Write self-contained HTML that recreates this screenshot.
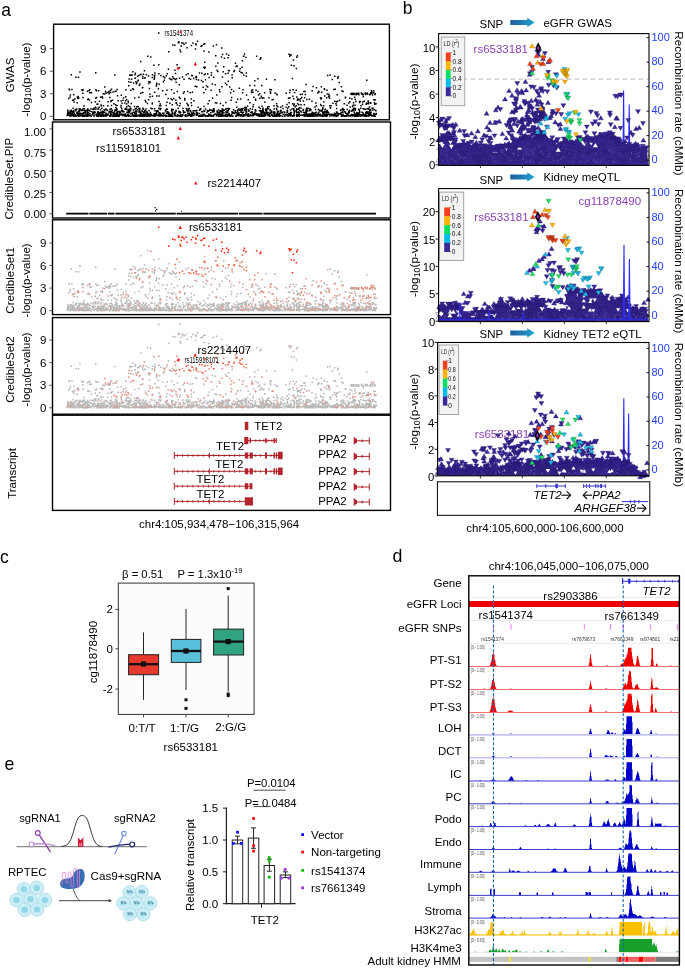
<!DOCTYPE html><html><head><meta charset="utf-8"><style>html,body{margin:0;padding:0;background:#fff;}svg{display:block;will-change:transform;}text{font-family:"Liberation Sans",sans-serif;}</style></head><body>
<svg width="685" height="969" viewBox="0 0 685 969">
<rect width="685" height="969" fill="#fff"/>
<text x="1.2" y="16.0" font-size="17.5" text-anchor="start" fill="#000" >a</text>
<path d="M166.4 115.3h1.5v1.5h-1.5zM232.1 115.2h1.5v1.5h-1.5zM223.3 115.2h1.5v1.5h-1.5zM200.4 114.3h1.5v1.5h-1.5zM322.3 114.8h1.5v1.5h-1.5zM135.2 107.8h1.5v1.5h-1.5zM244.9 107.6h1.5v1.5h-1.5zM80.4 114.9h1.5v1.5h-1.5zM102.5 114.8h1.5v1.5h-1.5zM319.0 113.8h1.5v1.5h-1.5zM181.4 115.1h1.5v1.5h-1.5zM84.5 114.6h1.5v1.5h-1.5zM276.9 113.1h1.5v1.5h-1.5zM247.5 113.2h1.5v1.5h-1.5zM312.3 113.6h1.5v1.5h-1.5zM244.1 108.4h1.5v1.5h-1.5zM292.1 114.9h1.5v1.5h-1.5zM195.6 114.4h1.5v1.5h-1.5zM217.6 115.6h1.5v1.5h-1.5zM273.1 110.9h1.5v1.5h-1.5zM337.4 115.0h1.5v1.5h-1.5zM245.8 108.7h1.5v1.5h-1.5zM358.9 110.2h1.5v1.5h-1.5zM84.8 110.3h1.5v1.5h-1.5zM373.9 109.0h1.5v1.5h-1.5zM154.2 110.1h1.5v1.5h-1.5zM73.0 114.3h1.5v1.5h-1.5zM102.3 115.6h1.5v1.5h-1.5zM142.8 108.4h1.5v1.5h-1.5zM91.0 111.1h1.5v1.5h-1.5zM339.8 112.9h1.5v1.5h-1.5zM333.8 114.4h1.5v1.5h-1.5zM340.1 113.1h1.5v1.5h-1.5zM112.8 115.5h1.5v1.5h-1.5zM216.3 113.5h1.5v1.5h-1.5zM67.3 112.6h1.5v1.5h-1.5zM241.6 111.8h1.5v1.5h-1.5zM280.1 110.5h1.5v1.5h-1.5zM275.6 113.5h1.5v1.5h-1.5zM337.1 112.4h1.5v1.5h-1.5zM189.7 114.1h1.5v1.5h-1.5zM262.6 114.7h1.5v1.5h-1.5zM116.3 115.2h1.5v1.5h-1.5zM82.3 115.2h1.5v1.5h-1.5zM178.7 115.1h1.5v1.5h-1.5zM337.0 114.4h1.5v1.5h-1.5zM144.2 115.1h1.5v1.5h-1.5zM329.2 113.6h1.5v1.5h-1.5zM210.5 114.9h1.5v1.5h-1.5zM97.7 115.4h1.5v1.5h-1.5zM116.0 112.8h1.5v1.5h-1.5zM360.8 114.4h1.5v1.5h-1.5zM234.4 111.5h1.5v1.5h-1.5zM333.6 113.5h1.5v1.5h-1.5zM179.7 114.9h1.5v1.5h-1.5zM305.3 109.2h1.5v1.5h-1.5zM168.2 114.0h1.5v1.5h-1.5zM330.3 105.1h1.5v1.5h-1.5zM319.7 113.8h1.5v1.5h-1.5zM226.5 115.4h1.5v1.5h-1.5zM74.7 115.5h1.5v1.5h-1.5zM362.5 107.9h1.5v1.5h-1.5zM372.3 107.6h1.5v1.5h-1.5zM179.0 115.5h1.5v1.5h-1.5zM129.4 108.2h1.5v1.5h-1.5zM326.5 110.2h1.5v1.5h-1.5zM313.9 114.7h1.5v1.5h-1.5zM270.8 113.9h1.5v1.5h-1.5zM214.2 113.2h1.5v1.5h-1.5zM310.6 114.4h1.5v1.5h-1.5zM188.7 107.8h1.5v1.5h-1.5zM290.7 111.8h1.5v1.5h-1.5zM105.4 113.4h1.5v1.5h-1.5zM111.3 110.3h1.5v1.5h-1.5zM369.9 112.8h1.5v1.5h-1.5zM236.1 111.7h1.5v1.5h-1.5zM267.4 107.9h1.5v1.5h-1.5zM200.5 114.4h1.5v1.5h-1.5zM322.1 115.6h1.5v1.5h-1.5zM140.6 113.5h1.5v1.5h-1.5zM195.9 114.4h1.5v1.5h-1.5zM348.1 111.9h1.5v1.5h-1.5zM246.8 105.3h1.5v1.5h-1.5zM221.5 111.3h1.5v1.5h-1.5zM71.8 114.1h1.5v1.5h-1.5zM67.2 114.2h1.5v1.5h-1.5zM212.8 111.0h1.5v1.5h-1.5zM167.1 111.1h1.5v1.5h-1.5zM309.1 114.0h1.5v1.5h-1.5zM239.7 115.2h1.5v1.5h-1.5zM223.4 109.4h1.5v1.5h-1.5zM348.9 110.6h1.5v1.5h-1.5zM222.7 109.9h1.5v1.5h-1.5zM206.2 111.7h1.5v1.5h-1.5zM357.9 108.4h1.5v1.5h-1.5zM358.1 113.1h1.5v1.5h-1.5zM239.4 114.1h1.5v1.5h-1.5zM103.7 115.0h1.5v1.5h-1.5zM140.6 115.0h1.5v1.5h-1.5zM273.5 108.2h1.5v1.5h-1.5zM113.9 110.2h1.5v1.5h-1.5zM110.3 112.0h1.5v1.5h-1.5zM361.3 111.6h1.5v1.5h-1.5zM372.9 114.9h1.5v1.5h-1.5zM116.1 111.4h1.5v1.5h-1.5zM171.1 114.6h1.5v1.5h-1.5zM72.0 112.0h1.5v1.5h-1.5zM71.6 113.5h1.5v1.5h-1.5zM259.4 115.1h1.5v1.5h-1.5zM371.4 107.6h1.5v1.5h-1.5zM98.5 113.1h1.5v1.5h-1.5zM149.8 115.0h1.5v1.5h-1.5zM196.9 113.9h1.5v1.5h-1.5zM112.3 112.0h1.5v1.5h-1.5zM242.9 114.9h1.5v1.5h-1.5zM83.8 112.1h1.5v1.5h-1.5zM88.4 109.4h1.5v1.5h-1.5zM92.0 108.6h1.5v1.5h-1.5zM86.7 111.1h1.5v1.5h-1.5zM237.4 114.3h1.5v1.5h-1.5zM149.0 114.6h1.5v1.5h-1.5zM99.9 115.5h1.5v1.5h-1.5zM81.6 115.2h1.5v1.5h-1.5zM301.4 114.5h1.5v1.5h-1.5zM221.0 115.5h1.5v1.5h-1.5zM143.6 115.4h1.5v1.5h-1.5zM293.3 114.1h1.5v1.5h-1.5zM213.2 108.0h1.5v1.5h-1.5zM200.0 108.7h1.5v1.5h-1.5zM187.9 110.0h1.5v1.5h-1.5zM370.6 113.9h1.5v1.5h-1.5zM324.0 110.4h1.5v1.5h-1.5zM191.5 114.9h1.5v1.5h-1.5zM87.9 113.5h1.5v1.5h-1.5zM116.6 115.4h1.5v1.5h-1.5zM326.8 113.6h1.5v1.5h-1.5zM141.1 114.6h1.5v1.5h-1.5zM208.4 114.5h1.5v1.5h-1.5zM364.2 114.3h1.5v1.5h-1.5zM235.6 114.4h1.5v1.5h-1.5zM176.5 115.4h1.5v1.5h-1.5zM184.3 111.5h1.5v1.5h-1.5zM128.3 115.6h1.5v1.5h-1.5zM147.9 115.3h1.5v1.5h-1.5zM73.0 115.4h1.5v1.5h-1.5zM138.2 111.3h1.5v1.5h-1.5zM298.7 109.7h1.5v1.5h-1.5zM338.5 113.0h1.5v1.5h-1.5zM371.3 115.3h1.5v1.5h-1.5zM79.6 108.2h1.5v1.5h-1.5zM342.5 109.6h1.5v1.5h-1.5zM317.8 113.9h1.5v1.5h-1.5zM324.8 114.7h1.5v1.5h-1.5zM322.2 108.3h1.5v1.5h-1.5zM277.7 113.7h1.5v1.5h-1.5zM75.7 115.2h1.5v1.5h-1.5zM325.1 110.5h1.5v1.5h-1.5zM260.1 111.6h1.5v1.5h-1.5zM67.0 109.5h1.5v1.5h-1.5zM221.9 110.2h1.5v1.5h-1.5zM86.5 113.6h1.5v1.5h-1.5zM89.1 115.1h1.5v1.5h-1.5zM292.1 115.4h1.5v1.5h-1.5zM219.1 111.7h1.5v1.5h-1.5zM277.9 110.5h1.5v1.5h-1.5zM265.3 111.6h1.5v1.5h-1.5zM111.7 115.6h1.5v1.5h-1.5zM242.0 114.4h1.5v1.5h-1.5zM84.8 114.6h1.5v1.5h-1.5zM275.5 113.6h1.5v1.5h-1.5zM226.1 111.8h1.5v1.5h-1.5zM102.7 111.1h1.5v1.5h-1.5zM356.2 111.7h1.5v1.5h-1.5zM208.3 110.0h1.5v1.5h-1.5zM149.3 115.3h1.5v1.5h-1.5zM359.1 114.9h1.5v1.5h-1.5zM228.5 114.2h1.5v1.5h-1.5zM107.1 105.1h1.5v1.5h-1.5zM284.0 115.5h1.5v1.5h-1.5zM344.3 115.4h1.5v1.5h-1.5zM67.1 111.9h1.5v1.5h-1.5zM159.6 114.9h1.5v1.5h-1.5zM326.5 114.6h1.5v1.5h-1.5zM298.7 106.9h1.5v1.5h-1.5zM287.0 107.4h1.5v1.5h-1.5zM155.8 112.4h1.5v1.5h-1.5zM375.6 112.7h1.5v1.5h-1.5zM198.7 115.0h1.5v1.5h-1.5zM324.7 115.4h1.5v1.5h-1.5zM356.0 115.5h1.5v1.5h-1.5zM124.9 107.7h1.5v1.5h-1.5zM340.1 109.4h1.5v1.5h-1.5zM261.6 109.5h1.5v1.5h-1.5zM289.1 115.0h1.5v1.5h-1.5zM293.0 109.4h1.5v1.5h-1.5zM265.8 112.4h1.5v1.5h-1.5zM105.5 112.8h1.5v1.5h-1.5zM158.3 107.6h1.5v1.5h-1.5zM146.7 113.2h1.5v1.5h-1.5zM238.8 114.3h1.5v1.5h-1.5zM116.1 114.6h1.5v1.5h-1.5zM346.8 113.8h1.5v1.5h-1.5zM346.9 112.9h1.5v1.5h-1.5zM125.6 115.4h1.5v1.5h-1.5zM172.0 115.6h1.5v1.5h-1.5zM242.6 111.6h1.5v1.5h-1.5zM298.4 112.2h1.5v1.5h-1.5zM228.5 112.9h1.5v1.5h-1.5zM85.2 114.9h1.5v1.5h-1.5zM222.1 108.5h1.5v1.5h-1.5zM132.9 115.5h1.5v1.5h-1.5zM143.0 112.0h1.5v1.5h-1.5zM361.7 114.9h1.5v1.5h-1.5zM76.0 108.2h1.5v1.5h-1.5zM212.7 115.6h1.5v1.5h-1.5zM187.4 114.9h1.5v1.5h-1.5zM321.9 111.7h1.5v1.5h-1.5zM99.8 115.5h1.5v1.5h-1.5zM227.9 107.9h1.5v1.5h-1.5zM289.7 109.3h1.5v1.5h-1.5zM207.8 115.3h1.5v1.5h-1.5zM308.5 113.8h1.5v1.5h-1.5zM160.2 114.6h1.5v1.5h-1.5zM144.1 109.9h1.5v1.5h-1.5zM100.8 113.7h1.5v1.5h-1.5zM186.3 115.3h1.5v1.5h-1.5zM252.3 115.1h1.5v1.5h-1.5zM363.3 108.3h1.5v1.5h-1.5zM213.3 114.1h1.5v1.5h-1.5zM142.6 114.4h1.5v1.5h-1.5zM72.8 110.1h1.5v1.5h-1.5zM196.2 114.4h1.5v1.5h-1.5zM272.9 115.4h1.5v1.5h-1.5zM170.8 110.0h1.5v1.5h-1.5zM127.4 109.5h1.5v1.5h-1.5zM222.5 115.3h1.5v1.5h-1.5zM366.7 115.2h1.5v1.5h-1.5zM134.6 113.2h1.5v1.5h-1.5zM361.1 114.1h1.5v1.5h-1.5zM135.2 110.1h1.5v1.5h-1.5zM360.1 114.7h1.5v1.5h-1.5zM188.0 114.8h1.5v1.5h-1.5zM82.1 115.5h1.5v1.5h-1.5zM187.9 109.3h1.5v1.5h-1.5zM375.2 109.9h1.5v1.5h-1.5zM168.1 113.4h1.5v1.5h-1.5zM75.9 112.5h1.5v1.5h-1.5zM181.9 114.7h1.5v1.5h-1.5zM118.5 115.4h1.5v1.5h-1.5zM362.2 114.3h1.5v1.5h-1.5zM364.9 113.9h1.5v1.5h-1.5zM320.8 115.2h1.5v1.5h-1.5zM212.8 108.0h1.5v1.5h-1.5zM125.8 108.2h1.5v1.5h-1.5zM75.4 108.9h1.5v1.5h-1.5zM303.7 113.5h1.5v1.5h-1.5zM76.8 114.6h1.5v1.5h-1.5zM297.7 113.7h1.5v1.5h-1.5zM171.1 113.6h1.5v1.5h-1.5zM147.3 113.0h1.5v1.5h-1.5zM151.4 115.1h1.5v1.5h-1.5zM300.3 107.3h1.5v1.5h-1.5zM73.5 113.0h1.5v1.5h-1.5zM213.3 110.7h1.5v1.5h-1.5zM143.8 111.6h1.5v1.5h-1.5zM353.7 115.2h1.5v1.5h-1.5zM314.8 108.8h1.5v1.5h-1.5zM305.6 112.9h1.5v1.5h-1.5zM165.1 109.2h1.5v1.5h-1.5zM90.5 115.6h1.5v1.5h-1.5zM86.1 114.5h1.5v1.5h-1.5zM237.3 112.6h1.5v1.5h-1.5zM372.2 115.3h1.5v1.5h-1.5zM92.1 113.3h1.5v1.5h-1.5zM204.6 115.6h1.5v1.5h-1.5zM195.2 110.1h1.5v1.5h-1.5zM297.9 114.3h1.5v1.5h-1.5zM326.7 115.0h1.5v1.5h-1.5zM241.7 109.5h1.5v1.5h-1.5zM127.7 115.6h1.5v1.5h-1.5zM340.1 113.0h1.5v1.5h-1.5zM188.8 112.6h1.5v1.5h-1.5zM223.3 114.9h1.5v1.5h-1.5zM373.2 113.6h1.5v1.5h-1.5zM213.2 109.4h1.5v1.5h-1.5zM78.5 112.8h1.5v1.5h-1.5zM103.0 113.7h1.5v1.5h-1.5zM354.4 108.5h1.5v1.5h-1.5zM205.2 115.3h1.5v1.5h-1.5zM307.1 110.1h1.5v1.5h-1.5zM258.2 114.4h1.5v1.5h-1.5zM180.3 115.3h1.5v1.5h-1.5zM251.8 114.0h1.5v1.5h-1.5zM69.5 114.5h1.5v1.5h-1.5zM276.3 115.3h1.5v1.5h-1.5zM312.5 115.1h1.5v1.5h-1.5zM97.4 111.1h1.5v1.5h-1.5zM264.1 114.7h1.5v1.5h-1.5zM116.7 112.3h1.5v1.5h-1.5zM153.8 114.4h1.5v1.5h-1.5zM241.6 112.2h1.5v1.5h-1.5zM333.9 114.3h1.5v1.5h-1.5zM178.8 115.5h1.5v1.5h-1.5zM67.8 112.1h1.5v1.5h-1.5zM197.4 106.6h1.5v1.5h-1.5zM208.9 113.9h1.5v1.5h-1.5zM70.6 110.4h1.5v1.5h-1.5zM348.0 114.6h1.5v1.5h-1.5zM222.4 114.6h1.5v1.5h-1.5zM153.8 108.0h1.5v1.5h-1.5zM99.7 109.0h1.5v1.5h-1.5zM365.7 113.1h1.5v1.5h-1.5zM368.4 115.2h1.5v1.5h-1.5zM353.1 108.2h1.5v1.5h-1.5zM258.3 106.6h1.5v1.5h-1.5zM115.7 113.8h1.5v1.5h-1.5zM191.4 114.1h1.5v1.5h-1.5zM133.6 111.4h1.5v1.5h-1.5zM184.9 114.8h1.5v1.5h-1.5zM142.6 108.2h1.5v1.5h-1.5zM78.7 109.4h1.5v1.5h-1.5zM77.8 110.4h1.5v1.5h-1.5zM236.5 113.1h1.5v1.5h-1.5zM196.2 112.1h1.5v1.5h-1.5zM270.2 112.0h1.5v1.5h-1.5zM73.2 111.6h1.5v1.5h-1.5zM138.9 109.2h1.5v1.5h-1.5zM208.1 114.3h1.5v1.5h-1.5zM212.7 114.5h1.5v1.5h-1.5zM94.4 111.4h1.5v1.5h-1.5zM78.6 115.0h1.5v1.5h-1.5zM293.4 111.4h1.5v1.5h-1.5zM82.8 112.5h1.5v1.5h-1.5zM360.8 114.5h1.5v1.5h-1.5zM331.7 114.6h1.5v1.5h-1.5zM126.0 106.0h1.5v1.5h-1.5zM218.5 112.9h1.5v1.5h-1.5zM310.4 114.1h1.5v1.5h-1.5zM86.3 109.4h1.5v1.5h-1.5zM115.2 114.1h1.5v1.5h-1.5zM110.5 108.0h1.5v1.5h-1.5zM130.6 112.9h1.5v1.5h-1.5zM222.9 114.7h1.5v1.5h-1.5zM116.0 114.9h1.5v1.5h-1.5zM276.7 111.1h1.5v1.5h-1.5zM101.7 110.4h1.5v1.5h-1.5zM177.5 107.6h1.5v1.5h-1.5zM238.1 108.3h1.5v1.5h-1.5zM98.4 112.0h1.5v1.5h-1.5zM313.3 114.6h1.5v1.5h-1.5zM373.1 112.7h1.5v1.5h-1.5zM303.0 114.2h1.5v1.5h-1.5zM296.5 115.2h1.5v1.5h-1.5zM264.2 112.0h1.5v1.5h-1.5zM247.6 113.1h1.5v1.5h-1.5zM66.6 114.4h1.5v1.5h-1.5zM200.0 108.2h1.5v1.5h-1.5zM106.9 114.0h1.5v1.5h-1.5zM268.5 114.2h1.5v1.5h-1.5zM99.0 113.8h1.5v1.5h-1.5zM246.9 114.0h1.5v1.5h-1.5zM259.4 114.5h1.5v1.5h-1.5zM356.3 115.6h1.5v1.5h-1.5zM112.3 113.7h1.5v1.5h-1.5zM308.5 113.5h1.5v1.5h-1.5zM69.6 111.0h1.5v1.5h-1.5zM174.6 112.0h1.5v1.5h-1.5zM356.5 113.6h1.5v1.5h-1.5zM346.1 113.3h1.5v1.5h-1.5zM230.8 113.7h1.5v1.5h-1.5zM84.1 115.5h1.5v1.5h-1.5zM236.8 113.5h1.5v1.5h-1.5zM254.5 110.3h1.5v1.5h-1.5zM318.1 114.9h1.5v1.5h-1.5zM161.9 112.6h1.5v1.5h-1.5zM308.7 115.6h1.5v1.5h-1.5zM327.8 111.8h1.5v1.5h-1.5zM295.9 113.8h1.5v1.5h-1.5zM98.6 114.7h1.5v1.5h-1.5zM78.0 115.6h1.5v1.5h-1.5zM328.1 113.4h1.5v1.5h-1.5zM237.7 109.1h1.5v1.5h-1.5zM228.2 113.3h1.5v1.5h-1.5zM265.0 113.4h1.5v1.5h-1.5zM70.7 112.6h1.5v1.5h-1.5zM139.2 107.8h1.5v1.5h-1.5zM297.3 114.7h1.5v1.5h-1.5zM140.1 112.4h1.5v1.5h-1.5zM261.5 110.1h1.5v1.5h-1.5zM369.5 108.7h1.5v1.5h-1.5zM282.3 107.8h1.5v1.5h-1.5zM242.8 114.7h1.5v1.5h-1.5zM131.7 115.0h1.5v1.5h-1.5zM348.3 114.9h1.5v1.5h-1.5zM354.0 115.5h1.5v1.5h-1.5zM110.0 113.4h1.5v1.5h-1.5zM262.5 109.6h1.5v1.5h-1.5zM86.4 112.6h1.5v1.5h-1.5zM319.4 113.6h1.5v1.5h-1.5zM342.3 113.4h1.5v1.5h-1.5zM358.7 113.2h1.5v1.5h-1.5zM129.8 112.8h1.5v1.5h-1.5zM317.7 108.8h1.5v1.5h-1.5zM261.8 115.0h1.5v1.5h-1.5zM97.0 115.6h1.5v1.5h-1.5zM164.9 115.5h1.5v1.5h-1.5zM145.6 114.6h1.5v1.5h-1.5zM287.9 113.0h1.5v1.5h-1.5zM364.8 108.6h1.5v1.5h-1.5zM257.7 114.3h1.5v1.5h-1.5zM305.6 114.8h1.5v1.5h-1.5zM284.4 113.9h1.5v1.5h-1.5zM333.3 115.3h1.5v1.5h-1.5zM66.4 114.8h1.5v1.5h-1.5zM302.3 109.5h1.5v1.5h-1.5zM218.4 114.1h1.5v1.5h-1.5zM219.3 115.6h1.5v1.5h-1.5zM323.9 114.5h1.5v1.5h-1.5zM132.6 111.5h1.5v1.5h-1.5zM100.1 115.0h1.5v1.5h-1.5zM310.3 109.1h1.5v1.5h-1.5zM260.7 112.3h1.5v1.5h-1.5zM188.3 114.2h1.5v1.5h-1.5zM92.7 112.1h1.5v1.5h-1.5zM147.6 115.1h1.5v1.5h-1.5zM221.4 108.3h1.5v1.5h-1.5zM138.4 111.3h1.5v1.5h-1.5zM299.9 110.3h1.5v1.5h-1.5zM174.0 114.0h1.5v1.5h-1.5zM271.3 114.2h1.5v1.5h-1.5zM202.0 110.9h1.5v1.5h-1.5zM105.1 108.3h1.5v1.5h-1.5zM139.8 113.3h1.5v1.5h-1.5zM159.5 108.7h1.5v1.5h-1.5zM113.9 115.6h1.5v1.5h-1.5zM227.9 114.3h1.5v1.5h-1.5zM167.7 113.3h1.5v1.5h-1.5zM97.6 114.3h1.5v1.5h-1.5zM97.5 107.5h1.5v1.5h-1.5zM312.4 112.1h1.5v1.5h-1.5zM126.8 114.8h1.5v1.5h-1.5zM130.0 115.4h1.5v1.5h-1.5zM189.7 109.9h1.5v1.5h-1.5zM221.2 111.8h1.5v1.5h-1.5zM110.0 112.3h1.5v1.5h-1.5zM295.7 109.4h1.5v1.5h-1.5zM298.2 113.8h1.5v1.5h-1.5zM289.9 112.7h1.5v1.5h-1.5zM306.0 108.6h1.5v1.5h-1.5zM276.7 111.9h1.5v1.5h-1.5zM163.0 114.8h1.5v1.5h-1.5zM196.1 109.8h1.5v1.5h-1.5zM261.2 114.2h1.5v1.5h-1.5zM258.7 110.1h1.5v1.5h-1.5zM354.4 114.9h1.5v1.5h-1.5zM268.9 112.4h1.5v1.5h-1.5zM217.9 109.2h1.5v1.5h-1.5zM115.9 107.9h1.5v1.5h-1.5zM227.0 115.2h1.5v1.5h-1.5zM244.1 109.7h1.5v1.5h-1.5zM224.8 108.8h1.5v1.5h-1.5zM227.7 107.8h1.5v1.5h-1.5zM131.1 112.4h1.5v1.5h-1.5zM302.4 114.2h1.5v1.5h-1.5zM83.6 115.5h1.5v1.5h-1.5zM189.9 114.3h1.5v1.5h-1.5zM282.5 113.5h1.5v1.5h-1.5zM135.6 107.9h1.5v1.5h-1.5zM229.4 114.9h1.5v1.5h-1.5zM314.5 113.9h1.5v1.5h-1.5zM106.1 109.0h1.5v1.5h-1.5zM262.6 111.0h1.5v1.5h-1.5zM136.1 111.1h1.5v1.5h-1.5zM319.8 109.7h1.5v1.5h-1.5zM211.1 114.9h1.5v1.5h-1.5zM324.5 108.6h1.5v1.5h-1.5zM148.9 113.6h1.5v1.5h-1.5zM198.1 115.4h1.5v1.5h-1.5zM66.8 113.3h1.5v1.5h-1.5zM141.9 114.1h1.5v1.5h-1.5zM263.6 112.7h1.5v1.5h-1.5zM353.9 114.9h1.5v1.5h-1.5zM83.7 108.0h1.5v1.5h-1.5zM109.5 110.5h1.5v1.5h-1.5zM262.3 112.0h1.5v1.5h-1.5zM269.3 115.4h1.5v1.5h-1.5zM97.5 115.4h1.5v1.5h-1.5zM173.4 113.1h1.5v1.5h-1.5zM346.3 114.3h1.5v1.5h-1.5zM342.3 109.2h1.5v1.5h-1.5zM273.2 113.3h1.5v1.5h-1.5zM127.2 111.3h1.5v1.5h-1.5zM296.0 108.3h1.5v1.5h-1.5zM238.1 112.9h1.5v1.5h-1.5zM138.6 115.1h1.5v1.5h-1.5zM210.8 115.6h1.5v1.5h-1.5zM218.3 111.2h1.5v1.5h-1.5zM333.5 114.7h1.5v1.5h-1.5zM240.4 108.7h1.5v1.5h-1.5zM182.2 107.7h1.5v1.5h-1.5zM89.4 110.4h1.5v1.5h-1.5zM74.8 110.0h1.5v1.5h-1.5zM354.8 114.2h1.5v1.5h-1.5zM370.3 111.6h1.5v1.5h-1.5zM344.2 115.2h1.5v1.5h-1.5zM171.0 108.4h1.5v1.5h-1.5zM179.5 111.3h1.5v1.5h-1.5zM304.9 114.2h1.5v1.5h-1.5zM237.7 113.5h1.5v1.5h-1.5zM156.8 110.5h1.5v1.5h-1.5zM150.2 107.6h1.5v1.5h-1.5zM268.9 112.9h1.5v1.5h-1.5zM164.3 114.6h1.5v1.5h-1.5zM247.8 109.2h1.5v1.5h-1.5zM78.4 108.3h1.5v1.5h-1.5zM235.1 115.6h1.5v1.5h-1.5zM124.9 115.1h1.5v1.5h-1.5zM254.7 109.1h1.5v1.5h-1.5zM348.0 110.5h1.5v1.5h-1.5zM260.3 110.7h1.5v1.5h-1.5zM277.1 114.8h1.5v1.5h-1.5zM302.4 114.2h1.5v1.5h-1.5zM122.2 115.1h1.5v1.5h-1.5zM269.3 108.8h1.5v1.5h-1.5zM309.8 113.5h1.5v1.5h-1.5zM159.6 113.0h1.5v1.5h-1.5zM199.5 107.9h1.5v1.5h-1.5zM82.9 115.3h1.5v1.5h-1.5zM102.8 105.1h1.5v1.5h-1.5zM244.3 114.8h1.5v1.5h-1.5zM186.0 107.9h1.5v1.5h-1.5zM370.0 112.2h1.5v1.5h-1.5zM97.6 113.9h1.5v1.5h-1.5zM113.0 115.6h1.5v1.5h-1.5zM67.5 114.6h1.5v1.5h-1.5zM365.6 115.1h1.5v1.5h-1.5zM71.5 113.6h1.5v1.5h-1.5zM293.4 115.1h1.5v1.5h-1.5zM81.5 109.7h1.5v1.5h-1.5zM331.2 115.0h1.5v1.5h-1.5zM260.9 111.8h1.5v1.5h-1.5zM355.0 113.3h1.5v1.5h-1.5zM69.5 115.1h1.5v1.5h-1.5zM267.7 111.7h1.5v1.5h-1.5zM292.1 115.0h1.5v1.5h-1.5zM332.9 115.2h1.5v1.5h-1.5zM179.9 112.0h1.5v1.5h-1.5zM275.8 115.2h1.5v1.5h-1.5zM265.9 112.2h1.5v1.5h-1.5zM185.6 107.8h1.5v1.5h-1.5zM309.2 113.2h1.5v1.5h-1.5zM84.8 110.9h1.5v1.5h-1.5zM284.0 112.1h1.5v1.5h-1.5zM369.0 109.4h1.5v1.5h-1.5zM252.4 112.8h1.5v1.5h-1.5zM182.8 110.7h1.5v1.5h-1.5zM343.8 110.9h1.5v1.5h-1.5zM153.8 115.5h1.5v1.5h-1.5zM247.9 110.2h1.5v1.5h-1.5zM341.1 114.3h1.5v1.5h-1.5zM334.8 113.4h1.5v1.5h-1.5zM329.9 107.3h1.5v1.5h-1.5zM278.2 114.4h1.5v1.5h-1.5zM237.6 114.0h1.5v1.5h-1.5zM298.6 113.8h1.5v1.5h-1.5zM138.5 110.0h1.5v1.5h-1.5zM210.3 115.6h1.5v1.5h-1.5zM311.4 114.9h1.5v1.5h-1.5zM316.0 113.7h1.5v1.5h-1.5zM245.7 106.9h1.5v1.5h-1.5zM340.4 111.7h1.5v1.5h-1.5zM248.7 115.3h1.5v1.5h-1.5zM283.3 111.0h1.5v1.5h-1.5zM190.8 114.4h1.5v1.5h-1.5zM79.8 112.5h1.5v1.5h-1.5zM182.0 113.9h1.5v1.5h-1.5zM114.4 112.8h1.5v1.5h-1.5zM227.0 113.7h1.5v1.5h-1.5zM76.4 111.6h1.5v1.5h-1.5zM241.8 114.4h1.5v1.5h-1.5zM307.5 107.8h1.5v1.5h-1.5zM303.8 111.7h1.5v1.5h-1.5zM77.7 115.4h1.5v1.5h-1.5zM122.0 113.8h1.5v1.5h-1.5zM335.9 107.8h1.5v1.5h-1.5zM348.1 115.0h1.5v1.5h-1.5zM251.4 114.7h1.5v1.5h-1.5zM363.4 113.7h1.5v1.5h-1.5zM362.5 112.4h1.5v1.5h-1.5zM205.0 114.8h1.5v1.5h-1.5zM365.4 115.4h1.5v1.5h-1.5zM145.3 108.2h1.5v1.5h-1.5zM346.4 114.2h1.5v1.5h-1.5zM80.6 109.8h1.5v1.5h-1.5zM266.5 112.9h1.5v1.5h-1.5zM300.0 114.6h1.5v1.5h-1.5zM275.8 113.5h1.5v1.5h-1.5zM98.7 114.3h1.5v1.5h-1.5zM145.7 114.7h1.5v1.5h-1.5zM139.9 115.5h1.5v1.5h-1.5zM276.1 115.4h1.5v1.5h-1.5zM77.2 112.3h1.5v1.5h-1.5zM134.4 108.3h1.5v1.5h-1.5zM109.3 114.8h1.5v1.5h-1.5zM353.9 107.5h1.5v1.5h-1.5zM260.8 112.8h1.5v1.5h-1.5zM321.1 110.5h1.5v1.5h-1.5zM110.3 113.4h1.5v1.5h-1.5zM237.5 114.8h1.5v1.5h-1.5zM335.9 114.9h1.5v1.5h-1.5zM150.0 114.0h1.5v1.5h-1.5zM169.7 114.3h1.5v1.5h-1.5zM346.0 115.6h1.5v1.5h-1.5zM369.4 113.9h1.5v1.5h-1.5zM131.5 113.3h1.5v1.5h-1.5zM145.9 114.3h1.5v1.5h-1.5zM178.9 105.1h1.5v1.5h-1.5zM96.2 115.6h1.5v1.5h-1.5zM343.8 115.5h1.5v1.5h-1.5zM369.4 114.4h1.5v1.5h-1.5zM316.2 115.6h1.5v1.5h-1.5zM324.0 114.1h1.5v1.5h-1.5zM200.9 115.4h1.5v1.5h-1.5zM133.7 114.5h1.5v1.5h-1.5zM121.8 109.8h1.5v1.5h-1.5zM127.0 113.9h1.5v1.5h-1.5zM219.6 114.6h1.5v1.5h-1.5zM129.9 109.8h1.5v1.5h-1.5zM317.6 114.0h1.5v1.5h-1.5zM86.4 112.3h1.5v1.5h-1.5zM289.7 115.1h1.5v1.5h-1.5zM327.0 111.2h1.5v1.5h-1.5zM218.8 114.2h1.5v1.5h-1.5zM336.3 114.7h1.5v1.5h-1.5zM123.7 113.5h1.5v1.5h-1.5zM181.1 115.6h1.5v1.5h-1.5zM227.1 111.4h1.5v1.5h-1.5zM103.4 108.9h1.5v1.5h-1.5zM334.3 115.0h1.5v1.5h-1.5zM286.5 109.4h1.5v1.5h-1.5zM85.0 109.8h1.5v1.5h-1.5zM225.1 111.2h1.5v1.5h-1.5zM72.4 113.9h1.5v1.5h-1.5zM135.3 114.7h1.5v1.5h-1.5zM319.3 115.0h1.5v1.5h-1.5zM95.9 114.0h1.5v1.5h-1.5zM71.5 110.9h1.5v1.5h-1.5zM228.1 114.8h1.5v1.5h-1.5zM335.6 115.3h1.5v1.5h-1.5zM104.1 111.5h1.5v1.5h-1.5zM152.7 115.0h1.5v1.5h-1.5zM249.5 114.1h1.5v1.5h-1.5zM111.6 109.5h1.5v1.5h-1.5zM116.9 110.8h1.5v1.5h-1.5zM196.4 113.7h1.5v1.5h-1.5zM228.9 107.9h1.5v1.5h-1.5zM306.8 115.6h1.5v1.5h-1.5zM201.0 110.9h1.5v1.5h-1.5zM315.4 111.6h1.5v1.5h-1.5zM82.6 107.7h1.5v1.5h-1.5zM355.6 113.0h1.5v1.5h-1.5zM196.9 112.6h1.5v1.5h-1.5zM230.5 114.0h1.5v1.5h-1.5zM72.5 114.9h1.5v1.5h-1.5zM366.6 107.9h1.5v1.5h-1.5zM262.3 107.5h1.5v1.5h-1.5zM76.7 113.5h1.5v1.5h-1.5zM276.3 113.6h1.5v1.5h-1.5zM234.1 112.8h1.5v1.5h-1.5zM227.3 107.8h1.5v1.5h-1.5zM155.1 114.9h1.5v1.5h-1.5zM266.7 112.5h1.5v1.5h-1.5zM225.3 113.6h1.5v1.5h-1.5zM210.6 114.4h1.5v1.5h-1.5zM104.4 115.2h1.5v1.5h-1.5zM155.4 114.2h1.5v1.5h-1.5zM93.2 108.7h1.5v1.5h-1.5zM255.1 110.3h1.5v1.5h-1.5zM128.4 111.8h1.5v1.5h-1.5zM235.9 111.8h1.5v1.5h-1.5zM162.3 115.3h1.5v1.5h-1.5zM184.8 115.6h1.5v1.5h-1.5zM175.3 109.4h1.5v1.5h-1.5zM139.9 111.6h1.5v1.5h-1.5zM154.3 113.1h1.5v1.5h-1.5zM115.2 113.2h1.5v1.5h-1.5zM336.1 115.1h1.5v1.5h-1.5zM186.2 109.6h1.5v1.5h-1.5zM99.9 113.3h1.5v1.5h-1.5zM113.9 115.0h1.5v1.5h-1.5zM175.3 110.6h1.5v1.5h-1.5zM329.5 107.1h1.5v1.5h-1.5zM296.4 111.7h1.5v1.5h-1.5zM309.3 108.1h1.5v1.5h-1.5zM105.5 114.7h1.5v1.5h-1.5zM67.3 110.8h1.5v1.5h-1.5zM220.3 110.7h1.5v1.5h-1.5zM308.9 113.3h1.5v1.5h-1.5zM254.3 111.9h1.5v1.5h-1.5zM207.9 113.2h1.5v1.5h-1.5zM187.1 112.5h1.5v1.5h-1.5zM165.8 108.6h1.5v1.5h-1.5zM220.9 114.1h1.5v1.5h-1.5zM160.3 113.9h1.5v1.5h-1.5zM93.3 112.5h1.5v1.5h-1.5zM166.4 108.7h1.5v1.5h-1.5zM129.3 108.1h1.5v1.5h-1.5zM69.3 112.4h1.5v1.5h-1.5zM241.1 108.0h1.5v1.5h-1.5zM305.8 107.4h1.5v1.5h-1.5zM226.4 110.0h1.5v1.5h-1.5zM186.8 110.7h1.5v1.5h-1.5zM174.8 112.8h1.5v1.5h-1.5zM96.7 112.3h1.5v1.5h-1.5zM240.0 108.4h1.5v1.5h-1.5zM365.0 112.0h1.5v1.5h-1.5zM259.6 109.9h1.5v1.5h-1.5zM172.4 108.9h1.5v1.5h-1.5zM118.9 112.9h1.5v1.5h-1.5zM224.9 115.3h1.5v1.5h-1.5zM343.3 108.9h1.5v1.5h-1.5zM373.0 113.0h1.5v1.5h-1.5zM155.9 111.5h1.5v1.5h-1.5zM124.3 115.2h1.5v1.5h-1.5zM261.3 112.7h1.5v1.5h-1.5zM374.1 115.3h1.5v1.5h-1.5zM193.5 113.1h1.5v1.5h-1.5zM280.1 114.7h1.5v1.5h-1.5zM247.7 114.0h1.5v1.5h-1.5zM220.3 113.4h1.5v1.5h-1.5zM266.5 107.4h1.5v1.5h-1.5zM244.1 114.6h1.5v1.5h-1.5zM114.6 114.8h1.5v1.5h-1.5zM97.0 112.9h1.5v1.5h-1.5zM228.0 108.4h1.5v1.5h-1.5zM85.3 113.9h1.5v1.5h-1.5zM304.9 115.3h1.5v1.5h-1.5zM118.5 114.3h1.5v1.5h-1.5zM96.8 111.4h1.5v1.5h-1.5zM205.4 115.2h1.5v1.5h-1.5zM342.1 107.7h1.5v1.5h-1.5zM202.3 113.6h1.5v1.5h-1.5zM79.6 113.2h1.5v1.5h-1.5zM331.0 113.4h1.5v1.5h-1.5zM160.1 107.7h1.5v1.5h-1.5zM219.6 109.9h1.5v1.5h-1.5zM141.3 109.7h1.5v1.5h-1.5zM134.6 114.4h1.5v1.5h-1.5zM311.8 114.4h1.5v1.5h-1.5zM119.8 114.1h1.5v1.5h-1.5zM367.2 115.0h1.5v1.5h-1.5zM231.5 112.3h1.5v1.5h-1.5zM86.3 115.4h1.5v1.5h-1.5zM322.0 113.6h1.5v1.5h-1.5zM125.3 115.6h1.5v1.5h-1.5zM271.9 115.3h1.5v1.5h-1.5zM114.3 114.9h1.5v1.5h-1.5zM149.6 111.7h1.5v1.5h-1.5zM325.3 111.6h1.5v1.5h-1.5zM115.4 109.7h1.5v1.5h-1.5zM182.8 112.3h1.5v1.5h-1.5zM222.5 112.1h1.5v1.5h-1.5zM206.3 115.3h1.5v1.5h-1.5zM344.9 112.6h1.5v1.5h-1.5zM142.3 113.9h1.5v1.5h-1.5zM336.4 114.5h1.5v1.5h-1.5zM225.0 113.4h1.5v1.5h-1.5zM305.2 110.2h1.5v1.5h-1.5zM242.0 115.2h1.5v1.5h-1.5zM120.9 114.2h1.5v1.5h-1.5zM165.5 114.7h1.5v1.5h-1.5zM240.2 111.5h1.5v1.5h-1.5zM158.1 115.2h1.5v1.5h-1.5zM105.1 113.3h1.5v1.5h-1.5zM191.0 112.2h1.5v1.5h-1.5zM306.2 113.8h1.5v1.5h-1.5zM151.7 115.0h1.5v1.5h-1.5zM276.7 112.7h1.5v1.5h-1.5zM193.9 109.9h1.5v1.5h-1.5zM143.0 111.2h1.5v1.5h-1.5zM122.3 114.0h1.5v1.5h-1.5zM348.9 109.8h1.5v1.5h-1.5zM78.5 115.1h1.5v1.5h-1.5zM160.0 115.3h1.5v1.5h-1.5zM162.4 114.2h1.5v1.5h-1.5zM326.2 109.7h1.5v1.5h-1.5zM145.0 110.0h1.5v1.5h-1.5zM174.2 114.8h1.5v1.5h-1.5zM324.6 113.3h1.5v1.5h-1.5zM79.3 114.4h1.5v1.5h-1.5zM141.8 115.4h1.5v1.5h-1.5zM311.3 113.5h1.5v1.5h-1.5zM92.7 112.4h1.5v1.5h-1.5zM297.7 111.2h1.5v1.5h-1.5zM153.2 114.2h1.5v1.5h-1.5zM354.4 109.5h1.5v1.5h-1.5zM323.3 111.9h1.5v1.5h-1.5zM82.8 112.1h1.5v1.5h-1.5zM224.7 113.8h1.5v1.5h-1.5zM105.6 115.3h1.5v1.5h-1.5zM283.8 115.2h1.5v1.5h-1.5zM366.5 111.2h1.5v1.5h-1.5zM143.4 113.8h1.5v1.5h-1.5zM176.9 114.0h1.5v1.5h-1.5zM162.3 115.1h1.5v1.5h-1.5zM139.7 113.5h1.5v1.5h-1.5zM225.8 107.9h1.5v1.5h-1.5zM175.0 115.0h1.5v1.5h-1.5zM240.6 115.1h1.5v1.5h-1.5zM318.8 109.4h1.5v1.5h-1.5zM118.5 110.7h1.5v1.5h-1.5zM209.0 108.8h1.5v1.5h-1.5zM101.5 115.0h1.5v1.5h-1.5zM84.7 114.9h1.5v1.5h-1.5zM127.1 111.9h1.5v1.5h-1.5zM101.0 114.2h1.5v1.5h-1.5zM118.1 115.4h1.5v1.5h-1.5zM69.4 115.6h1.5v1.5h-1.5zM288.3 113.4h1.5v1.5h-1.5zM240.7 114.0h1.5v1.5h-1.5zM124.8 115.6h1.5v1.5h-1.5zM351.1 110.5h1.5v1.5h-1.5zM355.9 113.6h1.5v1.5h-1.5zM142.3 115.5h1.5v1.5h-1.5zM74.6 108.7h1.5v1.5h-1.5zM157.9 113.8h1.5v1.5h-1.5zM353.3 113.4h1.5v1.5h-1.5zM309.2 115.4h1.5v1.5h-1.5zM123.2 111.0h1.5v1.5h-1.5zM165.2 111.1h1.5v1.5h-1.5zM180.5 115.5h1.5v1.5h-1.5zM241.7 108.9h1.5v1.5h-1.5zM284.7 114.1h1.5v1.5h-1.5zM358.9 111.5h1.5v1.5h-1.5zM114.8 115.1h1.5v1.5h-1.5zM279.3 115.3h1.5v1.5h-1.5zM203.4 114.4h1.5v1.5h-1.5zM202.2 115.4h1.5v1.5h-1.5zM290.1 114.1h1.5v1.5h-1.5zM309.9 113.3h1.5v1.5h-1.5zM271.1 112.2h1.5v1.5h-1.5zM171.0 110.1h1.5v1.5h-1.5zM322.1 106.9h1.5v1.5h-1.5zM117.0 113.8h1.5v1.5h-1.5zM173.9 115.0h1.5v1.5h-1.5zM92.4 111.8h1.5v1.5h-1.5zM347.7 112.2h1.5v1.5h-1.5zM368.1 108.6h1.5v1.5h-1.5zM84.6 110.6h1.5v1.5h-1.5zM158.1 107.8h1.5v1.5h-1.5zM215.0 113.2h1.5v1.5h-1.5zM172.5 109.1h1.5v1.5h-1.5zM74.6 114.9h1.5v1.5h-1.5zM92.4 112.6h1.5v1.5h-1.5zM246.0 111.3h1.5v1.5h-1.5zM241.1 114.7h1.5v1.5h-1.5zM122.0 110.5h1.5v1.5h-1.5zM235.9 114.9h1.5v1.5h-1.5zM95.4 113.6h1.5v1.5h-1.5zM217.7 113.8h1.5v1.5h-1.5zM243.5 114.8h1.5v1.5h-1.5zM225.1 115.0h1.5v1.5h-1.5zM192.5 112.9h1.5v1.5h-1.5zM236.7 109.4h1.5v1.5h-1.5zM101.5 111.8h1.5v1.5h-1.5zM289.7 114.9h1.5v1.5h-1.5zM119.1 111.1h1.5v1.5h-1.5zM240.5 114.5h1.5v1.5h-1.5zM306.6 115.5h1.5v1.5h-1.5zM70.7 113.9h1.5v1.5h-1.5zM159.0 112.1h1.5v1.5h-1.5zM341.5 108.4h1.5v1.5h-1.5zM240.5 110.6h1.5v1.5h-1.5zM335.9 115.6h1.5v1.5h-1.5zM302.7 108.8h1.5v1.5h-1.5zM104.0 109.6h1.5v1.5h-1.5zM359.9 115.3h1.5v1.5h-1.5zM253.2 114.3h1.5v1.5h-1.5zM236.1 106.6h1.5v1.5h-1.5zM275.3 113.4h1.5v1.5h-1.5zM125.9 108.7h1.5v1.5h-1.5zM246.2 114.9h1.5v1.5h-1.5zM314.2 115.6h1.5v1.5h-1.5zM237.8 115.1h1.5v1.5h-1.5zM110.7 110.9h1.5v1.5h-1.5zM232.9 109.0h1.5v1.5h-1.5zM360.1 115.2h1.5v1.5h-1.5zM221.6 113.1h1.5v1.5h-1.5zM314.1 114.5h1.5v1.5h-1.5zM276.6 111.7h1.5v1.5h-1.5zM115.1 106.8h1.5v1.5h-1.5zM188.0 114.0h1.5v1.5h-1.5zM168.1 115.3h1.5v1.5h-1.5zM343.1 115.3h1.5v1.5h-1.5zM118.6 111.8h1.5v1.5h-1.5zM244.9 112.7h1.5v1.5h-1.5zM67.9 112.9h1.5v1.5h-1.5zM72.4 107.5h1.5v1.5h-1.5zM80.1 115.1h1.5v1.5h-1.5zM150.7 113.5h1.5v1.5h-1.5zM242.4 107.7h1.5v1.5h-1.5zM373.6 114.6h1.5v1.5h-1.5zM239.8 108.4h1.5v1.5h-1.5zM306.0 110.4h1.5v1.5h-1.5zM178.5 114.8h1.5v1.5h-1.5zM357.0 113.1h1.5v1.5h-1.5zM302.6 111.4h1.5v1.5h-1.5zM262.9 111.1h1.5v1.5h-1.5zM191.8 112.7h1.5v1.5h-1.5zM170.5 113.9h1.5v1.5h-1.5zM179.9 115.5h1.5v1.5h-1.5zM138.8 115.5h1.5v1.5h-1.5zM336.0 112.0h1.5v1.5h-1.5zM242.3 115.5h1.5v1.5h-1.5zM118.4 115.2h1.5v1.5h-1.5zM291.3 107.9h1.5v1.5h-1.5zM171.5 111.4h1.5v1.5h-1.5zM246.8 114.8h1.5v1.5h-1.5zM372.1 109.2h1.5v1.5h-1.5zM198.8 109.4h1.5v1.5h-1.5zM87.0 108.2h1.5v1.5h-1.5zM151.5 114.8h1.5v1.5h-1.5zM149.1 113.8h1.5v1.5h-1.5zM189.9 115.5h1.5v1.5h-1.5zM252.9 113.6h1.5v1.5h-1.5zM293.5 112.9h1.5v1.5h-1.5zM252.3 114.5h1.5v1.5h-1.5zM171.8 112.8h1.5v1.5h-1.5zM124.3 108.4h1.5v1.5h-1.5zM264.4 114.5h1.5v1.5h-1.5zM298.3 112.3h1.5v1.5h-1.5zM276.5 114.3h1.5v1.5h-1.5zM83.8 115.3h1.5v1.5h-1.5zM260.2 113.6h1.5v1.5h-1.5zM145.7 115.5h1.5v1.5h-1.5zM352.8 107.5h1.5v1.5h-1.5zM83.4 109.7h1.5v1.5h-1.5zM168.0 115.6h1.5v1.5h-1.5zM114.4 115.6h1.5v1.5h-1.5zM318.3 111.2h1.5v1.5h-1.5zM248.4 110.2h1.5v1.5h-1.5zM252.5 115.0h1.5v1.5h-1.5zM295.7 115.0h1.5v1.5h-1.5zM306.6 113.2h1.5v1.5h-1.5zM305.5 111.6h1.5v1.5h-1.5zM228.2 114.4h1.5v1.5h-1.5zM106.9 113.5h1.5v1.5h-1.5zM306.0 107.5h1.5v1.5h-1.5zM136.7 114.9h1.5v1.5h-1.5zM74.7 115.3h1.5v1.5h-1.5zM84.7 111.1h1.5v1.5h-1.5zM122.4 113.7h1.5v1.5h-1.5zM121.0 108.0h1.5v1.5h-1.5zM116.2 115.0h1.5v1.5h-1.5zM307.2 113.9h1.5v1.5h-1.5zM263.2 115.5h1.5v1.5h-1.5zM314.2 113.0h1.5v1.5h-1.5zM346.1 115.6h1.5v1.5h-1.5zM266.1 108.5h1.5v1.5h-1.5zM84.6 112.3h1.5v1.5h-1.5zM350.9 113.7h1.5v1.5h-1.5zM260.4 115.6h1.5v1.5h-1.5zM200.5 114.5h1.5v1.5h-1.5zM129.0 110.3h1.5v1.5h-1.5zM158.5 114.2h1.5v1.5h-1.5zM114.6 109.0h1.5v1.5h-1.5zM335.5 115.6h1.5v1.5h-1.5zM153.6 112.9h1.5v1.5h-1.5zM216.5 111.4h1.5v1.5h-1.5zM251.3 110.9h1.5v1.5h-1.5zM339.7 113.7h1.5v1.5h-1.5zM339.9 109.2h1.5v1.5h-1.5zM333.6 112.4h1.5v1.5h-1.5zM158.3 112.0h1.5v1.5h-1.5zM100.6 105.1h1.5v1.5h-1.5zM112.7 114.8h1.5v1.5h-1.5zM118.3 114.9h1.5v1.5h-1.5zM171.3 115.0h1.5v1.5h-1.5zM288.1 114.3h1.5v1.5h-1.5zM138.7 109.9h1.5v1.5h-1.5zM77.7 113.7h1.5v1.5h-1.5zM199.5 115.6h1.5v1.5h-1.5zM72.2 111.3h1.5v1.5h-1.5zM103.3 114.5h1.5v1.5h-1.5zM198.8 112.8h1.5v1.5h-1.5zM278.5 115.5h1.5v1.5h-1.5zM100.8 111.5h1.5v1.5h-1.5zM350.8 113.9h1.5v1.5h-1.5zM132.7 109.3h1.5v1.5h-1.5zM150.6 114.0h1.5v1.5h-1.5zM148.0 113.9h1.5v1.5h-1.5zM192.5 112.7h1.5v1.5h-1.5zM69.3 110.2h1.5v1.5h-1.5zM234.6 109.9h1.5v1.5h-1.5zM370.5 114.0h1.5v1.5h-1.5zM288.5 113.0h1.5v1.5h-1.5zM195.9 111.7h1.5v1.5h-1.5zM193.1 114.7h1.5v1.5h-1.5zM375.5 113.0h1.5v1.5h-1.5zM144.9 112.5h1.5v1.5h-1.5zM140.6 113.5h1.5v1.5h-1.5zM102.0 113.2h1.5v1.5h-1.5zM81.3 113.0h1.5v1.5h-1.5zM266.3 113.0h1.5v1.5h-1.5zM367.2 112.4h1.5v1.5h-1.5zM297.3 108.6h1.5v1.5h-1.5zM374.4 115.5h1.5v1.5h-1.5zM261.1 112.5h1.5v1.5h-1.5zM286.8 111.3h1.5v1.5h-1.5zM256.0 113.0h1.5v1.5h-1.5zM261.0 113.8h1.5v1.5h-1.5zM255.9 114.2h1.5v1.5h-1.5zM289.7 111.7h1.5v1.5h-1.5zM134.6 114.7h1.5v1.5h-1.5zM353.5 111.3h1.5v1.5h-1.5zM229.5 115.4h1.5v1.5h-1.5zM320.8 110.4h1.5v1.5h-1.5zM322.5 112.4h1.5v1.5h-1.5zM335.0 113.6h1.5v1.5h-1.5zM319.5 113.7h1.5v1.5h-1.5zM113.7 114.5h1.5v1.5h-1.5zM315.0 111.9h1.5v1.5h-1.5zM93.3 107.4h1.5v1.5h-1.5zM281.5 111.7h1.5v1.5h-1.5zM313.5 114.4h1.5v1.5h-1.5zM276.9 111.3h1.5v1.5h-1.5zM139.7 112.8h1.5v1.5h-1.5zM184.2 114.8h1.5v1.5h-1.5zM128.3 115.2h1.5v1.5h-1.5zM121.3 113.4h1.5v1.5h-1.5zM166.4 115.3h1.5v1.5h-1.5zM263.2 113.7h1.5v1.5h-1.5zM128.5 109.1h1.5v1.5h-1.5zM257.5 115.3h1.5v1.5h-1.5zM203.2 109.8h1.5v1.5h-1.5zM157.5 110.3h1.5v1.5h-1.5zM317.4 112.5h1.5v1.5h-1.5zM245.4 110.6h1.5v1.5h-1.5zM286.7 110.1h1.5v1.5h-1.5zM168.1 111.9h1.5v1.5h-1.5zM300.4 111.3h1.5v1.5h-1.5zM219.9 115.6h1.5v1.5h-1.5zM249.8 111.8h1.5v1.5h-1.5zM326.3 111.7h1.5v1.5h-1.5zM342.0 111.6h1.5v1.5h-1.5zM224.7 114.5h1.5v1.5h-1.5zM273.8 112.3h1.5v1.5h-1.5zM78.6 111.1h1.5v1.5h-1.5zM304.5 114.7h1.5v1.5h-1.5zM134.4 115.4h1.5v1.5h-1.5zM93.4 111.0h1.5v1.5h-1.5zM83.1 109.8h1.5v1.5h-1.5zM215.7 115.0h1.5v1.5h-1.5zM280.2 110.8h1.5v1.5h-1.5zM375.4 113.6h1.5v1.5h-1.5zM169.6 115.6h1.5v1.5h-1.5zM372.5 115.0h1.5v1.5h-1.5zM147.3 115.6h1.5v1.5h-1.5zM238.3 112.2h1.5v1.5h-1.5zM81.9 112.7h1.5v1.5h-1.5zM334.7 113.1h1.5v1.5h-1.5zM128.6 114.7h1.5v1.5h-1.5zM232.4 111.8h1.5v1.5h-1.5zM217.6 112.6h1.5v1.5h-1.5zM314.4 114.0h1.5v1.5h-1.5zM81.9 114.7h1.5v1.5h-1.5zM231.3 111.0h1.5v1.5h-1.5zM166.3 115.3h1.5v1.5h-1.5zM286.3 111.5h1.5v1.5h-1.5zM249.5 107.9h1.5v1.5h-1.5zM203.9 110.4h1.5v1.5h-1.5zM264.2 115.1h1.5v1.5h-1.5zM333.4 114.9h1.5v1.5h-1.5zM351.9 109.0h1.5v1.5h-1.5zM220.4 110.1h1.5v1.5h-1.5zM157.4 115.1h1.5v1.5h-1.5zM325.9 114.8h1.5v1.5h-1.5zM97.3 115.1h1.5v1.5h-1.5zM309.1 109.0h1.5v1.5h-1.5zM145.9 111.7h1.5v1.5h-1.5zM278.6 113.5h1.5v1.5h-1.5zM78.9 112.8h1.5v1.5h-1.5zM157.0 114.5h1.5v1.5h-1.5zM239.8 115.0h1.5v1.5h-1.5zM348.7 115.2h1.5v1.5h-1.5zM313.8 113.1h1.5v1.5h-1.5zM187.4 114.1h1.5v1.5h-1.5zM135.2 114.9h1.5v1.5h-1.5zM210.0 112.1h1.5v1.5h-1.5zM276.5 114.2h1.5v1.5h-1.5zM322.8 111.2h1.5v1.5h-1.5zM357.2 113.2h1.5v1.5h-1.5zM173.9 111.5h1.5v1.5h-1.5zM354.2 113.3h1.5v1.5h-1.5zM216.3 110.3h1.5v1.5h-1.5zM93.4 114.6h1.5v1.5h-1.5zM150.1 113.5h1.5v1.5h-1.5zM352.6 114.8h1.5v1.5h-1.5zM251.6 108.6h1.5v1.5h-1.5zM269.5 112.7h1.5v1.5h-1.5zM169.3 113.6h1.5v1.5h-1.5zM296.1 115.4h1.5v1.5h-1.5zM87.5 114.9h1.5v1.5h-1.5zM237.0 110.7h1.5v1.5h-1.5zM209.0 114.4h1.5v1.5h-1.5zM225.1 115.2h1.5v1.5h-1.5zM245.2 112.6h1.5v1.5h-1.5zM271.6 115.0h1.5v1.5h-1.5zM118.6 110.7h1.5v1.5h-1.5zM336.8 114.4h1.5v1.5h-1.5zM95.1 106.8h1.5v1.5h-1.5zM102.3 111.2h1.5v1.5h-1.5zM102.5 114.3h1.5v1.5h-1.5zM232.0 112.6h1.5v1.5h-1.5zM127.3 114.0h1.5v1.5h-1.5zM105.4 114.4h1.5v1.5h-1.5zM342.1 114.4h1.5v1.5h-1.5zM358.4 109.1h1.5v1.5h-1.5zM242.8 113.8h1.5v1.5h-1.5zM298.5 115.6h1.5v1.5h-1.5zM187.9 113.2h1.5v1.5h-1.5zM342.1 115.3h1.5v1.5h-1.5zM245.3 113.5h1.5v1.5h-1.5zM286.3 114.2h1.5v1.5h-1.5zM142.2 107.5h1.5v1.5h-1.5zM78.8 109.9h1.5v1.5h-1.5zM318.5 115.0h1.5v1.5h-1.5zM351.5 114.1h1.5v1.5h-1.5zM357.5 112.3h1.5v1.5h-1.5zM93.3 115.4h1.5v1.5h-1.5zM112.9 113.4h1.5v1.5h-1.5zM109.5 115.4h1.5v1.5h-1.5zM368.6 111.0h1.5v1.5h-1.5zM311.4 111.5h1.5v1.5h-1.5zM307.6 115.6h1.5v1.5h-1.5zM127.7 108.7h1.5v1.5h-1.5zM309.9 113.5h1.5v1.5h-1.5zM288.4 113.6h1.5v1.5h-1.5zM274.5 114.5h1.5v1.5h-1.5zM322.8 105.1h1.5v1.5h-1.5zM346.5 108.8h1.5v1.5h-1.5zM314.7 112.0h1.5v1.5h-1.5zM321.8 108.4h1.5v1.5h-1.5zM158.7 105.1h1.5v1.5h-1.5zM101.9 113.1h1.5v1.5h-1.5zM310.1 115.1h1.5v1.5h-1.5zM127.4 113.7h1.5v1.5h-1.5zM218.7 112.4h1.5v1.5h-1.5zM278.5 112.4h1.5v1.5h-1.5zM309.0 110.0h1.5v1.5h-1.5zM357.9 113.8h1.5v1.5h-1.5zM268.3 114.4h1.5v1.5h-1.5zM171.3 108.7h1.5v1.5h-1.5zM311.8 115.4h1.5v1.5h-1.5zM100.3 115.6h1.5v1.5h-1.5zM195.8 111.9h1.5v1.5h-1.5zM170.0 113.9h1.5v1.5h-1.5zM258.0 113.3h1.5v1.5h-1.5zM93.3 115.2h1.5v1.5h-1.5zM270.9 110.2h1.5v1.5h-1.5zM103.4 115.3h1.5v1.5h-1.5zM321.1 115.1h1.5v1.5h-1.5zM178.3 111.9h1.5v1.5h-1.5zM341.9 108.3h1.5v1.5h-1.5zM188.3 107.7h1.5v1.5h-1.5zM223.1 112.0h1.5v1.5h-1.5zM116.3 115.6h1.5v1.5h-1.5zM120.4 106.4h1.5v1.5h-1.5zM206.9 115.6h1.5v1.5h-1.5zM97.3 108.5h1.5v1.5h-1.5zM225.3 108.0h1.5v1.5h-1.5zM343.1 115.0h1.5v1.5h-1.5zM259.4 107.7h1.5v1.5h-1.5zM178.2 110.4h1.5v1.5h-1.5zM182.5 110.1h1.5v1.5h-1.5zM347.2 112.6h1.5v1.5h-1.5zM368.6 114.2h1.5v1.5h-1.5zM324.8 111.0h1.5v1.5h-1.5zM204.8 108.3h1.5v1.5h-1.5zM291.9 115.4h1.5v1.5h-1.5zM166.8 112.6h1.5v1.5h-1.5zM110.8 110.9h1.5v1.5h-1.5zM80.5 109.5h1.5v1.5h-1.5zM264.9 114.7h1.5v1.5h-1.5zM302.4 114.1h1.5v1.5h-1.5zM369.2 109.0h1.5v1.5h-1.5zM275.7 107.7h1.5v1.5h-1.5zM286.0 113.4h1.5v1.5h-1.5zM116.2 108.8h1.5v1.5h-1.5zM312.0 115.2h1.5v1.5h-1.5zM109.4 108.4h1.5v1.5h-1.5zM116.3 114.2h1.5v1.5h-1.5zM162.7 115.2h1.5v1.5h-1.5zM365.7 110.7h1.5v1.5h-1.5zM124.0 114.7h1.5v1.5h-1.5zM165.5 114.8h1.5v1.5h-1.5zM146.7 112.5h1.5v1.5h-1.5zM364.7 115.3h1.5v1.5h-1.5zM129.2 106.1h1.5v1.5h-1.5zM263.5 113.0h1.5v1.5h-1.5zM113.1 111.8h1.5v1.5h-1.5zM239.2 109.4h1.5v1.5h-1.5zM151.4 108.1h1.5v1.5h-1.5zM230.1 114.8h1.5v1.5h-1.5zM261.4 115.6h1.5v1.5h-1.5zM322.3 112.7h1.5v1.5h-1.5zM357.4 115.2h1.5v1.5h-1.5zM141.4 113.2h1.5v1.5h-1.5zM276.2 109.0h1.5v1.5h-1.5zM100.5 114.9h1.5v1.5h-1.5zM265.9 110.3h1.5v1.5h-1.5zM306.1 107.9h1.5v1.5h-1.5zM296.2 113.9h1.5v1.5h-1.5zM187.7 113.7h1.5v1.5h-1.5zM336.2 111.3h1.5v1.5h-1.5zM273.5 112.9h1.5v1.5h-1.5zM107.4 114.2h1.5v1.5h-1.5zM221.7 113.5h1.5v1.5h-1.5zM273.0 112.3h1.5v1.5h-1.5zM243.9 114.2h1.5v1.5h-1.5zM325.9 113.5h1.5v1.5h-1.5zM274.2 111.5h1.5v1.5h-1.5zM344.5 115.2h1.5v1.5h-1.5zM267.1 105.9h1.5v1.5h-1.5zM106.7 109.8h1.5v1.5h-1.5zM255.8 113.8h1.5v1.5h-1.5zM321.5 114.8h1.5v1.5h-1.5zM132.1 113.8h1.5v1.5h-1.5zM368.2 111.3h1.5v1.5h-1.5zM177.5 115.1h1.5v1.5h-1.5zM326.0 113.5h1.5v1.5h-1.5zM109.0 115.6h1.5v1.5h-1.5zM84.3 111.1h1.5v1.5h-1.5zM316.3 115.3h1.5v1.5h-1.5zM135.6 112.8h1.5v1.5h-1.5zM168.6 113.8h1.5v1.5h-1.5zM312.0 115.0h1.5v1.5h-1.5zM326.2 114.4h1.5v1.5h-1.5zM307.2 115.6h1.5v1.5h-1.5zM222.4 115.1h1.5v1.5h-1.5zM261.3 110.8h1.5v1.5h-1.5zM190.0 110.8h1.5v1.5h-1.5zM136.1 106.1h1.5v1.5h-1.5zM364.0 115.6h1.5v1.5h-1.5zM371.7 114.9h1.5v1.5h-1.5zM206.7 109.8h1.5v1.5h-1.5zM206.9 115.5h1.5v1.5h-1.5zM124.9 113.3h1.5v1.5h-1.5zM126.2 111.4h1.5v1.5h-1.5zM202.0 115.4h1.5v1.5h-1.5zM148.3 109.8h1.5v1.5h-1.5zM367.6 107.8h1.5v1.5h-1.5zM351.2 109.7h1.5v1.5h-1.5zM85.4 114.7h1.5v1.5h-1.5zM70.0 114.3h1.5v1.5h-1.5zM147.8 114.3h1.5v1.5h-1.5zM262.0 108.3h1.5v1.5h-1.5zM160.8 115.0h1.5v1.5h-1.5zM344.7 111.3h1.5v1.5h-1.5zM207.1 115.0h1.5v1.5h-1.5zM307.0 107.5h1.5v1.5h-1.5zM348.6 111.7h1.5v1.5h-1.5zM320.8 115.1h1.5v1.5h-1.5zM99.7 111.4h1.5v1.5h-1.5zM130.9 112.4h1.5v1.5h-1.5zM286.2 114.1h1.5v1.5h-1.5zM370.0 109.6h1.5v1.5h-1.5zM185.1 114.1h1.5v1.5h-1.5zM70.0 115.0h1.5v1.5h-1.5zM247.5 115.6h1.5v1.5h-1.5zM323.4 111.8h1.5v1.5h-1.5zM79.4 113.7h1.5v1.5h-1.5zM166.2 108.3h1.5v1.5h-1.5zM216.2 113.9h1.5v1.5h-1.5zM141.5 115.2h1.5v1.5h-1.5zM184.6 115.0h1.5v1.5h-1.5zM128.0 110.8h1.5v1.5h-1.5zM263.3 112.0h1.5v1.5h-1.5zM86.9 115.2h1.5v1.5h-1.5zM211.9 110.1h1.5v1.5h-1.5zM287.3 115.2h1.5v1.5h-1.5zM267.4 111.7h1.5v1.5h-1.5zM110.0 114.1h1.5v1.5h-1.5zM140.0 114.5h1.5v1.5h-1.5zM136.9 109.1h1.5v1.5h-1.5zM321.4 109.5h1.5v1.5h-1.5zM77.9 113.0h1.5v1.5h-1.5zM77.8 115.2h1.5v1.5h-1.5zM140.5 114.2h1.5v1.5h-1.5zM354.4 108.0h1.5v1.5h-1.5zM147.5 113.4h1.5v1.5h-1.5zM71.6 114.8h1.5v1.5h-1.5zM367.7 114.1h1.5v1.5h-1.5zM316.2 114.9h1.5v1.5h-1.5zM310.0 115.5h1.5v1.5h-1.5zM350.1 114.5h1.5v1.5h-1.5zM320.6 110.5h1.5v1.5h-1.5zM250.3 115.0h1.5v1.5h-1.5zM82.8 113.2h1.5v1.5h-1.5zM189.1 114.1h1.5v1.5h-1.5zM296.9 114.3h1.5v1.5h-1.5zM208.0 113.2h1.5v1.5h-1.5zM267.5 115.0h1.5v1.5h-1.5zM368.7 112.7h1.5v1.5h-1.5zM95.1 108.6h1.5v1.5h-1.5zM329.0 115.3h1.5v1.5h-1.5zM180.0 115.6h1.5v1.5h-1.5zM254.0 112.7h1.5v1.5h-1.5zM304.3 115.0h1.5v1.5h-1.5zM280.7 111.3h1.5v1.5h-1.5zM207.2 110.6h1.5v1.5h-1.5zM267.1 114.5h1.5v1.5h-1.5zM293.1 108.1h1.5v1.5h-1.5zM325.5 115.4h1.5v1.5h-1.5zM277.1 105.9h1.5v1.5h-1.5zM121.7 111.1h1.5v1.5h-1.5zM202.9 113.6h1.5v1.5h-1.5zM159.2 115.3h1.5v1.5h-1.5zM203.3 113.6h1.5v1.5h-1.5zM268.7 114.9h1.5v1.5h-1.5zM374.2 113.4h1.5v1.5h-1.5zM143.4 115.5h1.5v1.5h-1.5zM137.5 105.7h1.5v1.5h-1.5zM351.5 115.3h1.5v1.5h-1.5zM341.8 111.2h1.5v1.5h-1.5zM98.5 106.6h1.5v1.5h-1.5zM163.2 112.6h1.5v1.5h-1.5zM232.6 112.2h1.5v1.5h-1.5zM267.5 107.9h1.5v1.5h-1.5zM192.3 110.2h1.5v1.5h-1.5zM279.8 112.6h1.5v1.5h-1.5zM155.1 113.7h1.5v1.5h-1.5zM70.2 114.7h1.5v1.5h-1.5zM120.6 110.0h1.5v1.5h-1.5zM280.1 109.4h1.5v1.5h-1.5zM143.0 111.2h1.5v1.5h-1.5zM74.6 113.9h1.5v1.5h-1.5zM146.5 111.3h1.5v1.5h-1.5zM269.4 109.9h1.5v1.5h-1.5zM160.2 114.1h1.5v1.5h-1.5zM86.7 115.1h1.5v1.5h-1.5zM101.0 107.6h1.5v1.5h-1.5zM279.1 115.0h1.5v1.5h-1.5zM304.5 114.6h1.5v1.5h-1.5zM192.8 112.0h1.5v1.5h-1.5zM291.8 114.9h1.5v1.5h-1.5zM355.0 115.5h1.5v1.5h-1.5zM322.9 115.3h1.5v1.5h-1.5zM331.1 113.6h1.5v1.5h-1.5zM69.0 114.6h1.5v1.5h-1.5zM346.5 114.6h1.5v1.5h-1.5zM271.0 114.0h1.5v1.5h-1.5zM110.5 114.2h1.5v1.5h-1.5zM268.2 113.8h1.5v1.5h-1.5zM86.1 115.5h1.5v1.5h-1.5zM330.3 114.3h1.5v1.5h-1.5zM290.0 115.3h1.5v1.5h-1.5zM310.3 114.4h1.5v1.5h-1.5zM100.6 114.3h1.5v1.5h-1.5zM312.7 113.8h1.5v1.5h-1.5zM135.4 113.9h1.5v1.5h-1.5zM133.9 112.6h1.5v1.5h-1.5zM264.8 108.5h1.5v1.5h-1.5zM81.7 108.7h1.5v1.5h-1.5zM138.8 115.0h1.5v1.5h-1.5zM208.6 114.9h1.5v1.5h-1.5zM102.5 114.2h1.5v1.5h-1.5zM137.5 114.7h1.5v1.5h-1.5zM87.1 111.8h1.5v1.5h-1.5zM356.3 115.1h1.5v1.5h-1.5zM134.9 111.0h1.5v1.5h-1.5zM335.8 114.7h1.5v1.5h-1.5zM332.0 113.9h1.5v1.5h-1.5zM140.3 115.0h1.5v1.5h-1.5zM334.0 114.6h1.5v1.5h-1.5zM352.5 109.6h1.5v1.5h-1.5zM89.1 113.0h1.5v1.5h-1.5zM129.7 112.7h1.5v1.5h-1.5zM103.1 113.6h1.5v1.5h-1.5zM215.3 113.5h1.5v1.5h-1.5zM225.5 115.5h1.5v1.5h-1.5zM211.8 111.2h1.5v1.5h-1.5zM138.6 110.6h1.5v1.5h-1.5zM267.9 114.5h1.5v1.5h-1.5zM295.5 105.1h1.5v1.5h-1.5zM180.0 114.1h1.5v1.5h-1.5zM251.4 112.2h1.5v1.5h-1.5zM91.4 114.1h1.5v1.5h-1.5zM109.6 115.3h1.5v1.5h-1.5zM298.2 107.9h1.5v1.5h-1.5zM190.6 115.5h1.5v1.5h-1.5zM360.0 113.9h1.5v1.5h-1.5zM360.0 107.4h1.5v1.5h-1.5zM258.6 115.4h1.5v1.5h-1.5zM324.5 114.0h1.5v1.5h-1.5zM136.1 115.6h1.5v1.5h-1.5zM165.8 112.8h1.5v1.5h-1.5zM273.3 115.0h1.5v1.5h-1.5zM322.7 115.0h1.5v1.5h-1.5zM254.3 113.8h1.5v1.5h-1.5zM286.6 115.1h1.5v1.5h-1.5zM140.5 114.8h1.5v1.5h-1.5zM108.5 110.8h1.5v1.5h-1.5zM340.8 115.4h1.5v1.5h-1.5zM138.6 114.2h1.5v1.5h-1.5zM192.8 112.7h1.5v1.5h-1.5zM271.1 111.6h1.5v1.5h-1.5zM358.0 115.2h1.5v1.5h-1.5zM349.6 115.3h1.5v1.5h-1.5zM71.4 114.7h1.5v1.5h-1.5zM335.8 111.3h1.5v1.5h-1.5zM329.1 105.1h1.5v1.5h-1.5zM268.6 114.7h1.5v1.5h-1.5zM141.6 110.8h1.5v1.5h-1.5zM314.3 112.3h1.5v1.5h-1.5zM89.6 114.8h1.5v1.5h-1.5zM242.8 115.2h1.5v1.5h-1.5zM139.3 111.3h1.5v1.5h-1.5zM276.0 114.6h1.5v1.5h-1.5zM295.8 111.7h1.5v1.5h-1.5zM274.4 115.6h1.5v1.5h-1.5zM213.4 109.8h1.5v1.5h-1.5zM266.7 113.1h1.5v1.5h-1.5zM138.2 107.7h1.5v1.5h-1.5zM130.2 107.7h1.5v1.5h-1.5zM345.0 115.0h1.5v1.5h-1.5zM293.9 110.2h1.5v1.5h-1.5zM303.7 115.5h1.5v1.5h-1.5zM148.5 114.6h1.5v1.5h-1.5zM108.2 112.2h1.5v1.5h-1.5zM90.1 107.9h1.5v1.5h-1.5zM244.9 109.8h1.5v1.5h-1.5zM201.5 115.4h1.5v1.5h-1.5zM275.5 115.6h1.5v1.5h-1.5zM180.6 114.6h1.5v1.5h-1.5zM265.0 109.8h1.5v1.5h-1.5zM365.6 112.8h1.5v1.5h-1.5zM303.5 115.5h1.5v1.5h-1.5zM252.3 105.9h1.5v1.5h-1.5zM337.3 114.0h1.5v1.5h-1.5zM70.7 109.6h1.5v1.5h-1.5zM150.5 114.7h1.5v1.5h-1.5zM281.7 115.6h1.5v1.5h-1.5zM137.3 114.6h1.5v1.5h-1.5zM72.0 111.3h1.5v1.5h-1.5zM355.7 112.8h1.5v1.5h-1.5zM227.9 114.6h1.5v1.5h-1.5zM195.4 113.5h1.5v1.5h-1.5zM83.0 115.3h1.5v1.5h-1.5zM259.5 113.5h1.5v1.5h-1.5zM311.4 112.8h1.5v1.5h-1.5zM218.5 115.1h1.5v1.5h-1.5zM354.0 115.2h1.5v1.5h-1.5zM113.7 112.5h1.5v1.5h-1.5zM288.3 114.9h1.5v1.5h-1.5zM95.2 114.1h1.5v1.5h-1.5zM285.4 106.6h1.5v1.5h-1.5zM311.3 113.8h1.5v1.5h-1.5zM241.2 114.4h1.5v1.5h-1.5zM125.7 114.8h1.5v1.5h-1.5zM262.5 115.6h1.5v1.5h-1.5zM231.3 115.4h1.5v1.5h-1.5zM290.6 114.1h1.5v1.5h-1.5zM156.1 109.9h1.5v1.5h-1.5zM256.6 114.4h1.5v1.5h-1.5zM271.4 114.4h1.5v1.5h-1.5zM114.8 115.3h1.5v1.5h-1.5zM288.0 105.9h1.5v1.5h-1.5zM312.3 114.7h1.5v1.5h-1.5zM83.3 114.9h1.5v1.5h-1.5zM81.2 114.4h1.5v1.5h-1.5zM354.8 107.9h1.5v1.5h-1.5zM209.1 114.3h1.5v1.5h-1.5zM227.6 109.7h1.5v1.5h-1.5zM230.1 114.8h1.5v1.5h-1.5zM87.7 111.7h1.5v1.5h-1.5zM144.3 113.8h1.5v1.5h-1.5zM164.7 109.8h1.5v1.5h-1.5zM304.8 112.0h1.5v1.5h-1.5zM353.5 111.4h1.5v1.5h-1.5zM257.8 113.6h1.5v1.5h-1.5zM152.4 115.1h1.5v1.5h-1.5zM370.2 111.6h1.5v1.5h-1.5zM258.0 114.4h1.5v1.5h-1.5zM87.2 109.3h1.5v1.5h-1.5zM201.6 115.1h1.5v1.5h-1.5zM364.7 115.2h1.5v1.5h-1.5zM155.3 114.5h1.5v1.5h-1.5zM99.0 114.7h1.5v1.5h-1.5zM324.3 114.1h1.5v1.5h-1.5zM119.8 112.1h1.5v1.5h-1.5zM170.8 115.5h1.5v1.5h-1.5zM102.3 111.6h1.5v1.5h-1.5zM295.6 110.7h1.5v1.5h-1.5zM362.5 113.3h1.5v1.5h-1.5zM210.2 109.6h1.5v1.5h-1.5zM106.2 114.7h1.5v1.5h-1.5zM363.1 115.1h1.5v1.5h-1.5zM142.9 114.4h1.5v1.5h-1.5zM211.5 109.5h1.5v1.5h-1.5zM165.6 104.8h1.5v1.5h-1.5zM296.9 103.0h1.5v1.5h-1.5zM124.1 102.2h1.5v1.5h-1.5zM320.7 97.5h1.5v1.5h-1.5zM244.2 106.5h1.5v1.5h-1.5zM302.7 100.2h1.5v1.5h-1.5zM344.8 96.6h1.5v1.5h-1.5zM167.4 97.7h1.5v1.5h-1.5zM319.9 103.8h1.5v1.5h-1.5zM179.4 102.7h1.5v1.5h-1.5zM175.4 102.6h1.5v1.5h-1.5zM100.2 104.2h1.5v1.5h-1.5zM348.0 102.3h1.5v1.5h-1.5zM263.1 97.3h1.5v1.5h-1.5zM300.2 104.1h1.5v1.5h-1.5zM351.1 98.2h1.5v1.5h-1.5zM373.1 99.0h1.5v1.5h-1.5zM300.0 98.1h1.5v1.5h-1.5zM144.5 99.7h1.5v1.5h-1.5zM184.0 97.8h1.5v1.5h-1.5zM107.4 101.0h1.5v1.5h-1.5zM170.3 98.0h1.5v1.5h-1.5zM173.0 97.7h1.5v1.5h-1.5zM328.8 97.4h1.5v1.5h-1.5zM109.1 96.7h1.5v1.5h-1.5zM296.7 99.5h1.5v1.5h-1.5zM268.3 106.1h1.5v1.5h-1.5zM335.7 100.9h1.5v1.5h-1.5zM207.3 103.1h1.5v1.5h-1.5zM308.7 98.4h1.5v1.5h-1.5zM335.7 104.4h1.5v1.5h-1.5zM171.5 104.0h1.5v1.5h-1.5zM97.1 103.2h1.5v1.5h-1.5zM74.1 98.2h1.5v1.5h-1.5zM136.4 105.9h1.5v1.5h-1.5zM87.0 98.8h1.5v1.5h-1.5zM127.5 101.8h1.5v1.5h-1.5zM190.6 98.2h1.5v1.5h-1.5zM361.8 103.4h1.5v1.5h-1.5zM262.0 97.2h1.5v1.5h-1.5zM211.8 97.2h1.5v1.5h-1.5zM293.5 103.3h1.5v1.5h-1.5zM336.9 100.6h1.5v1.5h-1.5zM98.8 100.4h1.5v1.5h-1.5zM323.1 101.2h1.5v1.5h-1.5zM216.0 102.2h1.5v1.5h-1.5zM338.9 99.6h1.5v1.5h-1.5zM130.5 102.8h1.5v1.5h-1.5zM178.6 96.5h1.5v1.5h-1.5zM281.7 105.3h1.5v1.5h-1.5zM349.4 106.3h1.5v1.5h-1.5zM249.2 102.1h1.5v1.5h-1.5zM288.4 102.1h1.5v1.5h-1.5zM94.6 101.1h1.5v1.5h-1.5zM320.3 98.3h1.5v1.5h-1.5zM176.6 104.3h1.5v1.5h-1.5zM296.9 98.2h1.5v1.5h-1.5zM133.9 97.3h1.5v1.5h-1.5zM373.7 102.1h1.5v1.5h-1.5zM184.0 99.2h1.5v1.5h-1.5zM354.2 104.5h1.5v1.5h-1.5zM159.5 103.2h1.5v1.5h-1.5zM293.0 104.7h1.5v1.5h-1.5zM235.5 101.4h1.5v1.5h-1.5zM273.2 105.1h1.5v1.5h-1.5zM362.6 96.1h1.5v1.5h-1.5zM239.9 98.3h1.5v1.5h-1.5zM122.8 97.0h1.5v1.5h-1.5zM236.9 98.6h1.5v1.5h-1.5zM335.2 102.8h1.5v1.5h-1.5zM352.4 104.4h1.5v1.5h-1.5zM73.3 101.3h1.5v1.5h-1.5zM344.6 97.1h1.5v1.5h-1.5zM362.0 101.2h1.5v1.5h-1.5zM355.1 100.7h1.5v1.5h-1.5zM110.5 100.0h1.5v1.5h-1.5zM315.1 102.2h1.5v1.5h-1.5zM252.7 103.9h1.5v1.5h-1.5zM151.6 102.2h1.5v1.5h-1.5zM225.1 101.7h1.5v1.5h-1.5zM94.6 106.6h1.5v1.5h-1.5zM171.5 99.1h1.5v1.5h-1.5zM298.0 104.1h1.5v1.5h-1.5zM145.2 101.2h1.5v1.5h-1.5zM120.4 100.3h1.5v1.5h-1.5zM346.3 104.5h1.5v1.5h-1.5zM247.5 99.0h1.5v1.5h-1.5zM298.3 99.1h1.5v1.5h-1.5zM286.3 103.8h1.5v1.5h-1.5zM325.9 96.9h1.5v1.5h-1.5zM82.3 96.7h1.5v1.5h-1.5zM203.2 105.7h1.5v1.5h-1.5zM87.6 98.2h1.5v1.5h-1.5zM276.1 105.1h1.5v1.5h-1.5zM208.6 99.9h1.5v1.5h-1.5zM375.3 103.1h1.5v1.5h-1.5zM303.6 104.0h1.5v1.5h-1.5zM127.7 104.9h1.5v1.5h-1.5zM193.1 100.1h1.5v1.5h-1.5zM160.0 104.9h1.5v1.5h-1.5zM133.7 105.7h1.5v1.5h-1.5zM125.9 103.3h1.5v1.5h-1.5zM222.4 104.7h1.5v1.5h-1.5zM214.7 102.0h1.5v1.5h-1.5zM367.6 101.5h1.5v1.5h-1.5zM358.9 101.7h1.5v1.5h-1.5zM127.4 100.4h1.5v1.5h-1.5zM110.8 104.8h1.5v1.5h-1.5zM88.7 99.2h1.5v1.5h-1.5zM365.8 102.4h1.5v1.5h-1.5zM175.8 102.1h1.5v1.5h-1.5zM175.1 99.4h1.5v1.5h-1.5zM187.5 105.0h1.5v1.5h-1.5zM333.9 100.6h1.5v1.5h-1.5zM68.0 97.7h1.5v1.5h-1.5zM291.8 102.9h1.5v1.5h-1.5zM261.3 96.9h1.5v1.5h-1.5zM190.5 102.1h1.5v1.5h-1.5zM158.4 100.8h1.5v1.5h-1.5zM271.4 98.9h1.5v1.5h-1.5zM360.3 105.1h1.5v1.5h-1.5zM179.4 97.7h1.5v1.5h-1.5zM311.2 100.4h1.5v1.5h-1.5zM275.9 103.0h1.5v1.5h-1.5zM358.9 100.8h1.5v1.5h-1.5zM190.8 104.7h1.5v1.5h-1.5zM101.8 97.2h1.5v1.5h-1.5zM314.2 106.3h1.5v1.5h-1.5zM166.2 101.6h1.5v1.5h-1.5zM219.7 102.8h1.5v1.5h-1.5zM343.5 102.9h1.5v1.5h-1.5zM230.9 96.8h1.5v1.5h-1.5zM264.1 101.6h1.5v1.5h-1.5zM169.1 102.6h1.5v1.5h-1.5zM254.8 98.4h1.5v1.5h-1.5zM146.8 102.7h1.5v1.5h-1.5zM186.2 102.8h1.5v1.5h-1.5zM349.0 101.0h1.5v1.5h-1.5zM151.5 103.1h1.5v1.5h-1.5zM320.6 104.9h1.5v1.5h-1.5zM279.9 106.4h1.5v1.5h-1.5zM125.9 106.0h1.5v1.5h-1.5zM315.7 105.1h1.5v1.5h-1.5zM136.7 106.0h1.5v1.5h-1.5zM147.8 98.9h1.5v1.5h-1.5zM289.2 97.0h1.5v1.5h-1.5zM359.6 100.8h1.5v1.5h-1.5zM351.8 105.7h1.5v1.5h-1.5zM352.8 102.1h1.5v1.5h-1.5zM125.8 98.8h1.5v1.5h-1.5zM332.2 102.6h1.5v1.5h-1.5zM94.9 97.4h1.5v1.5h-1.5zM299.6 100.3h1.5v1.5h-1.5zM368.8 106.2h1.5v1.5h-1.5zM83.3 105.3h1.5v1.5h-1.5zM72.8 99.2h1.5v1.5h-1.5zM261.3 105.4h1.5v1.5h-1.5zM116.2 104.7h1.5v1.5h-1.5zM254.9 99.5h1.5v1.5h-1.5zM366.6 102.8h1.5v1.5h-1.5zM369.5 102.1h1.5v1.5h-1.5zM187.2 104.0h1.5v1.5h-1.5zM138.1 96.4h1.5v1.5h-1.5zM374.4 99.2h1.5v1.5h-1.5zM120.3 104.7h1.5v1.5h-1.5zM113.2 102.9h1.5v1.5h-1.5zM294.5 106.0h1.5v1.5h-1.5zM230.4 99.5h1.5v1.5h-1.5zM76.4 102.0h1.5v1.5h-1.5zM311.2 100.6h1.5v1.5h-1.5zM68.7 89.0h1.5v1.5h-1.5zM69.6 94.3h1.5v1.5h-1.5zM68.4 88.4h1.5v1.5h-1.5zM71.2 88.7h1.5v1.5h-1.5zM69.4 96.2h1.5v1.5h-1.5zM70.5 74.0h1.5v1.5h-1.5zM77.7 76.5h1.5v1.5h-1.5zM79.2 71.2h1.5v1.5h-1.5zM75.2 76.5h1.5v1.5h-1.5zM109.9 91.7h1.5v1.5h-1.5zM104.8 90.8h1.5v1.5h-1.5zM107.1 91.7h1.5v1.5h-1.5zM116.4 88.8h1.5v1.5h-1.5zM115.2 90.6h1.5v1.5h-1.5zM90.7 91.9h1.5v1.5h-1.5zM88.8 89.1h1.5v1.5h-1.5zM109.7 89.7h1.5v1.5h-1.5zM110.8 88.6h1.5v1.5h-1.5zM105.5 92.2h1.5v1.5h-1.5zM108.3 92.5h1.5v1.5h-1.5zM102.4 93.0h1.5v1.5h-1.5zM112.3 91.3h1.5v1.5h-1.5zM89.0 89.0h1.5v1.5h-1.5zM81.3 88.9h1.5v1.5h-1.5zM108.3 93.1h1.5v1.5h-1.5zM108.4 90.8h1.5v1.5h-1.5zM114.3 90.8h1.5v1.5h-1.5zM95.1 88.9h1.5v1.5h-1.5zM81.5 89.8h1.5v1.5h-1.5zM82.1 92.4h1.5v1.5h-1.5zM82.5 89.3h1.5v1.5h-1.5zM95.7 90.0h1.5v1.5h-1.5zM88.3 90.0h1.5v1.5h-1.5zM103.9 93.3h1.5v1.5h-1.5zM97.8 90.0h1.5v1.5h-1.5zM86.6 90.4h1.5v1.5h-1.5zM89.1 91.9h1.5v1.5h-1.5zM120.6 94.4h1.5v1.5h-1.5zM124.9 99.9h1.5v1.5h-1.5zM101.4 95.9h1.5v1.5h-1.5zM111.7 99.6h1.5v1.5h-1.5zM117.5 100.1h1.5v1.5h-1.5zM122.3 99.4h1.5v1.5h-1.5zM76.5 96.5h1.5v1.5h-1.5zM78.0 97.2h1.5v1.5h-1.5zM72.9 94.0h1.5v1.5h-1.5zM99.8 96.6h1.5v1.5h-1.5zM77.2 97.7h1.5v1.5h-1.5zM90.7 101.7h1.5v1.5h-1.5zM114.8 104.0h1.5v1.5h-1.5zM96.3 103.5h1.5v1.5h-1.5zM116.8 95.0h1.5v1.5h-1.5zM71.9 99.5h1.5v1.5h-1.5zM95.8 96.8h1.5v1.5h-1.5zM110.1 100.8h1.5v1.5h-1.5zM121.3 102.4h1.5v1.5h-1.5zM77.5 95.8h1.5v1.5h-1.5zM95.0 72.0h1.5v1.5h-1.5zM114.0 74.3h1.5v1.5h-1.5zM104.0 86.3h1.5v1.5h-1.5zM128.0 80.9h1.5v1.5h-1.5zM137.5 79.5h1.5v1.5h-1.5zM129.1 74.2h1.5v1.5h-1.5zM136.8 75.5h1.5v1.5h-1.5zM131.3 74.3h1.5v1.5h-1.5zM130.5 74.4h1.5v1.5h-1.5zM140.3 73.8h1.5v1.5h-1.5zM144.3 76.9h1.5v1.5h-1.5zM138.3 74.8h1.5v1.5h-1.5zM136.1 81.7h1.5v1.5h-1.5zM147.8 75.3h1.5v1.5h-1.5zM142.0 75.8h1.5v1.5h-1.5zM130.8 78.4h1.5v1.5h-1.5zM145.6 73.9h1.5v1.5h-1.5zM148.1 81.1h1.5v1.5h-1.5zM142.1 77.6h1.5v1.5h-1.5zM135.1 81.0h1.5v1.5h-1.5zM128.4 78.3h1.5v1.5h-1.5zM137.3 80.1h1.5v1.5h-1.5zM134.2 77.6h1.5v1.5h-1.5zM144.0 77.2h1.5v1.5h-1.5zM129.1 74.6h1.5v1.5h-1.5zM134.2 73.9h1.5v1.5h-1.5zM149.5 81.3h1.5v1.5h-1.5zM139.6 73.8h1.5v1.5h-1.5zM134.6 77.6h1.5v1.5h-1.5zM132.8 82.3h1.5v1.5h-1.5zM130.1 81.4h1.5v1.5h-1.5zM132.1 87.9h1.5v1.5h-1.5zM139.1 83.3h1.5v1.5h-1.5zM142.1 91.7h1.5v1.5h-1.5zM148.7 87.8h1.5v1.5h-1.5zM138.6 84.5h1.5v1.5h-1.5zM141.7 91.7h1.5v1.5h-1.5zM140.1 92.6h1.5v1.5h-1.5zM149.2 93.4h1.5v1.5h-1.5zM149.3 95.9h1.5v1.5h-1.5zM125.2 88.9h1.5v1.5h-1.5zM130.1 89.6h1.5v1.5h-1.5zM128.0 84.9h1.5v1.5h-1.5zM141.7 87.1h1.5v1.5h-1.5zM148.2 82.7h1.5v1.5h-1.5zM142.0 86.7h1.5v1.5h-1.5zM125.0 96.1h1.5v1.5h-1.5zM135.7 83.0h1.5v1.5h-1.5zM132.8 88.7h1.5v1.5h-1.5zM132.1 71.0h1.5v1.5h-1.5zM143.7 70.0h1.5v1.5h-1.5zM142.7 73.5h1.5v1.5h-1.5zM134.6 72.5h1.5v1.5h-1.5zM147.0 55.5h1.5v1.5h-1.5zM150.0 56.2h1.5v1.5h-1.5zM140.0 60.8h1.5v1.5h-1.5zM170.8 78.9h1.5v1.5h-1.5zM173.3 77.7h1.5v1.5h-1.5zM172.0 76.1h1.5v1.5h-1.5zM158.1 73.0h1.5v1.5h-1.5zM160.1 74.8h1.5v1.5h-1.5zM151.7 73.9h1.5v1.5h-1.5zM174.5 78.8h1.5v1.5h-1.5zM168.7 77.7h1.5v1.5h-1.5zM153.7 77.1h1.5v1.5h-1.5zM166.5 73.1h1.5v1.5h-1.5zM174.8 72.8h1.5v1.5h-1.5zM165.6 75.1h1.5v1.5h-1.5zM154.0 74.6h1.5v1.5h-1.5zM163.8 77.1h1.5v1.5h-1.5zM172.5 77.8h1.5v1.5h-1.5zM153.5 78.5h1.5v1.5h-1.5zM153.7 75.6h1.5v1.5h-1.5zM170.0 78.5h1.5v1.5h-1.5zM162.6 75.7h1.5v1.5h-1.5zM164.0 76.8h1.5v1.5h-1.5zM163.6 79.5h1.5v1.5h-1.5zM151.5 76.7h1.5v1.5h-1.5zM155.9 83.8h1.5v1.5h-1.5zM156.0 82.6h1.5v1.5h-1.5zM156.0 95.2h1.5v1.5h-1.5zM161.9 90.1h1.5v1.5h-1.5zM158.4 83.6h1.5v1.5h-1.5zM155.6 85.3h1.5v1.5h-1.5zM170.9 89.0h1.5v1.5h-1.5zM162.6 80.9h1.5v1.5h-1.5zM165.1 93.7h1.5v1.5h-1.5zM151.7 95.4h1.5v1.5h-1.5zM158.3 95.3h1.5v1.5h-1.5zM166.2 89.5h1.5v1.5h-1.5zM157.7 88.0h1.5v1.5h-1.5zM173.4 92.6h1.5v1.5h-1.5zM153.9 91.6h1.5v1.5h-1.5zM158.1 63.9h1.5v1.5h-1.5zM167.7 68.6h1.5v1.5h-1.5zM154.1 72.3h1.5v1.5h-1.5zM153.1 64.5h1.5v1.5h-1.5zM168.0 51.0h1.5v1.5h-1.5zM172.0 44.2h1.5v1.5h-1.5zM201.2 44.9h1.5v1.5h-1.5zM200.3 45.4h1.5v1.5h-1.5zM195.3 43.9h1.5v1.5h-1.5zM178.3 41.8h1.5v1.5h-1.5zM204.1 43.0h1.5v1.5h-1.5zM181.1 42.2h1.5v1.5h-1.5zM192.2 42.2h1.5v1.5h-1.5zM177.8 41.0h1.5v1.5h-1.5zM174.1 44.5h1.5v1.5h-1.5zM190.7 44.7h1.5v1.5h-1.5zM177.7 42.1h1.5v1.5h-1.5zM215.7 44.0h1.5v1.5h-1.5zM185.2 42.2h1.5v1.5h-1.5zM183.3 43.6h1.5v1.5h-1.5zM202.9 43.4h1.5v1.5h-1.5zM180.5 45.3h1.5v1.5h-1.5zM196.8 40.5h1.5v1.5h-1.5zM212.6 45.2h1.5v1.5h-1.5zM195.1 43.1h1.5v1.5h-1.5zM182.1 42.2h1.5v1.5h-1.5zM194.8 48.2h1.5v1.5h-1.5zM186.3 47.1h1.5v1.5h-1.5zM208.2 51.2h1.5v1.5h-1.5zM179.9 51.1h1.5v1.5h-1.5zM179.3 49.3h1.5v1.5h-1.5zM203.3 50.3h1.5v1.5h-1.5zM215.0 55.1h1.5v1.5h-1.5zM204.0 61.5h1.5v1.5h-1.5zM178.7 66.9h1.5v1.5h-1.5zM176.3 64.0h1.5v1.5h-1.5zM204.4 66.6h1.5v1.5h-1.5zM203.2 66.4h1.5v1.5h-1.5zM203.9 67.4h1.5v1.5h-1.5zM215.1 65.6h1.5v1.5h-1.5zM174.2 69.5h1.5v1.5h-1.5zM204.5 73.3h1.5v1.5h-1.5zM200.7 79.7h1.5v1.5h-1.5zM210.6 74.6h1.5v1.5h-1.5zM178.8 77.6h1.5v1.5h-1.5zM202.2 81.0h1.5v1.5h-1.5zM175.8 77.9h1.5v1.5h-1.5zM210.7 72.1h1.5v1.5h-1.5zM187.4 72.9h1.5v1.5h-1.5zM207.0 73.3h1.5v1.5h-1.5zM198.7 72.3h1.5v1.5h-1.5zM201.1 72.5h1.5v1.5h-1.5zM197.8 79.3h1.5v1.5h-1.5zM195.8 76.7h1.5v1.5h-1.5zM188.2 77.7h1.5v1.5h-1.5zM195.4 75.8h1.5v1.5h-1.5zM183.3 78.6h1.5v1.5h-1.5zM195.1 76.5h1.5v1.5h-1.5zM191.6 75.1h1.5v1.5h-1.5zM181.8 76.3h1.5v1.5h-1.5zM185.6 74.1h1.5v1.5h-1.5zM203.6 74.0h1.5v1.5h-1.5zM195.7 78.8h1.5v1.5h-1.5zM212.9 76.4h1.5v1.5h-1.5zM189.8 78.4h1.5v1.5h-1.5zM190.9 74.7h1.5v1.5h-1.5zM208.4 76.7h1.5v1.5h-1.5zM204.7 79.1h1.5v1.5h-1.5zM193.0 77.8h1.5v1.5h-1.5zM186.9 90.7h1.5v1.5h-1.5zM205.7 85.1h1.5v1.5h-1.5zM182.7 92.6h1.5v1.5h-1.5zM206.9 86.3h1.5v1.5h-1.5zM202.4 86.5h1.5v1.5h-1.5zM203.1 92.0h1.5v1.5h-1.5zM176.6 90.7h1.5v1.5h-1.5zM175.4 81.6h1.5v1.5h-1.5zM196.0 86.0h1.5v1.5h-1.5zM214.6 84.0h1.5v1.5h-1.5zM183.6 91.0h1.5v1.5h-1.5zM178.6 84.1h1.5v1.5h-1.5zM205.0 88.8h1.5v1.5h-1.5zM189.5 92.0h1.5v1.5h-1.5zM194.5 85.4h1.5v1.5h-1.5zM211.6 83.3h1.5v1.5h-1.5zM210.4 89.5h1.5v1.5h-1.5zM191.7 91.4h1.5v1.5h-1.5zM245.2 56.8h1.5v1.5h-1.5zM220.7 56.3h1.5v1.5h-1.5zM243.7 53.3h1.5v1.5h-1.5zM225.9 53.3h1.5v1.5h-1.5zM242.7 55.5h1.5v1.5h-1.5zM221.8 53.7h1.5v1.5h-1.5zM227.2 57.1h1.5v1.5h-1.5zM243.1 55.4h1.5v1.5h-1.5zM227.9 54.6h1.5v1.5h-1.5zM223.7 57.6h1.5v1.5h-1.5zM227.7 69.7h1.5v1.5h-1.5zM216.3 69.8h1.5v1.5h-1.5zM238.8 70.5h1.5v1.5h-1.5zM236.4 65.3h1.5v1.5h-1.5zM221.7 76.2h1.5v1.5h-1.5zM236.2 65.5h1.5v1.5h-1.5zM224.8 72.9h1.5v1.5h-1.5zM241.7 60.1h1.5v1.5h-1.5zM223.0 66.0h1.5v1.5h-1.5zM233.2 70.7h1.5v1.5h-1.5zM217.1 70.7h1.5v1.5h-1.5zM235.3 65.7h1.5v1.5h-1.5zM231.3 74.3h1.5v1.5h-1.5zM222.4 70.9h1.5v1.5h-1.5zM228.5 70.0h1.5v1.5h-1.5zM243.1 74.5h1.5v1.5h-1.5zM245.6 72.2h1.5v1.5h-1.5zM241.7 72.2h1.5v1.5h-1.5zM233.6 69.7h1.5v1.5h-1.5zM217.1 62.2h1.5v1.5h-1.5zM240.3 71.7h1.5v1.5h-1.5zM239.3 67.9h1.5v1.5h-1.5zM245.6 75.6h1.5v1.5h-1.5zM227.4 72.4h1.5v1.5h-1.5zM234.7 62.5h1.5v1.5h-1.5zM241.3 66.6h1.5v1.5h-1.5zM227.6 80.5h1.5v1.5h-1.5zM219.1 91.0h1.5v1.5h-1.5zM238.6 87.5h1.5v1.5h-1.5zM245.8 94.3h1.5v1.5h-1.5zM229.9 91.9h1.5v1.5h-1.5zM216.1 94.3h1.5v1.5h-1.5zM218.7 88.9h1.5v1.5h-1.5zM229.0 86.2h1.5v1.5h-1.5zM224.7 82.4h1.5v1.5h-1.5zM231.5 76.9h1.5v1.5h-1.5zM221.1 86.1h1.5v1.5h-1.5zM230.8 88.8h1.5v1.5h-1.5zM241.8 92.0h1.5v1.5h-1.5zM242.3 89.1h1.5v1.5h-1.5zM226.1 84.1h1.5v1.5h-1.5zM232.9 90.5h1.5v1.5h-1.5zM221.0 47.2h1.5v1.5h-1.5zM249.0 84.7h1.5v1.5h-1.5zM259.3 97.4h1.5v1.5h-1.5zM269.6 91.1h1.5v1.5h-1.5zM257.8 94.2h1.5v1.5h-1.5zM276.4 94.0h1.5v1.5h-1.5zM261.0 84.7h1.5v1.5h-1.5zM259.0 93.1h1.5v1.5h-1.5zM251.8 89.1h1.5v1.5h-1.5zM269.9 92.4h1.5v1.5h-1.5zM260.6 95.6h1.5v1.5h-1.5zM274.4 92.2h1.5v1.5h-1.5zM275.9 93.5h1.5v1.5h-1.5zM272.4 98.7h1.5v1.5h-1.5zM253.9 84.7h1.5v1.5h-1.5zM270.6 88.9h1.5v1.5h-1.5zM263.9 92.0h1.5v1.5h-1.5zM253.1 96.5h1.5v1.5h-1.5zM269.2 88.7h1.5v1.5h-1.5zM255.3 89.4h1.5v1.5h-1.5zM250.9 89.9h1.5v1.5h-1.5zM252.2 91.4h1.5v1.5h-1.5zM257.3 90.8h1.5v1.5h-1.5zM250.8 91.8h1.5v1.5h-1.5zM268.2 97.1h1.5v1.5h-1.5zM257.1 77.9h1.5v1.5h-1.5zM265.7 78.5h1.5v1.5h-1.5zM274.1 78.9h1.5v1.5h-1.5zM254.0 80.1h1.5v1.5h-1.5zM260.1 57.4h1.5v1.5h-1.5zM259.3 58.4h1.5v1.5h-1.5zM255.9 55.6h1.5v1.5h-1.5zM260.0 57.1h1.5v1.5h-1.5zM289.0 55.6h1.5v1.5h-1.5zM288.3 53.6h1.5v1.5h-1.5zM296.7 54.9h1.5v1.5h-1.5zM290.4 54.2h1.5v1.5h-1.5zM289.6 54.3h1.5v1.5h-1.5zM292.7 59.2h1.5v1.5h-1.5zM296.0 56.6h1.5v1.5h-1.5zM295.6 67.7h1.5v1.5h-1.5zM293.3 65.1h1.5v1.5h-1.5zM290.6 64.5h1.5v1.5h-1.5zM291.7 77.7h1.5v1.5h-1.5zM298.2 98.4h1.5v1.5h-1.5zM285.5 92.5h1.5v1.5h-1.5zM287.8 97.4h1.5v1.5h-1.5zM296.0 96.2h1.5v1.5h-1.5zM326.2 89.6h1.5v1.5h-1.5zM323.8 88.7h1.5v1.5h-1.5zM303.1 90.7h1.5v1.5h-1.5zM295.5 89.4h1.5v1.5h-1.5zM320.9 91.4h1.5v1.5h-1.5zM292.9 98.1h1.5v1.5h-1.5zM326.4 93.3h1.5v1.5h-1.5zM311.4 90.0h1.5v1.5h-1.5zM288.9 91.7h1.5v1.5h-1.5zM304.3 90.8h1.5v1.5h-1.5zM303.9 97.0h1.5v1.5h-1.5zM327.9 96.1h1.5v1.5h-1.5zM317.8 90.4h1.5v1.5h-1.5zM293.9 91.8h1.5v1.5h-1.5zM301.0 96.7h1.5v1.5h-1.5zM292.4 89.1h1.5v1.5h-1.5zM299.7 93.7h1.5v1.5h-1.5zM306.1 98.8h1.5v1.5h-1.5zM318.2 91.3h1.5v1.5h-1.5zM324.0 95.3h1.5v1.5h-1.5zM292.1 95.4h1.5v1.5h-1.5zM317.1 92.2h1.5v1.5h-1.5zM301.5 93.6h1.5v1.5h-1.5zM289.4 89.4h1.5v1.5h-1.5zM304.6 93.8h1.5v1.5h-1.5zM319.8 97.0h1.5v1.5h-1.5zM320.6 85.9h1.5v1.5h-1.5zM323.6 87.9h1.5v1.5h-1.5zM305.4 83.8h1.5v1.5h-1.5zM312.4 85.7h1.5v1.5h-1.5zM315.7 86.9h1.5v1.5h-1.5zM331.6 78.8h1.5v1.5h-1.5zM337.0 77.5h1.5v1.5h-1.5zM337.5 75.9h1.5v1.5h-1.5zM334.0 75.5h1.5v1.5h-1.5zM326.9 74.7h1.5v1.5h-1.5zM329.4 74.3h1.5v1.5h-1.5zM340.7 86.1h1.5v1.5h-1.5zM341.3 90.0h1.5v1.5h-1.5zM338.5 81.8h1.5v1.5h-1.5zM328.8 95.3h1.5v1.5h-1.5zM333.2 88.8h1.5v1.5h-1.5zM328.0 93.4h1.5v1.5h-1.5zM342.3 90.7h1.5v1.5h-1.5zM328.0 94.0h1.5v1.5h-1.5zM336.5 93.9h1.5v1.5h-1.5zM334.5 88.4h1.5v1.5h-1.5zM361.4 93.1h1.5v1.5h-1.5zM371.8 94.2h1.5v1.5h-1.5zM374.2 93.8h1.5v1.5h-1.5zM351.0 92.5h1.5v1.5h-1.5zM364.8 93.0h1.5v1.5h-1.5zM355.7 92.5h1.5v1.5h-1.5zM358.0 92.6h1.5v1.5h-1.5zM355.9 92.9h1.5v1.5h-1.5zM366.9 93.4h1.5v1.5h-1.5zM362.5 94.1h1.5v1.5h-1.5zM366.7 92.7h1.5v1.5h-1.5zM354.0 93.0h1.5v1.5h-1.5zM369.1 94.0h1.5v1.5h-1.5zM371.8 92.3h1.5v1.5h-1.5zM351.3 93.7h1.5v1.5h-1.5zM352.2 93.6h1.5v1.5h-1.5zM352.2 93.1h1.5v1.5h-1.5zM356.5 93.5h1.5v1.5h-1.5zM362.0 93.4h1.5v1.5h-1.5zM370.5 92.6h1.5v1.5h-1.5zM353.0 93.7h1.5v1.5h-1.5zM350.2 93.5h1.5v1.5h-1.5zM352.8 92.6h1.5v1.5h-1.5zM370.3 92.0h1.5v1.5h-1.5zM355.4 94.1h1.5v1.5h-1.5zM369.7 93.3h1.5v1.5h-1.5zM374.2 93.3h1.5v1.5h-1.5zM358.1 94.1h1.5v1.5h-1.5zM374.6 93.1h1.5v1.5h-1.5zM361.5 93.2h1.5v1.5h-1.5zM370.0 92.3h1.5v1.5h-1.5zM362.4 93.8h1.5v1.5h-1.5zM360.6 92.2h1.5v1.5h-1.5zM360.6 92.7h1.5v1.5h-1.5zM364.6 93.2h1.5v1.5h-1.5zM364.9 93.7h1.5v1.5h-1.5zM364.5 92.3h1.5v1.5h-1.5zM352.1 93.4h1.5v1.5h-1.5zM372.9 92.0h1.5v1.5h-1.5zM350.3 92.8h1.5v1.5h-1.5zM366.4 92.3h1.5v1.5h-1.5zM362.2 93.9h1.5v1.5h-1.5zM357.8 92.6h1.5v1.5h-1.5zM368.9 93.8h1.5v1.5h-1.5zM366.7 92.7h1.5v1.5h-1.5zM365.4 103.4h1.5v1.5h-1.5zM358.7 100.7h1.5v1.5h-1.5zM363.5 100.6h1.5v1.5h-1.5zM349.0 97.6h1.5v1.5h-1.5zM353.9 96.5h1.5v1.5h-1.5zM354.5 98.7h1.5v1.5h-1.5zM370.1 102.6h1.5v1.5h-1.5zM367.7 103.0h1.5v1.5h-1.5zM374.0 103.4h1.5v1.5h-1.5zM367.4 100.3h1.5v1.5h-1.5zM366.0 79.6h1.5v1.5h-1.5zM158.0 32.2h1.5v1.5h-1.5zM371.1 90.4h1.5v1.5h-1.5zM373.0 90.3h1.5v1.5h-1.5zM370.7 90.0h1.5v1.5h-1.5z" fill="#000"/>
<path d="M178 66.2l1.6 3.4h-3.2zM195.3 62.1l1.6 3.4h-3.2z" fill="#f00"/>
<text x="164.6" y="35.8" font-size="9" text-anchor="start" fill="#000" textLength="28.4" lengthAdjust="spacingAndGlyphs" fill="#222">rs1541374</text>
<path d="M180.4 29.6l0.9 3.6h-1.8z" fill="#f00"/>
<line x1="49.80" y1="116.30" x2="53.00" y2="116.30" stroke="#333" stroke-width="0.8" />
<text x="46.3" y="120.4" font-size="11.5" text-anchor="end" fill="#000" >0</text>
<line x1="49.80" y1="93.74" x2="53.00" y2="93.74" stroke="#333" stroke-width="0.8" />
<text x="46.3" y="97.8" font-size="11.5" text-anchor="end" fill="#000" >3</text>
<line x1="49.80" y1="71.18" x2="53.00" y2="71.18" stroke="#333" stroke-width="0.8" />
<text x="46.3" y="75.3" font-size="11.5" text-anchor="end" fill="#000" >6</text>
<line x1="49.80" y1="48.62" x2="53.00" y2="48.62" stroke="#333" stroke-width="0.8" />
<text x="46.3" y="52.7" font-size="11.5" text-anchor="end" fill="#000" >9</text>
<text transform="translate(14.0,75.0) rotate(-90)" font-size="11.5" text-anchor="middle" fill="#000" >GWAS</text>
<text transform="translate(29.5,79.5) rotate(-90)" font-size="11.5" text-anchor="middle" fill="#000" >-log<tspan font-size="8.5" dy="1">10</tspan><tspan dy="-1">(p-value)</tspan></text>
<line x1="49.50" y1="213.70" x2="52.50" y2="213.70" stroke="#333" stroke-width="0.8" />
<text x="46.2" y="218.3" font-size="11.4" text-anchor="end" fill="#000" >0.00</text>
<line x1="49.50" y1="192.50" x2="52.50" y2="192.50" stroke="#333" stroke-width="0.8" />
<text x="46.2" y="197.6" font-size="11.4" text-anchor="end" fill="#000" >0.25</text>
<line x1="49.50" y1="171.30" x2="52.50" y2="171.30" stroke="#333" stroke-width="0.8" />
<text x="46.2" y="177.6" font-size="11.4" text-anchor="end" fill="#000" >0.50</text>
<line x1="49.50" y1="150.10" x2="52.50" y2="150.10" stroke="#333" stroke-width="0.8" />
<text x="46.2" y="157.3" font-size="11.4" text-anchor="end" fill="#000" >0.75</text>
<line x1="49.50" y1="128.90" x2="52.50" y2="128.90" stroke="#333" stroke-width="0.8" />
<text x="46.2" y="136.0" font-size="11.4" text-anchor="end" fill="#000" >1.00</text>
<path d="M66.2 212.8H88.5V214.6H66.2zM89.3 212.8H107.0V214.6H89.3zM107.8 212.8H114.5V214.6H107.8zM115.3 212.8H175.8V214.6H115.3zM176.6 212.8H238.0V214.6H176.6zM238.8 212.8H262.5V214.6H238.8zM263.3 212.8H376.0V214.6H263.3z" fill="#000"/>
<path d="M154.5 207h1.2v1.2h-1.2zM156.2 208.7h1.2v1.2h-1.2zM155 210.3h1.2v1.2h-1.2zM181 210.8h1v1h-1z" fill="#000"/>
<path d="M180.3 126.6l1.6 3.4h-3.2zM178.3 136l1.6 3.4h-3.2zM195.7 181.2l1.6 3.4h-3.2z" fill="#f00"/>
<text x="112.6" y="135.0" font-size="11.3" text-anchor="start" fill="#000" >rs6533181</text>
<text x="96.0" y="151.8" font-size="11.3" text-anchor="start" fill="#000" >rs115918101</text>
<text x="207.6" y="187.2" font-size="11.3" text-anchor="start" fill="#000" >rs2214407</text>
<text transform="translate(13.3,178.7) rotate(-90)" font-size="11.5" text-anchor="middle" fill="#000" >CredibleSet.PIP</text>
<path d="M166.4 309.7h1.5v1.5h-1.5zM232.1 309.5h1.5v1.5h-1.5zM223.3 309.5h1.5v1.5h-1.5zM200.4 308.7h1.5v1.5h-1.5zM322.3 309.1h1.5v1.5h-1.5zM135.2 302.2h1.5v1.5h-1.5zM244.9 301.9h1.5v1.5h-1.5zM80.4 309.3h1.5v1.5h-1.5zM102.5 309.2h1.5v1.5h-1.5zM319.0 308.1h1.5v1.5h-1.5zM84.5 308.9h1.5v1.5h-1.5zM276.9 307.4h1.5v1.5h-1.5zM247.5 307.5h1.5v1.5h-1.5zM312.3 308.0h1.5v1.5h-1.5zM244.1 302.8h1.5v1.5h-1.5zM292.1 309.3h1.5v1.5h-1.5zM195.6 308.7h1.5v1.5h-1.5zM217.6 309.9h1.5v1.5h-1.5zM273.1 305.3h1.5v1.5h-1.5zM337.4 309.3h1.5v1.5h-1.5zM245.8 303.1h1.5v1.5h-1.5zM358.9 304.5h1.5v1.5h-1.5zM84.8 304.6h1.5v1.5h-1.5zM373.9 303.3h1.5v1.5h-1.5zM154.2 304.5h1.5v1.5h-1.5zM73.0 308.6h1.5v1.5h-1.5zM102.3 309.9h1.5v1.5h-1.5zM142.8 302.8h1.5v1.5h-1.5zM91.0 305.5h1.5v1.5h-1.5zM339.8 307.2h1.5v1.5h-1.5zM340.1 307.5h1.5v1.5h-1.5zM112.8 309.9h1.5v1.5h-1.5zM216.3 307.8h1.5v1.5h-1.5zM67.3 306.9h1.5v1.5h-1.5zM280.1 304.9h1.5v1.5h-1.5zM275.6 307.9h1.5v1.5h-1.5zM337.1 306.8h1.5v1.5h-1.5zM262.6 309.1h1.5v1.5h-1.5zM116.3 309.6h1.5v1.5h-1.5zM82.3 309.6h1.5v1.5h-1.5zM178.7 309.4h1.5v1.5h-1.5zM337.0 308.8h1.5v1.5h-1.5zM144.2 309.5h1.5v1.5h-1.5zM329.2 308.0h1.5v1.5h-1.5zM210.5 309.3h1.5v1.5h-1.5zM97.7 309.7h1.5v1.5h-1.5zM116.0 307.2h1.5v1.5h-1.5zM234.4 305.9h1.5v1.5h-1.5zM179.7 309.3h1.5v1.5h-1.5zM305.3 303.6h1.5v1.5h-1.5zM168.2 308.4h1.5v1.5h-1.5zM226.5 309.8h1.5v1.5h-1.5zM74.7 309.9h1.5v1.5h-1.5zM362.5 302.2h1.5v1.5h-1.5zM372.3 301.9h1.5v1.5h-1.5zM179.0 309.9h1.5v1.5h-1.5zM129.4 302.6h1.5v1.5h-1.5zM326.5 304.6h1.5v1.5h-1.5zM214.2 307.5h1.5v1.5h-1.5zM310.6 308.7h1.5v1.5h-1.5zM188.7 302.2h1.5v1.5h-1.5zM290.7 306.2h1.5v1.5h-1.5zM105.4 307.7h1.5v1.5h-1.5zM111.3 304.6h1.5v1.5h-1.5zM236.1 306.0h1.5v1.5h-1.5zM267.4 302.3h1.5v1.5h-1.5zM200.5 308.7h1.5v1.5h-1.5zM322.1 310.0h1.5v1.5h-1.5zM140.6 307.9h1.5v1.5h-1.5zM195.9 308.7h1.5v1.5h-1.5zM246.8 299.7h1.5v1.5h-1.5zM71.8 308.5h1.5v1.5h-1.5zM67.2 308.6h1.5v1.5h-1.5zM212.8 305.4h1.5v1.5h-1.5zM167.1 305.4h1.5v1.5h-1.5zM309.1 308.4h1.5v1.5h-1.5zM239.7 309.6h1.5v1.5h-1.5zM223.4 303.7h1.5v1.5h-1.5zM348.9 304.9h1.5v1.5h-1.5zM222.7 304.3h1.5v1.5h-1.5zM206.2 306.0h1.5v1.5h-1.5zM357.9 302.7h1.5v1.5h-1.5zM239.4 308.5h1.5v1.5h-1.5zM103.7 309.4h1.5v1.5h-1.5zM140.6 309.3h1.5v1.5h-1.5zM273.5 302.6h1.5v1.5h-1.5zM113.9 304.5h1.5v1.5h-1.5zM110.3 306.4h1.5v1.5h-1.5zM361.3 306.0h1.5v1.5h-1.5zM372.9 309.2h1.5v1.5h-1.5zM116.1 305.7h1.5v1.5h-1.5zM171.1 309.0h1.5v1.5h-1.5zM72.0 306.4h1.5v1.5h-1.5zM71.6 307.8h1.5v1.5h-1.5zM259.4 309.5h1.5v1.5h-1.5zM371.4 302.0h1.5v1.5h-1.5zM149.8 309.4h1.5v1.5h-1.5zM196.9 308.3h1.5v1.5h-1.5zM112.3 306.3h1.5v1.5h-1.5zM242.9 309.3h1.5v1.5h-1.5zM83.8 306.5h1.5v1.5h-1.5zM88.4 303.7h1.5v1.5h-1.5zM92.0 302.9h1.5v1.5h-1.5zM86.7 305.4h1.5v1.5h-1.5zM237.4 308.6h1.5v1.5h-1.5zM149.0 308.9h1.5v1.5h-1.5zM99.9 309.8h1.5v1.5h-1.5zM81.6 309.5h1.5v1.5h-1.5zM301.4 308.8h1.5v1.5h-1.5zM221.0 309.8h1.5v1.5h-1.5zM143.6 309.8h1.5v1.5h-1.5zM293.3 308.4h1.5v1.5h-1.5zM213.2 302.4h1.5v1.5h-1.5zM200.0 303.1h1.5v1.5h-1.5zM370.6 308.3h1.5v1.5h-1.5zM324.0 304.7h1.5v1.5h-1.5zM191.5 309.3h1.5v1.5h-1.5zM87.9 307.9h1.5v1.5h-1.5zM116.6 309.7h1.5v1.5h-1.5zM326.8 307.9h1.5v1.5h-1.5zM141.1 308.9h1.5v1.5h-1.5zM208.4 308.9h1.5v1.5h-1.5zM364.2 308.6h1.5v1.5h-1.5zM235.6 308.7h1.5v1.5h-1.5zM176.5 309.7h1.5v1.5h-1.5zM184.3 305.8h1.5v1.5h-1.5zM128.3 310.0h1.5v1.5h-1.5zM147.9 309.6h1.5v1.5h-1.5zM73.0 309.7h1.5v1.5h-1.5zM138.2 305.6h1.5v1.5h-1.5zM298.7 304.1h1.5v1.5h-1.5zM338.5 307.3h1.5v1.5h-1.5zM371.3 309.7h1.5v1.5h-1.5zM79.6 302.5h1.5v1.5h-1.5zM342.5 303.9h1.5v1.5h-1.5zM317.8 308.2h1.5v1.5h-1.5zM324.8 309.1h1.5v1.5h-1.5zM322.2 302.6h1.5v1.5h-1.5zM277.7 308.1h1.5v1.5h-1.5zM75.7 309.5h1.5v1.5h-1.5zM260.1 306.0h1.5v1.5h-1.5zM67.0 303.8h1.5v1.5h-1.5zM221.9 304.5h1.5v1.5h-1.5zM86.5 307.9h1.5v1.5h-1.5zM89.1 309.5h1.5v1.5h-1.5zM292.1 309.7h1.5v1.5h-1.5zM219.1 306.0h1.5v1.5h-1.5zM277.9 304.9h1.5v1.5h-1.5zM265.3 305.9h1.5v1.5h-1.5zM111.7 309.9h1.5v1.5h-1.5zM242.0 308.7h1.5v1.5h-1.5zM84.8 308.9h1.5v1.5h-1.5zM275.5 308.0h1.5v1.5h-1.5zM226.1 306.1h1.5v1.5h-1.5zM102.7 305.4h1.5v1.5h-1.5zM356.2 306.1h1.5v1.5h-1.5zM208.3 304.4h1.5v1.5h-1.5zM149.3 309.7h1.5v1.5h-1.5zM359.1 309.3h1.5v1.5h-1.5zM228.5 308.6h1.5v1.5h-1.5zM107.1 299.5h1.5v1.5h-1.5zM284.0 309.8h1.5v1.5h-1.5zM344.3 309.8h1.5v1.5h-1.5zM67.1 306.3h1.5v1.5h-1.5zM159.6 309.3h1.5v1.5h-1.5zM298.7 301.2h1.5v1.5h-1.5zM287.0 301.8h1.5v1.5h-1.5zM155.8 306.7h1.5v1.5h-1.5zM324.7 309.8h1.5v1.5h-1.5zM124.9 302.1h1.5v1.5h-1.5zM340.1 303.7h1.5v1.5h-1.5zM261.6 303.8h1.5v1.5h-1.5zM289.1 309.3h1.5v1.5h-1.5zM293.0 303.8h1.5v1.5h-1.5zM265.8 306.7h1.5v1.5h-1.5zM105.5 307.2h1.5v1.5h-1.5zM158.3 301.9h1.5v1.5h-1.5zM146.7 307.5h1.5v1.5h-1.5zM238.8 308.6h1.5v1.5h-1.5zM116.1 309.0h1.5v1.5h-1.5zM346.8 308.2h1.5v1.5h-1.5zM346.9 307.3h1.5v1.5h-1.5zM125.6 309.7h1.5v1.5h-1.5zM172.0 309.9h1.5v1.5h-1.5zM242.6 305.9h1.5v1.5h-1.5zM228.5 307.2h1.5v1.5h-1.5zM85.2 309.2h1.5v1.5h-1.5zM222.1 302.9h1.5v1.5h-1.5zM132.9 309.8h1.5v1.5h-1.5zM143.0 306.3h1.5v1.5h-1.5zM361.7 309.2h1.5v1.5h-1.5zM76.0 302.6h1.5v1.5h-1.5zM212.7 310.0h1.5v1.5h-1.5zM187.4 309.2h1.5v1.5h-1.5zM321.9 306.1h1.5v1.5h-1.5zM99.8 309.8h1.5v1.5h-1.5zM227.9 302.2h1.5v1.5h-1.5zM289.7 303.7h1.5v1.5h-1.5zM207.8 309.7h1.5v1.5h-1.5zM160.2 309.0h1.5v1.5h-1.5zM144.1 304.2h1.5v1.5h-1.5zM100.8 308.0h1.5v1.5h-1.5zM186.3 309.7h1.5v1.5h-1.5zM252.3 309.5h1.5v1.5h-1.5zM363.3 302.7h1.5v1.5h-1.5zM213.3 308.4h1.5v1.5h-1.5zM142.6 308.7h1.5v1.5h-1.5zM72.8 304.4h1.5v1.5h-1.5zM196.2 308.8h1.5v1.5h-1.5zM272.9 309.8h1.5v1.5h-1.5zM170.8 304.4h1.5v1.5h-1.5zM127.4 303.9h1.5v1.5h-1.5zM222.5 309.6h1.5v1.5h-1.5zM366.7 309.5h1.5v1.5h-1.5zM134.6 307.6h1.5v1.5h-1.5zM361.1 308.5h1.5v1.5h-1.5zM135.2 304.5h1.5v1.5h-1.5zM360.1 309.0h1.5v1.5h-1.5zM188.0 309.2h1.5v1.5h-1.5zM82.1 309.9h1.5v1.5h-1.5zM187.9 303.6h1.5v1.5h-1.5zM375.2 304.3h1.5v1.5h-1.5zM168.1 307.7h1.5v1.5h-1.5zM75.9 306.9h1.5v1.5h-1.5zM181.9 309.0h1.5v1.5h-1.5zM364.9 308.3h1.5v1.5h-1.5zM320.8 309.6h1.5v1.5h-1.5zM212.8 302.4h1.5v1.5h-1.5zM125.8 302.6h1.5v1.5h-1.5zM75.4 303.3h1.5v1.5h-1.5zM303.7 307.8h1.5v1.5h-1.5zM76.8 309.0h1.5v1.5h-1.5zM297.7 308.0h1.5v1.5h-1.5zM171.1 308.0h1.5v1.5h-1.5zM147.3 307.4h1.5v1.5h-1.5zM151.4 309.5h1.5v1.5h-1.5zM300.3 301.6h1.5v1.5h-1.5zM73.5 307.3h1.5v1.5h-1.5zM213.3 305.0h1.5v1.5h-1.5zM143.8 305.9h1.5v1.5h-1.5zM353.7 309.6h1.5v1.5h-1.5zM314.8 303.2h1.5v1.5h-1.5zM305.6 307.3h1.5v1.5h-1.5zM165.1 303.5h1.5v1.5h-1.5zM90.5 310.0h1.5v1.5h-1.5zM86.1 308.9h1.5v1.5h-1.5zM237.3 306.9h1.5v1.5h-1.5zM372.2 309.6h1.5v1.5h-1.5zM92.1 307.6h1.5v1.5h-1.5zM204.6 310.0h1.5v1.5h-1.5zM195.2 304.4h1.5v1.5h-1.5zM297.9 308.6h1.5v1.5h-1.5zM326.7 309.3h1.5v1.5h-1.5zM241.7 303.9h1.5v1.5h-1.5zM127.7 310.0h1.5v1.5h-1.5zM340.1 307.3h1.5v1.5h-1.5zM188.8 307.0h1.5v1.5h-1.5zM223.3 309.2h1.5v1.5h-1.5zM373.2 308.0h1.5v1.5h-1.5zM213.2 303.7h1.5v1.5h-1.5zM78.5 307.2h1.5v1.5h-1.5zM103.0 308.0h1.5v1.5h-1.5zM354.4 302.8h1.5v1.5h-1.5zM205.2 309.7h1.5v1.5h-1.5zM307.1 304.4h1.5v1.5h-1.5zM258.2 308.8h1.5v1.5h-1.5zM180.3 309.7h1.5v1.5h-1.5zM251.8 308.3h1.5v1.5h-1.5zM69.5 308.9h1.5v1.5h-1.5zM276.3 309.6h1.5v1.5h-1.5zM97.4 305.4h1.5v1.5h-1.5zM264.1 309.1h1.5v1.5h-1.5zM116.7 306.6h1.5v1.5h-1.5zM153.8 308.8h1.5v1.5h-1.5zM241.6 306.6h1.5v1.5h-1.5zM333.9 308.7h1.5v1.5h-1.5zM178.8 309.9h1.5v1.5h-1.5zM67.8 306.5h1.5v1.5h-1.5zM197.4 300.9h1.5v1.5h-1.5zM208.9 308.3h1.5v1.5h-1.5zM70.6 304.7h1.5v1.5h-1.5zM348.0 309.0h1.5v1.5h-1.5zM222.4 309.0h1.5v1.5h-1.5zM153.8 302.3h1.5v1.5h-1.5zM99.7 303.3h1.5v1.5h-1.5zM365.7 307.5h1.5v1.5h-1.5zM368.4 309.6h1.5v1.5h-1.5zM353.1 302.5h1.5v1.5h-1.5zM258.3 301.0h1.5v1.5h-1.5zM115.7 308.2h1.5v1.5h-1.5zM133.6 305.7h1.5v1.5h-1.5zM184.9 309.2h1.5v1.5h-1.5zM142.6 302.6h1.5v1.5h-1.5zM78.7 303.7h1.5v1.5h-1.5zM77.8 304.7h1.5v1.5h-1.5zM236.5 307.5h1.5v1.5h-1.5zM196.2 306.5h1.5v1.5h-1.5zM270.2 306.4h1.5v1.5h-1.5zM73.2 306.0h1.5v1.5h-1.5zM138.9 303.5h1.5v1.5h-1.5zM208.1 308.6h1.5v1.5h-1.5zM212.7 308.9h1.5v1.5h-1.5zM94.4 305.8h1.5v1.5h-1.5zM78.6 309.3h1.5v1.5h-1.5zM293.4 305.8h1.5v1.5h-1.5zM82.8 306.9h1.5v1.5h-1.5zM360.8 308.8h1.5v1.5h-1.5zM331.7 308.9h1.5v1.5h-1.5zM126.0 300.4h1.5v1.5h-1.5zM218.5 307.3h1.5v1.5h-1.5zM310.4 308.4h1.5v1.5h-1.5zM86.3 303.7h1.5v1.5h-1.5zM115.2 308.5h1.5v1.5h-1.5zM110.5 302.4h1.5v1.5h-1.5zM130.6 307.3h1.5v1.5h-1.5zM116.0 309.2h1.5v1.5h-1.5zM276.7 305.5h1.5v1.5h-1.5zM101.7 304.7h1.5v1.5h-1.5zM177.5 301.9h1.5v1.5h-1.5zM238.1 302.7h1.5v1.5h-1.5zM98.4 306.4h1.5v1.5h-1.5zM313.3 308.9h1.5v1.5h-1.5zM373.1 307.0h1.5v1.5h-1.5zM303.0 308.5h1.5v1.5h-1.5zM264.2 306.4h1.5v1.5h-1.5zM247.6 307.4h1.5v1.5h-1.5zM66.6 308.8h1.5v1.5h-1.5zM200.0 302.6h1.5v1.5h-1.5zM106.9 308.3h1.5v1.5h-1.5zM268.5 308.6h1.5v1.5h-1.5zM99.0 308.1h1.5v1.5h-1.5zM246.9 308.3h1.5v1.5h-1.5zM259.4 308.9h1.5v1.5h-1.5zM356.3 310.0h1.5v1.5h-1.5zM112.3 308.0h1.5v1.5h-1.5zM308.5 307.8h1.5v1.5h-1.5zM69.6 305.3h1.5v1.5h-1.5zM174.6 306.3h1.5v1.5h-1.5zM346.1 307.7h1.5v1.5h-1.5zM230.8 308.0h1.5v1.5h-1.5zM84.1 309.9h1.5v1.5h-1.5zM236.8 307.8h1.5v1.5h-1.5zM254.5 304.7h1.5v1.5h-1.5zM318.1 309.2h1.5v1.5h-1.5zM161.9 307.0h1.5v1.5h-1.5zM308.7 309.9h1.5v1.5h-1.5zM327.8 306.2h1.5v1.5h-1.5zM295.9 308.1h1.5v1.5h-1.5zM98.6 309.1h1.5v1.5h-1.5zM78.0 310.0h1.5v1.5h-1.5zM328.1 307.8h1.5v1.5h-1.5zM237.7 303.5h1.5v1.5h-1.5zM228.2 307.7h1.5v1.5h-1.5zM70.7 307.0h1.5v1.5h-1.5zM139.2 302.2h1.5v1.5h-1.5zM297.3 309.0h1.5v1.5h-1.5zM140.1 306.8h1.5v1.5h-1.5zM261.5 304.5h1.5v1.5h-1.5zM369.5 303.1h1.5v1.5h-1.5zM282.3 302.2h1.5v1.5h-1.5zM242.8 309.1h1.5v1.5h-1.5zM131.7 309.4h1.5v1.5h-1.5zM348.3 309.3h1.5v1.5h-1.5zM354.0 309.9h1.5v1.5h-1.5zM262.5 303.9h1.5v1.5h-1.5zM86.4 307.0h1.5v1.5h-1.5zM319.4 307.9h1.5v1.5h-1.5zM342.3 307.8h1.5v1.5h-1.5zM358.7 307.5h1.5v1.5h-1.5zM261.8 309.4h1.5v1.5h-1.5zM97.0 310.0h1.5v1.5h-1.5zM164.9 309.8h1.5v1.5h-1.5zM145.6 309.0h1.5v1.5h-1.5zM287.9 307.3h1.5v1.5h-1.5zM305.6 309.2h1.5v1.5h-1.5zM333.3 309.6h1.5v1.5h-1.5zM66.4 309.2h1.5v1.5h-1.5zM302.3 303.9h1.5v1.5h-1.5zM218.4 308.5h1.5v1.5h-1.5zM219.3 310.0h1.5v1.5h-1.5zM323.9 308.8h1.5v1.5h-1.5zM132.6 305.9h1.5v1.5h-1.5zM100.1 309.3h1.5v1.5h-1.5zM310.3 303.5h1.5v1.5h-1.5zM260.7 306.7h1.5v1.5h-1.5zM188.3 308.5h1.5v1.5h-1.5zM92.7 306.5h1.5v1.5h-1.5zM147.6 309.4h1.5v1.5h-1.5zM221.4 302.7h1.5v1.5h-1.5zM138.4 305.6h1.5v1.5h-1.5zM299.9 304.7h1.5v1.5h-1.5zM271.3 308.6h1.5v1.5h-1.5zM202.0 305.2h1.5v1.5h-1.5zM105.1 302.7h1.5v1.5h-1.5zM139.8 307.6h1.5v1.5h-1.5zM159.5 303.0h1.5v1.5h-1.5zM113.9 310.0h1.5v1.5h-1.5zM227.9 308.7h1.5v1.5h-1.5zM167.7 307.6h1.5v1.5h-1.5zM97.6 308.7h1.5v1.5h-1.5zM97.5 301.9h1.5v1.5h-1.5zM312.4 306.4h1.5v1.5h-1.5zM126.8 309.1h1.5v1.5h-1.5zM130.0 309.7h1.5v1.5h-1.5zM189.7 304.3h1.5v1.5h-1.5zM221.2 306.2h1.5v1.5h-1.5zM110.0 306.7h1.5v1.5h-1.5zM295.7 303.8h1.5v1.5h-1.5zM298.2 308.1h1.5v1.5h-1.5zM289.9 307.1h1.5v1.5h-1.5zM276.7 306.2h1.5v1.5h-1.5zM163.0 309.2h1.5v1.5h-1.5zM196.1 304.1h1.5v1.5h-1.5zM261.2 308.5h1.5v1.5h-1.5zM258.7 304.4h1.5v1.5h-1.5zM354.4 309.2h1.5v1.5h-1.5zM268.9 306.8h1.5v1.5h-1.5zM217.9 303.6h1.5v1.5h-1.5zM115.9 302.2h1.5v1.5h-1.5zM227.0 309.6h1.5v1.5h-1.5zM244.1 304.1h1.5v1.5h-1.5zM224.8 303.1h1.5v1.5h-1.5zM227.7 302.2h1.5v1.5h-1.5zM131.1 306.8h1.5v1.5h-1.5zM302.4 308.6h1.5v1.5h-1.5zM83.6 309.9h1.5v1.5h-1.5zM189.9 308.6h1.5v1.5h-1.5zM282.5 307.8h1.5v1.5h-1.5zM135.6 302.2h1.5v1.5h-1.5zM229.4 309.2h1.5v1.5h-1.5zM314.5 308.2h1.5v1.5h-1.5zM106.1 303.3h1.5v1.5h-1.5zM262.6 305.4h1.5v1.5h-1.5zM136.1 305.5h1.5v1.5h-1.5zM319.8 304.0h1.5v1.5h-1.5zM211.1 309.3h1.5v1.5h-1.5zM324.5 303.0h1.5v1.5h-1.5zM148.9 307.9h1.5v1.5h-1.5zM198.1 309.8h1.5v1.5h-1.5zM66.8 307.7h1.5v1.5h-1.5zM141.9 308.4h1.5v1.5h-1.5zM263.6 307.0h1.5v1.5h-1.5zM353.9 309.3h1.5v1.5h-1.5zM83.7 302.4h1.5v1.5h-1.5zM109.5 304.9h1.5v1.5h-1.5zM262.3 306.3h1.5v1.5h-1.5zM269.3 309.7h1.5v1.5h-1.5zM97.5 309.7h1.5v1.5h-1.5zM173.4 307.4h1.5v1.5h-1.5zM346.3 308.6h1.5v1.5h-1.5zM342.3 303.5h1.5v1.5h-1.5zM273.2 307.6h1.5v1.5h-1.5zM127.2 305.6h1.5v1.5h-1.5zM296.0 302.7h1.5v1.5h-1.5zM238.1 307.2h1.5v1.5h-1.5zM138.6 309.5h1.5v1.5h-1.5zM210.8 310.0h1.5v1.5h-1.5zM218.3 305.5h1.5v1.5h-1.5zM333.5 309.1h1.5v1.5h-1.5zM240.4 303.0h1.5v1.5h-1.5zM182.2 302.1h1.5v1.5h-1.5zM89.4 304.7h1.5v1.5h-1.5zM74.8 304.4h1.5v1.5h-1.5zM354.8 308.6h1.5v1.5h-1.5zM370.3 306.0h1.5v1.5h-1.5zM344.2 309.6h1.5v1.5h-1.5zM171.0 302.8h1.5v1.5h-1.5zM179.5 305.7h1.5v1.5h-1.5zM304.9 308.6h1.5v1.5h-1.5zM237.7 307.8h1.5v1.5h-1.5zM156.8 304.9h1.5v1.5h-1.5zM150.2 301.9h1.5v1.5h-1.5zM268.9 307.3h1.5v1.5h-1.5zM164.3 309.0h1.5v1.5h-1.5zM247.8 303.5h1.5v1.5h-1.5zM78.4 302.7h1.5v1.5h-1.5zM235.1 309.9h1.5v1.5h-1.5zM124.9 309.4h1.5v1.5h-1.5zM260.3 305.1h1.5v1.5h-1.5zM277.1 309.2h1.5v1.5h-1.5zM302.4 308.6h1.5v1.5h-1.5zM122.2 309.5h1.5v1.5h-1.5zM309.8 307.9h1.5v1.5h-1.5zM159.6 307.4h1.5v1.5h-1.5zM199.5 302.3h1.5v1.5h-1.5zM82.9 309.7h1.5v1.5h-1.5zM102.8 299.5h1.5v1.5h-1.5zM244.3 309.2h1.5v1.5h-1.5zM186.0 302.2h1.5v1.5h-1.5zM370.0 306.6h1.5v1.5h-1.5zM97.6 308.2h1.5v1.5h-1.5zM113.0 309.9h1.5v1.5h-1.5zM67.5 309.0h1.5v1.5h-1.5zM365.6 309.5h1.5v1.5h-1.5zM71.5 308.0h1.5v1.5h-1.5zM293.4 309.4h1.5v1.5h-1.5zM81.5 304.1h1.5v1.5h-1.5zM331.2 309.3h1.5v1.5h-1.5zM260.9 306.2h1.5v1.5h-1.5zM355.0 307.7h1.5v1.5h-1.5zM69.5 309.5h1.5v1.5h-1.5zM332.9 309.5h1.5v1.5h-1.5zM179.9 306.4h1.5v1.5h-1.5zM275.8 309.6h1.5v1.5h-1.5zM265.9 306.5h1.5v1.5h-1.5zM185.6 302.2h1.5v1.5h-1.5zM309.2 307.6h1.5v1.5h-1.5zM84.8 305.2h1.5v1.5h-1.5zM284.0 306.5h1.5v1.5h-1.5zM252.4 307.2h1.5v1.5h-1.5zM182.8 305.0h1.5v1.5h-1.5zM343.8 305.2h1.5v1.5h-1.5zM153.8 309.9h1.5v1.5h-1.5zM341.1 308.6h1.5v1.5h-1.5zM329.9 301.7h1.5v1.5h-1.5zM278.2 308.7h1.5v1.5h-1.5zM237.6 308.3h1.5v1.5h-1.5zM298.6 308.2h1.5v1.5h-1.5zM138.5 304.4h1.5v1.5h-1.5zM210.3 309.9h1.5v1.5h-1.5zM311.4 309.3h1.5v1.5h-1.5zM316.0 308.1h1.5v1.5h-1.5zM245.7 301.2h1.5v1.5h-1.5zM340.4 306.1h1.5v1.5h-1.5zM248.7 309.7h1.5v1.5h-1.5zM283.3 305.3h1.5v1.5h-1.5zM190.8 308.8h1.5v1.5h-1.5zM79.8 306.9h1.5v1.5h-1.5zM182.0 308.2h1.5v1.5h-1.5zM114.4 307.1h1.5v1.5h-1.5zM227.0 308.0h1.5v1.5h-1.5zM76.4 306.0h1.5v1.5h-1.5zM241.8 308.7h1.5v1.5h-1.5zM307.5 302.2h1.5v1.5h-1.5zM303.8 306.1h1.5v1.5h-1.5zM77.7 309.7h1.5v1.5h-1.5zM122.0 308.2h1.5v1.5h-1.5zM335.9 302.2h1.5v1.5h-1.5zM251.4 309.0h1.5v1.5h-1.5zM363.4 308.0h1.5v1.5h-1.5zM362.5 306.7h1.5v1.5h-1.5zM205.0 309.2h1.5v1.5h-1.5zM365.4 309.7h1.5v1.5h-1.5zM145.3 302.5h1.5v1.5h-1.5zM346.4 308.5h1.5v1.5h-1.5zM80.6 304.1h1.5v1.5h-1.5zM266.5 307.2h1.5v1.5h-1.5zM300.0 309.0h1.5v1.5h-1.5zM275.8 307.9h1.5v1.5h-1.5zM98.7 308.6h1.5v1.5h-1.5zM145.7 309.1h1.5v1.5h-1.5zM139.9 309.9h1.5v1.5h-1.5zM276.1 309.8h1.5v1.5h-1.5zM77.2 306.6h1.5v1.5h-1.5zM134.4 302.6h1.5v1.5h-1.5zM109.3 309.2h1.5v1.5h-1.5zM353.9 301.8h1.5v1.5h-1.5zM260.8 307.2h1.5v1.5h-1.5zM321.1 304.8h1.5v1.5h-1.5zM110.3 307.8h1.5v1.5h-1.5zM237.5 309.2h1.5v1.5h-1.5zM335.9 309.3h1.5v1.5h-1.5zM150.0 308.4h1.5v1.5h-1.5zM169.7 308.7h1.5v1.5h-1.5zM346.0 309.9h1.5v1.5h-1.5zM369.4 308.2h1.5v1.5h-1.5zM131.5 307.6h1.5v1.5h-1.5zM178.9 299.5h1.5v1.5h-1.5zM96.2 310.0h1.5v1.5h-1.5zM343.8 309.8h1.5v1.5h-1.5zM369.4 308.8h1.5v1.5h-1.5zM316.2 309.9h1.5v1.5h-1.5zM324.0 308.5h1.5v1.5h-1.5zM200.9 309.7h1.5v1.5h-1.5zM133.7 308.9h1.5v1.5h-1.5zM121.8 304.1h1.5v1.5h-1.5zM127.0 308.2h1.5v1.5h-1.5zM219.6 308.9h1.5v1.5h-1.5zM129.9 304.1h1.5v1.5h-1.5zM86.4 306.6h1.5v1.5h-1.5zM289.7 309.5h1.5v1.5h-1.5zM327.0 305.6h1.5v1.5h-1.5zM218.8 308.6h1.5v1.5h-1.5zM336.3 309.1h1.5v1.5h-1.5zM123.7 307.9h1.5v1.5h-1.5zM181.1 310.0h1.5v1.5h-1.5zM227.1 305.7h1.5v1.5h-1.5zM334.3 309.3h1.5v1.5h-1.5zM286.5 303.8h1.5v1.5h-1.5zM85.0 304.1h1.5v1.5h-1.5zM225.1 305.6h1.5v1.5h-1.5zM72.4 308.2h1.5v1.5h-1.5zM135.3 309.1h1.5v1.5h-1.5zM319.3 309.3h1.5v1.5h-1.5zM95.9 308.4h1.5v1.5h-1.5zM71.5 305.2h1.5v1.5h-1.5zM228.1 309.1h1.5v1.5h-1.5zM104.1 305.9h1.5v1.5h-1.5zM152.7 309.3h1.5v1.5h-1.5zM111.6 303.8h1.5v1.5h-1.5zM116.9 305.2h1.5v1.5h-1.5zM196.4 308.0h1.5v1.5h-1.5zM228.9 302.2h1.5v1.5h-1.5zM201.0 305.3h1.5v1.5h-1.5zM315.4 305.9h1.5v1.5h-1.5zM82.6 302.1h1.5v1.5h-1.5zM355.6 307.3h1.5v1.5h-1.5zM196.9 307.0h1.5v1.5h-1.5zM230.5 308.4h1.5v1.5h-1.5zM72.5 309.3h1.5v1.5h-1.5zM262.3 301.8h1.5v1.5h-1.5zM76.7 307.8h1.5v1.5h-1.5zM276.3 307.9h1.5v1.5h-1.5zM234.1 307.1h1.5v1.5h-1.5zM227.3 302.1h1.5v1.5h-1.5zM155.1 309.2h1.5v1.5h-1.5zM266.7 306.9h1.5v1.5h-1.5zM225.3 307.9h1.5v1.5h-1.5zM210.6 308.8h1.5v1.5h-1.5zM104.4 309.6h1.5v1.5h-1.5zM155.4 308.5h1.5v1.5h-1.5zM93.2 303.1h1.5v1.5h-1.5zM255.1 304.6h1.5v1.5h-1.5zM128.4 306.2h1.5v1.5h-1.5zM235.9 306.1h1.5v1.5h-1.5zM162.3 309.7h1.5v1.5h-1.5zM184.8 309.9h1.5v1.5h-1.5zM175.3 303.8h1.5v1.5h-1.5zM139.9 305.9h1.5v1.5h-1.5zM154.3 307.4h1.5v1.5h-1.5zM115.2 307.5h1.5v1.5h-1.5zM336.1 309.5h1.5v1.5h-1.5zM186.2 303.9h1.5v1.5h-1.5zM99.9 307.6h1.5v1.5h-1.5zM113.9 309.4h1.5v1.5h-1.5zM175.3 304.9h1.5v1.5h-1.5zM329.5 301.4h1.5v1.5h-1.5zM296.4 306.1h1.5v1.5h-1.5zM105.5 309.0h1.5v1.5h-1.5zM67.3 305.2h1.5v1.5h-1.5zM220.3 305.1h1.5v1.5h-1.5zM308.9 307.6h1.5v1.5h-1.5zM254.3 306.3h1.5v1.5h-1.5zM207.9 307.6h1.5v1.5h-1.5zM187.1 306.8h1.5v1.5h-1.5zM165.8 303.0h1.5v1.5h-1.5zM160.3 308.2h1.5v1.5h-1.5zM93.3 306.8h1.5v1.5h-1.5zM166.4 303.0h1.5v1.5h-1.5zM129.3 302.5h1.5v1.5h-1.5zM69.3 306.8h1.5v1.5h-1.5zM241.1 302.4h1.5v1.5h-1.5zM305.8 301.7h1.5v1.5h-1.5zM226.4 304.3h1.5v1.5h-1.5zM186.8 305.1h1.5v1.5h-1.5zM174.8 307.1h1.5v1.5h-1.5zM96.7 306.7h1.5v1.5h-1.5zM240.0 302.7h1.5v1.5h-1.5zM259.6 304.2h1.5v1.5h-1.5zM172.4 303.3h1.5v1.5h-1.5zM118.9 307.2h1.5v1.5h-1.5zM224.9 309.6h1.5v1.5h-1.5zM343.3 303.2h1.5v1.5h-1.5zM373.0 307.3h1.5v1.5h-1.5zM155.9 305.8h1.5v1.5h-1.5zM124.3 309.6h1.5v1.5h-1.5zM261.3 307.1h1.5v1.5h-1.5zM374.1 309.6h1.5v1.5h-1.5zM193.5 307.5h1.5v1.5h-1.5zM280.1 309.0h1.5v1.5h-1.5zM247.7 308.4h1.5v1.5h-1.5zM266.5 301.8h1.5v1.5h-1.5zM114.6 309.1h1.5v1.5h-1.5zM97.0 307.3h1.5v1.5h-1.5zM228.0 302.8h1.5v1.5h-1.5zM85.3 308.2h1.5v1.5h-1.5zM304.9 309.7h1.5v1.5h-1.5zM118.5 308.6h1.5v1.5h-1.5zM96.8 305.8h1.5v1.5h-1.5zM205.4 309.5h1.5v1.5h-1.5zM342.1 302.1h1.5v1.5h-1.5zM202.3 307.9h1.5v1.5h-1.5zM79.6 307.6h1.5v1.5h-1.5zM331.0 307.8h1.5v1.5h-1.5zM160.1 302.1h1.5v1.5h-1.5zM219.6 304.3h1.5v1.5h-1.5zM141.3 304.1h1.5v1.5h-1.5zM134.6 308.8h1.5v1.5h-1.5zM311.8 308.8h1.5v1.5h-1.5zM119.8 308.5h1.5v1.5h-1.5zM367.2 309.3h1.5v1.5h-1.5zM231.5 306.7h1.5v1.5h-1.5zM86.3 309.7h1.5v1.5h-1.5zM322.0 308.0h1.5v1.5h-1.5zM125.3 310.0h1.5v1.5h-1.5zM271.9 309.6h1.5v1.5h-1.5zM114.3 309.2h1.5v1.5h-1.5zM149.6 306.0h1.5v1.5h-1.5zM325.3 305.9h1.5v1.5h-1.5zM115.4 304.0h1.5v1.5h-1.5zM182.8 306.6h1.5v1.5h-1.5zM222.5 306.4h1.5v1.5h-1.5zM344.9 307.0h1.5v1.5h-1.5zM142.3 308.2h1.5v1.5h-1.5zM336.4 308.9h1.5v1.5h-1.5zM225.0 307.8h1.5v1.5h-1.5zM305.2 304.6h1.5v1.5h-1.5zM120.9 308.6h1.5v1.5h-1.5zM165.5 309.1h1.5v1.5h-1.5zM158.1 309.6h1.5v1.5h-1.5zM105.1 307.7h1.5v1.5h-1.5zM191.0 306.5h1.5v1.5h-1.5zM306.2 308.2h1.5v1.5h-1.5zM151.7 309.4h1.5v1.5h-1.5zM193.9 304.2h1.5v1.5h-1.5zM143.0 305.6h1.5v1.5h-1.5zM122.3 308.3h1.5v1.5h-1.5zM348.9 304.1h1.5v1.5h-1.5zM160.0 309.7h1.5v1.5h-1.5zM162.4 308.5h1.5v1.5h-1.5zM145.0 304.3h1.5v1.5h-1.5zM174.2 309.1h1.5v1.5h-1.5zM324.6 307.6h1.5v1.5h-1.5zM79.3 308.7h1.5v1.5h-1.5zM141.8 309.7h1.5v1.5h-1.5zM311.3 307.9h1.5v1.5h-1.5zM92.7 306.7h1.5v1.5h-1.5zM297.7 305.5h1.5v1.5h-1.5zM153.2 308.5h1.5v1.5h-1.5zM354.4 303.9h1.5v1.5h-1.5zM323.3 306.3h1.5v1.5h-1.5zM82.8 306.5h1.5v1.5h-1.5zM224.7 308.2h1.5v1.5h-1.5zM105.6 309.6h1.5v1.5h-1.5zM283.8 309.5h1.5v1.5h-1.5zM366.5 305.5h1.5v1.5h-1.5zM143.4 308.1h1.5v1.5h-1.5zM176.9 308.3h1.5v1.5h-1.5zM162.3 309.4h1.5v1.5h-1.5zM139.7 307.8h1.5v1.5h-1.5zM225.8 302.3h1.5v1.5h-1.5zM118.5 305.0h1.5v1.5h-1.5zM209.0 303.1h1.5v1.5h-1.5zM101.5 309.3h1.5v1.5h-1.5zM84.7 309.2h1.5v1.5h-1.5zM127.1 306.3h1.5v1.5h-1.5zM101.0 308.6h1.5v1.5h-1.5zM118.1 309.7h1.5v1.5h-1.5zM69.4 310.0h1.5v1.5h-1.5zM288.3 307.8h1.5v1.5h-1.5zM240.7 308.4h1.5v1.5h-1.5zM124.8 309.9h1.5v1.5h-1.5zM351.1 304.8h1.5v1.5h-1.5zM355.9 307.9h1.5v1.5h-1.5zM142.3 309.9h1.5v1.5h-1.5zM74.6 303.1h1.5v1.5h-1.5zM157.9 308.1h1.5v1.5h-1.5zM353.3 307.8h1.5v1.5h-1.5zM309.2 309.8h1.5v1.5h-1.5zM123.2 305.3h1.5v1.5h-1.5zM165.2 305.4h1.5v1.5h-1.5zM180.5 309.9h1.5v1.5h-1.5zM241.7 303.2h1.5v1.5h-1.5zM284.7 308.5h1.5v1.5h-1.5zM358.9 305.9h1.5v1.5h-1.5zM279.3 309.7h1.5v1.5h-1.5zM202.2 309.8h1.5v1.5h-1.5zM290.1 308.4h1.5v1.5h-1.5zM309.9 307.7h1.5v1.5h-1.5zM271.1 306.5h1.5v1.5h-1.5zM171.0 304.5h1.5v1.5h-1.5zM322.1 301.3h1.5v1.5h-1.5zM117.0 308.2h1.5v1.5h-1.5zM173.9 309.3h1.5v1.5h-1.5zM92.4 306.1h1.5v1.5h-1.5zM347.7 306.6h1.5v1.5h-1.5zM368.1 303.0h1.5v1.5h-1.5zM84.6 305.0h1.5v1.5h-1.5zM158.1 302.1h1.5v1.5h-1.5zM215.0 307.5h1.5v1.5h-1.5zM172.5 303.4h1.5v1.5h-1.5zM74.6 309.3h1.5v1.5h-1.5zM92.4 306.9h1.5v1.5h-1.5zM241.1 309.1h1.5v1.5h-1.5zM122.0 304.8h1.5v1.5h-1.5zM235.9 309.3h1.5v1.5h-1.5zM95.4 307.9h1.5v1.5h-1.5zM217.7 308.1h1.5v1.5h-1.5zM243.5 309.1h1.5v1.5h-1.5zM225.1 309.3h1.5v1.5h-1.5zM192.5 307.2h1.5v1.5h-1.5zM236.7 303.7h1.5v1.5h-1.5zM101.5 306.1h1.5v1.5h-1.5zM289.7 309.3h1.5v1.5h-1.5zM119.1 305.4h1.5v1.5h-1.5zM70.7 308.2h1.5v1.5h-1.5zM159.0 306.5h1.5v1.5h-1.5zM240.5 304.9h1.5v1.5h-1.5zM335.9 310.0h1.5v1.5h-1.5zM302.7 303.2h1.5v1.5h-1.5zM104.0 303.9h1.5v1.5h-1.5zM359.9 309.6h1.5v1.5h-1.5zM253.2 308.6h1.5v1.5h-1.5zM236.1 300.9h1.5v1.5h-1.5zM125.9 303.1h1.5v1.5h-1.5zM246.2 309.3h1.5v1.5h-1.5zM314.2 309.9h1.5v1.5h-1.5zM237.8 309.4h1.5v1.5h-1.5zM110.7 305.2h1.5v1.5h-1.5zM232.9 303.3h1.5v1.5h-1.5zM221.6 307.5h1.5v1.5h-1.5zM314.1 308.9h1.5v1.5h-1.5zM276.6 306.1h1.5v1.5h-1.5zM115.1 301.1h1.5v1.5h-1.5zM188.0 308.4h1.5v1.5h-1.5zM168.1 309.6h1.5v1.5h-1.5zM118.6 306.1h1.5v1.5h-1.5zM244.9 307.1h1.5v1.5h-1.5zM67.9 307.2h1.5v1.5h-1.5zM72.4 301.8h1.5v1.5h-1.5zM80.1 309.4h1.5v1.5h-1.5zM150.7 307.8h1.5v1.5h-1.5zM242.4 302.1h1.5v1.5h-1.5zM239.8 302.8h1.5v1.5h-1.5zM306.0 304.8h1.5v1.5h-1.5zM178.5 309.1h1.5v1.5h-1.5zM357.0 307.5h1.5v1.5h-1.5zM191.8 307.1h1.5v1.5h-1.5zM170.5 308.3h1.5v1.5h-1.5zM179.9 309.9h1.5v1.5h-1.5zM138.8 309.9h1.5v1.5h-1.5zM336.0 306.3h1.5v1.5h-1.5zM242.3 309.9h1.5v1.5h-1.5zM118.4 309.6h1.5v1.5h-1.5zM291.3 302.2h1.5v1.5h-1.5zM171.5 305.7h1.5v1.5h-1.5zM372.1 303.6h1.5v1.5h-1.5zM198.8 303.7h1.5v1.5h-1.5zM87.0 302.6h1.5v1.5h-1.5zM151.5 309.1h1.5v1.5h-1.5zM149.1 308.2h1.5v1.5h-1.5zM252.9 307.9h1.5v1.5h-1.5zM293.5 307.2h1.5v1.5h-1.5zM252.3 308.9h1.5v1.5h-1.5zM171.8 307.1h1.5v1.5h-1.5zM124.3 302.8h1.5v1.5h-1.5zM264.4 308.9h1.5v1.5h-1.5zM298.3 306.6h1.5v1.5h-1.5zM276.5 308.7h1.5v1.5h-1.5zM83.8 309.6h1.5v1.5h-1.5zM260.2 308.0h1.5v1.5h-1.5zM145.7 309.9h1.5v1.5h-1.5zM83.4 304.0h1.5v1.5h-1.5zM168.0 309.9h1.5v1.5h-1.5zM114.4 309.9h1.5v1.5h-1.5zM318.3 305.5h1.5v1.5h-1.5zM248.4 304.6h1.5v1.5h-1.5zM252.5 309.4h1.5v1.5h-1.5zM295.7 309.4h1.5v1.5h-1.5zM305.5 305.9h1.5v1.5h-1.5zM228.2 308.8h1.5v1.5h-1.5zM106.9 307.8h1.5v1.5h-1.5zM136.7 309.3h1.5v1.5h-1.5zM74.7 309.7h1.5v1.5h-1.5zM84.7 305.4h1.5v1.5h-1.5zM122.4 308.0h1.5v1.5h-1.5zM121.0 302.4h1.5v1.5h-1.5zM116.2 309.4h1.5v1.5h-1.5zM307.2 308.2h1.5v1.5h-1.5zM263.2 309.8h1.5v1.5h-1.5zM346.1 309.9h1.5v1.5h-1.5zM84.6 306.6h1.5v1.5h-1.5zM350.9 308.1h1.5v1.5h-1.5zM260.4 310.0h1.5v1.5h-1.5zM200.5 308.8h1.5v1.5h-1.5zM158.5 308.6h1.5v1.5h-1.5zM114.6 303.3h1.5v1.5h-1.5zM335.5 310.0h1.5v1.5h-1.5zM153.6 307.2h1.5v1.5h-1.5zM216.5 305.8h1.5v1.5h-1.5zM339.7 308.1h1.5v1.5h-1.5zM339.9 303.5h1.5v1.5h-1.5zM112.7 309.2h1.5v1.5h-1.5zM118.3 309.3h1.5v1.5h-1.5zM288.1 308.6h1.5v1.5h-1.5zM138.7 304.3h1.5v1.5h-1.5zM77.7 308.1h1.5v1.5h-1.5zM199.5 310.0h1.5v1.5h-1.5zM72.2 305.6h1.5v1.5h-1.5zM103.3 308.9h1.5v1.5h-1.5zM198.8 307.2h1.5v1.5h-1.5zM278.5 309.9h1.5v1.5h-1.5zM100.8 305.9h1.5v1.5h-1.5zM350.8 308.2h1.5v1.5h-1.5zM132.7 303.7h1.5v1.5h-1.5zM150.6 308.4h1.5v1.5h-1.5zM148.0 308.3h1.5v1.5h-1.5zM192.5 307.0h1.5v1.5h-1.5zM69.3 304.6h1.5v1.5h-1.5zM234.6 304.3h1.5v1.5h-1.5zM370.5 308.3h1.5v1.5h-1.5zM288.5 307.4h1.5v1.5h-1.5zM193.1 309.0h1.5v1.5h-1.5zM375.5 307.3h1.5v1.5h-1.5zM144.9 306.9h1.5v1.5h-1.5zM140.6 307.8h1.5v1.5h-1.5zM102.0 307.6h1.5v1.5h-1.5zM266.3 307.4h1.5v1.5h-1.5zM297.3 303.0h1.5v1.5h-1.5zM374.4 309.9h1.5v1.5h-1.5zM286.8 305.6h1.5v1.5h-1.5zM261.0 308.2h1.5v1.5h-1.5zM255.9 308.6h1.5v1.5h-1.5zM289.7 306.1h1.5v1.5h-1.5zM134.6 309.1h1.5v1.5h-1.5zM353.5 305.7h1.5v1.5h-1.5zM229.5 309.8h1.5v1.5h-1.5zM320.8 304.7h1.5v1.5h-1.5zM322.5 306.8h1.5v1.5h-1.5zM335.0 307.9h1.5v1.5h-1.5zM319.5 308.1h1.5v1.5h-1.5zM113.7 308.9h1.5v1.5h-1.5zM315.0 306.3h1.5v1.5h-1.5zM93.3 301.8h1.5v1.5h-1.5zM281.5 306.0h1.5v1.5h-1.5zM139.7 307.2h1.5v1.5h-1.5zM184.2 309.1h1.5v1.5h-1.5zM128.3 309.5h1.5v1.5h-1.5zM166.4 309.7h1.5v1.5h-1.5zM263.2 308.0h1.5v1.5h-1.5zM128.5 303.4h1.5v1.5h-1.5zM257.5 309.6h1.5v1.5h-1.5zM203.2 304.1h1.5v1.5h-1.5zM157.5 304.6h1.5v1.5h-1.5zM317.4 306.8h1.5v1.5h-1.5zM286.7 304.5h1.5v1.5h-1.5zM168.1 306.3h1.5v1.5h-1.5zM300.4 305.7h1.5v1.5h-1.5zM219.9 309.9h1.5v1.5h-1.5zM326.3 306.1h1.5v1.5h-1.5zM342.0 305.9h1.5v1.5h-1.5zM224.7 308.8h1.5v1.5h-1.5zM273.8 306.7h1.5v1.5h-1.5zM78.6 305.4h1.5v1.5h-1.5zM304.5 309.0h1.5v1.5h-1.5zM134.4 309.7h1.5v1.5h-1.5zM93.4 305.3h1.5v1.5h-1.5zM83.1 304.1h1.5v1.5h-1.5zM215.7 309.4h1.5v1.5h-1.5zM375.4 308.0h1.5v1.5h-1.5zM169.6 310.0h1.5v1.5h-1.5zM372.5 309.4h1.5v1.5h-1.5zM147.3 309.9h1.5v1.5h-1.5zM238.3 306.5h1.5v1.5h-1.5zM81.9 307.0h1.5v1.5h-1.5zM334.7 307.5h1.5v1.5h-1.5zM128.6 309.1h1.5v1.5h-1.5zM232.4 306.2h1.5v1.5h-1.5zM217.6 307.0h1.5v1.5h-1.5zM314.4 308.3h1.5v1.5h-1.5zM81.9 309.1h1.5v1.5h-1.5zM231.3 305.3h1.5v1.5h-1.5zM166.3 309.6h1.5v1.5h-1.5zM286.3 305.8h1.5v1.5h-1.5zM249.5 302.3h1.5v1.5h-1.5zM203.9 304.8h1.5v1.5h-1.5zM264.2 309.4h1.5v1.5h-1.5zM333.4 309.2h1.5v1.5h-1.5zM351.9 303.4h1.5v1.5h-1.5zM220.4 304.4h1.5v1.5h-1.5zM157.4 309.5h1.5v1.5h-1.5zM325.9 309.1h1.5v1.5h-1.5zM97.3 309.5h1.5v1.5h-1.5zM309.1 303.4h1.5v1.5h-1.5zM145.9 306.1h1.5v1.5h-1.5zM278.6 307.8h1.5v1.5h-1.5zM78.9 307.2h1.5v1.5h-1.5zM157.0 308.9h1.5v1.5h-1.5zM239.8 309.4h1.5v1.5h-1.5zM313.8 307.5h1.5v1.5h-1.5zM187.4 308.4h1.5v1.5h-1.5zM135.2 309.2h1.5v1.5h-1.5zM210.0 306.4h1.5v1.5h-1.5zM276.5 308.5h1.5v1.5h-1.5zM322.8 305.6h1.5v1.5h-1.5zM173.9 305.9h1.5v1.5h-1.5zM354.2 307.7h1.5v1.5h-1.5zM216.3 304.6h1.5v1.5h-1.5zM93.4 308.9h1.5v1.5h-1.5zM150.1 307.9h1.5v1.5h-1.5zM352.6 309.1h1.5v1.5h-1.5zM251.6 302.9h1.5v1.5h-1.5zM269.5 307.0h1.5v1.5h-1.5zM169.3 308.0h1.5v1.5h-1.5zM296.1 309.7h1.5v1.5h-1.5zM87.5 309.2h1.5v1.5h-1.5zM237.0 305.1h1.5v1.5h-1.5zM209.0 308.8h1.5v1.5h-1.5zM225.1 309.5h1.5v1.5h-1.5zM245.2 306.9h1.5v1.5h-1.5zM271.6 309.4h1.5v1.5h-1.5zM118.6 305.0h1.5v1.5h-1.5zM336.8 308.8h1.5v1.5h-1.5zM102.3 305.6h1.5v1.5h-1.5zM102.5 308.6h1.5v1.5h-1.5zM232.0 307.0h1.5v1.5h-1.5zM127.3 308.3h1.5v1.5h-1.5zM342.1 308.7h1.5v1.5h-1.5zM358.4 303.5h1.5v1.5h-1.5zM242.8 308.1h1.5v1.5h-1.5zM298.5 310.0h1.5v1.5h-1.5zM187.9 307.6h1.5v1.5h-1.5zM342.1 309.6h1.5v1.5h-1.5zM245.3 307.8h1.5v1.5h-1.5zM286.3 308.5h1.5v1.5h-1.5zM142.2 301.9h1.5v1.5h-1.5zM78.8 304.3h1.5v1.5h-1.5zM318.5 309.4h1.5v1.5h-1.5zM351.5 308.4h1.5v1.5h-1.5zM357.5 306.6h1.5v1.5h-1.5zM93.3 309.8h1.5v1.5h-1.5zM112.9 307.7h1.5v1.5h-1.5zM109.5 309.7h1.5v1.5h-1.5zM368.6 305.4h1.5v1.5h-1.5zM311.4 305.9h1.5v1.5h-1.5zM307.6 309.9h1.5v1.5h-1.5zM127.7 303.0h1.5v1.5h-1.5zM309.9 307.9h1.5v1.5h-1.5zM274.5 308.9h1.5v1.5h-1.5zM322.8 299.5h1.5v1.5h-1.5zM314.7 306.4h1.5v1.5h-1.5zM321.8 302.8h1.5v1.5h-1.5zM158.7 299.5h1.5v1.5h-1.5zM101.9 307.5h1.5v1.5h-1.5zM127.4 308.0h1.5v1.5h-1.5zM218.7 306.7h1.5v1.5h-1.5zM278.5 306.8h1.5v1.5h-1.5zM309.0 304.4h1.5v1.5h-1.5zM357.9 308.1h1.5v1.5h-1.5zM171.3 303.1h1.5v1.5h-1.5zM311.8 309.7h1.5v1.5h-1.5zM100.3 309.9h1.5v1.5h-1.5zM195.8 306.2h1.5v1.5h-1.5zM170.0 308.2h1.5v1.5h-1.5zM258.0 307.7h1.5v1.5h-1.5zM93.3 309.5h1.5v1.5h-1.5zM103.4 309.7h1.5v1.5h-1.5zM321.1 309.5h1.5v1.5h-1.5zM178.3 306.3h1.5v1.5h-1.5zM341.9 302.6h1.5v1.5h-1.5zM188.3 302.1h1.5v1.5h-1.5zM223.1 306.3h1.5v1.5h-1.5zM116.3 310.0h1.5v1.5h-1.5zM120.4 300.8h1.5v1.5h-1.5zM206.9 310.0h1.5v1.5h-1.5zM97.3 302.9h1.5v1.5h-1.5zM225.3 302.3h1.5v1.5h-1.5zM259.4 302.1h1.5v1.5h-1.5zM178.2 304.8h1.5v1.5h-1.5zM182.5 304.4h1.5v1.5h-1.5zM347.2 307.0h1.5v1.5h-1.5zM368.6 308.6h1.5v1.5h-1.5zM324.8 305.4h1.5v1.5h-1.5zM204.8 302.6h1.5v1.5h-1.5zM291.9 309.7h1.5v1.5h-1.5zM166.8 307.0h1.5v1.5h-1.5zM110.8 305.2h1.5v1.5h-1.5zM80.5 303.8h1.5v1.5h-1.5zM264.9 309.1h1.5v1.5h-1.5zM302.4 308.5h1.5v1.5h-1.5zM369.2 303.3h1.5v1.5h-1.5zM275.7 302.0h1.5v1.5h-1.5zM286.0 307.7h1.5v1.5h-1.5zM116.2 303.2h1.5v1.5h-1.5zM312.0 309.6h1.5v1.5h-1.5zM109.4 302.7h1.5v1.5h-1.5zM116.3 308.6h1.5v1.5h-1.5zM162.7 309.6h1.5v1.5h-1.5zM365.7 305.1h1.5v1.5h-1.5zM124.0 309.1h1.5v1.5h-1.5zM165.5 309.1h1.5v1.5h-1.5zM146.7 306.8h1.5v1.5h-1.5zM364.7 309.7h1.5v1.5h-1.5zM129.2 300.5h1.5v1.5h-1.5zM113.1 306.1h1.5v1.5h-1.5zM239.2 303.8h1.5v1.5h-1.5zM151.4 302.4h1.5v1.5h-1.5zM230.1 309.1h1.5v1.5h-1.5zM261.4 309.9h1.5v1.5h-1.5zM322.3 307.1h1.5v1.5h-1.5zM357.4 309.6h1.5v1.5h-1.5zM276.2 303.3h1.5v1.5h-1.5zM265.9 304.6h1.5v1.5h-1.5zM306.1 302.2h1.5v1.5h-1.5zM296.2 308.3h1.5v1.5h-1.5zM187.7 308.0h1.5v1.5h-1.5zM336.2 305.7h1.5v1.5h-1.5zM273.5 307.3h1.5v1.5h-1.5zM107.4 308.6h1.5v1.5h-1.5zM221.7 307.8h1.5v1.5h-1.5zM243.9 308.5h1.5v1.5h-1.5zM325.9 307.8h1.5v1.5h-1.5zM344.5 309.6h1.5v1.5h-1.5zM267.1 300.2h1.5v1.5h-1.5zM106.7 304.2h1.5v1.5h-1.5zM255.8 308.1h1.5v1.5h-1.5zM321.5 309.2h1.5v1.5h-1.5zM132.1 308.1h1.5v1.5h-1.5zM368.2 305.6h1.5v1.5h-1.5zM177.5 309.4h1.5v1.5h-1.5zM326.0 307.9h1.5v1.5h-1.5zM109.0 310.0h1.5v1.5h-1.5zM84.3 305.4h1.5v1.5h-1.5zM316.3 309.7h1.5v1.5h-1.5zM168.6 308.2h1.5v1.5h-1.5zM312.0 309.4h1.5v1.5h-1.5zM326.2 308.7h1.5v1.5h-1.5zM307.2 309.9h1.5v1.5h-1.5zM222.4 309.5h1.5v1.5h-1.5zM261.3 305.2h1.5v1.5h-1.5zM190.0 305.1h1.5v1.5h-1.5zM136.1 300.5h1.5v1.5h-1.5zM364.0 309.9h1.5v1.5h-1.5zM371.7 309.2h1.5v1.5h-1.5zM206.7 304.1h1.5v1.5h-1.5zM206.9 309.9h1.5v1.5h-1.5zM124.9 307.7h1.5v1.5h-1.5zM126.2 305.7h1.5v1.5h-1.5zM202.0 309.7h1.5v1.5h-1.5zM148.3 304.2h1.5v1.5h-1.5zM367.6 302.2h1.5v1.5h-1.5zM351.2 304.0h1.5v1.5h-1.5zM85.4 309.0h1.5v1.5h-1.5zM70.0 308.7h1.5v1.5h-1.5zM147.8 308.6h1.5v1.5h-1.5zM262.0 302.7h1.5v1.5h-1.5zM160.8 309.4h1.5v1.5h-1.5zM344.7 305.6h1.5v1.5h-1.5zM207.1 309.3h1.5v1.5h-1.5zM307.0 301.8h1.5v1.5h-1.5zM348.6 306.1h1.5v1.5h-1.5zM320.8 309.5h1.5v1.5h-1.5zM99.7 305.8h1.5v1.5h-1.5zM130.9 306.7h1.5v1.5h-1.5zM185.1 308.5h1.5v1.5h-1.5zM70.0 309.3h1.5v1.5h-1.5zM247.5 309.9h1.5v1.5h-1.5zM323.4 306.2h1.5v1.5h-1.5zM79.4 308.0h1.5v1.5h-1.5zM166.2 302.7h1.5v1.5h-1.5zM216.2 308.3h1.5v1.5h-1.5zM141.5 309.6h1.5v1.5h-1.5zM184.6 309.3h1.5v1.5h-1.5zM128.0 305.2h1.5v1.5h-1.5zM263.3 306.4h1.5v1.5h-1.5zM211.9 304.4h1.5v1.5h-1.5zM287.3 309.6h1.5v1.5h-1.5zM267.4 306.1h1.5v1.5h-1.5zM110.0 308.5h1.5v1.5h-1.5zM140.0 308.9h1.5v1.5h-1.5zM321.4 303.9h1.5v1.5h-1.5zM77.9 307.3h1.5v1.5h-1.5zM77.8 309.6h1.5v1.5h-1.5zM140.5 308.5h1.5v1.5h-1.5zM354.4 302.4h1.5v1.5h-1.5zM147.5 307.8h1.5v1.5h-1.5zM71.6 309.1h1.5v1.5h-1.5zM367.7 308.5h1.5v1.5h-1.5zM310.0 309.8h1.5v1.5h-1.5zM350.1 308.9h1.5v1.5h-1.5zM320.6 304.9h1.5v1.5h-1.5zM250.3 309.4h1.5v1.5h-1.5zM82.8 307.6h1.5v1.5h-1.5zM189.1 308.5h1.5v1.5h-1.5zM296.9 308.7h1.5v1.5h-1.5zM208.0 307.6h1.5v1.5h-1.5zM267.5 309.3h1.5v1.5h-1.5zM368.7 307.1h1.5v1.5h-1.5zM95.1 303.0h1.5v1.5h-1.5zM329.0 309.7h1.5v1.5h-1.5zM180.0 309.9h1.5v1.5h-1.5zM254.0 307.0h1.5v1.5h-1.5zM304.3 309.3h1.5v1.5h-1.5zM280.7 305.7h1.5v1.5h-1.5zM207.2 304.9h1.5v1.5h-1.5zM267.1 308.8h1.5v1.5h-1.5zM293.1 302.4h1.5v1.5h-1.5zM325.5 309.7h1.5v1.5h-1.5zM277.1 300.2h1.5v1.5h-1.5zM121.7 305.4h1.5v1.5h-1.5zM202.9 307.9h1.5v1.5h-1.5zM203.3 307.9h1.5v1.5h-1.5zM268.7 309.2h1.5v1.5h-1.5zM374.2 307.7h1.5v1.5h-1.5zM143.4 309.8h1.5v1.5h-1.5zM137.5 300.0h1.5v1.5h-1.5zM351.5 309.7h1.5v1.5h-1.5zM98.5 301.0h1.5v1.5h-1.5zM163.2 307.0h1.5v1.5h-1.5zM267.5 302.2h1.5v1.5h-1.5zM192.3 304.5h1.5v1.5h-1.5zM279.8 306.9h1.5v1.5h-1.5zM155.1 308.1h1.5v1.5h-1.5zM70.2 309.0h1.5v1.5h-1.5zM120.6 304.3h1.5v1.5h-1.5zM280.1 303.8h1.5v1.5h-1.5zM143.0 305.6h1.5v1.5h-1.5zM74.6 308.3h1.5v1.5h-1.5zM146.5 305.6h1.5v1.5h-1.5zM160.2 308.4h1.5v1.5h-1.5zM86.7 309.5h1.5v1.5h-1.5zM101.0 302.0h1.5v1.5h-1.5zM279.1 309.4h1.5v1.5h-1.5zM304.5 309.0h1.5v1.5h-1.5zM192.8 306.3h1.5v1.5h-1.5zM355.0 309.8h1.5v1.5h-1.5zM322.9 309.7h1.5v1.5h-1.5zM331.1 308.0h1.5v1.5h-1.5zM69.0 308.9h1.5v1.5h-1.5zM346.5 308.9h1.5v1.5h-1.5zM271.0 308.3h1.5v1.5h-1.5zM110.5 308.5h1.5v1.5h-1.5zM268.2 308.2h1.5v1.5h-1.5zM86.1 309.8h1.5v1.5h-1.5zM330.3 308.6h1.5v1.5h-1.5zM310.3 308.8h1.5v1.5h-1.5zM100.6 308.6h1.5v1.5h-1.5zM312.7 308.1h1.5v1.5h-1.5zM135.4 308.3h1.5v1.5h-1.5zM133.9 307.0h1.5v1.5h-1.5zM264.8 302.8h1.5v1.5h-1.5zM81.7 303.1h1.5v1.5h-1.5zM138.8 309.3h1.5v1.5h-1.5zM208.6 309.2h1.5v1.5h-1.5zM102.5 308.6h1.5v1.5h-1.5zM137.5 309.0h1.5v1.5h-1.5zM87.1 306.1h1.5v1.5h-1.5zM356.3 309.4h1.5v1.5h-1.5zM134.9 305.3h1.5v1.5h-1.5zM335.8 309.0h1.5v1.5h-1.5zM332.0 308.3h1.5v1.5h-1.5zM140.3 309.4h1.5v1.5h-1.5zM334.0 309.0h1.5v1.5h-1.5zM352.5 304.0h1.5v1.5h-1.5zM89.1 307.4h1.5v1.5h-1.5zM129.7 307.0h1.5v1.5h-1.5zM103.1 307.9h1.5v1.5h-1.5zM215.3 307.8h1.5v1.5h-1.5zM225.5 309.9h1.5v1.5h-1.5zM211.8 305.6h1.5v1.5h-1.5zM138.6 305.0h1.5v1.5h-1.5zM267.9 308.8h1.5v1.5h-1.5zM295.5 299.5h1.5v1.5h-1.5zM180.0 308.4h1.5v1.5h-1.5zM251.4 306.6h1.5v1.5h-1.5zM91.4 308.4h1.5v1.5h-1.5zM109.6 309.6h1.5v1.5h-1.5zM298.2 302.2h1.5v1.5h-1.5zM190.6 309.9h1.5v1.5h-1.5zM360.0 308.2h1.5v1.5h-1.5zM360.0 301.8h1.5v1.5h-1.5zM324.5 308.3h1.5v1.5h-1.5zM136.1 310.0h1.5v1.5h-1.5zM165.8 307.2h1.5v1.5h-1.5zM273.3 309.4h1.5v1.5h-1.5zM254.3 308.1h1.5v1.5h-1.5zM286.6 309.5h1.5v1.5h-1.5zM108.5 305.2h1.5v1.5h-1.5zM340.8 309.8h1.5v1.5h-1.5zM138.6 308.6h1.5v1.5h-1.5zM192.8 307.0h1.5v1.5h-1.5zM358.0 309.6h1.5v1.5h-1.5zM349.6 309.7h1.5v1.5h-1.5zM71.4 309.0h1.5v1.5h-1.5zM335.8 305.6h1.5v1.5h-1.5zM329.1 299.5h1.5v1.5h-1.5zM141.6 305.2h1.5v1.5h-1.5zM314.3 306.7h1.5v1.5h-1.5zM89.6 309.2h1.5v1.5h-1.5zM242.8 309.6h1.5v1.5h-1.5zM139.3 305.7h1.5v1.5h-1.5zM276.0 308.9h1.5v1.5h-1.5zM295.8 306.1h1.5v1.5h-1.5zM274.4 309.9h1.5v1.5h-1.5zM213.4 304.1h1.5v1.5h-1.5zM266.7 307.4h1.5v1.5h-1.5zM130.2 302.0h1.5v1.5h-1.5zM293.9 304.5h1.5v1.5h-1.5zM303.7 309.8h1.5v1.5h-1.5zM148.5 309.0h1.5v1.5h-1.5zM108.2 306.5h1.5v1.5h-1.5zM90.1 302.2h1.5v1.5h-1.5zM244.9 304.2h1.5v1.5h-1.5zM201.5 309.7h1.5v1.5h-1.5zM275.5 310.0h1.5v1.5h-1.5zM180.6 308.9h1.5v1.5h-1.5zM265.0 304.2h1.5v1.5h-1.5zM303.5 309.9h1.5v1.5h-1.5zM252.3 300.2h1.5v1.5h-1.5zM337.3 308.4h1.5v1.5h-1.5zM70.7 304.0h1.5v1.5h-1.5zM150.5 309.1h1.5v1.5h-1.5zM281.7 310.0h1.5v1.5h-1.5zM137.3 308.9h1.5v1.5h-1.5zM72.0 305.7h1.5v1.5h-1.5zM355.7 307.2h1.5v1.5h-1.5zM227.9 308.9h1.5v1.5h-1.5zM195.4 307.9h1.5v1.5h-1.5zM83.0 309.7h1.5v1.5h-1.5zM259.5 307.8h1.5v1.5h-1.5zM311.4 307.2h1.5v1.5h-1.5zM218.5 309.4h1.5v1.5h-1.5zM354.0 309.6h1.5v1.5h-1.5zM113.7 306.8h1.5v1.5h-1.5zM288.3 309.2h1.5v1.5h-1.5zM95.2 308.4h1.5v1.5h-1.5zM311.3 308.2h1.5v1.5h-1.5zM241.2 308.8h1.5v1.5h-1.5zM125.7 309.1h1.5v1.5h-1.5zM262.5 309.9h1.5v1.5h-1.5zM231.3 309.7h1.5v1.5h-1.5zM290.6 308.4h1.5v1.5h-1.5zM156.1 304.3h1.5v1.5h-1.5zM256.6 308.7h1.5v1.5h-1.5zM271.4 308.8h1.5v1.5h-1.5zM114.8 309.6h1.5v1.5h-1.5zM288.0 300.2h1.5v1.5h-1.5zM312.3 309.0h1.5v1.5h-1.5zM83.3 309.3h1.5v1.5h-1.5zM81.2 308.7h1.5v1.5h-1.5zM354.8 302.3h1.5v1.5h-1.5zM209.1 308.7h1.5v1.5h-1.5zM227.6 304.1h1.5v1.5h-1.5zM230.1 309.1h1.5v1.5h-1.5zM87.7 306.0h1.5v1.5h-1.5zM144.3 308.2h1.5v1.5h-1.5zM164.7 304.1h1.5v1.5h-1.5zM304.8 306.3h1.5v1.5h-1.5zM353.5 305.7h1.5v1.5h-1.5zM257.8 307.9h1.5v1.5h-1.5zM152.4 309.4h1.5v1.5h-1.5zM370.2 305.9h1.5v1.5h-1.5zM258.0 308.8h1.5v1.5h-1.5zM87.2 303.6h1.5v1.5h-1.5zM201.6 309.5h1.5v1.5h-1.5zM364.7 309.6h1.5v1.5h-1.5zM155.3 308.9h1.5v1.5h-1.5zM99.0 309.0h1.5v1.5h-1.5zM324.3 308.4h1.5v1.5h-1.5zM119.8 306.5h1.5v1.5h-1.5zM170.8 309.8h1.5v1.5h-1.5zM102.3 306.0h1.5v1.5h-1.5zM295.6 305.1h1.5v1.5h-1.5zM362.5 307.6h1.5v1.5h-1.5zM210.2 303.9h1.5v1.5h-1.5zM106.2 309.0h1.5v1.5h-1.5zM363.1 309.5h1.5v1.5h-1.5zM142.9 308.7h1.5v1.5h-1.5zM211.5 303.8h1.5v1.5h-1.5z" fill="#b8b8b8"/>
<path d="M181.4 309.5h1.5v1.5h-1.5zM333.8 308.8h1.5v1.5h-1.5zM241.6 306.2h1.5v1.5h-1.5zM189.7 308.5h1.5v1.5h-1.5zM360.8 308.8h1.5v1.5h-1.5zM333.6 307.8h1.5v1.5h-1.5zM330.3 299.5h1.5v1.5h-1.5zM319.7 308.1h1.5v1.5h-1.5zM313.9 309.0h1.5v1.5h-1.5zM270.8 308.2h1.5v1.5h-1.5zM369.9 307.1h1.5v1.5h-1.5zM348.1 306.2h1.5v1.5h-1.5zM221.5 305.7h1.5v1.5h-1.5zM358.1 307.4h1.5v1.5h-1.5zM98.5 307.5h1.5v1.5h-1.5zM187.9 304.3h1.5v1.5h-1.5zM325.1 304.8h1.5v1.5h-1.5zM326.5 308.9h1.5v1.5h-1.5zM375.6 307.0h1.5v1.5h-1.5zM198.7 309.3h1.5v1.5h-1.5zM356.0 309.8h1.5v1.5h-1.5zM298.4 306.6h1.5v1.5h-1.5zM308.5 308.1h1.5v1.5h-1.5zM118.5 309.7h1.5v1.5h-1.5zM362.2 308.6h1.5v1.5h-1.5zM312.5 309.5h1.5v1.5h-1.5zM191.4 308.4h1.5v1.5h-1.5zM222.9 309.1h1.5v1.5h-1.5zM296.5 309.5h1.5v1.5h-1.5zM356.5 307.9h1.5v1.5h-1.5zM265.0 307.8h1.5v1.5h-1.5zM110.0 307.8h1.5v1.5h-1.5zM129.8 307.2h1.5v1.5h-1.5zM317.7 303.2h1.5v1.5h-1.5zM364.8 303.0h1.5v1.5h-1.5zM257.7 308.6h1.5v1.5h-1.5zM284.4 308.2h1.5v1.5h-1.5zM174.0 308.4h1.5v1.5h-1.5zM306.0 302.9h1.5v1.5h-1.5zM254.7 303.5h1.5v1.5h-1.5zM348.0 304.9h1.5v1.5h-1.5zM269.3 303.2h1.5v1.5h-1.5zM267.7 306.0h1.5v1.5h-1.5zM292.1 309.4h1.5v1.5h-1.5zM369.0 303.8h1.5v1.5h-1.5zM247.9 304.5h1.5v1.5h-1.5zM334.8 307.7h1.5v1.5h-1.5zM348.1 309.4h1.5v1.5h-1.5zM145.9 308.6h1.5v1.5h-1.5zM317.6 308.3h1.5v1.5h-1.5zM103.4 303.2h1.5v1.5h-1.5zM335.6 309.6h1.5v1.5h-1.5zM249.5 308.4h1.5v1.5h-1.5zM306.8 309.9h1.5v1.5h-1.5zM366.6 302.2h1.5v1.5h-1.5zM309.3 302.4h1.5v1.5h-1.5zM220.9 308.5h1.5v1.5h-1.5zM365.0 306.4h1.5v1.5h-1.5zM220.3 307.8h1.5v1.5h-1.5zM244.1 309.0h1.5v1.5h-1.5zM206.3 309.7h1.5v1.5h-1.5zM242.0 309.5h1.5v1.5h-1.5zM240.2 305.9h1.5v1.5h-1.5zM276.7 307.1h1.5v1.5h-1.5zM78.5 309.5h1.5v1.5h-1.5zM326.2 304.1h1.5v1.5h-1.5zM175.0 309.4h1.5v1.5h-1.5zM240.6 309.4h1.5v1.5h-1.5zM318.8 303.7h1.5v1.5h-1.5zM114.8 309.5h1.5v1.5h-1.5zM203.4 308.7h1.5v1.5h-1.5zM246.0 305.6h1.5v1.5h-1.5zM240.5 308.9h1.5v1.5h-1.5zM306.6 309.9h1.5v1.5h-1.5zM341.5 302.8h1.5v1.5h-1.5zM275.3 307.8h1.5v1.5h-1.5zM360.1 309.5h1.5v1.5h-1.5zM343.1 309.6h1.5v1.5h-1.5zM373.6 308.9h1.5v1.5h-1.5zM302.6 305.8h1.5v1.5h-1.5zM262.9 305.4h1.5v1.5h-1.5zM246.8 309.1h1.5v1.5h-1.5zM189.9 309.9h1.5v1.5h-1.5zM352.8 301.8h1.5v1.5h-1.5zM306.6 307.5h1.5v1.5h-1.5zM306.0 301.8h1.5v1.5h-1.5zM314.2 307.3h1.5v1.5h-1.5zM266.1 302.9h1.5v1.5h-1.5zM129.0 304.7h1.5v1.5h-1.5zM251.3 305.2h1.5v1.5h-1.5zM333.6 306.8h1.5v1.5h-1.5zM158.3 306.3h1.5v1.5h-1.5zM100.6 299.5h1.5v1.5h-1.5zM171.3 309.3h1.5v1.5h-1.5zM195.9 306.1h1.5v1.5h-1.5zM81.3 307.3h1.5v1.5h-1.5zM367.2 306.8h1.5v1.5h-1.5zM261.1 306.9h1.5v1.5h-1.5zM256.0 307.3h1.5v1.5h-1.5zM313.5 308.8h1.5v1.5h-1.5zM276.9 305.7h1.5v1.5h-1.5zM121.3 307.7h1.5v1.5h-1.5zM245.4 305.0h1.5v1.5h-1.5zM249.8 306.2h1.5v1.5h-1.5zM280.2 305.2h1.5v1.5h-1.5zM348.7 309.5h1.5v1.5h-1.5zM357.2 307.6h1.5v1.5h-1.5zM95.1 301.2h1.5v1.5h-1.5zM105.4 308.8h1.5v1.5h-1.5zM288.4 308.0h1.5v1.5h-1.5zM346.5 303.1h1.5v1.5h-1.5zM310.1 309.4h1.5v1.5h-1.5zM268.3 308.8h1.5v1.5h-1.5zM270.9 304.6h1.5v1.5h-1.5zM343.1 309.4h1.5v1.5h-1.5zM263.5 307.4h1.5v1.5h-1.5zM141.4 307.6h1.5v1.5h-1.5zM100.5 309.2h1.5v1.5h-1.5zM273.0 306.7h1.5v1.5h-1.5zM274.2 305.9h1.5v1.5h-1.5zM135.6 307.2h1.5v1.5h-1.5zM286.2 308.5h1.5v1.5h-1.5zM370.0 303.9h1.5v1.5h-1.5zM86.9 309.6h1.5v1.5h-1.5zM136.9 303.5h1.5v1.5h-1.5zM316.2 309.3h1.5v1.5h-1.5zM159.2 309.7h1.5v1.5h-1.5zM341.8 305.6h1.5v1.5h-1.5zM232.6 306.6h1.5v1.5h-1.5zM269.4 304.3h1.5v1.5h-1.5zM291.8 309.2h1.5v1.5h-1.5zM290.0 309.7h1.5v1.5h-1.5zM258.6 309.7h1.5v1.5h-1.5zM322.7 309.4h1.5v1.5h-1.5zM140.5 309.2h1.5v1.5h-1.5zM271.1 306.0h1.5v1.5h-1.5zM268.6 309.0h1.5v1.5h-1.5zM138.2 302.1h1.5v1.5h-1.5zM345.0 309.3h1.5v1.5h-1.5zM365.6 307.2h1.5v1.5h-1.5zM285.4 300.9h1.5v1.5h-1.5z" fill="#dca090"/>
<path d="M165.6 299.2h1.5v1.5h-1.5zM296.9 297.4h1.5v1.5h-1.5zM320.7 291.9h1.5v1.5h-1.5zM244.2 300.9h1.5v1.5h-1.5zM344.8 291.0h1.5v1.5h-1.5zM167.4 292.0h1.5v1.5h-1.5zM179.4 297.0h1.5v1.5h-1.5zM175.4 297.0h1.5v1.5h-1.5zM100.2 298.6h1.5v1.5h-1.5zM300.2 298.4h1.5v1.5h-1.5zM144.5 294.1h1.5v1.5h-1.5zM184.0 292.1h1.5v1.5h-1.5zM170.3 292.3h1.5v1.5h-1.5zM173.0 292.1h1.5v1.5h-1.5zM109.1 291.1h1.5v1.5h-1.5zM335.7 295.2h1.5v1.5h-1.5zM207.3 297.4h1.5v1.5h-1.5zM335.7 298.7h1.5v1.5h-1.5zM171.5 298.4h1.5v1.5h-1.5zM97.1 297.5h1.5v1.5h-1.5zM74.1 292.6h1.5v1.5h-1.5zM136.4 300.2h1.5v1.5h-1.5zM87.0 293.2h1.5v1.5h-1.5zM127.5 296.1h1.5v1.5h-1.5zM190.6 292.5h1.5v1.5h-1.5zM211.8 291.5h1.5v1.5h-1.5zM293.5 297.7h1.5v1.5h-1.5zM336.9 294.9h1.5v1.5h-1.5zM98.8 294.8h1.5v1.5h-1.5zM323.1 295.5h1.5v1.5h-1.5zM130.5 297.2h1.5v1.5h-1.5zM281.7 299.7h1.5v1.5h-1.5zM349.4 300.6h1.5v1.5h-1.5zM249.2 296.4h1.5v1.5h-1.5zM288.4 296.5h1.5v1.5h-1.5zM296.9 292.5h1.5v1.5h-1.5zM133.9 291.7h1.5v1.5h-1.5zM184.0 293.5h1.5v1.5h-1.5zM159.5 297.5h1.5v1.5h-1.5zM235.5 295.7h1.5v1.5h-1.5zM362.6 290.4h1.5v1.5h-1.5zM239.9 292.6h1.5v1.5h-1.5zM122.8 291.4h1.5v1.5h-1.5zM236.9 293.0h1.5v1.5h-1.5zM335.2 297.2h1.5v1.5h-1.5zM344.6 291.5h1.5v1.5h-1.5zM355.1 295.1h1.5v1.5h-1.5zM110.5 294.3h1.5v1.5h-1.5zM225.1 296.0h1.5v1.5h-1.5zM94.6 300.9h1.5v1.5h-1.5zM171.5 293.4h1.5v1.5h-1.5zM145.2 295.5h1.5v1.5h-1.5zM120.4 294.6h1.5v1.5h-1.5zM346.3 298.8h1.5v1.5h-1.5zM298.3 293.5h1.5v1.5h-1.5zM203.2 300.1h1.5v1.5h-1.5zM87.6 292.6h1.5v1.5h-1.5zM208.6 294.3h1.5v1.5h-1.5zM375.3 297.4h1.5v1.5h-1.5zM127.7 299.3h1.5v1.5h-1.5zM193.1 294.5h1.5v1.5h-1.5zM133.7 300.1h1.5v1.5h-1.5zM125.9 297.7h1.5v1.5h-1.5zM222.4 299.0h1.5v1.5h-1.5zM214.7 296.3h1.5v1.5h-1.5zM358.9 296.0h1.5v1.5h-1.5zM110.8 299.2h1.5v1.5h-1.5zM365.8 296.7h1.5v1.5h-1.5zM175.1 293.7h1.5v1.5h-1.5zM187.5 299.4h1.5v1.5h-1.5zM68.0 292.0h1.5v1.5h-1.5zM291.8 297.2h1.5v1.5h-1.5zM261.3 291.3h1.5v1.5h-1.5zM190.5 296.4h1.5v1.5h-1.5zM158.4 295.1h1.5v1.5h-1.5zM311.2 294.8h1.5v1.5h-1.5zM358.9 295.2h1.5v1.5h-1.5zM190.8 299.1h1.5v1.5h-1.5zM101.8 291.5h1.5v1.5h-1.5zM314.2 300.7h1.5v1.5h-1.5zM166.2 295.9h1.5v1.5h-1.5zM219.7 297.1h1.5v1.5h-1.5zM230.9 291.2h1.5v1.5h-1.5zM254.8 292.7h1.5v1.5h-1.5zM146.8 297.1h1.5v1.5h-1.5zM186.2 297.2h1.5v1.5h-1.5zM151.5 297.5h1.5v1.5h-1.5zM320.6 299.3h1.5v1.5h-1.5zM125.9 300.3h1.5v1.5h-1.5zM315.7 299.4h1.5v1.5h-1.5zM136.7 300.4h1.5v1.5h-1.5zM147.8 293.3h1.5v1.5h-1.5zM289.2 291.4h1.5v1.5h-1.5zM359.6 295.2h1.5v1.5h-1.5zM351.8 300.0h1.5v1.5h-1.5zM352.8 296.4h1.5v1.5h-1.5zM94.9 291.8h1.5v1.5h-1.5zM299.6 294.7h1.5v1.5h-1.5zM83.3 299.7h1.5v1.5h-1.5zM261.3 299.8h1.5v1.5h-1.5zM116.2 299.1h1.5v1.5h-1.5zM366.6 297.2h1.5v1.5h-1.5zM187.2 298.3h1.5v1.5h-1.5zM138.1 290.7h1.5v1.5h-1.5zM374.4 293.5h1.5v1.5h-1.5zM120.3 299.1h1.5v1.5h-1.5zM113.2 297.3h1.5v1.5h-1.5zM230.4 293.8h1.5v1.5h-1.5zM76.4 296.3h1.5v1.5h-1.5zM68.7 283.3h1.5v1.5h-1.5zM69.6 288.7h1.5v1.5h-1.5zM68.4 282.7h1.5v1.5h-1.5zM71.2 283.0h1.5v1.5h-1.5zM69.4 290.6h1.5v1.5h-1.5zM70.5 268.3h1.5v1.5h-1.5zM77.7 270.9h1.5v1.5h-1.5zM75.2 270.9h1.5v1.5h-1.5zM109.9 286.0h1.5v1.5h-1.5zM104.8 285.2h1.5v1.5h-1.5zM107.1 286.0h1.5v1.5h-1.5zM116.4 283.2h1.5v1.5h-1.5zM115.2 285.0h1.5v1.5h-1.5zM90.7 286.2h1.5v1.5h-1.5zM109.7 284.0h1.5v1.5h-1.5zM110.8 283.0h1.5v1.5h-1.5zM105.5 286.5h1.5v1.5h-1.5zM108.3 286.8h1.5v1.5h-1.5zM102.4 287.4h1.5v1.5h-1.5zM112.3 285.6h1.5v1.5h-1.5zM89.0 283.3h1.5v1.5h-1.5zM81.3 283.3h1.5v1.5h-1.5zM108.3 287.4h1.5v1.5h-1.5zM108.4 285.2h1.5v1.5h-1.5zM114.3 285.1h1.5v1.5h-1.5zM95.1 283.3h1.5v1.5h-1.5zM81.5 284.1h1.5v1.5h-1.5zM82.5 283.6h1.5v1.5h-1.5zM95.7 284.4h1.5v1.5h-1.5zM88.3 284.3h1.5v1.5h-1.5zM97.8 284.4h1.5v1.5h-1.5zM86.6 284.7h1.5v1.5h-1.5zM89.1 286.2h1.5v1.5h-1.5zM120.6 288.8h1.5v1.5h-1.5zM124.9 294.2h1.5v1.5h-1.5zM111.7 293.9h1.5v1.5h-1.5zM117.5 294.5h1.5v1.5h-1.5zM72.9 288.3h1.5v1.5h-1.5zM99.8 290.9h1.5v1.5h-1.5zM77.2 292.0h1.5v1.5h-1.5zM90.7 296.1h1.5v1.5h-1.5zM114.8 298.4h1.5v1.5h-1.5zM96.3 297.8h1.5v1.5h-1.5zM116.8 289.3h1.5v1.5h-1.5zM95.8 291.2h1.5v1.5h-1.5zM110.1 295.1h1.5v1.5h-1.5zM77.5 290.1h1.5v1.5h-1.5zM95.0 266.4h1.5v1.5h-1.5zM114.0 268.6h1.5v1.5h-1.5zM104.0 280.7h1.5v1.5h-1.5zM128.0 275.2h1.5v1.5h-1.5zM137.5 273.9h1.5v1.5h-1.5zM129.1 268.5h1.5v1.5h-1.5zM136.8 269.8h1.5v1.5h-1.5zM131.3 268.7h1.5v1.5h-1.5zM140.3 268.1h1.5v1.5h-1.5zM144.3 271.2h1.5v1.5h-1.5zM138.3 269.2h1.5v1.5h-1.5zM136.1 276.0h1.5v1.5h-1.5zM148.1 275.5h1.5v1.5h-1.5zM142.1 271.9h1.5v1.5h-1.5zM135.1 275.4h1.5v1.5h-1.5zM128.4 272.7h1.5v1.5h-1.5zM137.3 274.5h1.5v1.5h-1.5zM144.0 271.6h1.5v1.5h-1.5zM129.1 268.9h1.5v1.5h-1.5zM134.2 268.3h1.5v1.5h-1.5zM139.6 268.2h1.5v1.5h-1.5zM134.6 272.0h1.5v1.5h-1.5zM132.8 276.7h1.5v1.5h-1.5zM130.1 275.8h1.5v1.5h-1.5zM132.1 282.2h1.5v1.5h-1.5zM142.1 286.0h1.5v1.5h-1.5zM148.7 282.1h1.5v1.5h-1.5zM141.7 286.1h1.5v1.5h-1.5zM140.1 286.9h1.5v1.5h-1.5zM149.2 287.7h1.5v1.5h-1.5zM149.3 290.3h1.5v1.5h-1.5zM125.2 283.3h1.5v1.5h-1.5zM130.1 283.9h1.5v1.5h-1.5zM128.0 279.2h1.5v1.5h-1.5zM141.7 281.4h1.5v1.5h-1.5zM125.0 290.5h1.5v1.5h-1.5zM132.8 283.1h1.5v1.5h-1.5zM132.1 265.4h1.5v1.5h-1.5zM143.7 264.3h1.5v1.5h-1.5zM142.7 267.8h1.5v1.5h-1.5zM134.6 266.8h1.5v1.5h-1.5zM147.0 249.8h1.5v1.5h-1.5zM140.0 255.1h1.5v1.5h-1.5zM170.8 273.2h1.5v1.5h-1.5zM173.3 272.1h1.5v1.5h-1.5zM172.0 270.4h1.5v1.5h-1.5zM158.1 267.4h1.5v1.5h-1.5zM160.1 269.2h1.5v1.5h-1.5zM151.7 268.3h1.5v1.5h-1.5zM174.5 273.2h1.5v1.5h-1.5zM168.7 272.1h1.5v1.5h-1.5zM153.7 271.4h1.5v1.5h-1.5zM166.5 267.5h1.5v1.5h-1.5zM174.8 267.2h1.5v1.5h-1.5zM165.6 269.5h1.5v1.5h-1.5zM154.0 269.0h1.5v1.5h-1.5zM163.8 271.5h1.5v1.5h-1.5zM172.5 272.2h1.5v1.5h-1.5zM153.5 272.8h1.5v1.5h-1.5zM170.0 272.8h1.5v1.5h-1.5zM162.6 270.0h1.5v1.5h-1.5zM163.6 273.8h1.5v1.5h-1.5zM151.5 271.0h1.5v1.5h-1.5zM155.9 278.1h1.5v1.5h-1.5zM156.0 276.9h1.5v1.5h-1.5zM156.0 289.6h1.5v1.5h-1.5zM161.9 284.5h1.5v1.5h-1.5zM158.4 278.0h1.5v1.5h-1.5zM170.9 283.4h1.5v1.5h-1.5zM162.6 275.2h1.5v1.5h-1.5zM165.1 288.1h1.5v1.5h-1.5zM151.7 289.8h1.5v1.5h-1.5zM158.3 289.7h1.5v1.5h-1.5zM166.2 283.9h1.5v1.5h-1.5zM157.7 282.3h1.5v1.5h-1.5zM173.4 287.0h1.5v1.5h-1.5zM153.9 285.9h1.5v1.5h-1.5zM158.1 258.2h1.5v1.5h-1.5zM167.7 262.9h1.5v1.5h-1.5zM154.1 266.7h1.5v1.5h-1.5zM153.1 258.9h1.5v1.5h-1.5zM186.9 285.0h1.5v1.5h-1.5zM182.7 286.9h1.5v1.5h-1.5zM206.9 280.6h1.5v1.5h-1.5zM202.4 280.9h1.5v1.5h-1.5zM203.1 286.3h1.5v1.5h-1.5zM176.6 285.0h1.5v1.5h-1.5zM175.4 276.0h1.5v1.5h-1.5zM196.0 280.4h1.5v1.5h-1.5zM214.6 278.3h1.5v1.5h-1.5zM178.6 278.5h1.5v1.5h-1.5zM205.0 283.1h1.5v1.5h-1.5zM189.5 286.4h1.5v1.5h-1.5zM211.6 277.7h1.5v1.5h-1.5zM191.7 285.7h1.5v1.5h-1.5zM227.6 274.8h1.5v1.5h-1.5zM219.1 285.4h1.5v1.5h-1.5zM229.9 286.3h1.5v1.5h-1.5zM216.1 288.6h1.5v1.5h-1.5zM218.7 283.2h1.5v1.5h-1.5zM224.7 276.7h1.5v1.5h-1.5zM221.1 280.5h1.5v1.5h-1.5zM230.8 283.2h1.5v1.5h-1.5zM241.8 286.4h1.5v1.5h-1.5zM242.3 283.5h1.5v1.5h-1.5zM226.1 278.4h1.5v1.5h-1.5zM232.9 284.9h1.5v1.5h-1.5zM257.8 288.5h1.5v1.5h-1.5zM276.4 288.4h1.5v1.5h-1.5zM259.0 287.4h1.5v1.5h-1.5zM275.9 287.8h1.5v1.5h-1.5zM263.9 286.4h1.5v1.5h-1.5zM269.2 283.0h1.5v1.5h-1.5zM250.9 284.2h1.5v1.5h-1.5zM252.2 285.8h1.5v1.5h-1.5zM257.3 285.2h1.5v1.5h-1.5zM265.7 272.9h1.5v1.5h-1.5zM298.2 292.8h1.5v1.5h-1.5zM285.5 286.9h1.5v1.5h-1.5zM287.8 291.8h1.5v1.5h-1.5zM296.0 290.5h1.5v1.5h-1.5zM326.2 283.9h1.5v1.5h-1.5zM323.8 283.0h1.5v1.5h-1.5zM303.1 285.1h1.5v1.5h-1.5zM295.5 283.7h1.5v1.5h-1.5zM303.9 291.4h1.5v1.5h-1.5zM327.9 290.5h1.5v1.5h-1.5zM317.8 284.7h1.5v1.5h-1.5zM293.9 286.1h1.5v1.5h-1.5zM292.4 283.4h1.5v1.5h-1.5zM299.7 288.1h1.5v1.5h-1.5zM324.0 289.7h1.5v1.5h-1.5zM292.1 289.8h1.5v1.5h-1.5zM317.1 286.5h1.5v1.5h-1.5zM289.4 283.8h1.5v1.5h-1.5zM323.6 282.2h1.5v1.5h-1.5zM312.4 280.1h1.5v1.5h-1.5zM331.6 273.1h1.5v1.5h-1.5zM337.5 270.2h1.5v1.5h-1.5zM334.0 269.9h1.5v1.5h-1.5zM326.9 269.1h1.5v1.5h-1.5zM340.7 280.5h1.5v1.5h-1.5zM338.5 276.2h1.5v1.5h-1.5zM333.2 283.2h1.5v1.5h-1.5zM328.0 287.7h1.5v1.5h-1.5zM328.0 288.3h1.5v1.5h-1.5zM358.7 295.0h1.5v1.5h-1.5zM349.0 291.9h1.5v1.5h-1.5zM353.9 290.8h1.5v1.5h-1.5zM367.7 297.4h1.5v1.5h-1.5zM374.0 297.7h1.5v1.5h-1.5zM366.0 273.9h1.5v1.5h-1.5zM373.0 284.7h1.5v1.5h-1.5zM370.7 284.4h1.5v1.5h-1.5z" fill="#b4b4b4"/>
<path d="M124.1 296.6h1.5v1.5h-1.5zM302.7 294.6h1.5v1.5h-1.5zM319.9 298.2h1.5v1.5h-1.5zM348.0 296.7h1.5v1.5h-1.5zM263.1 291.6h1.5v1.5h-1.5zM351.1 292.5h1.5v1.5h-1.5zM373.1 293.3h1.5v1.5h-1.5zM300.0 292.4h1.5v1.5h-1.5zM107.4 295.3h1.5v1.5h-1.5zM328.8 291.7h1.5v1.5h-1.5zM296.7 293.8h1.5v1.5h-1.5zM268.3 300.5h1.5v1.5h-1.5zM308.7 292.7h1.5v1.5h-1.5zM361.8 297.7h1.5v1.5h-1.5zM262.0 291.6h1.5v1.5h-1.5zM216.0 296.6h1.5v1.5h-1.5zM338.9 294.0h1.5v1.5h-1.5zM178.6 290.9h1.5v1.5h-1.5zM94.6 295.5h1.5v1.5h-1.5zM320.3 292.7h1.5v1.5h-1.5zM176.6 298.6h1.5v1.5h-1.5zM373.7 296.4h1.5v1.5h-1.5zM354.2 298.9h1.5v1.5h-1.5zM293.0 299.0h1.5v1.5h-1.5zM273.2 299.5h1.5v1.5h-1.5zM352.4 298.8h1.5v1.5h-1.5zM73.3 295.7h1.5v1.5h-1.5zM362.0 295.6h1.5v1.5h-1.5zM315.1 296.5h1.5v1.5h-1.5zM252.7 298.2h1.5v1.5h-1.5zM151.6 296.6h1.5v1.5h-1.5zM298.0 298.5h1.5v1.5h-1.5zM247.5 293.4h1.5v1.5h-1.5zM286.3 298.1h1.5v1.5h-1.5zM325.9 291.2h1.5v1.5h-1.5zM82.3 291.0h1.5v1.5h-1.5zM276.1 299.5h1.5v1.5h-1.5zM303.6 298.4h1.5v1.5h-1.5zM160.0 299.3h1.5v1.5h-1.5zM367.6 295.9h1.5v1.5h-1.5zM127.4 294.7h1.5v1.5h-1.5zM88.7 293.6h1.5v1.5h-1.5zM175.8 296.5h1.5v1.5h-1.5zM333.9 294.9h1.5v1.5h-1.5zM271.4 293.2h1.5v1.5h-1.5zM360.3 299.4h1.5v1.5h-1.5zM179.4 292.0h1.5v1.5h-1.5zM275.9 297.4h1.5v1.5h-1.5zM343.5 297.3h1.5v1.5h-1.5zM264.1 296.0h1.5v1.5h-1.5zM169.1 296.9h1.5v1.5h-1.5zM349.0 295.3h1.5v1.5h-1.5zM279.9 300.7h1.5v1.5h-1.5zM125.8 293.1h1.5v1.5h-1.5zM332.2 296.9h1.5v1.5h-1.5zM368.8 300.6h1.5v1.5h-1.5zM72.8 293.5h1.5v1.5h-1.5zM254.9 293.9h1.5v1.5h-1.5zM369.5 296.4h1.5v1.5h-1.5zM294.5 300.4h1.5v1.5h-1.5zM311.2 294.9h1.5v1.5h-1.5zM79.2 265.6h1.5v1.5h-1.5zM88.8 283.4h1.5v1.5h-1.5zM82.1 286.7h1.5v1.5h-1.5zM103.9 287.7h1.5v1.5h-1.5zM101.4 290.2h1.5v1.5h-1.5zM122.3 293.7h1.5v1.5h-1.5zM76.5 290.8h1.5v1.5h-1.5zM78.0 291.6h1.5v1.5h-1.5zM71.9 293.8h1.5v1.5h-1.5zM121.3 296.8h1.5v1.5h-1.5zM130.5 268.7h1.5v1.5h-1.5zM147.8 269.6h1.5v1.5h-1.5zM142.0 270.2h1.5v1.5h-1.5zM130.8 272.7h1.5v1.5h-1.5zM145.6 268.2h1.5v1.5h-1.5zM134.2 271.9h1.5v1.5h-1.5zM149.5 275.6h1.5v1.5h-1.5zM139.1 277.7h1.5v1.5h-1.5zM138.6 278.9h1.5v1.5h-1.5zM148.2 277.0h1.5v1.5h-1.5zM142.0 281.0h1.5v1.5h-1.5zM135.7 277.4h1.5v1.5h-1.5zM150.0 250.6h1.5v1.5h-1.5zM153.7 269.9h1.5v1.5h-1.5zM164.0 271.1h1.5v1.5h-1.5zM155.6 279.6h1.5v1.5h-1.5zM205.7 279.4h1.5v1.5h-1.5zM183.6 285.4h1.5v1.5h-1.5zM194.5 279.7h1.5v1.5h-1.5zM210.4 283.8h1.5v1.5h-1.5zM238.6 281.8h1.5v1.5h-1.5zM245.8 288.7h1.5v1.5h-1.5zM229.0 280.5h1.5v1.5h-1.5zM231.5 271.3h1.5v1.5h-1.5zM249.0 279.1h1.5v1.5h-1.5zM259.3 291.7h1.5v1.5h-1.5zM269.6 285.5h1.5v1.5h-1.5zM261.0 279.1h1.5v1.5h-1.5zM251.8 283.5h1.5v1.5h-1.5zM269.9 286.7h1.5v1.5h-1.5zM260.6 290.0h1.5v1.5h-1.5zM274.4 286.6h1.5v1.5h-1.5zM272.4 293.0h1.5v1.5h-1.5zM253.9 279.0h1.5v1.5h-1.5zM270.6 283.3h1.5v1.5h-1.5zM253.1 290.9h1.5v1.5h-1.5zM255.3 283.8h1.5v1.5h-1.5zM250.8 286.2h1.5v1.5h-1.5zM268.2 291.4h1.5v1.5h-1.5zM257.1 272.3h1.5v1.5h-1.5zM274.1 273.3h1.5v1.5h-1.5zM254.0 274.4h1.5v1.5h-1.5zM320.9 285.7h1.5v1.5h-1.5zM292.9 292.5h1.5v1.5h-1.5zM326.4 287.6h1.5v1.5h-1.5zM311.4 284.4h1.5v1.5h-1.5zM288.9 286.1h1.5v1.5h-1.5zM304.3 285.2h1.5v1.5h-1.5zM301.0 291.1h1.5v1.5h-1.5zM306.1 293.2h1.5v1.5h-1.5zM318.2 285.6h1.5v1.5h-1.5zM301.5 287.9h1.5v1.5h-1.5zM304.6 288.1h1.5v1.5h-1.5zM319.8 291.4h1.5v1.5h-1.5zM320.6 280.3h1.5v1.5h-1.5zM305.4 278.1h1.5v1.5h-1.5zM315.7 281.3h1.5v1.5h-1.5zM337.0 271.8h1.5v1.5h-1.5zM329.4 268.6h1.5v1.5h-1.5zM341.3 284.3h1.5v1.5h-1.5zM328.8 289.6h1.5v1.5h-1.5zM342.3 285.1h1.5v1.5h-1.5zM336.5 288.2h1.5v1.5h-1.5zM334.5 282.7h1.5v1.5h-1.5zM365.4 297.8h1.5v1.5h-1.5zM363.5 294.9h1.5v1.5h-1.5zM354.5 293.0h1.5v1.5h-1.5zM370.1 296.9h1.5v1.5h-1.5zM367.4 294.6h1.5v1.5h-1.5zM371.1 284.7h1.5v1.5h-1.5z" fill="#e88a78"/>
<path d="M168.0 245.3h1.5v1.5h-1.5zM172.0 238.6h1.5v1.5h-1.5zM201.2 239.2h1.5v1.5h-1.5zM200.3 239.8h1.5v1.5h-1.5zM195.3 238.3h1.5v1.5h-1.5zM178.3 236.2h1.5v1.5h-1.5zM204.1 237.4h1.5v1.5h-1.5zM181.1 236.5h1.5v1.5h-1.5zM192.2 236.6h1.5v1.5h-1.5zM177.8 235.3h1.5v1.5h-1.5zM174.1 238.9h1.5v1.5h-1.5zM190.7 239.0h1.5v1.5h-1.5zM177.7 236.4h1.5v1.5h-1.5zM215.7 238.3h1.5v1.5h-1.5zM185.2 236.5h1.5v1.5h-1.5zM183.3 238.0h1.5v1.5h-1.5zM202.9 237.8h1.5v1.5h-1.5zM180.5 239.7h1.5v1.5h-1.5zM196.8 234.8h1.5v1.5h-1.5zM212.6 239.5h1.5v1.5h-1.5zM195.1 237.5h1.5v1.5h-1.5zM182.1 236.5h1.5v1.5h-1.5zM194.8 242.5h1.5v1.5h-1.5zM186.3 241.4h1.5v1.5h-1.5zM208.2 245.6h1.5v1.5h-1.5zM179.9 245.5h1.5v1.5h-1.5zM179.3 243.7h1.5v1.5h-1.5zM203.3 244.6h1.5v1.5h-1.5zM215.0 249.4h1.5v1.5h-1.5zM245.2 251.1h1.5v1.5h-1.5zM220.7 250.6h1.5v1.5h-1.5zM243.7 247.6h1.5v1.5h-1.5zM225.9 247.6h1.5v1.5h-1.5zM242.7 249.8h1.5v1.5h-1.5zM221.8 248.0h1.5v1.5h-1.5zM227.2 251.5h1.5v1.5h-1.5zM243.1 249.8h1.5v1.5h-1.5zM227.9 249.0h1.5v1.5h-1.5zM223.7 252.0h1.5v1.5h-1.5zM221.0 241.6h1.5v1.5h-1.5zM260.1 251.8h1.5v1.5h-1.5zM259.3 252.7h1.5v1.5h-1.5zM255.9 250.0h1.5v1.5h-1.5zM260.0 251.4h1.5v1.5h-1.5zM289.0 249.9h1.5v1.5h-1.5zM288.3 248.0h1.5v1.5h-1.5zM296.7 249.2h1.5v1.5h-1.5zM290.4 248.5h1.5v1.5h-1.5zM289.6 248.6h1.5v1.5h-1.5zM292.7 253.5h1.5v1.5h-1.5zM296.0 251.0h1.5v1.5h-1.5zM295.6 262.0h1.5v1.5h-1.5zM293.3 259.4h1.5v1.5h-1.5zM290.6 258.9h1.5v1.5h-1.5zM291.7 272.0h1.5v1.5h-1.5zM158.0 226.5h1.5v1.5h-1.5z" fill="#ff1a00"/>
<path d="M204.0 255.8h1.5v1.5h-1.5zM178.7 261.2h1.5v1.5h-1.5zM203.9 261.8h1.5v1.5h-1.5zM204.5 267.6h1.5v1.5h-1.5zM200.7 274.0h1.5v1.5h-1.5zM210.6 268.9h1.5v1.5h-1.5zM175.8 272.2h1.5v1.5h-1.5zM210.7 266.4h1.5v1.5h-1.5zM187.4 267.2h1.5v1.5h-1.5zM198.7 266.7h1.5v1.5h-1.5zM195.4 270.1h1.5v1.5h-1.5zM183.3 272.9h1.5v1.5h-1.5zM195.1 270.9h1.5v1.5h-1.5zM185.6 268.5h1.5v1.5h-1.5zM203.6 268.4h1.5v1.5h-1.5zM212.9 270.8h1.5v1.5h-1.5zM190.9 269.0h1.5v1.5h-1.5zM208.4 271.1h1.5v1.5h-1.5zM236.4 259.6h1.5v1.5h-1.5zM221.7 270.5h1.5v1.5h-1.5zM224.8 267.3h1.5v1.5h-1.5zM223.0 260.3h1.5v1.5h-1.5zM235.3 260.0h1.5v1.5h-1.5zM228.5 264.3h1.5v1.5h-1.5zM241.7 266.5h1.5v1.5h-1.5zM240.3 266.0h1.5v1.5h-1.5zM239.3 262.2h1.5v1.5h-1.5zM227.4 266.8h1.5v1.5h-1.5z" fill="#c8a8a0"/>
<path d="M176.3 258.3h1.5v1.5h-1.5zM204.4 261.0h1.5v1.5h-1.5zM203.2 260.7h1.5v1.5h-1.5zM215.1 259.9h1.5v1.5h-1.5zM174.2 263.8h1.5v1.5h-1.5zM178.8 272.0h1.5v1.5h-1.5zM202.2 275.4h1.5v1.5h-1.5zM207.0 267.6h1.5v1.5h-1.5zM201.1 266.9h1.5v1.5h-1.5zM197.8 273.6h1.5v1.5h-1.5zM195.8 271.0h1.5v1.5h-1.5zM188.2 272.0h1.5v1.5h-1.5zM191.6 269.4h1.5v1.5h-1.5zM181.8 270.6h1.5v1.5h-1.5zM195.7 273.2h1.5v1.5h-1.5zM189.8 272.8h1.5v1.5h-1.5zM204.7 273.5h1.5v1.5h-1.5zM193.0 272.2h1.5v1.5h-1.5zM227.7 264.1h1.5v1.5h-1.5zM216.3 264.2h1.5v1.5h-1.5zM238.8 264.9h1.5v1.5h-1.5zM236.2 259.9h1.5v1.5h-1.5zM241.7 254.5h1.5v1.5h-1.5zM233.2 265.1h1.5v1.5h-1.5zM217.1 265.0h1.5v1.5h-1.5zM231.3 268.7h1.5v1.5h-1.5zM222.4 265.3h1.5v1.5h-1.5zM243.1 268.8h1.5v1.5h-1.5zM245.6 266.6h1.5v1.5h-1.5zM233.6 264.1h1.5v1.5h-1.5zM217.1 256.5h1.5v1.5h-1.5zM245.6 269.9h1.5v1.5h-1.5zM234.7 256.9h1.5v1.5h-1.5zM241.3 261.0h1.5v1.5h-1.5z" fill="#f06040"/>
<path d="M361.4 287.4h1.5v1.5h-1.5zM371.8 288.5h1.5v1.5h-1.5zM374.2 288.1h1.5v1.5h-1.5zM351.0 286.8h1.5v1.5h-1.5zM355.7 286.8h1.5v1.5h-1.5zM366.9 287.7h1.5v1.5h-1.5zM362.5 288.4h1.5v1.5h-1.5zM366.7 287.0h1.5v1.5h-1.5zM354.0 287.3h1.5v1.5h-1.5zM369.1 288.3h1.5v1.5h-1.5zM371.8 286.6h1.5v1.5h-1.5zM351.3 288.0h1.5v1.5h-1.5zM352.2 288.0h1.5v1.5h-1.5zM352.2 287.5h1.5v1.5h-1.5zM356.5 287.9h1.5v1.5h-1.5zM362.0 287.7h1.5v1.5h-1.5zM370.5 286.9h1.5v1.5h-1.5zM353.0 288.1h1.5v1.5h-1.5zM350.2 287.8h1.5v1.5h-1.5zM352.8 287.0h1.5v1.5h-1.5zM370.3 286.3h1.5v1.5h-1.5zM369.7 287.6h1.5v1.5h-1.5zM358.1 288.4h1.5v1.5h-1.5zM361.5 287.6h1.5v1.5h-1.5zM370.0 286.7h1.5v1.5h-1.5zM362.4 288.2h1.5v1.5h-1.5zM360.6 286.6h1.5v1.5h-1.5zM360.6 287.1h1.5v1.5h-1.5zM364.6 287.5h1.5v1.5h-1.5zM364.9 288.0h1.5v1.5h-1.5zM364.5 286.6h1.5v1.5h-1.5zM372.9 286.4h1.5v1.5h-1.5zM366.4 286.7h1.5v1.5h-1.5zM362.2 288.3h1.5v1.5h-1.5zM357.8 287.0h1.5v1.5h-1.5zM366.7 287.1h1.5v1.5h-1.5z" fill="#e0907c"/>
<path d="M364.8 287.4h1.5v1.5h-1.5zM358.0 286.9h1.5v1.5h-1.5zM355.9 287.3h1.5v1.5h-1.5zM355.4 288.5h1.5v1.5h-1.5zM374.2 287.7h1.5v1.5h-1.5zM374.6 287.4h1.5v1.5h-1.5zM352.1 287.7h1.5v1.5h-1.5zM350.3 287.2h1.5v1.5h-1.5zM368.9 288.1h1.5v1.5h-1.5z" fill="#c0a8a4"/>
<line x1="49.30" y1="310.65" x2="52.50" y2="310.65" stroke="#333" stroke-width="0.8" />
<text x="46.3" y="314.8" font-size="11.5" text-anchor="end" fill="#000" >0</text>
<line x1="49.30" y1="288.09" x2="52.50" y2="288.09" stroke="#333" stroke-width="0.8" />
<text x="46.3" y="292.2" font-size="11.5" text-anchor="end" fill="#000" >3</text>
<line x1="49.30" y1="265.53" x2="52.50" y2="265.53" stroke="#333" stroke-width="0.8" />
<text x="46.3" y="269.6" font-size="11.5" text-anchor="end" fill="#000" >6</text>
<line x1="49.30" y1="242.97" x2="52.50" y2="242.97" stroke="#333" stroke-width="0.8" />
<text x="46.3" y="247.1" font-size="11.5" text-anchor="end" fill="#000" >9</text>
<path d="M180.3 225.6l1.6 3.4h-3.2z" fill="#f00"/>
<text x="189.0" y="230.6" font-size="11.3" text-anchor="start" fill="#000" >rs6533181</text>
<text transform="translate(14.2,280.4) rotate(-90)" font-size="11.5" text-anchor="middle" fill="#000" >CredibleSet1</text>
<text transform="translate(30.3,280.4) rotate(-90)" font-size="11.5" text-anchor="middle" fill="#000" >-log<tspan font-size="8.5" dy="1">10</tspan><tspan dy="-1">(p-value)</tspan></text>
<path d="M166.4 406.8h1.5v1.5h-1.5zM232.1 406.7h1.5v1.5h-1.5zM223.3 406.7h1.5v1.5h-1.5zM322.3 406.3h1.5v1.5h-1.5zM135.2 399.3h1.5v1.5h-1.5zM244.9 399.1h1.5v1.5h-1.5zM80.4 406.4h1.5v1.5h-1.5zM102.5 406.3h1.5v1.5h-1.5zM319.0 405.3h1.5v1.5h-1.5zM181.4 406.6h1.5v1.5h-1.5zM84.5 406.1h1.5v1.5h-1.5zM276.9 404.6h1.5v1.5h-1.5zM247.5 404.7h1.5v1.5h-1.5zM312.3 405.1h1.5v1.5h-1.5zM244.1 399.9h1.5v1.5h-1.5zM292.1 406.4h1.5v1.5h-1.5zM195.6 405.9h1.5v1.5h-1.5zM217.6 407.1h1.5v1.5h-1.5zM273.1 402.4h1.5v1.5h-1.5zM337.4 406.5h1.5v1.5h-1.5zM245.8 400.2h1.5v1.5h-1.5zM358.9 401.7h1.5v1.5h-1.5zM84.8 401.8h1.5v1.5h-1.5zM373.9 400.5h1.5v1.5h-1.5zM154.2 401.6h1.5v1.5h-1.5zM73.0 405.8h1.5v1.5h-1.5zM102.3 407.1h1.5v1.5h-1.5zM142.8 399.9h1.5v1.5h-1.5zM91.0 402.6h1.5v1.5h-1.5zM339.8 404.4h1.5v1.5h-1.5zM333.8 405.9h1.5v1.5h-1.5zM340.1 404.6h1.5v1.5h-1.5zM112.8 407.0h1.5v1.5h-1.5zM67.3 404.1h1.5v1.5h-1.5zM241.6 403.3h1.5v1.5h-1.5zM280.1 402.0h1.5v1.5h-1.5zM275.6 405.0h1.5v1.5h-1.5zM337.1 403.9h1.5v1.5h-1.5zM189.7 405.6h1.5v1.5h-1.5zM262.6 406.2h1.5v1.5h-1.5zM116.3 406.7h1.5v1.5h-1.5zM82.3 406.7h1.5v1.5h-1.5zM337.0 405.9h1.5v1.5h-1.5zM144.2 406.6h1.5v1.5h-1.5zM329.2 405.1h1.5v1.5h-1.5zM210.5 406.4h1.5v1.5h-1.5zM97.7 406.9h1.5v1.5h-1.5zM116.0 404.3h1.5v1.5h-1.5zM360.8 405.9h1.5v1.5h-1.5zM234.4 403.0h1.5v1.5h-1.5zM333.6 405.0h1.5v1.5h-1.5zM179.7 406.4h1.5v1.5h-1.5zM305.3 400.7h1.5v1.5h-1.5zM330.3 396.6h1.5v1.5h-1.5zM319.7 405.3h1.5v1.5h-1.5zM74.7 407.0h1.5v1.5h-1.5zM362.5 399.4h1.5v1.5h-1.5zM372.3 399.1h1.5v1.5h-1.5zM179.0 407.0h1.5v1.5h-1.5zM129.4 399.7h1.5v1.5h-1.5zM326.5 401.7h1.5v1.5h-1.5zM313.9 406.2h1.5v1.5h-1.5zM270.8 405.4h1.5v1.5h-1.5zM214.2 404.7h1.5v1.5h-1.5zM310.6 405.9h1.5v1.5h-1.5zM188.7 399.3h1.5v1.5h-1.5zM290.7 403.3h1.5v1.5h-1.5zM105.4 404.9h1.5v1.5h-1.5zM111.3 401.8h1.5v1.5h-1.5zM369.9 404.3h1.5v1.5h-1.5zM236.1 403.2h1.5v1.5h-1.5zM267.4 399.4h1.5v1.5h-1.5zM200.5 405.9h1.5v1.5h-1.5zM322.1 407.1h1.5v1.5h-1.5zM140.6 405.0h1.5v1.5h-1.5zM195.9 405.9h1.5v1.5h-1.5zM348.1 403.4h1.5v1.5h-1.5zM246.8 396.8h1.5v1.5h-1.5zM71.8 405.6h1.5v1.5h-1.5zM67.2 405.7h1.5v1.5h-1.5zM212.8 402.5h1.5v1.5h-1.5zM167.1 402.6h1.5v1.5h-1.5zM309.1 405.5h1.5v1.5h-1.5zM239.7 406.7h1.5v1.5h-1.5zM223.4 400.9h1.5v1.5h-1.5zM348.9 402.1h1.5v1.5h-1.5zM222.7 401.4h1.5v1.5h-1.5zM206.2 403.2h1.5v1.5h-1.5zM357.9 399.9h1.5v1.5h-1.5zM358.1 404.6h1.5v1.5h-1.5zM239.4 405.6h1.5v1.5h-1.5zM103.7 406.5h1.5v1.5h-1.5zM140.6 406.5h1.5v1.5h-1.5zM273.5 399.7h1.5v1.5h-1.5zM113.9 401.7h1.5v1.5h-1.5zM110.3 403.5h1.5v1.5h-1.5zM361.3 403.1h1.5v1.5h-1.5zM372.9 406.4h1.5v1.5h-1.5zM116.1 402.9h1.5v1.5h-1.5zM171.1 406.1h1.5v1.5h-1.5zM72.0 403.5h1.5v1.5h-1.5zM71.6 405.0h1.5v1.5h-1.5zM259.4 406.6h1.5v1.5h-1.5zM371.4 399.1h1.5v1.5h-1.5zM98.5 404.6h1.5v1.5h-1.5zM149.8 406.5h1.5v1.5h-1.5zM196.9 405.4h1.5v1.5h-1.5zM112.3 403.5h1.5v1.5h-1.5zM242.9 406.4h1.5v1.5h-1.5zM83.8 403.6h1.5v1.5h-1.5zM88.4 400.9h1.5v1.5h-1.5zM92.0 400.1h1.5v1.5h-1.5zM86.7 402.6h1.5v1.5h-1.5zM237.4 405.8h1.5v1.5h-1.5zM99.9 407.0h1.5v1.5h-1.5zM81.6 406.7h1.5v1.5h-1.5zM221.0 407.0h1.5v1.5h-1.5zM143.6 406.9h1.5v1.5h-1.5zM293.3 405.6h1.5v1.5h-1.5zM213.2 399.5h1.5v1.5h-1.5zM200.0 400.2h1.5v1.5h-1.5zM187.9 401.5h1.5v1.5h-1.5zM370.6 405.4h1.5v1.5h-1.5zM191.5 406.4h1.5v1.5h-1.5zM87.9 405.0h1.5v1.5h-1.5zM116.6 406.9h1.5v1.5h-1.5zM326.8 405.1h1.5v1.5h-1.5zM141.1 406.1h1.5v1.5h-1.5zM208.4 406.0h1.5v1.5h-1.5zM364.2 405.8h1.5v1.5h-1.5zM176.5 406.9h1.5v1.5h-1.5zM184.3 403.0h1.5v1.5h-1.5zM128.3 407.1h1.5v1.5h-1.5zM147.9 406.8h1.5v1.5h-1.5zM73.0 406.9h1.5v1.5h-1.5zM138.2 402.8h1.5v1.5h-1.5zM298.7 401.2h1.5v1.5h-1.5zM338.5 404.5h1.5v1.5h-1.5zM371.3 406.8h1.5v1.5h-1.5zM79.6 399.7h1.5v1.5h-1.5zM342.5 401.1h1.5v1.5h-1.5zM317.8 405.4h1.5v1.5h-1.5zM324.8 406.2h1.5v1.5h-1.5zM277.7 405.2h1.5v1.5h-1.5zM75.7 406.7h1.5v1.5h-1.5zM325.1 402.0h1.5v1.5h-1.5zM260.1 403.1h1.5v1.5h-1.5zM67.0 401.0h1.5v1.5h-1.5zM221.9 401.7h1.5v1.5h-1.5zM86.5 405.1h1.5v1.5h-1.5zM89.1 406.6h1.5v1.5h-1.5zM292.1 406.9h1.5v1.5h-1.5zM219.1 403.2h1.5v1.5h-1.5zM277.9 402.0h1.5v1.5h-1.5zM265.3 403.1h1.5v1.5h-1.5zM111.7 407.1h1.5v1.5h-1.5zM242.0 405.9h1.5v1.5h-1.5zM84.8 406.1h1.5v1.5h-1.5zM275.5 405.1h1.5v1.5h-1.5zM226.1 403.3h1.5v1.5h-1.5zM102.7 402.6h1.5v1.5h-1.5zM356.2 403.2h1.5v1.5h-1.5zM208.3 401.5h1.5v1.5h-1.5zM149.3 406.8h1.5v1.5h-1.5zM359.1 406.4h1.5v1.5h-1.5zM228.5 405.7h1.5v1.5h-1.5zM107.1 396.6h1.5v1.5h-1.5zM284.0 407.0h1.5v1.5h-1.5zM344.3 406.9h1.5v1.5h-1.5zM159.6 406.4h1.5v1.5h-1.5zM326.5 406.1h1.5v1.5h-1.5zM298.7 398.4h1.5v1.5h-1.5zM287.0 398.9h1.5v1.5h-1.5zM155.8 403.9h1.5v1.5h-1.5zM375.6 404.2h1.5v1.5h-1.5zM198.7 406.5h1.5v1.5h-1.5zM324.7 406.9h1.5v1.5h-1.5zM356.0 407.0h1.5v1.5h-1.5zM124.9 399.2h1.5v1.5h-1.5zM340.1 400.9h1.5v1.5h-1.5zM261.6 401.0h1.5v1.5h-1.5zM289.1 406.5h1.5v1.5h-1.5zM293.0 400.9h1.5v1.5h-1.5zM265.8 403.9h1.5v1.5h-1.5zM105.5 404.3h1.5v1.5h-1.5zM158.3 399.1h1.5v1.5h-1.5zM146.7 404.7h1.5v1.5h-1.5zM238.8 405.8h1.5v1.5h-1.5zM116.1 406.1h1.5v1.5h-1.5zM346.8 405.3h1.5v1.5h-1.5zM346.9 404.4h1.5v1.5h-1.5zM125.6 406.9h1.5v1.5h-1.5zM172.0 407.1h1.5v1.5h-1.5zM242.6 403.1h1.5v1.5h-1.5zM298.4 403.7h1.5v1.5h-1.5zM228.5 404.4h1.5v1.5h-1.5zM85.2 406.4h1.5v1.5h-1.5zM222.1 400.0h1.5v1.5h-1.5zM132.9 407.0h1.5v1.5h-1.5zM143.0 403.5h1.5v1.5h-1.5zM361.7 406.4h1.5v1.5h-1.5zM76.0 399.7h1.5v1.5h-1.5zM212.7 407.1h1.5v1.5h-1.5zM187.4 406.4h1.5v1.5h-1.5zM321.9 403.2h1.5v1.5h-1.5zM289.7 400.8h1.5v1.5h-1.5zM207.8 406.8h1.5v1.5h-1.5zM308.5 405.3h1.5v1.5h-1.5zM160.2 406.1h1.5v1.5h-1.5zM144.1 401.4h1.5v1.5h-1.5zM100.8 405.2h1.5v1.5h-1.5zM186.3 406.8h1.5v1.5h-1.5zM252.3 406.6h1.5v1.5h-1.5zM363.3 399.8h1.5v1.5h-1.5zM213.3 405.6h1.5v1.5h-1.5zM142.6 405.9h1.5v1.5h-1.5zM72.8 401.6h1.5v1.5h-1.5zM196.2 405.9h1.5v1.5h-1.5zM272.9 406.9h1.5v1.5h-1.5zM170.8 401.5h1.5v1.5h-1.5zM127.4 401.0h1.5v1.5h-1.5zM222.5 406.8h1.5v1.5h-1.5zM366.7 406.7h1.5v1.5h-1.5zM361.1 405.6h1.5v1.5h-1.5zM135.2 401.6h1.5v1.5h-1.5zM360.1 406.2h1.5v1.5h-1.5zM188.0 406.3h1.5v1.5h-1.5zM82.1 407.0h1.5v1.5h-1.5zM187.9 400.8h1.5v1.5h-1.5zM375.2 401.4h1.5v1.5h-1.5zM168.1 404.9h1.5v1.5h-1.5zM75.9 404.0h1.5v1.5h-1.5zM181.9 406.2h1.5v1.5h-1.5zM118.5 406.9h1.5v1.5h-1.5zM362.2 405.8h1.5v1.5h-1.5zM364.9 405.4h1.5v1.5h-1.5zM320.8 406.7h1.5v1.5h-1.5zM212.8 399.5h1.5v1.5h-1.5zM125.8 399.7h1.5v1.5h-1.5zM75.4 400.4h1.5v1.5h-1.5zM303.7 405.0h1.5v1.5h-1.5zM76.8 406.1h1.5v1.5h-1.5zM171.1 405.1h1.5v1.5h-1.5zM147.3 404.5h1.5v1.5h-1.5zM151.4 406.6h1.5v1.5h-1.5zM300.3 398.8h1.5v1.5h-1.5zM73.5 404.5h1.5v1.5h-1.5zM213.3 402.2h1.5v1.5h-1.5zM143.8 403.1h1.5v1.5h-1.5zM353.7 406.7h1.5v1.5h-1.5zM314.8 400.3h1.5v1.5h-1.5zM305.6 404.4h1.5v1.5h-1.5zM165.1 400.7h1.5v1.5h-1.5zM90.5 407.1h1.5v1.5h-1.5zM86.1 406.0h1.5v1.5h-1.5zM237.3 404.1h1.5v1.5h-1.5zM372.2 406.8h1.5v1.5h-1.5zM92.1 404.8h1.5v1.5h-1.5zM204.6 407.1h1.5v1.5h-1.5zM195.2 401.6h1.5v1.5h-1.5zM297.9 405.8h1.5v1.5h-1.5zM326.7 406.5h1.5v1.5h-1.5zM241.7 401.0h1.5v1.5h-1.5zM127.7 407.1h1.5v1.5h-1.5zM340.1 404.5h1.5v1.5h-1.5zM188.8 404.1h1.5v1.5h-1.5zM223.3 406.4h1.5v1.5h-1.5zM373.2 405.1h1.5v1.5h-1.5zM213.2 400.9h1.5v1.5h-1.5zM78.5 404.3h1.5v1.5h-1.5zM103.0 405.2h1.5v1.5h-1.5zM354.4 400.0h1.5v1.5h-1.5zM205.2 406.8h1.5v1.5h-1.5zM307.1 401.6h1.5v1.5h-1.5zM258.2 405.9h1.5v1.5h-1.5zM180.3 406.8h1.5v1.5h-1.5zM251.8 405.5h1.5v1.5h-1.5zM312.5 406.6h1.5v1.5h-1.5zM97.4 402.6h1.5v1.5h-1.5zM264.1 406.2h1.5v1.5h-1.5zM116.7 403.8h1.5v1.5h-1.5zM153.8 405.9h1.5v1.5h-1.5zM241.6 403.7h1.5v1.5h-1.5zM333.9 405.8h1.5v1.5h-1.5zM178.8 407.0h1.5v1.5h-1.5zM197.4 398.1h1.5v1.5h-1.5zM208.9 405.4h1.5v1.5h-1.5zM70.6 401.9h1.5v1.5h-1.5zM348.0 406.1h1.5v1.5h-1.5zM222.4 406.1h1.5v1.5h-1.5zM153.8 399.5h1.5v1.5h-1.5zM99.7 400.5h1.5v1.5h-1.5zM365.7 404.6h1.5v1.5h-1.5zM368.4 406.7h1.5v1.5h-1.5zM353.1 399.7h1.5v1.5h-1.5zM258.3 398.1h1.5v1.5h-1.5zM115.7 405.3h1.5v1.5h-1.5zM191.4 405.6h1.5v1.5h-1.5zM133.6 402.9h1.5v1.5h-1.5zM184.9 406.3h1.5v1.5h-1.5zM142.6 399.7h1.5v1.5h-1.5zM78.7 400.9h1.5v1.5h-1.5zM77.8 401.9h1.5v1.5h-1.5zM236.5 404.6h1.5v1.5h-1.5zM196.2 403.6h1.5v1.5h-1.5zM270.2 403.5h1.5v1.5h-1.5zM73.2 403.1h1.5v1.5h-1.5zM138.9 400.7h1.5v1.5h-1.5zM208.1 405.8h1.5v1.5h-1.5zM212.7 406.0h1.5v1.5h-1.5zM94.4 402.9h1.5v1.5h-1.5zM78.6 406.5h1.5v1.5h-1.5zM293.4 402.9h1.5v1.5h-1.5zM82.8 404.0h1.5v1.5h-1.5zM360.8 406.0h1.5v1.5h-1.5zM331.7 406.1h1.5v1.5h-1.5zM126.0 397.5h1.5v1.5h-1.5zM218.5 404.4h1.5v1.5h-1.5zM310.4 405.6h1.5v1.5h-1.5zM86.3 400.9h1.5v1.5h-1.5zM115.2 405.6h1.5v1.5h-1.5zM110.5 399.5h1.5v1.5h-1.5zM130.6 404.4h1.5v1.5h-1.5zM222.9 406.2h1.5v1.5h-1.5zM116.0 406.4h1.5v1.5h-1.5zM276.7 402.6h1.5v1.5h-1.5zM101.7 401.9h1.5v1.5h-1.5zM177.5 399.1h1.5v1.5h-1.5zM238.1 399.8h1.5v1.5h-1.5zM98.4 403.5h1.5v1.5h-1.5zM313.3 406.1h1.5v1.5h-1.5zM373.1 404.2h1.5v1.5h-1.5zM303.0 405.7h1.5v1.5h-1.5zM296.5 406.7h1.5v1.5h-1.5zM264.2 403.5h1.5v1.5h-1.5zM247.6 404.6h1.5v1.5h-1.5zM66.6 405.9h1.5v1.5h-1.5zM200.0 399.7h1.5v1.5h-1.5zM106.9 405.5h1.5v1.5h-1.5zM268.5 405.7h1.5v1.5h-1.5zM99.0 405.3h1.5v1.5h-1.5zM246.9 405.5h1.5v1.5h-1.5zM259.4 406.0h1.5v1.5h-1.5zM356.3 407.1h1.5v1.5h-1.5zM308.5 405.0h1.5v1.5h-1.5zM69.6 402.5h1.5v1.5h-1.5zM346.1 404.8h1.5v1.5h-1.5zM230.8 405.2h1.5v1.5h-1.5zM236.8 405.0h1.5v1.5h-1.5zM254.5 401.8h1.5v1.5h-1.5zM318.1 406.4h1.5v1.5h-1.5zM161.9 404.1h1.5v1.5h-1.5zM308.7 407.1h1.5v1.5h-1.5zM327.8 403.3h1.5v1.5h-1.5zM295.9 405.3h1.5v1.5h-1.5zM98.6 406.2h1.5v1.5h-1.5zM78.0 407.1h1.5v1.5h-1.5zM328.1 404.9h1.5v1.5h-1.5zM237.7 400.6h1.5v1.5h-1.5zM228.2 404.8h1.5v1.5h-1.5zM265.0 404.9h1.5v1.5h-1.5zM139.2 399.3h1.5v1.5h-1.5zM297.3 406.2h1.5v1.5h-1.5zM140.1 403.9h1.5v1.5h-1.5zM261.5 401.6h1.5v1.5h-1.5zM369.5 400.2h1.5v1.5h-1.5zM242.8 406.2h1.5v1.5h-1.5zM348.3 406.4h1.5v1.5h-1.5zM354.0 407.0h1.5v1.5h-1.5zM110.0 404.9h1.5v1.5h-1.5zM262.5 401.1h1.5v1.5h-1.5zM86.4 404.1h1.5v1.5h-1.5zM319.4 405.1h1.5v1.5h-1.5zM342.3 404.9h1.5v1.5h-1.5zM358.7 404.7h1.5v1.5h-1.5zM129.8 404.3h1.5v1.5h-1.5zM317.7 400.3h1.5v1.5h-1.5zM261.8 406.5h1.5v1.5h-1.5zM97.0 407.1h1.5v1.5h-1.5zM164.9 407.0h1.5v1.5h-1.5zM145.6 406.1h1.5v1.5h-1.5zM287.9 404.5h1.5v1.5h-1.5zM364.8 400.1h1.5v1.5h-1.5zM305.6 406.3h1.5v1.5h-1.5zM284.4 405.4h1.5v1.5h-1.5zM333.3 406.8h1.5v1.5h-1.5zM302.3 401.0h1.5v1.5h-1.5zM218.4 405.6h1.5v1.5h-1.5zM219.3 407.1h1.5v1.5h-1.5zM323.9 406.0h1.5v1.5h-1.5zM132.6 403.0h1.5v1.5h-1.5zM100.1 406.5h1.5v1.5h-1.5zM310.3 400.6h1.5v1.5h-1.5zM260.7 403.8h1.5v1.5h-1.5zM188.3 405.7h1.5v1.5h-1.5zM92.7 403.6h1.5v1.5h-1.5zM147.6 406.6h1.5v1.5h-1.5zM221.4 399.8h1.5v1.5h-1.5zM138.4 402.8h1.5v1.5h-1.5zM299.9 401.8h1.5v1.5h-1.5zM174.0 405.5h1.5v1.5h-1.5zM271.3 405.7h1.5v1.5h-1.5zM202.0 402.4h1.5v1.5h-1.5zM105.1 399.8h1.5v1.5h-1.5zM139.8 404.8h1.5v1.5h-1.5zM159.5 400.2h1.5v1.5h-1.5zM113.9 407.1h1.5v1.5h-1.5zM227.9 405.8h1.5v1.5h-1.5zM167.7 404.8h1.5v1.5h-1.5zM97.6 405.8h1.5v1.5h-1.5zM312.4 403.6h1.5v1.5h-1.5zM126.8 406.3h1.5v1.5h-1.5zM130.0 406.9h1.5v1.5h-1.5zM189.7 401.4h1.5v1.5h-1.5zM221.2 403.3h1.5v1.5h-1.5zM110.0 403.8h1.5v1.5h-1.5zM295.7 400.9h1.5v1.5h-1.5zM298.2 405.3h1.5v1.5h-1.5zM289.9 404.2h1.5v1.5h-1.5zM306.0 400.1h1.5v1.5h-1.5zM163.0 406.3h1.5v1.5h-1.5zM196.1 401.3h1.5v1.5h-1.5zM261.2 405.7h1.5v1.5h-1.5zM258.7 401.6h1.5v1.5h-1.5zM354.4 406.4h1.5v1.5h-1.5zM268.9 403.9h1.5v1.5h-1.5zM217.9 400.7h1.5v1.5h-1.5zM115.9 399.4h1.5v1.5h-1.5zM227.0 406.7h1.5v1.5h-1.5zM244.1 401.2h1.5v1.5h-1.5zM224.8 400.3h1.5v1.5h-1.5zM227.7 399.3h1.5v1.5h-1.5zM131.1 403.9h1.5v1.5h-1.5zM302.4 405.7h1.5v1.5h-1.5zM83.6 407.0h1.5v1.5h-1.5zM189.9 405.8h1.5v1.5h-1.5zM282.5 405.0h1.5v1.5h-1.5zM135.6 399.4h1.5v1.5h-1.5zM229.4 406.4h1.5v1.5h-1.5zM314.5 405.4h1.5v1.5h-1.5zM106.1 400.5h1.5v1.5h-1.5zM262.6 402.5h1.5v1.5h-1.5zM136.1 402.6h1.5v1.5h-1.5zM319.8 401.2h1.5v1.5h-1.5zM211.1 406.4h1.5v1.5h-1.5zM324.5 400.1h1.5v1.5h-1.5zM148.9 405.1h1.5v1.5h-1.5zM198.1 406.9h1.5v1.5h-1.5zM66.8 404.8h1.5v1.5h-1.5zM141.9 405.6h1.5v1.5h-1.5zM263.6 404.2h1.5v1.5h-1.5zM353.9 406.4h1.5v1.5h-1.5zM83.7 399.5h1.5v1.5h-1.5zM109.5 402.0h1.5v1.5h-1.5zM269.3 406.9h1.5v1.5h-1.5zM97.5 406.9h1.5v1.5h-1.5zM173.4 404.6h1.5v1.5h-1.5zM346.3 405.8h1.5v1.5h-1.5zM342.3 400.7h1.5v1.5h-1.5zM273.2 404.8h1.5v1.5h-1.5zM127.2 402.8h1.5v1.5h-1.5zM296.0 399.8h1.5v1.5h-1.5zM238.1 404.4h1.5v1.5h-1.5zM210.8 407.1h1.5v1.5h-1.5zM333.5 406.2h1.5v1.5h-1.5zM240.4 400.2h1.5v1.5h-1.5zM182.2 399.2h1.5v1.5h-1.5zM89.4 401.9h1.5v1.5h-1.5zM354.8 405.7h1.5v1.5h-1.5zM370.3 403.1h1.5v1.5h-1.5zM344.2 406.7h1.5v1.5h-1.5zM171.0 399.9h1.5v1.5h-1.5zM179.5 402.8h1.5v1.5h-1.5zM304.9 405.7h1.5v1.5h-1.5zM237.7 405.0h1.5v1.5h-1.5zM156.8 402.0h1.5v1.5h-1.5zM268.9 404.4h1.5v1.5h-1.5zM164.3 406.1h1.5v1.5h-1.5zM247.8 400.7h1.5v1.5h-1.5zM78.4 399.8h1.5v1.5h-1.5zM235.1 407.1h1.5v1.5h-1.5zM124.9 406.6h1.5v1.5h-1.5zM254.7 400.6h1.5v1.5h-1.5zM348.0 402.0h1.5v1.5h-1.5zM260.3 402.2h1.5v1.5h-1.5zM277.1 406.3h1.5v1.5h-1.5zM302.4 405.7h1.5v1.5h-1.5zM122.2 406.6h1.5v1.5h-1.5zM269.3 400.3h1.5v1.5h-1.5zM309.8 405.0h1.5v1.5h-1.5zM159.6 404.5h1.5v1.5h-1.5zM82.9 406.8h1.5v1.5h-1.5zM102.8 396.6h1.5v1.5h-1.5zM244.3 406.3h1.5v1.5h-1.5zM186.0 399.4h1.5v1.5h-1.5zM370.0 403.7h1.5v1.5h-1.5zM97.6 405.4h1.5v1.5h-1.5zM113.0 407.1h1.5v1.5h-1.5zM67.5 406.1h1.5v1.5h-1.5zM365.6 406.6h1.5v1.5h-1.5zM71.5 405.1h1.5v1.5h-1.5zM293.4 406.6h1.5v1.5h-1.5zM81.5 401.2h1.5v1.5h-1.5zM331.2 406.5h1.5v1.5h-1.5zM260.9 403.3h1.5v1.5h-1.5zM355.0 404.8h1.5v1.5h-1.5zM69.5 406.6h1.5v1.5h-1.5zM267.7 403.2h1.5v1.5h-1.5zM292.1 406.5h1.5v1.5h-1.5zM332.9 406.7h1.5v1.5h-1.5zM275.8 406.7h1.5v1.5h-1.5zM265.9 403.7h1.5v1.5h-1.5zM185.6 399.3h1.5v1.5h-1.5zM309.2 404.7h1.5v1.5h-1.5zM84.8 402.4h1.5v1.5h-1.5zM284.0 403.6h1.5v1.5h-1.5zM369.0 400.9h1.5v1.5h-1.5zM252.4 404.3h1.5v1.5h-1.5zM182.8 402.2h1.5v1.5h-1.5zM343.8 402.4h1.5v1.5h-1.5zM153.8 407.0h1.5v1.5h-1.5zM247.9 401.7h1.5v1.5h-1.5zM341.1 405.8h1.5v1.5h-1.5zM334.8 404.9h1.5v1.5h-1.5zM329.9 398.8h1.5v1.5h-1.5zM278.2 405.9h1.5v1.5h-1.5zM237.6 405.5h1.5v1.5h-1.5zM298.6 405.3h1.5v1.5h-1.5zM138.5 401.5h1.5v1.5h-1.5zM311.4 406.4h1.5v1.5h-1.5zM316.0 405.2h1.5v1.5h-1.5zM245.7 398.4h1.5v1.5h-1.5zM340.4 403.2h1.5v1.5h-1.5zM248.7 406.8h1.5v1.5h-1.5zM283.3 402.5h1.5v1.5h-1.5zM190.8 405.9h1.5v1.5h-1.5zM79.8 404.0h1.5v1.5h-1.5zM114.4 404.3h1.5v1.5h-1.5zM227.0 405.2h1.5v1.5h-1.5zM76.4 403.1h1.5v1.5h-1.5zM307.5 399.3h1.5v1.5h-1.5zM303.8 403.2h1.5v1.5h-1.5zM77.7 406.9h1.5v1.5h-1.5zM122.0 405.3h1.5v1.5h-1.5zM335.9 399.3h1.5v1.5h-1.5zM348.1 406.5h1.5v1.5h-1.5zM251.4 406.2h1.5v1.5h-1.5zM363.4 405.2h1.5v1.5h-1.5zM362.5 403.9h1.5v1.5h-1.5zM205.0 406.3h1.5v1.5h-1.5zM365.4 406.9h1.5v1.5h-1.5zM145.3 399.7h1.5v1.5h-1.5zM346.4 405.7h1.5v1.5h-1.5zM80.6 401.3h1.5v1.5h-1.5zM266.5 404.4h1.5v1.5h-1.5zM300.0 406.1h1.5v1.5h-1.5zM98.7 405.8h1.5v1.5h-1.5zM145.7 406.2h1.5v1.5h-1.5zM139.9 407.0h1.5v1.5h-1.5zM276.1 406.9h1.5v1.5h-1.5zM77.2 403.8h1.5v1.5h-1.5zM134.4 399.8h1.5v1.5h-1.5zM109.3 406.3h1.5v1.5h-1.5zM353.9 399.0h1.5v1.5h-1.5zM260.8 404.3h1.5v1.5h-1.5zM321.1 402.0h1.5v1.5h-1.5zM110.3 404.9h1.5v1.5h-1.5zM237.5 406.3h1.5v1.5h-1.5zM335.9 406.4h1.5v1.5h-1.5zM150.0 405.5h1.5v1.5h-1.5zM369.4 405.4h1.5v1.5h-1.5zM131.5 404.8h1.5v1.5h-1.5zM178.9 396.6h1.5v1.5h-1.5zM96.2 407.1h1.5v1.5h-1.5zM343.8 407.0h1.5v1.5h-1.5zM316.2 407.1h1.5v1.5h-1.5zM324.0 405.6h1.5v1.5h-1.5zM200.9 406.9h1.5v1.5h-1.5zM133.7 406.0h1.5v1.5h-1.5zM127.0 405.4h1.5v1.5h-1.5zM219.6 406.1h1.5v1.5h-1.5zM129.9 401.3h1.5v1.5h-1.5zM317.6 405.5h1.5v1.5h-1.5zM86.4 403.8h1.5v1.5h-1.5zM289.7 406.6h1.5v1.5h-1.5zM327.0 402.7h1.5v1.5h-1.5zM218.8 405.7h1.5v1.5h-1.5zM336.3 406.2h1.5v1.5h-1.5zM123.7 405.0h1.5v1.5h-1.5zM181.1 407.1h1.5v1.5h-1.5zM227.1 402.9h1.5v1.5h-1.5zM103.4 400.4h1.5v1.5h-1.5zM334.3 406.5h1.5v1.5h-1.5zM286.5 400.9h1.5v1.5h-1.5zM85.0 401.3h1.5v1.5h-1.5zM225.1 402.7h1.5v1.5h-1.5zM72.4 405.4h1.5v1.5h-1.5zM135.3 406.2h1.5v1.5h-1.5zM319.3 406.5h1.5v1.5h-1.5zM95.9 405.5h1.5v1.5h-1.5zM71.5 402.4h1.5v1.5h-1.5zM228.1 406.3h1.5v1.5h-1.5zM335.6 406.8h1.5v1.5h-1.5zM104.1 403.0h1.5v1.5h-1.5zM152.7 406.5h1.5v1.5h-1.5zM249.5 405.6h1.5v1.5h-1.5zM111.6 401.0h1.5v1.5h-1.5zM116.9 402.3h1.5v1.5h-1.5zM196.4 405.2h1.5v1.5h-1.5zM228.9 399.4h1.5v1.5h-1.5zM306.8 407.1h1.5v1.5h-1.5zM201.0 402.4h1.5v1.5h-1.5zM315.4 403.1h1.5v1.5h-1.5zM82.6 399.2h1.5v1.5h-1.5zM355.6 404.5h1.5v1.5h-1.5zM196.9 404.1h1.5v1.5h-1.5zM230.5 405.5h1.5v1.5h-1.5zM72.5 406.4h1.5v1.5h-1.5zM366.6 399.4h1.5v1.5h-1.5zM262.3 399.0h1.5v1.5h-1.5zM76.7 405.0h1.5v1.5h-1.5zM276.3 405.1h1.5v1.5h-1.5zM234.1 404.3h1.5v1.5h-1.5zM227.3 399.3h1.5v1.5h-1.5zM155.1 406.4h1.5v1.5h-1.5zM266.7 404.0h1.5v1.5h-1.5zM225.3 405.1h1.5v1.5h-1.5zM210.6 405.9h1.5v1.5h-1.5zM104.4 406.7h1.5v1.5h-1.5zM155.4 405.7h1.5v1.5h-1.5zM93.2 400.2h1.5v1.5h-1.5zM255.1 401.8h1.5v1.5h-1.5zM128.4 403.3h1.5v1.5h-1.5zM235.9 403.3h1.5v1.5h-1.5zM162.3 406.8h1.5v1.5h-1.5zM184.8 407.1h1.5v1.5h-1.5zM175.3 400.9h1.5v1.5h-1.5zM139.9 403.1h1.5v1.5h-1.5zM154.3 404.6h1.5v1.5h-1.5zM336.1 406.6h1.5v1.5h-1.5zM186.2 401.1h1.5v1.5h-1.5zM99.9 404.8h1.5v1.5h-1.5zM113.9 406.5h1.5v1.5h-1.5zM175.3 402.1h1.5v1.5h-1.5zM329.5 398.6h1.5v1.5h-1.5zM296.4 403.2h1.5v1.5h-1.5zM309.3 399.6h1.5v1.5h-1.5zM105.5 406.2h1.5v1.5h-1.5zM67.3 402.3h1.5v1.5h-1.5zM220.3 402.2h1.5v1.5h-1.5zM308.9 404.8h1.5v1.5h-1.5zM254.3 403.4h1.5v1.5h-1.5zM207.9 404.7h1.5v1.5h-1.5zM187.1 404.0h1.5v1.5h-1.5zM160.3 405.4h1.5v1.5h-1.5zM93.3 404.0h1.5v1.5h-1.5zM166.4 400.2h1.5v1.5h-1.5zM129.3 399.6h1.5v1.5h-1.5zM69.3 403.9h1.5v1.5h-1.5zM241.1 399.5h1.5v1.5h-1.5zM305.8 398.9h1.5v1.5h-1.5zM226.4 401.5h1.5v1.5h-1.5zM186.8 402.2h1.5v1.5h-1.5zM174.8 404.3h1.5v1.5h-1.5zM96.7 403.8h1.5v1.5h-1.5zM240.0 399.9h1.5v1.5h-1.5zM365.0 403.5h1.5v1.5h-1.5zM172.4 400.4h1.5v1.5h-1.5zM118.9 404.4h1.5v1.5h-1.5zM224.9 406.8h1.5v1.5h-1.5zM343.3 400.4h1.5v1.5h-1.5zM373.0 404.5h1.5v1.5h-1.5zM155.9 403.0h1.5v1.5h-1.5zM124.3 406.7h1.5v1.5h-1.5zM261.3 404.2h1.5v1.5h-1.5zM374.1 406.8h1.5v1.5h-1.5zM193.5 404.6h1.5v1.5h-1.5zM280.1 406.2h1.5v1.5h-1.5zM247.7 405.5h1.5v1.5h-1.5zM266.5 398.9h1.5v1.5h-1.5zM244.1 406.1h1.5v1.5h-1.5zM114.6 406.3h1.5v1.5h-1.5zM97.0 404.4h1.5v1.5h-1.5zM228.0 399.9h1.5v1.5h-1.5zM85.3 405.4h1.5v1.5h-1.5zM304.9 406.8h1.5v1.5h-1.5zM118.5 405.8h1.5v1.5h-1.5zM96.8 402.9h1.5v1.5h-1.5zM205.4 406.7h1.5v1.5h-1.5zM342.1 399.2h1.5v1.5h-1.5zM202.3 405.1h1.5v1.5h-1.5zM79.6 404.7h1.5v1.5h-1.5zM331.0 404.9h1.5v1.5h-1.5zM160.1 399.2h1.5v1.5h-1.5zM219.6 401.4h1.5v1.5h-1.5zM141.3 401.2h1.5v1.5h-1.5zM134.6 405.9h1.5v1.5h-1.5zM311.8 405.9h1.5v1.5h-1.5zM119.8 405.6h1.5v1.5h-1.5zM367.2 406.5h1.5v1.5h-1.5zM231.5 403.8h1.5v1.5h-1.5zM86.3 406.9h1.5v1.5h-1.5zM322.0 405.1h1.5v1.5h-1.5zM125.3 407.1h1.5v1.5h-1.5zM271.9 406.8h1.5v1.5h-1.5zM114.3 406.4h1.5v1.5h-1.5zM149.6 403.2h1.5v1.5h-1.5zM325.3 403.1h1.5v1.5h-1.5zM115.4 401.2h1.5v1.5h-1.5zM182.8 403.8h1.5v1.5h-1.5zM222.5 403.6h1.5v1.5h-1.5zM206.3 406.8h1.5v1.5h-1.5zM344.9 404.1h1.5v1.5h-1.5zM142.3 405.4h1.5v1.5h-1.5zM225.0 404.9h1.5v1.5h-1.5zM120.9 405.7h1.5v1.5h-1.5zM165.5 406.2h1.5v1.5h-1.5zM240.2 403.0h1.5v1.5h-1.5zM158.1 406.7h1.5v1.5h-1.5zM105.1 404.8h1.5v1.5h-1.5zM306.2 405.3h1.5v1.5h-1.5zM151.7 406.5h1.5v1.5h-1.5zM276.7 404.2h1.5v1.5h-1.5zM193.9 401.4h1.5v1.5h-1.5zM143.0 402.7h1.5v1.5h-1.5zM122.3 405.5h1.5v1.5h-1.5zM348.9 401.3h1.5v1.5h-1.5zM78.5 406.6h1.5v1.5h-1.5zM160.0 406.8h1.5v1.5h-1.5zM162.4 405.7h1.5v1.5h-1.5zM326.2 401.2h1.5v1.5h-1.5zM145.0 401.5h1.5v1.5h-1.5zM174.2 406.3h1.5v1.5h-1.5zM324.6 404.8h1.5v1.5h-1.5zM79.3 405.9h1.5v1.5h-1.5zM141.8 406.9h1.5v1.5h-1.5zM311.3 405.0h1.5v1.5h-1.5zM92.7 403.9h1.5v1.5h-1.5zM297.7 402.7h1.5v1.5h-1.5zM153.2 405.7h1.5v1.5h-1.5zM354.4 401.0h1.5v1.5h-1.5zM323.3 403.4h1.5v1.5h-1.5zM82.8 403.6h1.5v1.5h-1.5zM105.6 406.8h1.5v1.5h-1.5zM283.8 406.7h1.5v1.5h-1.5zM366.5 402.7h1.5v1.5h-1.5zM143.4 405.3h1.5v1.5h-1.5zM176.9 405.5h1.5v1.5h-1.5zM162.3 406.6h1.5v1.5h-1.5zM139.7 405.0h1.5v1.5h-1.5zM225.8 399.4h1.5v1.5h-1.5zM175.0 406.5h1.5v1.5h-1.5zM240.6 406.6h1.5v1.5h-1.5zM318.8 400.9h1.5v1.5h-1.5zM118.5 402.2h1.5v1.5h-1.5zM209.0 400.3h1.5v1.5h-1.5zM101.5 406.5h1.5v1.5h-1.5zM84.7 406.4h1.5v1.5h-1.5zM127.1 403.4h1.5v1.5h-1.5zM101.0 405.7h1.5v1.5h-1.5zM118.1 406.9h1.5v1.5h-1.5zM69.4 407.1h1.5v1.5h-1.5zM288.3 404.9h1.5v1.5h-1.5zM124.8 407.1h1.5v1.5h-1.5zM351.1 402.0h1.5v1.5h-1.5zM142.3 407.0h1.5v1.5h-1.5zM74.6 400.2h1.5v1.5h-1.5zM157.9 405.3h1.5v1.5h-1.5zM353.3 404.9h1.5v1.5h-1.5zM309.2 406.9h1.5v1.5h-1.5zM123.2 402.5h1.5v1.5h-1.5zM165.2 402.6h1.5v1.5h-1.5zM180.5 407.0h1.5v1.5h-1.5zM241.7 400.4h1.5v1.5h-1.5zM284.7 405.6h1.5v1.5h-1.5zM358.9 403.0h1.5v1.5h-1.5zM114.8 406.6h1.5v1.5h-1.5zM279.3 406.8h1.5v1.5h-1.5zM203.4 405.9h1.5v1.5h-1.5zM202.2 406.9h1.5v1.5h-1.5zM290.1 405.6h1.5v1.5h-1.5zM309.9 404.8h1.5v1.5h-1.5zM271.1 403.7h1.5v1.5h-1.5zM171.0 401.6h1.5v1.5h-1.5zM322.1 398.4h1.5v1.5h-1.5zM117.0 405.3h1.5v1.5h-1.5zM173.9 406.5h1.5v1.5h-1.5zM92.4 403.3h1.5v1.5h-1.5zM368.1 400.1h1.5v1.5h-1.5zM84.6 402.1h1.5v1.5h-1.5zM158.1 399.3h1.5v1.5h-1.5zM215.0 404.7h1.5v1.5h-1.5zM172.5 400.6h1.5v1.5h-1.5zM74.6 406.4h1.5v1.5h-1.5zM92.4 404.1h1.5v1.5h-1.5zM246.0 402.8h1.5v1.5h-1.5zM241.1 406.2h1.5v1.5h-1.5zM122.0 402.0h1.5v1.5h-1.5zM235.9 406.4h1.5v1.5h-1.5zM95.4 405.1h1.5v1.5h-1.5zM217.7 405.3h1.5v1.5h-1.5zM243.5 406.3h1.5v1.5h-1.5zM192.5 404.4h1.5v1.5h-1.5zM101.5 403.3h1.5v1.5h-1.5zM289.7 406.4h1.5v1.5h-1.5zM119.1 402.6h1.5v1.5h-1.5zM306.6 407.0h1.5v1.5h-1.5zM70.7 405.4h1.5v1.5h-1.5zM159.0 403.6h1.5v1.5h-1.5zM341.5 399.9h1.5v1.5h-1.5zM240.5 402.1h1.5v1.5h-1.5zM335.9 407.1h1.5v1.5h-1.5zM302.7 400.3h1.5v1.5h-1.5zM104.0 401.1h1.5v1.5h-1.5zM359.9 406.8h1.5v1.5h-1.5zM253.2 405.8h1.5v1.5h-1.5zM236.1 398.1h1.5v1.5h-1.5zM275.3 404.9h1.5v1.5h-1.5zM125.9 400.2h1.5v1.5h-1.5zM246.2 406.4h1.5v1.5h-1.5zM314.2 407.1h1.5v1.5h-1.5zM237.8 406.6h1.5v1.5h-1.5zM110.7 402.4h1.5v1.5h-1.5zM360.1 406.7h1.5v1.5h-1.5zM221.6 404.6h1.5v1.5h-1.5zM314.1 406.0h1.5v1.5h-1.5zM276.6 403.2h1.5v1.5h-1.5zM115.1 398.3h1.5v1.5h-1.5zM188.0 405.5h1.5v1.5h-1.5zM168.1 406.8h1.5v1.5h-1.5zM343.1 406.8h1.5v1.5h-1.5zM118.6 403.3h1.5v1.5h-1.5zM244.9 404.2h1.5v1.5h-1.5zM67.9 404.4h1.5v1.5h-1.5zM72.4 399.0h1.5v1.5h-1.5zM80.1 406.6h1.5v1.5h-1.5zM150.7 405.0h1.5v1.5h-1.5zM242.4 399.2h1.5v1.5h-1.5zM373.6 406.1h1.5v1.5h-1.5zM239.8 399.9h1.5v1.5h-1.5zM306.0 401.9h1.5v1.5h-1.5zM178.5 406.3h1.5v1.5h-1.5zM357.0 404.6h1.5v1.5h-1.5zM302.6 402.9h1.5v1.5h-1.5zM262.9 402.6h1.5v1.5h-1.5zM191.8 404.2h1.5v1.5h-1.5zM170.5 405.4h1.5v1.5h-1.5zM179.9 407.0h1.5v1.5h-1.5zM138.8 407.0h1.5v1.5h-1.5zM336.0 403.5h1.5v1.5h-1.5zM242.3 407.0h1.5v1.5h-1.5zM118.4 406.7h1.5v1.5h-1.5zM246.8 406.3h1.5v1.5h-1.5zM372.1 400.7h1.5v1.5h-1.5zM198.8 400.9h1.5v1.5h-1.5zM87.0 399.7h1.5v1.5h-1.5zM151.5 406.3h1.5v1.5h-1.5zM149.1 405.3h1.5v1.5h-1.5zM189.9 407.0h1.5v1.5h-1.5zM252.9 405.1h1.5v1.5h-1.5zM293.5 404.4h1.5v1.5h-1.5zM252.3 406.0h1.5v1.5h-1.5zM171.8 404.3h1.5v1.5h-1.5zM124.3 399.9h1.5v1.5h-1.5zM264.4 406.0h1.5v1.5h-1.5zM298.3 403.8h1.5v1.5h-1.5zM276.5 405.8h1.5v1.5h-1.5zM83.8 406.8h1.5v1.5h-1.5zM260.2 405.1h1.5v1.5h-1.5zM145.7 407.0h1.5v1.5h-1.5zM352.8 399.0h1.5v1.5h-1.5zM83.4 401.2h1.5v1.5h-1.5zM168.0 407.1h1.5v1.5h-1.5zM114.4 407.1h1.5v1.5h-1.5zM318.3 402.7h1.5v1.5h-1.5zM252.5 406.5h1.5v1.5h-1.5zM295.7 406.5h1.5v1.5h-1.5zM306.6 404.7h1.5v1.5h-1.5zM305.5 403.1h1.5v1.5h-1.5zM228.2 405.9h1.5v1.5h-1.5zM106.9 405.0h1.5v1.5h-1.5zM306.0 399.0h1.5v1.5h-1.5zM136.7 406.4h1.5v1.5h-1.5zM74.7 406.8h1.5v1.5h-1.5zM84.7 402.6h1.5v1.5h-1.5zM122.4 405.2h1.5v1.5h-1.5zM121.0 399.5h1.5v1.5h-1.5zM116.2 406.5h1.5v1.5h-1.5zM307.2 405.4h1.5v1.5h-1.5zM263.2 407.0h1.5v1.5h-1.5zM314.2 404.5h1.5v1.5h-1.5zM346.1 407.1h1.5v1.5h-1.5zM266.1 400.0h1.5v1.5h-1.5zM84.6 403.8h1.5v1.5h-1.5zM350.9 405.2h1.5v1.5h-1.5zM260.4 407.1h1.5v1.5h-1.5zM200.5 406.0h1.5v1.5h-1.5zM129.0 401.8h1.5v1.5h-1.5zM158.5 405.7h1.5v1.5h-1.5zM114.6 400.5h1.5v1.5h-1.5zM153.6 404.4h1.5v1.5h-1.5zM216.5 402.9h1.5v1.5h-1.5zM251.3 402.4h1.5v1.5h-1.5zM339.9 400.7h1.5v1.5h-1.5zM333.6 403.9h1.5v1.5h-1.5zM100.6 396.6h1.5v1.5h-1.5zM112.7 406.3h1.5v1.5h-1.5zM118.3 406.4h1.5v1.5h-1.5zM171.3 406.5h1.5v1.5h-1.5zM288.1 405.8h1.5v1.5h-1.5zM138.7 401.4h1.5v1.5h-1.5zM77.7 405.2h1.5v1.5h-1.5zM199.5 407.1h1.5v1.5h-1.5zM72.2 402.8h1.5v1.5h-1.5zM103.3 406.0h1.5v1.5h-1.5zM198.8 404.3h1.5v1.5h-1.5zM278.5 407.0h1.5v1.5h-1.5zM100.8 403.0h1.5v1.5h-1.5zM350.8 405.4h1.5v1.5h-1.5zM132.7 400.8h1.5v1.5h-1.5zM150.6 405.5h1.5v1.5h-1.5zM148.0 405.4h1.5v1.5h-1.5zM192.5 404.2h1.5v1.5h-1.5zM69.3 401.7h1.5v1.5h-1.5zM234.6 401.4h1.5v1.5h-1.5zM370.5 405.5h1.5v1.5h-1.5zM288.5 404.5h1.5v1.5h-1.5zM195.9 403.2h1.5v1.5h-1.5zM193.1 406.2h1.5v1.5h-1.5zM375.5 404.5h1.5v1.5h-1.5zM144.9 404.0h1.5v1.5h-1.5zM140.6 405.0h1.5v1.5h-1.5zM102.0 404.7h1.5v1.5h-1.5zM81.3 404.5h1.5v1.5h-1.5zM266.3 404.5h1.5v1.5h-1.5zM367.2 403.9h1.5v1.5h-1.5zM297.3 400.1h1.5v1.5h-1.5zM374.4 407.0h1.5v1.5h-1.5zM261.1 404.0h1.5v1.5h-1.5zM286.8 402.8h1.5v1.5h-1.5zM256.0 404.5h1.5v1.5h-1.5zM261.0 405.3h1.5v1.5h-1.5zM255.9 405.7h1.5v1.5h-1.5zM289.7 403.2h1.5v1.5h-1.5zM134.6 406.2h1.5v1.5h-1.5zM353.5 402.8h1.5v1.5h-1.5zM229.5 406.9h1.5v1.5h-1.5zM320.8 401.9h1.5v1.5h-1.5zM322.5 403.9h1.5v1.5h-1.5zM335.0 405.1h1.5v1.5h-1.5zM319.5 405.2h1.5v1.5h-1.5zM113.7 406.0h1.5v1.5h-1.5zM315.0 403.4h1.5v1.5h-1.5zM93.3 398.9h1.5v1.5h-1.5zM281.5 403.2h1.5v1.5h-1.5zM313.5 405.9h1.5v1.5h-1.5zM276.9 402.8h1.5v1.5h-1.5zM139.7 404.3h1.5v1.5h-1.5zM184.2 406.3h1.5v1.5h-1.5zM128.3 406.7h1.5v1.5h-1.5zM121.3 404.9h1.5v1.5h-1.5zM166.4 406.8h1.5v1.5h-1.5zM263.2 405.2h1.5v1.5h-1.5zM128.5 400.6h1.5v1.5h-1.5zM257.5 406.8h1.5v1.5h-1.5zM203.2 401.3h1.5v1.5h-1.5zM157.5 401.8h1.5v1.5h-1.5zM317.4 404.0h1.5v1.5h-1.5zM245.4 402.1h1.5v1.5h-1.5zM286.7 401.6h1.5v1.5h-1.5zM168.1 403.4h1.5v1.5h-1.5zM300.4 402.8h1.5v1.5h-1.5zM219.9 407.1h1.5v1.5h-1.5zM249.8 403.3h1.5v1.5h-1.5zM326.3 403.2h1.5v1.5h-1.5zM342.0 403.1h1.5v1.5h-1.5zM224.7 406.0h1.5v1.5h-1.5zM273.8 403.8h1.5v1.5h-1.5zM78.6 402.6h1.5v1.5h-1.5zM304.5 406.2h1.5v1.5h-1.5zM134.4 406.9h1.5v1.5h-1.5zM93.4 402.5h1.5v1.5h-1.5zM83.1 401.3h1.5v1.5h-1.5zM215.7 406.5h1.5v1.5h-1.5zM280.2 402.3h1.5v1.5h-1.5zM375.4 405.1h1.5v1.5h-1.5zM169.6 407.1h1.5v1.5h-1.5zM372.5 406.5h1.5v1.5h-1.5zM147.3 407.1h1.5v1.5h-1.5zM238.3 403.7h1.5v1.5h-1.5zM334.7 404.6h1.5v1.5h-1.5zM128.6 406.2h1.5v1.5h-1.5zM232.4 403.3h1.5v1.5h-1.5zM217.6 404.1h1.5v1.5h-1.5zM314.4 405.5h1.5v1.5h-1.5zM81.9 406.2h1.5v1.5h-1.5zM231.3 402.5h1.5v1.5h-1.5zM166.3 406.8h1.5v1.5h-1.5zM286.3 403.0h1.5v1.5h-1.5zM249.5 399.4h1.5v1.5h-1.5zM203.9 401.9h1.5v1.5h-1.5zM264.2 406.6h1.5v1.5h-1.5zM333.4 406.4h1.5v1.5h-1.5zM351.9 400.5h1.5v1.5h-1.5zM220.4 401.6h1.5v1.5h-1.5zM157.4 406.6h1.5v1.5h-1.5zM325.9 406.3h1.5v1.5h-1.5zM97.3 406.6h1.5v1.5h-1.5zM309.1 400.5h1.5v1.5h-1.5zM278.6 405.0h1.5v1.5h-1.5zM78.9 404.3h1.5v1.5h-1.5zM157.0 406.0h1.5v1.5h-1.5zM239.8 406.5h1.5v1.5h-1.5zM348.7 406.7h1.5v1.5h-1.5zM313.8 404.6h1.5v1.5h-1.5zM135.2 406.4h1.5v1.5h-1.5zM210.0 403.6h1.5v1.5h-1.5zM276.5 405.7h1.5v1.5h-1.5zM322.8 402.7h1.5v1.5h-1.5zM357.2 404.7h1.5v1.5h-1.5zM173.9 403.0h1.5v1.5h-1.5zM354.2 404.8h1.5v1.5h-1.5zM216.3 401.8h1.5v1.5h-1.5zM93.4 406.1h1.5v1.5h-1.5zM352.6 406.3h1.5v1.5h-1.5zM251.6 400.1h1.5v1.5h-1.5zM269.5 404.2h1.5v1.5h-1.5zM296.1 406.9h1.5v1.5h-1.5zM87.5 406.4h1.5v1.5h-1.5zM237.0 402.2h1.5v1.5h-1.5zM209.0 405.9h1.5v1.5h-1.5zM225.1 406.7h1.5v1.5h-1.5zM245.2 404.1h1.5v1.5h-1.5zM271.6 406.5h1.5v1.5h-1.5zM118.6 402.2h1.5v1.5h-1.5zM336.8 405.9h1.5v1.5h-1.5zM95.1 398.3h1.5v1.5h-1.5zM102.3 402.7h1.5v1.5h-1.5zM102.5 405.8h1.5v1.5h-1.5zM127.3 405.5h1.5v1.5h-1.5zM105.4 405.9h1.5v1.5h-1.5zM358.4 400.6h1.5v1.5h-1.5zM298.5 407.1h1.5v1.5h-1.5zM187.9 404.7h1.5v1.5h-1.5zM342.1 406.8h1.5v1.5h-1.5zM245.3 405.0h1.5v1.5h-1.5zM286.3 405.7h1.5v1.5h-1.5zM142.2 399.0h1.5v1.5h-1.5zM78.8 401.4h1.5v1.5h-1.5zM318.5 406.5h1.5v1.5h-1.5zM351.5 405.6h1.5v1.5h-1.5zM357.5 403.8h1.5v1.5h-1.5zM93.3 406.9h1.5v1.5h-1.5zM112.9 404.9h1.5v1.5h-1.5zM109.5 406.9h1.5v1.5h-1.5zM368.6 402.5h1.5v1.5h-1.5zM311.4 403.0h1.5v1.5h-1.5zM307.6 407.1h1.5v1.5h-1.5zM127.7 400.2h1.5v1.5h-1.5zM309.9 405.0h1.5v1.5h-1.5zM288.4 405.1h1.5v1.5h-1.5zM274.5 406.0h1.5v1.5h-1.5zM322.8 396.6h1.5v1.5h-1.5zM346.5 400.3h1.5v1.5h-1.5zM314.7 403.5h1.5v1.5h-1.5zM321.8 399.9h1.5v1.5h-1.5zM101.9 404.6h1.5v1.5h-1.5zM310.1 406.6h1.5v1.5h-1.5zM127.4 405.2h1.5v1.5h-1.5zM218.7 403.9h1.5v1.5h-1.5zM278.5 403.9h1.5v1.5h-1.5zM309.0 401.5h1.5v1.5h-1.5zM357.9 405.3h1.5v1.5h-1.5zM268.3 405.9h1.5v1.5h-1.5zM171.3 400.2h1.5v1.5h-1.5zM311.8 406.9h1.5v1.5h-1.5zM100.3 407.1h1.5v1.5h-1.5zM195.8 403.4h1.5v1.5h-1.5zM170.0 405.4h1.5v1.5h-1.5zM258.0 404.8h1.5v1.5h-1.5zM93.3 406.7h1.5v1.5h-1.5zM270.9 401.7h1.5v1.5h-1.5zM103.4 406.8h1.5v1.5h-1.5zM321.1 406.6h1.5v1.5h-1.5zM178.3 403.4h1.5v1.5h-1.5zM341.9 399.8h1.5v1.5h-1.5zM188.3 399.2h1.5v1.5h-1.5zM223.1 403.5h1.5v1.5h-1.5zM120.4 397.9h1.5v1.5h-1.5zM206.9 407.1h1.5v1.5h-1.5zM97.3 400.0h1.5v1.5h-1.5zM343.1 406.5h1.5v1.5h-1.5zM259.4 399.2h1.5v1.5h-1.5zM182.5 401.6h1.5v1.5h-1.5zM368.6 405.7h1.5v1.5h-1.5zM324.8 402.5h1.5v1.5h-1.5zM204.8 399.8h1.5v1.5h-1.5zM291.9 406.9h1.5v1.5h-1.5zM166.8 404.1h1.5v1.5h-1.5zM110.8 402.4h1.5v1.5h-1.5zM80.5 401.0h1.5v1.5h-1.5zM264.9 406.2h1.5v1.5h-1.5zM302.4 405.6h1.5v1.5h-1.5zM275.7 399.2h1.5v1.5h-1.5zM286.0 404.9h1.5v1.5h-1.5zM116.2 400.3h1.5v1.5h-1.5zM312.0 406.7h1.5v1.5h-1.5zM109.4 399.9h1.5v1.5h-1.5zM116.3 405.7h1.5v1.5h-1.5zM162.7 406.7h1.5v1.5h-1.5zM365.7 402.2h1.5v1.5h-1.5zM124.0 406.2h1.5v1.5h-1.5zM165.5 406.3h1.5v1.5h-1.5zM146.7 404.0h1.5v1.5h-1.5zM364.7 406.8h1.5v1.5h-1.5zM129.2 397.6h1.5v1.5h-1.5zM263.5 404.5h1.5v1.5h-1.5zM113.1 403.3h1.5v1.5h-1.5zM239.2 400.9h1.5v1.5h-1.5zM151.4 399.6h1.5v1.5h-1.5zM230.1 406.3h1.5v1.5h-1.5zM261.4 407.1h1.5v1.5h-1.5zM322.3 404.2h1.5v1.5h-1.5zM357.4 406.7h1.5v1.5h-1.5zM141.4 404.7h1.5v1.5h-1.5zM100.5 406.4h1.5v1.5h-1.5zM265.9 401.8h1.5v1.5h-1.5zM306.1 399.4h1.5v1.5h-1.5zM296.2 405.4h1.5v1.5h-1.5zM187.7 405.2h1.5v1.5h-1.5zM336.2 402.8h1.5v1.5h-1.5zM273.5 404.4h1.5v1.5h-1.5zM107.4 405.7h1.5v1.5h-1.5zM221.7 405.0h1.5v1.5h-1.5zM273.0 403.8h1.5v1.5h-1.5zM243.9 405.7h1.5v1.5h-1.5zM325.9 405.0h1.5v1.5h-1.5zM274.2 403.0h1.5v1.5h-1.5zM344.5 406.7h1.5v1.5h-1.5zM267.1 397.4h1.5v1.5h-1.5zM106.7 401.3h1.5v1.5h-1.5zM255.8 405.3h1.5v1.5h-1.5zM321.5 406.3h1.5v1.5h-1.5zM132.1 405.3h1.5v1.5h-1.5zM368.2 402.8h1.5v1.5h-1.5zM177.5 406.6h1.5v1.5h-1.5zM326.0 405.0h1.5v1.5h-1.5zM109.0 407.1h1.5v1.5h-1.5zM84.3 402.6h1.5v1.5h-1.5zM316.3 406.8h1.5v1.5h-1.5zM135.6 404.3h1.5v1.5h-1.5zM168.6 405.3h1.5v1.5h-1.5zM312.0 406.5h1.5v1.5h-1.5zM326.2 405.9h1.5v1.5h-1.5zM307.2 407.1h1.5v1.5h-1.5zM222.4 406.6h1.5v1.5h-1.5zM261.3 402.3h1.5v1.5h-1.5zM190.0 402.3h1.5v1.5h-1.5zM136.1 397.6h1.5v1.5h-1.5zM364.0 407.1h1.5v1.5h-1.5zM371.7 406.4h1.5v1.5h-1.5zM206.7 401.3h1.5v1.5h-1.5zM206.9 407.0h1.5v1.5h-1.5zM124.9 404.8h1.5v1.5h-1.5zM126.2 402.9h1.5v1.5h-1.5zM202.0 406.9h1.5v1.5h-1.5zM148.3 401.3h1.5v1.5h-1.5zM351.2 401.2h1.5v1.5h-1.5zM85.4 406.2h1.5v1.5h-1.5zM70.0 405.8h1.5v1.5h-1.5zM147.8 405.8h1.5v1.5h-1.5zM262.0 399.8h1.5v1.5h-1.5zM160.8 406.5h1.5v1.5h-1.5zM344.7 402.8h1.5v1.5h-1.5zM207.1 406.5h1.5v1.5h-1.5zM307.0 399.0h1.5v1.5h-1.5zM348.6 403.2h1.5v1.5h-1.5zM320.8 406.6h1.5v1.5h-1.5zM99.7 402.9h1.5v1.5h-1.5zM130.9 403.9h1.5v1.5h-1.5zM286.2 405.6h1.5v1.5h-1.5zM370.0 401.1h1.5v1.5h-1.5zM185.1 405.6h1.5v1.5h-1.5zM70.0 406.5h1.5v1.5h-1.5zM247.5 407.1h1.5v1.5h-1.5zM323.4 403.3h1.5v1.5h-1.5zM79.4 405.2h1.5v1.5h-1.5zM166.2 399.8h1.5v1.5h-1.5zM216.2 405.4h1.5v1.5h-1.5zM141.5 406.7h1.5v1.5h-1.5zM184.6 406.5h1.5v1.5h-1.5zM128.0 402.3h1.5v1.5h-1.5zM263.3 403.5h1.5v1.5h-1.5zM86.9 406.7h1.5v1.5h-1.5zM211.9 401.6h1.5v1.5h-1.5zM287.3 406.7h1.5v1.5h-1.5zM267.4 403.2h1.5v1.5h-1.5zM110.0 405.6h1.5v1.5h-1.5zM140.0 406.0h1.5v1.5h-1.5zM136.9 400.6h1.5v1.5h-1.5zM321.4 401.0h1.5v1.5h-1.5zM77.9 404.5h1.5v1.5h-1.5zM77.8 406.7h1.5v1.5h-1.5zM140.5 405.7h1.5v1.5h-1.5zM354.4 399.5h1.5v1.5h-1.5zM147.5 404.9h1.5v1.5h-1.5zM71.6 406.3h1.5v1.5h-1.5zM367.7 405.6h1.5v1.5h-1.5zM316.2 406.4h1.5v1.5h-1.5zM310.0 407.0h1.5v1.5h-1.5zM350.1 406.0h1.5v1.5h-1.5zM320.6 402.0h1.5v1.5h-1.5zM250.3 406.5h1.5v1.5h-1.5zM82.8 404.7h1.5v1.5h-1.5zM189.1 405.6h1.5v1.5h-1.5zM296.9 405.8h1.5v1.5h-1.5zM208.0 404.7h1.5v1.5h-1.5zM267.5 406.5h1.5v1.5h-1.5zM368.7 404.2h1.5v1.5h-1.5zM95.1 400.1h1.5v1.5h-1.5zM329.0 406.8h1.5v1.5h-1.5zM180.0 407.1h1.5v1.5h-1.5zM254.0 404.2h1.5v1.5h-1.5zM304.3 406.5h1.5v1.5h-1.5zM280.7 402.8h1.5v1.5h-1.5zM207.2 402.1h1.5v1.5h-1.5zM267.1 406.0h1.5v1.5h-1.5zM293.1 399.6h1.5v1.5h-1.5zM325.5 406.9h1.5v1.5h-1.5zM277.1 397.4h1.5v1.5h-1.5zM121.7 402.6h1.5v1.5h-1.5zM202.9 405.1h1.5v1.5h-1.5zM159.2 406.8h1.5v1.5h-1.5zM203.3 405.1h1.5v1.5h-1.5zM268.7 406.4h1.5v1.5h-1.5zM374.2 404.9h1.5v1.5h-1.5zM137.5 397.2h1.5v1.5h-1.5zM351.5 406.8h1.5v1.5h-1.5zM341.8 402.7h1.5v1.5h-1.5zM98.5 398.1h1.5v1.5h-1.5zM163.2 404.1h1.5v1.5h-1.5zM232.6 403.7h1.5v1.5h-1.5zM267.5 399.4h1.5v1.5h-1.5zM192.3 401.7h1.5v1.5h-1.5zM155.1 405.2h1.5v1.5h-1.5zM70.2 406.2h1.5v1.5h-1.5zM280.1 400.9h1.5v1.5h-1.5zM143.0 402.7h1.5v1.5h-1.5zM74.6 405.4h1.5v1.5h-1.5zM146.5 402.8h1.5v1.5h-1.5zM269.4 401.4h1.5v1.5h-1.5zM160.2 405.6h1.5v1.5h-1.5zM86.7 406.6h1.5v1.5h-1.5zM101.0 399.1h1.5v1.5h-1.5zM279.1 406.5h1.5v1.5h-1.5zM304.5 406.1h1.5v1.5h-1.5zM192.8 403.5h1.5v1.5h-1.5zM291.8 406.4h1.5v1.5h-1.5zM322.9 406.8h1.5v1.5h-1.5zM331.1 405.1h1.5v1.5h-1.5zM69.0 406.1h1.5v1.5h-1.5zM346.5 406.1h1.5v1.5h-1.5zM271.0 405.5h1.5v1.5h-1.5zM110.5 405.7h1.5v1.5h-1.5zM330.3 405.8h1.5v1.5h-1.5zM290.0 406.8h1.5v1.5h-1.5zM310.3 405.9h1.5v1.5h-1.5zM100.6 405.8h1.5v1.5h-1.5zM312.7 405.3h1.5v1.5h-1.5zM135.4 405.4h1.5v1.5h-1.5zM133.9 404.1h1.5v1.5h-1.5zM264.8 400.0h1.5v1.5h-1.5zM81.7 400.2h1.5v1.5h-1.5zM138.8 406.5h1.5v1.5h-1.5zM208.6 406.4h1.5v1.5h-1.5zM102.5 405.7h1.5v1.5h-1.5zM137.5 406.2h1.5v1.5h-1.5zM87.1 403.3h1.5v1.5h-1.5zM356.3 406.6h1.5v1.5h-1.5zM134.9 402.5h1.5v1.5h-1.5zM335.8 406.2h1.5v1.5h-1.5zM332.0 405.4h1.5v1.5h-1.5zM140.3 406.5h1.5v1.5h-1.5zM352.5 401.1h1.5v1.5h-1.5zM89.1 404.5h1.5v1.5h-1.5zM129.7 404.2h1.5v1.5h-1.5zM103.1 405.1h1.5v1.5h-1.5zM215.3 405.0h1.5v1.5h-1.5zM225.5 407.0h1.5v1.5h-1.5zM211.8 402.7h1.5v1.5h-1.5zM138.6 402.1h1.5v1.5h-1.5zM267.9 406.0h1.5v1.5h-1.5zM295.5 396.6h1.5v1.5h-1.5zM180.0 405.6h1.5v1.5h-1.5zM251.4 403.7h1.5v1.5h-1.5zM91.4 405.6h1.5v1.5h-1.5zM109.6 406.8h1.5v1.5h-1.5zM298.2 399.4h1.5v1.5h-1.5zM190.6 407.0h1.5v1.5h-1.5zM360.0 405.4h1.5v1.5h-1.5zM360.0 398.9h1.5v1.5h-1.5zM258.6 406.9h1.5v1.5h-1.5zM324.5 405.5h1.5v1.5h-1.5zM136.1 407.1h1.5v1.5h-1.5zM165.8 404.3h1.5v1.5h-1.5zM273.3 406.5h1.5v1.5h-1.5zM322.7 406.5h1.5v1.5h-1.5zM254.3 405.3h1.5v1.5h-1.5zM286.6 406.6h1.5v1.5h-1.5zM140.5 406.3h1.5v1.5h-1.5zM108.5 402.3h1.5v1.5h-1.5zM340.8 406.9h1.5v1.5h-1.5zM138.6 405.7h1.5v1.5h-1.5zM192.8 404.2h1.5v1.5h-1.5zM271.1 403.1h1.5v1.5h-1.5zM358.0 406.7h1.5v1.5h-1.5zM349.6 406.8h1.5v1.5h-1.5zM71.4 406.2h1.5v1.5h-1.5zM335.8 402.8h1.5v1.5h-1.5zM329.1 396.6h1.5v1.5h-1.5zM268.6 406.2h1.5v1.5h-1.5zM141.6 402.3h1.5v1.5h-1.5zM314.3 403.8h1.5v1.5h-1.5zM89.6 406.3h1.5v1.5h-1.5zM242.8 406.7h1.5v1.5h-1.5zM139.3 402.8h1.5v1.5h-1.5zM276.0 406.1h1.5v1.5h-1.5zM295.8 403.2h1.5v1.5h-1.5zM274.4 407.1h1.5v1.5h-1.5zM213.4 401.3h1.5v1.5h-1.5zM266.7 404.6h1.5v1.5h-1.5zM138.2 399.2h1.5v1.5h-1.5zM130.2 399.2h1.5v1.5h-1.5zM345.0 406.5h1.5v1.5h-1.5zM293.9 401.7h1.5v1.5h-1.5zM303.7 407.0h1.5v1.5h-1.5zM148.5 406.1h1.5v1.5h-1.5zM108.2 403.7h1.5v1.5h-1.5zM90.1 399.4h1.5v1.5h-1.5zM244.9 401.3h1.5v1.5h-1.5zM201.5 406.9h1.5v1.5h-1.5zM275.5 407.1h1.5v1.5h-1.5zM180.6 406.1h1.5v1.5h-1.5zM365.6 404.3h1.5v1.5h-1.5zM303.5 407.0h1.5v1.5h-1.5zM252.3 397.4h1.5v1.5h-1.5zM337.3 405.5h1.5v1.5h-1.5zM70.7 401.1h1.5v1.5h-1.5zM150.5 406.2h1.5v1.5h-1.5zM281.7 407.1h1.5v1.5h-1.5zM137.3 406.1h1.5v1.5h-1.5zM72.0 402.8h1.5v1.5h-1.5zM355.7 404.3h1.5v1.5h-1.5zM227.9 406.1h1.5v1.5h-1.5zM83.0 406.8h1.5v1.5h-1.5zM259.5 405.0h1.5v1.5h-1.5zM311.4 404.3h1.5v1.5h-1.5zM218.5 406.6h1.5v1.5h-1.5zM354.0 406.7h1.5v1.5h-1.5zM113.7 404.0h1.5v1.5h-1.5zM288.3 406.4h1.5v1.5h-1.5zM285.4 398.1h1.5v1.5h-1.5zM311.3 405.3h1.5v1.5h-1.5zM241.2 405.9h1.5v1.5h-1.5zM125.7 406.3h1.5v1.5h-1.5zM262.5 407.1h1.5v1.5h-1.5zM231.3 406.9h1.5v1.5h-1.5zM290.6 405.6h1.5v1.5h-1.5zM156.1 401.4h1.5v1.5h-1.5zM256.6 405.9h1.5v1.5h-1.5zM271.4 405.9h1.5v1.5h-1.5zM288.0 397.4h1.5v1.5h-1.5zM312.3 406.2h1.5v1.5h-1.5zM83.3 406.4h1.5v1.5h-1.5zM81.2 405.9h1.5v1.5h-1.5zM354.8 399.4h1.5v1.5h-1.5zM227.6 401.2h1.5v1.5h-1.5zM87.7 403.2h1.5v1.5h-1.5zM144.3 405.3h1.5v1.5h-1.5zM164.7 401.3h1.5v1.5h-1.5zM353.5 402.9h1.5v1.5h-1.5zM257.8 405.1h1.5v1.5h-1.5zM152.4 406.6h1.5v1.5h-1.5zM370.2 403.1h1.5v1.5h-1.5zM258.0 405.9h1.5v1.5h-1.5zM87.2 400.8h1.5v1.5h-1.5zM201.6 406.6h1.5v1.5h-1.5zM364.7 406.7h1.5v1.5h-1.5zM155.3 406.0h1.5v1.5h-1.5zM99.0 406.2h1.5v1.5h-1.5zM324.3 405.6h1.5v1.5h-1.5zM119.8 403.6h1.5v1.5h-1.5zM170.8 407.0h1.5v1.5h-1.5zM102.3 403.1h1.5v1.5h-1.5zM295.6 402.2h1.5v1.5h-1.5zM362.5 404.8h1.5v1.5h-1.5zM210.2 401.1h1.5v1.5h-1.5zM106.2 406.2h1.5v1.5h-1.5zM363.1 406.6h1.5v1.5h-1.5zM142.9 405.9h1.5v1.5h-1.5zM211.5 401.0h1.5v1.5h-1.5zM361.4 384.6h1.5v1.5h-1.5zM371.8 385.7h1.5v1.5h-1.5zM374.2 385.3h1.5v1.5h-1.5zM351.0 384.0h1.5v1.5h-1.5zM364.8 384.5h1.5v1.5h-1.5zM355.7 384.0h1.5v1.5h-1.5zM358.0 384.1h1.5v1.5h-1.5zM355.9 384.4h1.5v1.5h-1.5zM366.9 384.9h1.5v1.5h-1.5zM362.5 385.6h1.5v1.5h-1.5zM366.7 384.2h1.5v1.5h-1.5zM354.0 384.5h1.5v1.5h-1.5zM369.1 385.5h1.5v1.5h-1.5zM371.8 383.8h1.5v1.5h-1.5zM351.3 385.2h1.5v1.5h-1.5zM352.2 385.1h1.5v1.5h-1.5zM352.2 384.6h1.5v1.5h-1.5zM356.5 385.0h1.5v1.5h-1.5zM362.0 384.9h1.5v1.5h-1.5zM370.5 384.1h1.5v1.5h-1.5zM353.0 385.2h1.5v1.5h-1.5zM350.2 385.0h1.5v1.5h-1.5zM352.8 384.1h1.5v1.5h-1.5zM370.3 383.5h1.5v1.5h-1.5zM355.4 385.6h1.5v1.5h-1.5zM369.7 384.8h1.5v1.5h-1.5zM374.2 384.8h1.5v1.5h-1.5zM358.1 385.6h1.5v1.5h-1.5zM374.6 384.6h1.5v1.5h-1.5zM361.5 384.7h1.5v1.5h-1.5zM370.0 383.8h1.5v1.5h-1.5zM362.4 385.3h1.5v1.5h-1.5zM360.6 383.7h1.5v1.5h-1.5zM360.6 384.2h1.5v1.5h-1.5zM364.6 384.7h1.5v1.5h-1.5zM364.9 385.2h1.5v1.5h-1.5zM364.5 383.8h1.5v1.5h-1.5zM352.1 384.9h1.5v1.5h-1.5zM372.9 383.5h1.5v1.5h-1.5zM350.3 384.3h1.5v1.5h-1.5zM366.4 383.8h1.5v1.5h-1.5zM362.2 385.4h1.5v1.5h-1.5zM357.8 384.1h1.5v1.5h-1.5zM368.9 385.3h1.5v1.5h-1.5zM366.7 384.2h1.5v1.5h-1.5z" fill="#b8b8b8"/>
<path d="M200.4 405.8h1.5v1.5h-1.5zM216.3 405.0h1.5v1.5h-1.5zM178.7 406.6h1.5v1.5h-1.5zM168.2 405.5h1.5v1.5h-1.5zM226.5 406.9h1.5v1.5h-1.5zM221.5 402.8h1.5v1.5h-1.5zM149.0 406.1h1.5v1.5h-1.5zM301.4 406.0h1.5v1.5h-1.5zM324.0 401.9h1.5v1.5h-1.5zM235.6 405.9h1.5v1.5h-1.5zM322.2 399.8h1.5v1.5h-1.5zM67.1 403.4h1.5v1.5h-1.5zM99.8 407.0h1.5v1.5h-1.5zM227.9 399.4h1.5v1.5h-1.5zM134.6 404.7h1.5v1.5h-1.5zM297.7 405.2h1.5v1.5h-1.5zM69.5 406.0h1.5v1.5h-1.5zM276.3 406.8h1.5v1.5h-1.5zM67.8 403.6h1.5v1.5h-1.5zM112.3 405.2h1.5v1.5h-1.5zM174.6 403.5h1.5v1.5h-1.5zM356.5 405.1h1.5v1.5h-1.5zM84.1 407.0h1.5v1.5h-1.5zM70.7 404.1h1.5v1.5h-1.5zM282.3 399.3h1.5v1.5h-1.5zM131.7 406.5h1.5v1.5h-1.5zM257.7 405.8h1.5v1.5h-1.5zM66.4 406.3h1.5v1.5h-1.5zM97.5 399.0h1.5v1.5h-1.5zM276.7 403.4h1.5v1.5h-1.5zM262.3 403.5h1.5v1.5h-1.5zM138.6 406.6h1.5v1.5h-1.5zM218.3 402.7h1.5v1.5h-1.5zM74.8 401.5h1.5v1.5h-1.5zM150.2 399.1h1.5v1.5h-1.5zM199.5 399.4h1.5v1.5h-1.5zM179.9 403.5h1.5v1.5h-1.5zM210.3 407.1h1.5v1.5h-1.5zM182.0 405.4h1.5v1.5h-1.5zM241.8 405.9h1.5v1.5h-1.5zM275.8 405.0h1.5v1.5h-1.5zM169.7 405.8h1.5v1.5h-1.5zM346.0 407.1h1.5v1.5h-1.5zM145.9 405.8h1.5v1.5h-1.5zM369.4 405.9h1.5v1.5h-1.5zM121.8 401.3h1.5v1.5h-1.5zM115.2 404.7h1.5v1.5h-1.5zM165.8 400.1h1.5v1.5h-1.5zM220.9 405.6h1.5v1.5h-1.5zM259.6 401.4h1.5v1.5h-1.5zM220.3 404.9h1.5v1.5h-1.5zM336.4 406.0h1.5v1.5h-1.5zM305.2 401.7h1.5v1.5h-1.5zM242.0 406.7h1.5v1.5h-1.5zM191.0 403.7h1.5v1.5h-1.5zM224.7 405.3h1.5v1.5h-1.5zM240.7 405.5h1.5v1.5h-1.5zM355.9 405.1h1.5v1.5h-1.5zM347.7 403.7h1.5v1.5h-1.5zM225.1 406.5h1.5v1.5h-1.5zM236.7 400.9h1.5v1.5h-1.5zM240.5 406.0h1.5v1.5h-1.5zM232.9 400.5h1.5v1.5h-1.5zM291.3 399.4h1.5v1.5h-1.5zM171.5 402.9h1.5v1.5h-1.5zM248.4 401.7h1.5v1.5h-1.5zM335.5 407.1h1.5v1.5h-1.5zM339.7 405.2h1.5v1.5h-1.5zM158.3 403.5h1.5v1.5h-1.5zM81.9 404.2h1.5v1.5h-1.5zM145.9 403.2h1.5v1.5h-1.5zM187.4 405.6h1.5v1.5h-1.5zM150.1 405.0h1.5v1.5h-1.5zM169.3 405.1h1.5v1.5h-1.5zM232.0 404.1h1.5v1.5h-1.5zM342.1 405.9h1.5v1.5h-1.5zM242.8 405.3h1.5v1.5h-1.5zM158.7 396.6h1.5v1.5h-1.5zM116.3 407.1h1.5v1.5h-1.5zM225.3 399.5h1.5v1.5h-1.5zM178.2 401.9h1.5v1.5h-1.5zM347.2 404.1h1.5v1.5h-1.5zM369.2 400.5h1.5v1.5h-1.5zM276.2 400.5h1.5v1.5h-1.5zM367.6 399.3h1.5v1.5h-1.5zM143.4 407.0h1.5v1.5h-1.5zM279.8 404.1h1.5v1.5h-1.5zM120.6 401.5h1.5v1.5h-1.5zM355.0 407.0h1.5v1.5h-1.5zM268.2 405.3h1.5v1.5h-1.5zM86.1 407.0h1.5v1.5h-1.5zM334.0 406.1h1.5v1.5h-1.5zM265.0 401.3h1.5v1.5h-1.5zM195.4 405.0h1.5v1.5h-1.5zM95.2 405.6h1.5v1.5h-1.5zM114.8 406.8h1.5v1.5h-1.5zM209.1 405.8h1.5v1.5h-1.5zM230.1 406.3h1.5v1.5h-1.5zM304.8 403.5h1.5v1.5h-1.5z" fill="#dca090"/>
<path d="M165.6 396.3h1.5v1.5h-1.5zM296.9 394.5h1.5v1.5h-1.5zM320.7 389.0h1.5v1.5h-1.5zM244.2 398.0h1.5v1.5h-1.5zM344.8 388.1h1.5v1.5h-1.5zM319.9 395.3h1.5v1.5h-1.5zM179.4 394.2h1.5v1.5h-1.5zM175.4 394.1h1.5v1.5h-1.5zM100.2 395.7h1.5v1.5h-1.5zM263.1 388.8h1.5v1.5h-1.5zM300.2 395.6h1.5v1.5h-1.5zM351.1 389.7h1.5v1.5h-1.5zM373.1 390.5h1.5v1.5h-1.5zM300.0 389.6h1.5v1.5h-1.5zM144.5 391.2h1.5v1.5h-1.5zM184.0 389.3h1.5v1.5h-1.5zM107.4 392.5h1.5v1.5h-1.5zM173.0 389.2h1.5v1.5h-1.5zM328.8 388.9h1.5v1.5h-1.5zM109.1 388.2h1.5v1.5h-1.5zM296.7 391.0h1.5v1.5h-1.5zM268.3 397.6h1.5v1.5h-1.5zM335.7 392.4h1.5v1.5h-1.5zM308.7 389.9h1.5v1.5h-1.5zM335.7 395.9h1.5v1.5h-1.5zM97.1 394.7h1.5v1.5h-1.5zM74.1 389.7h1.5v1.5h-1.5zM136.4 397.4h1.5v1.5h-1.5zM87.0 390.3h1.5v1.5h-1.5zM262.0 388.7h1.5v1.5h-1.5zM211.8 388.7h1.5v1.5h-1.5zM293.5 394.8h1.5v1.5h-1.5zM336.9 392.1h1.5v1.5h-1.5zM98.8 391.9h1.5v1.5h-1.5zM323.1 392.7h1.5v1.5h-1.5zM216.0 393.7h1.5v1.5h-1.5zM338.9 391.1h1.5v1.5h-1.5zM130.5 394.3h1.5v1.5h-1.5zM281.7 396.8h1.5v1.5h-1.5zM349.4 397.8h1.5v1.5h-1.5zM249.2 393.6h1.5v1.5h-1.5zM288.4 393.6h1.5v1.5h-1.5zM94.6 392.6h1.5v1.5h-1.5zM320.3 389.8h1.5v1.5h-1.5zM176.6 395.8h1.5v1.5h-1.5zM296.9 389.7h1.5v1.5h-1.5zM133.9 388.8h1.5v1.5h-1.5zM184.0 390.7h1.5v1.5h-1.5zM159.5 394.7h1.5v1.5h-1.5zM293.0 396.2h1.5v1.5h-1.5zM362.6 387.6h1.5v1.5h-1.5zM239.9 389.8h1.5v1.5h-1.5zM73.3 392.8h1.5v1.5h-1.5zM344.6 388.6h1.5v1.5h-1.5zM362.0 392.7h1.5v1.5h-1.5zM355.1 392.2h1.5v1.5h-1.5zM110.5 391.5h1.5v1.5h-1.5zM315.1 393.7h1.5v1.5h-1.5zM252.7 395.4h1.5v1.5h-1.5zM225.1 393.2h1.5v1.5h-1.5zM94.6 398.1h1.5v1.5h-1.5zM298.0 395.6h1.5v1.5h-1.5zM120.4 391.8h1.5v1.5h-1.5zM346.3 396.0h1.5v1.5h-1.5zM247.5 390.5h1.5v1.5h-1.5zM298.3 390.6h1.5v1.5h-1.5zM286.3 395.3h1.5v1.5h-1.5zM325.9 388.4h1.5v1.5h-1.5zM87.6 389.7h1.5v1.5h-1.5zM276.1 396.6h1.5v1.5h-1.5zM208.6 391.4h1.5v1.5h-1.5zM375.3 394.6h1.5v1.5h-1.5zM303.6 395.5h1.5v1.5h-1.5zM127.7 396.4h1.5v1.5h-1.5zM193.1 391.6h1.5v1.5h-1.5zM133.7 397.2h1.5v1.5h-1.5zM214.7 393.5h1.5v1.5h-1.5zM367.6 393.0h1.5v1.5h-1.5zM358.9 393.2h1.5v1.5h-1.5zM110.8 396.3h1.5v1.5h-1.5zM88.7 390.7h1.5v1.5h-1.5zM365.8 393.9h1.5v1.5h-1.5zM333.9 392.1h1.5v1.5h-1.5zM68.0 389.2h1.5v1.5h-1.5zM291.8 394.4h1.5v1.5h-1.5zM261.3 388.4h1.5v1.5h-1.5zM190.5 393.6h1.5v1.5h-1.5zM158.4 392.3h1.5v1.5h-1.5zM360.3 396.6h1.5v1.5h-1.5zM179.4 389.2h1.5v1.5h-1.5zM311.2 391.9h1.5v1.5h-1.5zM275.9 394.5h1.5v1.5h-1.5zM190.8 396.2h1.5v1.5h-1.5zM314.2 397.8h1.5v1.5h-1.5zM166.2 393.1h1.5v1.5h-1.5zM343.5 394.4h1.5v1.5h-1.5zM264.1 393.1h1.5v1.5h-1.5zM169.1 394.1h1.5v1.5h-1.5zM254.8 389.9h1.5v1.5h-1.5zM146.8 394.2h1.5v1.5h-1.5zM186.2 394.3h1.5v1.5h-1.5zM349.0 392.5h1.5v1.5h-1.5zM320.6 396.4h1.5v1.5h-1.5zM279.9 397.9h1.5v1.5h-1.5zM125.9 397.5h1.5v1.5h-1.5zM315.7 396.6h1.5v1.5h-1.5zM289.2 388.5h1.5v1.5h-1.5zM359.6 392.3h1.5v1.5h-1.5zM351.8 397.2h1.5v1.5h-1.5zM352.8 393.6h1.5v1.5h-1.5zM125.8 390.3h1.5v1.5h-1.5zM332.2 394.1h1.5v1.5h-1.5zM94.9 388.9h1.5v1.5h-1.5zM299.6 391.8h1.5v1.5h-1.5zM368.8 397.7h1.5v1.5h-1.5zM83.3 396.8h1.5v1.5h-1.5zM72.8 390.7h1.5v1.5h-1.5zM261.3 396.9h1.5v1.5h-1.5zM138.1 387.9h1.5v1.5h-1.5zM374.4 390.7h1.5v1.5h-1.5zM76.4 393.5h1.5v1.5h-1.5zM311.2 392.1h1.5v1.5h-1.5zM68.7 380.5h1.5v1.5h-1.5zM69.6 385.8h1.5v1.5h-1.5zM68.4 379.9h1.5v1.5h-1.5zM71.2 380.2h1.5v1.5h-1.5zM69.4 387.7h1.5v1.5h-1.5zM70.5 365.5h1.5v1.5h-1.5zM77.7 368.0h1.5v1.5h-1.5zM79.2 362.7h1.5v1.5h-1.5zM75.2 368.0h1.5v1.5h-1.5zM109.9 383.2h1.5v1.5h-1.5zM116.4 380.3h1.5v1.5h-1.5zM90.7 383.4h1.5v1.5h-1.5zM88.8 380.6h1.5v1.5h-1.5zM110.8 380.1h1.5v1.5h-1.5zM105.5 383.7h1.5v1.5h-1.5zM102.4 384.5h1.5v1.5h-1.5zM112.3 382.8h1.5v1.5h-1.5zM89.0 380.5h1.5v1.5h-1.5zM81.3 380.4h1.5v1.5h-1.5zM108.3 384.6h1.5v1.5h-1.5zM108.4 382.3h1.5v1.5h-1.5zM95.1 380.4h1.5v1.5h-1.5zM81.5 381.3h1.5v1.5h-1.5zM82.1 383.9h1.5v1.5h-1.5zM82.5 380.8h1.5v1.5h-1.5zM95.7 381.5h1.5v1.5h-1.5zM88.3 381.5h1.5v1.5h-1.5zM103.9 384.8h1.5v1.5h-1.5zM97.8 381.5h1.5v1.5h-1.5zM86.6 381.9h1.5v1.5h-1.5zM120.6 385.9h1.5v1.5h-1.5zM124.9 391.4h1.5v1.5h-1.5zM101.4 387.4h1.5v1.5h-1.5zM111.7 391.1h1.5v1.5h-1.5zM117.5 391.6h1.5v1.5h-1.5zM76.5 388.0h1.5v1.5h-1.5zM78.0 388.7h1.5v1.5h-1.5zM72.9 385.5h1.5v1.5h-1.5zM99.8 388.1h1.5v1.5h-1.5zM90.7 393.2h1.5v1.5h-1.5zM96.3 395.0h1.5v1.5h-1.5zM116.8 386.5h1.5v1.5h-1.5zM71.9 391.0h1.5v1.5h-1.5zM95.8 388.3h1.5v1.5h-1.5zM110.1 392.3h1.5v1.5h-1.5zM77.5 387.3h1.5v1.5h-1.5zM95.0 363.5h1.5v1.5h-1.5zM114.0 365.8h1.5v1.5h-1.5zM128.0 372.4h1.5v1.5h-1.5zM137.5 371.0h1.5v1.5h-1.5zM129.1 365.7h1.5v1.5h-1.5zM136.8 367.0h1.5v1.5h-1.5zM131.3 365.8h1.5v1.5h-1.5zM130.5 365.9h1.5v1.5h-1.5zM140.3 365.3h1.5v1.5h-1.5zM144.3 368.4h1.5v1.5h-1.5zM138.3 366.3h1.5v1.5h-1.5zM136.1 373.2h1.5v1.5h-1.5zM147.8 366.8h1.5v1.5h-1.5zM142.0 367.3h1.5v1.5h-1.5zM130.8 369.9h1.5v1.5h-1.5zM145.6 365.4h1.5v1.5h-1.5zM142.1 369.1h1.5v1.5h-1.5zM135.1 372.5h1.5v1.5h-1.5zM134.2 369.1h1.5v1.5h-1.5zM144.0 368.7h1.5v1.5h-1.5zM129.1 366.1h1.5v1.5h-1.5zM134.2 365.4h1.5v1.5h-1.5zM139.6 365.3h1.5v1.5h-1.5zM134.6 369.1h1.5v1.5h-1.5zM132.8 373.8h1.5v1.5h-1.5zM142.1 383.2h1.5v1.5h-1.5zM148.7 379.3h1.5v1.5h-1.5zM138.6 376.0h1.5v1.5h-1.5zM141.7 383.2h1.5v1.5h-1.5zM141.7 378.6h1.5v1.5h-1.5zM148.2 374.2h1.5v1.5h-1.5zM125.0 387.6h1.5v1.5h-1.5zM132.1 362.5h1.5v1.5h-1.5zM134.6 364.0h1.5v1.5h-1.5zM147.0 347.0h1.5v1.5h-1.5zM150.0 347.7h1.5v1.5h-1.5zM140.0 352.3h1.5v1.5h-1.5zM170.8 370.4h1.5v1.5h-1.5zM172.0 367.6h1.5v1.5h-1.5zM160.1 366.3h1.5v1.5h-1.5zM151.7 365.4h1.5v1.5h-1.5zM165.6 366.6h1.5v1.5h-1.5zM154.0 366.1h1.5v1.5h-1.5zM172.5 369.3h1.5v1.5h-1.5zM153.5 370.0h1.5v1.5h-1.5zM153.7 367.1h1.5v1.5h-1.5zM170.0 370.0h1.5v1.5h-1.5zM162.6 367.2h1.5v1.5h-1.5zM164.0 368.3h1.5v1.5h-1.5zM151.5 368.2h1.5v1.5h-1.5zM155.9 375.3h1.5v1.5h-1.5zM161.9 381.6h1.5v1.5h-1.5zM158.4 375.1h1.5v1.5h-1.5zM155.6 376.8h1.5v1.5h-1.5zM170.9 380.5h1.5v1.5h-1.5zM162.6 372.4h1.5v1.5h-1.5zM165.1 385.2h1.5v1.5h-1.5zM158.3 386.8h1.5v1.5h-1.5zM166.2 381.0h1.5v1.5h-1.5zM157.7 379.5h1.5v1.5h-1.5zM173.4 384.1h1.5v1.5h-1.5zM153.9 383.1h1.5v1.5h-1.5zM167.7 360.1h1.5v1.5h-1.5zM154.1 363.8h1.5v1.5h-1.5zM168.0 342.5h1.5v1.5h-1.5zM200.3 336.9h1.5v1.5h-1.5zM181.1 333.7h1.5v1.5h-1.5zM192.2 333.7h1.5v1.5h-1.5zM177.8 332.5h1.5v1.5h-1.5zM174.1 336.0h1.5v1.5h-1.5zM190.7 336.2h1.5v1.5h-1.5zM177.7 333.6h1.5v1.5h-1.5zM185.2 333.7h1.5v1.5h-1.5zM180.5 336.8h1.5v1.5h-1.5zM212.6 336.7h1.5v1.5h-1.5zM179.9 342.6h1.5v1.5h-1.5zM215.0 346.6h1.5v1.5h-1.5zM205.7 376.6h1.5v1.5h-1.5zM182.7 384.1h1.5v1.5h-1.5zM203.1 383.5h1.5v1.5h-1.5zM176.6 382.2h1.5v1.5h-1.5zM196.0 377.5h1.5v1.5h-1.5zM214.6 375.5h1.5v1.5h-1.5zM178.6 375.6h1.5v1.5h-1.5zM189.5 383.5h1.5v1.5h-1.5zM194.5 376.9h1.5v1.5h-1.5zM211.6 374.8h1.5v1.5h-1.5zM191.7 382.9h1.5v1.5h-1.5zM245.2 348.3h1.5v1.5h-1.5zM220.7 347.8h1.5v1.5h-1.5zM243.7 344.8h1.5v1.5h-1.5zM225.9 344.8h1.5v1.5h-1.5zM242.7 347.0h1.5v1.5h-1.5zM243.1 346.9h1.5v1.5h-1.5zM227.9 346.1h1.5v1.5h-1.5zM227.6 372.0h1.5v1.5h-1.5zM238.6 379.0h1.5v1.5h-1.5zM216.1 385.8h1.5v1.5h-1.5zM218.7 380.4h1.5v1.5h-1.5zM229.0 377.7h1.5v1.5h-1.5zM224.7 373.9h1.5v1.5h-1.5zM231.5 368.4h1.5v1.5h-1.5zM221.0 338.7h1.5v1.5h-1.5zM249.0 376.2h1.5v1.5h-1.5zM259.3 388.9h1.5v1.5h-1.5zM269.6 382.6h1.5v1.5h-1.5zM257.8 385.7h1.5v1.5h-1.5zM276.4 385.5h1.5v1.5h-1.5zM259.0 384.6h1.5v1.5h-1.5zM251.8 380.6h1.5v1.5h-1.5zM269.9 383.9h1.5v1.5h-1.5zM260.6 387.1h1.5v1.5h-1.5zM274.4 383.7h1.5v1.5h-1.5zM275.9 385.0h1.5v1.5h-1.5zM253.9 376.2h1.5v1.5h-1.5zM270.6 380.4h1.5v1.5h-1.5zM263.9 383.5h1.5v1.5h-1.5zM253.1 388.0h1.5v1.5h-1.5zM269.2 380.2h1.5v1.5h-1.5zM255.3 380.9h1.5v1.5h-1.5zM250.9 381.4h1.5v1.5h-1.5zM257.3 382.3h1.5v1.5h-1.5zM268.2 388.6h1.5v1.5h-1.5zM257.1 369.4h1.5v1.5h-1.5zM265.7 370.0h1.5v1.5h-1.5zM274.1 370.4h1.5v1.5h-1.5zM254.0 371.6h1.5v1.5h-1.5zM260.1 348.9h1.5v1.5h-1.5zM259.3 349.9h1.5v1.5h-1.5zM260.0 348.6h1.5v1.5h-1.5zM289.0 347.1h1.5v1.5h-1.5zM296.7 346.4h1.5v1.5h-1.5zM296.0 348.1h1.5v1.5h-1.5zM295.6 359.2h1.5v1.5h-1.5zM293.3 356.6h1.5v1.5h-1.5zM290.6 356.0h1.5v1.5h-1.5zM298.2 389.9h1.5v1.5h-1.5zM285.5 384.0h1.5v1.5h-1.5zM287.8 388.9h1.5v1.5h-1.5zM326.2 381.1h1.5v1.5h-1.5zM323.8 380.2h1.5v1.5h-1.5zM303.1 382.2h1.5v1.5h-1.5zM295.5 380.9h1.5v1.5h-1.5zM320.9 382.9h1.5v1.5h-1.5zM292.9 389.6h1.5v1.5h-1.5zM326.4 384.8h1.5v1.5h-1.5zM311.4 381.5h1.5v1.5h-1.5zM288.9 383.2h1.5v1.5h-1.5zM304.3 382.3h1.5v1.5h-1.5zM303.9 388.5h1.5v1.5h-1.5zM327.9 387.6h1.5v1.5h-1.5zM317.8 381.9h1.5v1.5h-1.5zM301.0 388.2h1.5v1.5h-1.5zM292.4 380.6h1.5v1.5h-1.5zM299.7 385.2h1.5v1.5h-1.5zM318.2 382.8h1.5v1.5h-1.5zM292.1 386.9h1.5v1.5h-1.5zM317.1 383.7h1.5v1.5h-1.5zM301.5 385.1h1.5v1.5h-1.5zM289.4 380.9h1.5v1.5h-1.5zM304.6 385.3h1.5v1.5h-1.5zM319.8 388.5h1.5v1.5h-1.5zM320.6 377.4h1.5v1.5h-1.5zM323.6 379.4h1.5v1.5h-1.5zM305.4 375.3h1.5v1.5h-1.5zM312.4 377.2h1.5v1.5h-1.5zM315.7 378.4h1.5v1.5h-1.5zM331.6 370.3h1.5v1.5h-1.5zM337.0 369.0h1.5v1.5h-1.5zM337.5 367.4h1.5v1.5h-1.5zM334.0 367.0h1.5v1.5h-1.5zM326.9 366.2h1.5v1.5h-1.5zM329.4 365.8h1.5v1.5h-1.5zM340.7 377.6h1.5v1.5h-1.5zM341.3 381.5h1.5v1.5h-1.5zM338.5 373.3h1.5v1.5h-1.5zM328.8 386.8h1.5v1.5h-1.5zM333.2 380.3h1.5v1.5h-1.5zM328.0 384.9h1.5v1.5h-1.5zM342.3 382.2h1.5v1.5h-1.5zM336.5 385.4h1.5v1.5h-1.5zM334.5 379.9h1.5v1.5h-1.5zM365.4 394.9h1.5v1.5h-1.5zM358.7 392.2h1.5v1.5h-1.5zM363.5 392.1h1.5v1.5h-1.5zM349.0 389.1h1.5v1.5h-1.5zM353.9 388.0h1.5v1.5h-1.5zM354.5 390.2h1.5v1.5h-1.5zM370.1 394.1h1.5v1.5h-1.5zM374.0 394.9h1.5v1.5h-1.5zM367.4 391.8h1.5v1.5h-1.5zM366.0 371.1h1.5v1.5h-1.5zM158.0 323.7h1.5v1.5h-1.5zM373.0 381.8h1.5v1.5h-1.5zM370.7 381.5h1.5v1.5h-1.5z" fill="#b4b4b4"/>
<path d="M124.1 393.7h1.5v1.5h-1.5zM302.7 391.7h1.5v1.5h-1.5zM167.4 389.2h1.5v1.5h-1.5zM348.0 393.8h1.5v1.5h-1.5zM170.3 389.5h1.5v1.5h-1.5zM207.3 394.6h1.5v1.5h-1.5zM171.5 395.5h1.5v1.5h-1.5zM127.5 393.3h1.5v1.5h-1.5zM190.6 389.7h1.5v1.5h-1.5zM361.8 394.9h1.5v1.5h-1.5zM178.6 388.0h1.5v1.5h-1.5zM373.7 393.6h1.5v1.5h-1.5zM354.2 396.0h1.5v1.5h-1.5zM235.5 392.9h1.5v1.5h-1.5zM273.2 396.6h1.5v1.5h-1.5zM122.8 388.5h1.5v1.5h-1.5zM236.9 390.1h1.5v1.5h-1.5zM335.2 394.3h1.5v1.5h-1.5zM352.4 395.9h1.5v1.5h-1.5zM151.6 393.7h1.5v1.5h-1.5zM171.5 390.6h1.5v1.5h-1.5zM145.2 392.7h1.5v1.5h-1.5zM82.3 388.2h1.5v1.5h-1.5zM203.2 397.2h1.5v1.5h-1.5zM160.0 396.4h1.5v1.5h-1.5zM125.9 394.8h1.5v1.5h-1.5zM222.4 396.2h1.5v1.5h-1.5zM127.4 391.9h1.5v1.5h-1.5zM175.8 393.6h1.5v1.5h-1.5zM175.1 390.9h1.5v1.5h-1.5zM187.5 396.5h1.5v1.5h-1.5zM271.4 390.4h1.5v1.5h-1.5zM358.9 392.3h1.5v1.5h-1.5zM101.8 388.7h1.5v1.5h-1.5zM219.7 394.3h1.5v1.5h-1.5zM230.9 388.3h1.5v1.5h-1.5zM151.5 394.6h1.5v1.5h-1.5zM136.7 397.5h1.5v1.5h-1.5zM147.8 390.4h1.5v1.5h-1.5zM116.2 396.2h1.5v1.5h-1.5zM254.9 391.0h1.5v1.5h-1.5zM366.6 394.3h1.5v1.5h-1.5zM369.5 393.6h1.5v1.5h-1.5zM187.2 395.5h1.5v1.5h-1.5zM120.3 396.2h1.5v1.5h-1.5zM113.2 394.4h1.5v1.5h-1.5zM294.5 397.5h1.5v1.5h-1.5zM230.4 391.0h1.5v1.5h-1.5zM104.8 382.3h1.5v1.5h-1.5zM107.1 383.2h1.5v1.5h-1.5zM115.2 382.1h1.5v1.5h-1.5zM109.7 381.2h1.5v1.5h-1.5zM108.3 384.0h1.5v1.5h-1.5zM114.3 382.3h1.5v1.5h-1.5zM89.1 383.4h1.5v1.5h-1.5zM122.3 390.9h1.5v1.5h-1.5zM77.2 389.2h1.5v1.5h-1.5zM114.8 395.5h1.5v1.5h-1.5zM121.3 393.9h1.5v1.5h-1.5zM104.0 377.8h1.5v1.5h-1.5zM148.1 372.6h1.5v1.5h-1.5zM128.4 369.8h1.5v1.5h-1.5zM137.3 371.6h1.5v1.5h-1.5zM149.5 372.8h1.5v1.5h-1.5zM130.1 372.9h1.5v1.5h-1.5zM132.1 379.4h1.5v1.5h-1.5zM139.1 374.8h1.5v1.5h-1.5zM140.1 384.1h1.5v1.5h-1.5zM149.2 384.9h1.5v1.5h-1.5zM149.3 387.4h1.5v1.5h-1.5zM125.2 380.4h1.5v1.5h-1.5zM130.1 381.1h1.5v1.5h-1.5zM128.0 376.4h1.5v1.5h-1.5zM142.0 378.2h1.5v1.5h-1.5zM135.7 374.5h1.5v1.5h-1.5zM132.8 380.2h1.5v1.5h-1.5zM143.7 361.5h1.5v1.5h-1.5zM142.7 365.0h1.5v1.5h-1.5zM173.3 369.2h1.5v1.5h-1.5zM158.1 364.5h1.5v1.5h-1.5zM174.5 370.3h1.5v1.5h-1.5zM168.7 369.2h1.5v1.5h-1.5zM153.7 368.6h1.5v1.5h-1.5zM166.5 364.6h1.5v1.5h-1.5zM174.8 364.3h1.5v1.5h-1.5zM163.8 368.6h1.5v1.5h-1.5zM163.6 371.0h1.5v1.5h-1.5zM156.0 374.1h1.5v1.5h-1.5zM156.0 386.7h1.5v1.5h-1.5zM151.7 386.9h1.5v1.5h-1.5zM158.1 355.4h1.5v1.5h-1.5zM153.1 356.0h1.5v1.5h-1.5zM186.9 382.2h1.5v1.5h-1.5zM206.9 377.8h1.5v1.5h-1.5zM202.4 378.0h1.5v1.5h-1.5zM175.4 373.1h1.5v1.5h-1.5zM183.6 382.5h1.5v1.5h-1.5zM205.0 380.3h1.5v1.5h-1.5zM210.4 381.0h1.5v1.5h-1.5zM219.1 382.5h1.5v1.5h-1.5zM245.8 385.8h1.5v1.5h-1.5zM229.9 383.4h1.5v1.5h-1.5zM221.1 377.6h1.5v1.5h-1.5zM230.8 380.3h1.5v1.5h-1.5zM241.8 383.5h1.5v1.5h-1.5zM242.3 380.6h1.5v1.5h-1.5zM226.1 375.6h1.5v1.5h-1.5zM232.9 382.0h1.5v1.5h-1.5zM261.0 376.2h1.5v1.5h-1.5zM272.4 390.2h1.5v1.5h-1.5zM252.2 382.9h1.5v1.5h-1.5zM250.8 383.3h1.5v1.5h-1.5zM296.0 387.7h1.5v1.5h-1.5zM293.9 383.3h1.5v1.5h-1.5zM306.1 390.3h1.5v1.5h-1.5zM324.0 386.8h1.5v1.5h-1.5zM328.0 385.5h1.5v1.5h-1.5zM367.7 394.5h1.5v1.5h-1.5zM371.1 381.9h1.5v1.5h-1.5z" fill="#e88a78"/>
<path d="M172.0 335.7h1.5v1.5h-1.5zM201.2 336.4h1.5v1.5h-1.5zM195.3 335.4h1.5v1.5h-1.5zM178.3 333.3h1.5v1.5h-1.5zM204.1 334.5h1.5v1.5h-1.5zM215.7 335.5h1.5v1.5h-1.5zM183.3 335.1h1.5v1.5h-1.5zM202.9 334.9h1.5v1.5h-1.5zM196.8 332.0h1.5v1.5h-1.5zM195.1 334.6h1.5v1.5h-1.5zM182.1 333.7h1.5v1.5h-1.5zM194.8 339.7h1.5v1.5h-1.5zM186.3 338.6h1.5v1.5h-1.5zM208.2 342.7h1.5v1.5h-1.5zM179.3 340.8h1.5v1.5h-1.5zM203.3 341.8h1.5v1.5h-1.5zM221.8 345.2h1.5v1.5h-1.5zM227.2 348.6h1.5v1.5h-1.5zM223.7 349.1h1.5v1.5h-1.5zM255.9 347.1h1.5v1.5h-1.5zM288.3 345.1h1.5v1.5h-1.5zM290.4 345.7h1.5v1.5h-1.5zM289.6 345.8h1.5v1.5h-1.5zM292.7 350.7h1.5v1.5h-1.5zM291.7 369.2h1.5v1.5h-1.5z" fill="#c4a8a4"/>
<path d="M204.0 353.0h1.5v1.5h-1.5zM204.4 358.1h1.5v1.5h-1.5zM215.1 357.1h1.5v1.5h-1.5zM178.8 369.1h1.5v1.5h-1.5zM202.2 372.5h1.5v1.5h-1.5zM210.7 363.6h1.5v1.5h-1.5zM198.7 363.8h1.5v1.5h-1.5zM201.1 364.0h1.5v1.5h-1.5zM195.8 368.2h1.5v1.5h-1.5zM188.2 369.2h1.5v1.5h-1.5zM191.6 366.6h1.5v1.5h-1.5zM185.6 365.6h1.5v1.5h-1.5zM212.9 367.9h1.5v1.5h-1.5zM189.8 369.9h1.5v1.5h-1.5zM216.3 361.3h1.5v1.5h-1.5zM238.8 362.0h1.5v1.5h-1.5zM236.4 356.8h1.5v1.5h-1.5zM233.2 362.2h1.5v1.5h-1.5zM235.3 357.2h1.5v1.5h-1.5zM222.4 362.4h1.5v1.5h-1.5zM228.5 361.5h1.5v1.5h-1.5zM240.3 363.2h1.5v1.5h-1.5zM239.3 359.4h1.5v1.5h-1.5zM227.4 363.9h1.5v1.5h-1.5zM241.3 358.1h1.5v1.5h-1.5z" fill="#f04020"/>
<path d="M178.7 358.4h1.5v1.5h-1.5zM176.3 355.5h1.5v1.5h-1.5zM203.2 357.9h1.5v1.5h-1.5zM203.9 358.9h1.5v1.5h-1.5zM174.2 361.0h1.5v1.5h-1.5zM204.5 364.8h1.5v1.5h-1.5zM200.7 371.2h1.5v1.5h-1.5zM210.6 366.1h1.5v1.5h-1.5zM175.8 369.4h1.5v1.5h-1.5zM187.4 364.4h1.5v1.5h-1.5zM207.0 364.8h1.5v1.5h-1.5zM197.8 370.8h1.5v1.5h-1.5zM195.4 367.3h1.5v1.5h-1.5zM183.3 370.1h1.5v1.5h-1.5zM195.1 368.0h1.5v1.5h-1.5zM181.8 367.8h1.5v1.5h-1.5zM203.6 365.5h1.5v1.5h-1.5zM195.7 370.3h1.5v1.5h-1.5zM190.9 366.2h1.5v1.5h-1.5zM208.4 368.2h1.5v1.5h-1.5zM204.7 370.6h1.5v1.5h-1.5zM193.0 369.3h1.5v1.5h-1.5zM227.7 361.2h1.5v1.5h-1.5zM221.7 367.7h1.5v1.5h-1.5zM236.2 357.0h1.5v1.5h-1.5zM224.8 364.4h1.5v1.5h-1.5zM241.7 351.6h1.5v1.5h-1.5zM223.0 357.5h1.5v1.5h-1.5zM217.1 362.2h1.5v1.5h-1.5zM231.3 365.8h1.5v1.5h-1.5zM243.1 366.0h1.5v1.5h-1.5zM245.6 363.7h1.5v1.5h-1.5zM241.7 363.7h1.5v1.5h-1.5zM233.6 361.2h1.5v1.5h-1.5zM217.1 353.7h1.5v1.5h-1.5zM245.6 367.1h1.5v1.5h-1.5zM234.7 354.0h1.5v1.5h-1.5z" fill="#e08070"/>
<line x1="49.30" y1="407.80" x2="52.50" y2="407.80" stroke="#333" stroke-width="0.8" />
<text x="46.3" y="411.9" font-size="11.5" text-anchor="end" fill="#000" >0</text>
<line x1="49.30" y1="385.24" x2="52.50" y2="385.24" stroke="#333" stroke-width="0.8" />
<text x="46.3" y="389.3" font-size="11.5" text-anchor="end" fill="#000" >3</text>
<line x1="49.30" y1="362.68" x2="52.50" y2="362.68" stroke="#333" stroke-width="0.8" />
<text x="46.3" y="366.8" font-size="11.5" text-anchor="end" fill="#000" >6</text>
<line x1="49.30" y1="340.12" x2="52.50" y2="340.12" stroke="#333" stroke-width="0.8" />
<text x="46.3" y="344.2" font-size="11.5" text-anchor="end" fill="#000" >9</text>
<path d="M178.2 357.9l1.6 3.4h-3.2zM195.2 353.2l1.6 3.4h-3.2z" fill="#f00"/>
<path d="M179.4 323.5h1.5v1.5h-1.5z" fill="#c0b4b4"/>
<text x="197.6" y="354.4" font-size="11.3" text-anchor="start" fill="#000" >rs2214407</text>
<text x="184.5" y="363.4" font-size="8.4" text-anchor="start" fill="#000" textLength="34.2" lengthAdjust="spacingAndGlyphs" fill="#222">rs115918101</text>
<text transform="translate(14.2,369.6) rotate(-90)" font-size="11.5" text-anchor="middle" fill="#000" >CredibleSet2</text>
<text transform="translate(30.3,369.4) rotate(-90)" font-size="11.5" text-anchor="middle" fill="#000" >-log<tspan font-size="8.5" dy="1">10</tspan><tspan dy="-1">(p-value)</tspan></text>
<text transform="translate(15.5,473.5) rotate(-90)" font-size="11.5" text-anchor="middle" fill="#000" >Transcript</text>
<rect x="244.80" y="421.80" width="3.50" height="8.20" fill="#b0262c" stroke="none" stroke-width="1" />
<text x="254.2" y="430.2" font-size="11.5" text-anchor="start" fill="#000" >TET2</text>
<line x1="244.80" y1="440.60" x2="276.50" y2="440.60" stroke="#b0262c" stroke-width="1" />
<path d="M255.8 439.2v2.8M259.8 439.2v2.8M263.8 439.2v2.8M267.8 439.2v2.8M271.8 439.2v2.8" stroke="#b0262c" stroke-width="0.8" fill="none"/>
<line x1="244.80" y1="437.10" x2="244.80" y2="444.10" stroke="#b0262c" stroke-width="1" />
<rect x="244.80" y="436.95" width="3.50" height="7.30" fill="#b0262c" stroke="none" stroke-width="1" />
<rect x="249.50" y="438.10" width="1.50" height="5.00" fill="#b0262c" stroke="none" stroke-width="1" />
<rect x="265.00" y="438.10" width="1.60" height="5.00" fill="#b0262c" stroke="none" stroke-width="1" />
<rect x="273.50" y="438.10" width="1.50" height="5.00" fill="#b0262c" stroke="none" stroke-width="1" />
<rect x="275.60" y="438.10" width="1.20" height="5.00" fill="#b0262c" stroke="none" stroke-width="1" />
<text x="216.0" y="450.0" font-size="11.5" text-anchor="start" fill="#000" >TET2</text>
<line x1="174.30" y1="455.50" x2="282.60" y2="455.50" stroke="#b0262c" stroke-width="1" />
<path d="M177.3 454.1v2.8M182.5 454.1v2.8M187.7 454.1v2.8M192.9 454.1v2.8M198.1 454.1v2.8M203.3 454.1v2.8M208.5 454.1v2.8M213.7 454.1v2.8M218.9 454.1v2.8M224.1 454.1v2.8M229.3 454.1v2.8M234.5 454.1v2.8M239.7 454.1v2.8M255.3 454.1v2.8M260.5 454.1v2.8M270.9 454.1v2.8" stroke="#b0262c" stroke-width="0.8" fill="none"/>
<line x1="174.30" y1="452.00" x2="174.30" y2="459.00" stroke="#b0262c" stroke-width="1" />
<rect x="244.80" y="452.50" width="3.50" height="6.00" fill="#b0262c" stroke="none" stroke-width="1" />
<rect x="249.60" y="452.50" width="3.20" height="6.00" fill="#b0262c" stroke="none" stroke-width="1" />
<rect x="265.00" y="452.50" width="2.00" height="6.00" fill="#b0262c" stroke="none" stroke-width="1" />
<rect x="273.50" y="452.50" width="1.70" height="6.00" fill="#b0262c" stroke="none" stroke-width="1" />
<rect x="276.00" y="452.50" width="1.20" height="6.00" fill="#b0262c" stroke="none" stroke-width="1" />
<rect x="278.00" y="451.75" width="4.60" height="7.50" fill="#b0262c" stroke="none" stroke-width="1" />
<text x="215.2" y="467.6" font-size="11.5" text-anchor="start" fill="#000" >TET2</text>
<line x1="174.30" y1="471.30" x2="282.60" y2="471.30" stroke="#b0262c" stroke-width="1" />
<path d="M177.3 469.9v2.8M182.5 469.9v2.8M187.7 469.9v2.8M192.9 469.9v2.8M198.1 469.9v2.8M203.3 469.9v2.8M208.5 469.9v2.8M213.7 469.9v2.8M218.9 469.9v2.8M224.1 469.9v2.8M229.3 469.9v2.8M234.5 469.9v2.8M239.7 469.9v2.8M255.3 469.9v2.8M260.5 469.9v2.8M270.9 469.9v2.8" stroke="#b0262c" stroke-width="0.8" fill="none"/>
<line x1="174.30" y1="467.80" x2="174.30" y2="474.80" stroke="#b0262c" stroke-width="1" />
<rect x="244.80" y="468.30" width="3.50" height="6.00" fill="#b0262c" stroke="none" stroke-width="1" />
<rect x="249.60" y="468.30" width="3.20" height="6.00" fill="#b0262c" stroke="none" stroke-width="1" />
<rect x="265.00" y="468.30" width="2.00" height="6.00" fill="#b0262c" stroke="none" stroke-width="1" />
<rect x="273.50" y="468.30" width="1.70" height="6.00" fill="#b0262c" stroke="none" stroke-width="1" />
<rect x="276.00" y="468.30" width="1.20" height="6.00" fill="#b0262c" stroke="none" stroke-width="1" />
<rect x="278.00" y="467.55" width="4.60" height="7.50" fill="#b0262c" stroke="none" stroke-width="1" />
<text x="196.4" y="483.2" font-size="11.5" text-anchor="start" fill="#000" >TET2</text>
<line x1="174.30" y1="486.20" x2="252.40" y2="486.20" stroke="#b0262c" stroke-width="1" />
<path d="M177.3 484.8v2.8M182.5 484.8v2.8M187.7 484.8v2.8M192.9 484.8v2.8M198.1 484.8v2.8M203.3 484.8v2.8M208.5 484.8v2.8M213.7 484.8v2.8M218.9 484.8v2.8M224.1 484.8v2.8M229.3 484.8v2.8M234.5 484.8v2.8M239.7 484.8v2.8" stroke="#b0262c" stroke-width="0.8" fill="none"/>
<line x1="174.30" y1="482.70" x2="174.30" y2="489.70" stroke="#b0262c" stroke-width="1" />
<rect x="244.80" y="483.20" width="3.50" height="6.00" fill="#b0262c" stroke="none" stroke-width="1" />
<rect x="249.60" y="483.20" width="2.80" height="6.00" fill="#b0262c" stroke="none" stroke-width="1" />
<text x="196.4" y="497.9" font-size="11.5" text-anchor="start" fill="#000" >TET2</text>
<line x1="174.30" y1="501.40" x2="253.00" y2="501.40" stroke="#b0262c" stroke-width="1" />
<path d="M177.3 500.0v2.8M182.5 500.0v2.8M187.7 500.0v2.8M192.9 500.0v2.8M198.1 500.0v2.8M203.3 500.0v2.8M208.5 500.0v2.8M213.7 500.0v2.8M218.9 500.0v2.8M224.1 500.0v2.8M229.3 500.0v2.8M234.5 500.0v2.8M239.7 500.0v2.8" stroke="#b0262c" stroke-width="0.8" fill="none"/>
<line x1="174.30" y1="497.90" x2="174.30" y2="504.90" stroke="#b0262c" stroke-width="1" />
<rect x="244.80" y="497.30" width="8.20" height="8.20" fill="#b0262c" stroke="none" stroke-width="1" />
<line x1="209.50" y1="452.50" x2="209.50" y2="458.50" stroke="#b0262c" stroke-width="0.8" />
<line x1="209.50" y1="468.30" x2="209.50" y2="474.30" stroke="#b0262c" stroke-width="0.8" />
<line x1="209.50" y1="498.40" x2="209.50" y2="504.40" stroke="#b0262c" stroke-width="0.8" />
<text x="318.2" y="443.0" font-size="11.5" text-anchor="start" fill="#000" >PPA2</text>
<line x1="354.50" y1="437.30" x2="354.50" y2="444.30" stroke="#b0262c" stroke-width="1.6" />
<line x1="369.30" y1="437.30" x2="369.30" y2="444.30" stroke="#b0262c" stroke-width="1" />
<line x1="354.50" y1="440.80" x2="369.30" y2="440.80" stroke="#b0262c" stroke-width="1" />
<rect x="354.50" y="438.60" width="2.50" height="4.40" fill="#b0262c" stroke="none" stroke-width="1" />
<rect x="361.50" y="439.60" width="1.40" height="2.40" fill="#b0262c" stroke="none" stroke-width="1" />
<text x="318.2" y="458.4" font-size="11.5" text-anchor="start" fill="#000" >PPA2</text>
<line x1="354.50" y1="452.90" x2="354.50" y2="459.90" stroke="#b0262c" stroke-width="1.6" />
<line x1="369.30" y1="452.90" x2="369.30" y2="459.90" stroke="#b0262c" stroke-width="1" />
<line x1="354.50" y1="456.40" x2="369.30" y2="456.40" stroke="#b0262c" stroke-width="1" />
<rect x="354.50" y="454.20" width="2.50" height="4.40" fill="#b0262c" stroke="none" stroke-width="1" />
<rect x="361.50" y="455.20" width="1.40" height="2.40" fill="#b0262c" stroke="none" stroke-width="1" />
<text x="318.2" y="474.8" font-size="11.5" text-anchor="start" fill="#000" >PPA2</text>
<line x1="354.50" y1="468.10" x2="354.50" y2="475.10" stroke="#b0262c" stroke-width="1.6" />
<line x1="369.30" y1="468.10" x2="369.30" y2="475.10" stroke="#b0262c" stroke-width="1" />
<line x1="354.50" y1="471.60" x2="369.30" y2="471.60" stroke="#b0262c" stroke-width="1" />
<rect x="354.50" y="469.40" width="2.50" height="4.40" fill="#b0262c" stroke="none" stroke-width="1" />
<rect x="361.50" y="470.40" width="1.40" height="2.40" fill="#b0262c" stroke="none" stroke-width="1" />
<text x="318.2" y="490.1" font-size="11.5" text-anchor="start" fill="#000" >PPA2</text>
<line x1="354.50" y1="483.50" x2="354.50" y2="490.50" stroke="#b0262c" stroke-width="1.6" />
<line x1="369.30" y1="483.50" x2="369.30" y2="490.50" stroke="#b0262c" stroke-width="1" />
<line x1="354.50" y1="487.00" x2="369.30" y2="487.00" stroke="#b0262c" stroke-width="1" />
<rect x="354.50" y="484.80" width="2.50" height="4.40" fill="#b0262c" stroke="none" stroke-width="1" />
<rect x="361.50" y="485.80" width="1.40" height="2.40" fill="#b0262c" stroke="none" stroke-width="1" />
<text x="318.2" y="505.4" font-size="11.5" text-anchor="start" fill="#000" >PPA2</text>
<line x1="354.50" y1="498.50" x2="354.50" y2="505.50" stroke="#b0262c" stroke-width="1.6" />
<line x1="369.30" y1="498.50" x2="369.30" y2="505.50" stroke="#b0262c" stroke-width="1" />
<line x1="354.50" y1="502.00" x2="369.30" y2="502.00" stroke="#b0262c" stroke-width="1" />
<rect x="354.50" y="499.80" width="2.50" height="4.40" fill="#b0262c" stroke="none" stroke-width="1" />
<rect x="361.50" y="500.80" width="1.40" height="2.40" fill="#b0262c" stroke="none" stroke-width="1" />
<rect x="53.60" y="24.20" width="335.80" height="95.60" fill="none" stroke="#000" stroke-width="1.4" />
<rect x="52.50" y="122.00" width="338.00" height="96.00" fill="none" stroke="#000" stroke-width="1.4" />
<rect x="52.50" y="219.80" width="338.00" height="94.80" fill="none" stroke="#000" stroke-width="1.4" />
<rect x="52.50" y="317.60" width="338.00" height="96.60" fill="none" stroke="#000" stroke-width="1.4" />
<rect x="52.50" y="415.20" width="338.00" height="95.20" fill="none" stroke="#000" stroke-width="1.4" />
<text x="139.0" y="527.8" font-size="11.5" text-anchor="start" fill="#000" >chr4:105,934,478&#8722;106,315,964</text>
<text x="402.7" y="14.2" font-size="17.5" text-anchor="start" fill="#000" >b</text>
<text x="479.6" y="28.0" font-size="11.5" text-anchor="start" fill="#000" >SNP</text>
<defs><linearGradient id="ag22" x1="0" x2="1"><stop offset="0" stop-color="#1f5e9e"/><stop offset="1" stop-color="#1fa3cf"/></linearGradient></defs>
<path d="M510.3 19.9h17v-2.1l7.3 4.6l-7.3 4.6v-2.1h-17z" fill="url(#ag22)"/>
<text x="543.4" y="26.9" font-size="11.5" text-anchor="start" fill="#000" >eGFR GWAS</text>
<line x1="438.6" y1="79.1" x2="649.0" y2="79.1" stroke="#c8c8c8" stroke-width="1.2" stroke-dasharray="4.5,3.5"/>
<path d="M623.0 160.0L623.6 90.5L624.2 160.0M628.6 160.0L629.2 104.5L629.8 160.0" fill="none" stroke="#2b2bff" stroke-width="1.1"/>
<path d="M439.0 165.4L439.0 138.7L441.5 138.9L444.0 139.9L446.5 138.1L449.0 138.0L451.5 138.0L454.0 139.5L456.5 143.6L459.0 144.2L461.5 144.9L464.0 142.5L466.5 143.4L469.0 142.7L471.5 145.5L474.0 145.2L476.5 142.9L479.0 146.4L481.5 146.6L484.0 145.8L486.5 145.9L489.0 144.6L491.5 144.4L494.0 146.5L496.5 145.1L499.0 145.9L501.5 145.6L504.0 143.9L506.5 144.4L509.0 143.4L511.5 143.8L514.0 141.0L516.5 139.6L519.0 137.2L521.5 137.0L524.0 136.1L526.5 135.3L529.0 137.8L531.5 137.6L534.0 136.9L536.5 136.3L539.0 134.7L541.5 134.8L544.0 135.7L546.5 135.7L549.0 138.9L551.5 138.4L554.0 140.7L556.5 139.8L559.0 142.6L561.5 142.3L564.0 139.0L566.5 139.4L569.0 141.6L571.5 139.8L574.0 141.3L576.5 138.9L579.0 137.4L581.5 139.2L584.0 139.4L586.5 137.3L589.0 136.3L591.5 136.8L594.0 138.6L596.5 137.5L599.0 134.7L601.5 134.7L604.0 133.8L606.5 133.2L609.0 135.4L611.5 133.9L614.0 136.9L616.5 138.0L619.0 138.7L621.5 142.2L624.0 141.6L626.5 144.3L629.0 142.8L631.5 144.3L634.0 143.9L636.5 144.5L639.0 147.4L641.5 147.2L644.0 145.8L646.5 148.3L648.5 165.4z" fill="#35278e"/>
<path d="M503.2 164.3l-2.3 -3.9h4.6zM620.5 160.3l2.3 3.9h-4.6zM520.3 155.6l-2.3 -3.9h4.6zM560.5 148.8l-2.3 -3.9h4.6zM515.3 151.8l-2.3 -3.9h4.6zM480.1 157.7l-2.3 -3.9h4.6zM560.7 149.9l-2.3 -3.9h4.6zM633.4 151.8l-2.3 -3.9h4.6zM613.3 163.2l-2.3 -3.9h4.6zM630.5 146.1l2.3 3.9h-4.6zM602.6 145.6l-2.3 -3.9h4.6zM518.8 158.3l2.3 3.9h-4.6zM603.2 153.3l2.3 3.9h-4.6zM511.5 159.0l-2.3 -3.9h4.6zM461.0 159.2l2.3 3.9h-4.6zM443.0 149.0l2.3 3.9h-4.6zM450.7 150.9l-2.3 -3.9h4.6zM478.0 149.3l2.3 3.9h-4.6zM544.4 157.1l-2.3 -3.9h4.6zM481.7 159.5l2.3 3.9h-4.6zM552.0 159.7l2.3 3.9h-4.6zM640.5 149.1l2.3 3.9h-4.6zM482.7 152.5l-2.3 -3.9h4.6zM452.5 158.7l-2.3 -3.9h4.6zM546.1 156.9l-2.3 -3.9h4.6zM572.6 141.4l2.3 3.9h-4.6zM441.8 151.7l-2.3 -3.9h4.6zM630.5 146.7l2.3 3.9h-4.6zM519.9 154.4l2.3 3.9h-4.6zM623.9 154.8l-2.3 -3.9h4.6zM604.6 139.5l-2.3 -3.9h4.6zM590.4 159.5l2.3 3.9h-4.6zM634.4 156.4l-2.3 -3.9h4.6zM556.0 154.1l2.3 3.9h-4.6zM492.1 154.5l-2.3 -3.9h4.6zM597.4 149.6l-2.3 -3.9h4.6zM501.8 161.6l-2.3 -3.9h4.6zM502.4 155.9l-2.3 -3.9h4.6zM538.3 139.1l2.3 3.9h-4.6zM452.0 159.4l2.3 3.9h-4.6zM490.6 156.4l-2.3 -3.9h4.6zM568.7 155.8l-2.3 -3.9h4.6zM636.4 146.7l2.3 3.9h-4.6zM630.4 160.0l-2.3 -3.9h4.6zM536.9 154.3l-2.3 -3.9h4.6zM566.4 144.9l-2.3 -3.9h4.6zM514.7 160.6l-2.3 -3.9h4.6zM473.9 159.1l-2.3 -3.9h4.6zM557.6 154.3l2.3 3.9h-4.6zM588.4 157.8l-2.3 -3.9h4.6zM609.5 140.7l2.3 3.9h-4.6zM549.1 163.3l-2.3 -3.9h4.6zM488.7 161.3l-2.3 -3.9h4.6zM466.3 158.7l2.3 3.9h-4.6zM581.4 156.8l-2.3 -3.9h4.6zM559.1 158.5l-2.3 -3.9h4.6zM546.4 152.2l2.3 3.9h-4.6zM645.0 148.5l2.3 3.9h-4.6zM562.7 164.0l-2.3 -3.9h4.6zM540.9 153.5l2.3 3.9h-4.6zM598.0 150.6l-2.3 -3.9h4.6zM526.5 141.0l-2.3 -3.9h4.6zM458.8 149.7l-2.3 -3.9h4.6zM481.4 164.4l-2.3 -3.9h4.6zM604.8 156.4l-2.3 -3.9h4.6zM596.7 157.5l-2.3 -3.9h4.6zM579.1 148.8l-2.3 -3.9h4.6zM640.7 158.4l-2.3 -3.9h4.6zM518.5 150.6l-2.3 -3.9h4.6zM633.3 162.0l-2.3 -3.9h4.6zM606.0 147.3l2.3 3.9h-4.6zM474.0 154.8l2.3 3.9h-4.6zM451.5 151.6l-2.3 -3.9h4.6zM618.1 141.7l2.3 3.9h-4.6zM608.9 162.5l-2.3 -3.9h4.6zM565.9 149.9l2.3 3.9h-4.6zM577.5 163.0l-2.3 -3.9h4.6zM606.1 143.2l-2.3 -3.9h4.6zM520.6 155.5l2.3 3.9h-4.6zM498.2 147.1l2.3 3.9h-4.6zM550.9 149.9l2.3 3.9h-4.6zM623.1 151.7l2.3 3.9h-4.6zM502.0 158.8l2.3 3.9h-4.6zM641.3 154.7l2.3 3.9h-4.6zM504.9 153.2l2.3 3.9h-4.6zM507.3 158.5l-2.3 -3.9h4.6zM512.5 154.7l2.3 3.9h-4.6zM496.1 154.6l-2.3 -3.9h4.6zM507.2 148.4l2.3 3.9h-4.6zM513.1 143.7l2.3 3.9h-4.6zM577.3 152.5l-2.3 -3.9h4.6zM478.3 159.5l-2.3 -3.9h4.6zM468.3 159.1l-2.3 -3.9h4.6zM553.1 155.1l-2.3 -3.9h4.6zM600.2 160.2l-2.3 -3.9h4.6zM590.6 142.6l-2.3 -3.9h4.6zM602.5 147.7l2.3 3.9h-4.6zM473.3 162.1l-2.3 -3.9h4.6zM469.2 149.9l-2.3 -3.9h4.6zM462.1 150.7l2.3 3.9h-4.6zM601.2 141.0l2.3 3.9h-4.6zM642.0 158.5l2.3 3.9h-4.6zM583.7 151.8l-2.3 -3.9h4.6zM630.7 153.1l2.3 3.9h-4.6zM464.7 159.4l-2.3 -3.9h4.6zM640.1 155.3l2.3 3.9h-4.6zM625.2 157.0l2.3 3.9h-4.6zM474.6 161.2l-2.3 -3.9h4.6zM565.6 151.0l-2.3 -3.9h4.6zM557.1 155.8l2.3 3.9h-4.6zM495.5 151.0l2.3 3.9h-4.6zM442.4 164.2l-2.3 -3.9h4.6zM453.4 163.3l-2.3 -3.9h4.6zM545.8 146.4l2.3 3.9h-4.6zM461.2 164.4l-2.3 -3.9h4.6zM477.1 160.1l2.3 3.9h-4.6zM633.1 148.6l2.3 3.9h-4.6zM597.9 140.6l2.3 3.9h-4.6zM468.4 148.4l2.3 3.9h-4.6zM611.5 163.5l-2.3 -3.9h4.6zM469.3 157.3l2.3 3.9h-4.6zM629.4 159.7l2.3 3.9h-4.6zM488.7 163.9l-2.3 -3.9h4.6zM611.8 140.4l-2.3 -3.9h4.6zM571.0 148.6l2.3 3.9h-4.6zM606.0 155.3l-2.3 -3.9h4.6zM529.4 155.0l2.3 3.9h-4.6zM516.7 153.2l2.3 3.9h-4.6zM560.4 148.7l2.3 3.9h-4.6zM625.2 159.5l2.3 3.9h-4.6zM508.8 156.0l-2.3 -3.9h4.6zM515.4 146.5l-2.3 -3.9h4.6zM585.6 159.6l2.3 3.9h-4.6zM472.9 152.1l2.3 3.9h-4.6zM453.7 143.6l2.3 3.9h-4.6zM481.9 153.5l2.3 3.9h-4.6zM624.4 153.0l-2.3 -3.9h4.6zM482.6 157.0l2.3 3.9h-4.6zM474.0 154.5l-2.3 -3.9h4.6zM551.0 156.1l-2.3 -3.9h4.6zM625.8 149.6l2.3 3.9h-4.6zM516.5 153.6l2.3 3.9h-4.6zM451.8 139.3l2.3 3.9h-4.6zM446.8 145.2l-2.3 -3.9h4.6zM462.1 159.2l2.3 3.9h-4.6zM514.3 148.9l2.3 3.9h-4.6zM503.6 152.6l2.3 3.9h-4.6zM462.2 156.3l-2.3 -3.9h4.6zM506.4 156.7l2.3 3.9h-4.6zM486.2 159.7l-2.3 -3.9h4.6zM541.0 158.4l-2.3 -3.9h4.6zM496.3 151.4l2.3 3.9h-4.6zM540.5 141.8l-2.3 -3.9h4.6zM594.8 153.2l-2.3 -3.9h4.6zM440.5 148.2l-2.3 -3.9h4.6zM464.5 155.8l-2.3 -3.9h4.6zM541.0 139.4l2.3 3.9h-4.6zM541.2 142.6l-2.3 -3.9h4.6zM619.2 162.3l-2.3 -3.9h4.6zM526.4 155.7l2.3 3.9h-4.6zM538.3 163.6l-2.3 -3.9h4.6zM603.4 144.1l2.3 3.9h-4.6zM554.4 156.6l-2.3 -3.9h4.6zM618.7 147.8l2.3 3.9h-4.6zM626.7 151.9l-2.3 -3.9h4.6zM529.7 143.6l2.3 3.9h-4.6zM489.2 163.9l-2.3 -3.9h4.6zM573.0 156.2l-2.3 -3.9h4.6zM463.6 148.2l2.3 3.9h-4.6zM538.0 151.4l2.3 3.9h-4.6zM646.3 157.2l2.3 3.9h-4.6zM603.6 146.6l2.3 3.9h-4.6zM544.4 152.4l-2.3 -3.9h4.6zM462.0 159.2l2.3 3.9h-4.6zM549.8 160.4l-2.3 -3.9h4.6zM587.6 156.4l-2.3 -3.9h4.6zM442.2 148.6l2.3 3.9h-4.6zM483.4 152.9l-2.3 -3.9h4.6zM491.1 155.2l-2.3 -3.9h4.6zM527.6 137.8l2.3 3.9h-4.6zM473.5 152.3l-2.3 -3.9h4.6zM457.1 145.0l2.3 3.9h-4.6zM448.6 143.3l2.3 3.9h-4.6zM625.9 160.1l-2.3 -3.9h4.6zM508.9 158.8l2.3 3.9h-4.6zM536.8 163.0l-2.3 -3.9h4.6zM521.5 151.0l-2.3 -3.9h4.6zM614.7 143.9l-2.3 -3.9h4.6zM565.4 163.3l-2.3 -3.9h4.6zM562.6 160.8l-2.3 -3.9h4.6zM456.9 148.4l2.3 3.9h-4.6zM590.0 147.7l2.3 3.9h-4.6zM571.8 143.9l2.3 3.9h-4.6zM540.6 162.1l-2.3 -3.9h4.6zM479.3 160.4l2.3 3.9h-4.6zM607.9 150.2l2.3 3.9h-4.6zM504.8 162.0l-2.3 -3.9h4.6zM463.6 157.8l-2.3 -3.9h4.6zM592.0 143.6l-2.3 -3.9h4.6zM612.4 146.6l-2.3 -3.9h4.6zM570.8 158.1l-2.3 -3.9h4.6zM578.3 154.3l-2.3 -3.9h4.6zM490.1 159.9l2.3 3.9h-4.6zM565.5 146.6l2.3 3.9h-4.6zM458.7 155.7l2.3 3.9h-4.6zM564.4 159.2l-2.3 -3.9h4.6zM476.9 144.2l2.3 3.9h-4.6zM588.4 150.4l2.3 3.9h-4.6zM442.4 161.2l-2.3 -3.9h4.6zM633.2 158.6l-2.3 -3.9h4.6zM535.1 158.8l-2.3 -3.9h4.6zM465.9 151.5l-2.3 -3.9h4.6zM543.5 143.3l2.3 3.9h-4.6zM641.1 158.3l2.3 3.9h-4.6zM484.3 152.5l-2.3 -3.9h4.6zM493.2 156.7l-2.3 -3.9h4.6zM627.0 146.9l2.3 3.9h-4.6zM476.3 156.7l2.3 3.9h-4.6zM575.0 144.9l2.3 3.9h-4.6zM484.8 152.1l2.3 3.9h-4.6zM569.3 159.5l-2.3 -3.9h4.6zM540.2 159.2l-2.3 -3.9h4.6zM631.6 149.3l2.3 3.9h-4.6zM536.9 139.8l2.3 3.9h-4.6zM601.1 143.0l2.3 3.9h-4.6zM488.4 153.6l2.3 3.9h-4.6zM511.1 152.7l2.3 3.9h-4.6zM502.7 157.7l-2.3 -3.9h4.6zM501.7 150.9l-2.3 -3.9h4.6zM463.1 151.6l2.3 3.9h-4.6zM543.6 158.8l2.3 3.9h-4.6zM587.4 152.2l-2.3 -3.9h4.6zM515.0 156.0l-2.3 -3.9h4.6zM617.5 146.6l-2.3 -3.9h4.6zM544.2 143.6l-2.3 -3.9h4.6zM529.4 150.6l-2.3 -3.9h4.6zM554.8 149.1l-2.3 -3.9h4.6zM461.4 155.7l-2.3 -3.9h4.6zM481.0 160.1l-2.3 -3.9h4.6zM559.3 158.3l-2.3 -3.9h4.6zM488.3 152.6l2.3 3.9h-4.6zM560.6 150.3l2.3 3.9h-4.6zM478.4 154.8l2.3 3.9h-4.6zM644.7 160.6l-2.3 -3.9h4.6zM567.6 152.5l2.3 3.9h-4.6zM570.0 162.8l-2.3 -3.9h4.6zM569.6 155.2l-2.3 -3.9h4.6zM569.8 144.8l2.3 3.9h-4.6zM606.1 147.9l2.3 3.9h-4.6zM446.1 144.2l-2.3 -3.9h4.6zM577.1 156.1l-2.3 -3.9h4.6zM537.4 157.6l2.3 3.9h-4.6zM580.9 161.8l-2.3 -3.9h4.6zM589.5 149.5l2.3 3.9h-4.6zM536.9 163.0l-2.3 -3.9h4.6zM557.4 153.0l-2.3 -3.9h4.6zM509.4 151.2l2.3 3.9h-4.6zM460.5 157.4l2.3 3.9h-4.6zM609.2 147.3l2.3 3.9h-4.6zM532.9 141.8l2.3 3.9h-4.6zM582.3 148.2l2.3 3.9h-4.6zM623.4 148.1l2.3 3.9h-4.6zM538.5 152.0l-2.3 -3.9h4.6zM589.9 145.9l-2.3 -3.9h4.6zM455.8 157.9l2.3 3.9h-4.6zM587.8 155.9l-2.3 -3.9h4.6zM615.8 152.6l2.3 3.9h-4.6zM454.4 150.5l-2.3 -3.9h4.6zM527.4 153.5l2.3 3.9h-4.6zM578.8 146.1l-2.3 -3.9h4.6zM477.0 147.2l2.3 3.9h-4.6zM514.0 147.5l2.3 3.9h-4.6zM607.4 149.7l2.3 3.9h-4.6zM534.9 142.0l2.3 3.9h-4.6zM479.3 152.6l-2.3 -3.9h4.6zM580.0 144.0l-2.3 -3.9h4.6zM439.2 145.6l2.3 3.9h-4.6zM618.0 149.6l-2.3 -3.9h4.6zM515.7 155.2l2.3 3.9h-4.6zM487.7 147.4l2.3 3.9h-4.6zM623.7 159.2l2.3 3.9h-4.6zM495.5 161.2l-2.3 -3.9h4.6zM541.9 159.0l-2.3 -3.9h4.6zM599.8 155.3l-2.3 -3.9h4.6zM608.2 155.2l2.3 3.9h-4.6zM631.3 159.3l-2.3 -3.9h4.6zM519.7 155.8l2.3 3.9h-4.6zM594.1 161.3l-2.3 -3.9h4.6zM520.4 155.3l-2.3 -3.9h4.6zM621.4 158.4l2.3 3.9h-4.6zM630.3 152.8l2.3 3.9h-4.6zM579.5 157.3l2.3 3.9h-4.6zM475.0 158.2l-2.3 -3.9h4.6zM514.3 143.0l2.3 3.9h-4.6zM539.8 157.9l-2.3 -3.9h4.6zM626.5 159.1l-2.3 -3.9h4.6zM558.4 150.2l-2.3 -3.9h4.6zM629.7 144.9l2.3 3.9h-4.6zM554.5 158.8l-2.3 -3.9h4.6zM479.0 161.3l-2.3 -3.9h4.6zM484.6 157.8l-2.3 -3.9h4.6zM438.4 158.2l2.3 3.9h-4.6zM564.1 153.6l-2.3 -3.9h4.6zM449.4 158.3l-2.3 -3.9h4.6zM633.4 152.8l-2.3 -3.9h4.6zM513.8 143.6l2.3 3.9h-4.6zM536.1 163.9l-2.3 -3.9h4.6zM450.7 155.5l-2.3 -3.9h4.6zM546.7 162.3l-2.3 -3.9h4.6zM493.9 156.5l-2.3 -3.9h4.6zM558.7 144.4l2.3 3.9h-4.6zM515.7 151.5l2.3 3.9h-4.6zM503.8 158.0l-2.3 -3.9h4.6zM588.9 164.2l-2.3 -3.9h4.6zM593.3 147.6l2.3 3.9h-4.6zM526.2 143.0l2.3 3.9h-4.6zM497.1 157.4l-2.3 -3.9h4.6zM647.0 152.3l2.3 3.9h-4.6zM487.0 157.4l2.3 3.9h-4.6zM514.5 158.7l2.3 3.9h-4.6zM542.3 150.8l-2.3 -3.9h4.6zM558.6 160.5l-2.3 -3.9h4.6zM456.0 154.3l2.3 3.9h-4.6zM498.2 155.0l2.3 3.9h-4.6zM536.3 152.3l-2.3 -3.9h4.6zM604.5 145.4l-2.3 -3.9h4.6zM558.2 147.1l2.3 3.9h-4.6zM581.3 151.9l-2.3 -3.9h4.6zM508.0 154.3l-2.3 -3.9h4.6zM480.4 151.9l-2.3 -3.9h4.6zM617.8 159.4l-2.3 -3.9h4.6zM460.0 152.4l-2.3 -3.9h4.6zM477.6 158.3l2.3 3.9h-4.6zM638.4 158.0l2.3 3.9h-4.6zM595.4 146.9l2.3 3.9h-4.6z" fill="none" stroke="#2a1f74" stroke-width="0.4"/>
<path d="M557.0 160.3h1v1h-1zM458.2 154.0h1v1h-1zM500.6 149.6h1v1h-1zM490.8 155.6h1v1h-1zM451.2 158.8h1v1h-1zM533.0 153.2h1v1h-1zM534.6 148.4h1v1h-1zM461.5 148.4h1v1h-1zM471.9 146.4h1v1h-1zM548.1 155.7h1v1h-1zM566.1 148.2h1v1h-1zM638.5 155.6h1v1h-1zM442.2 159.9h1v1h-1zM608.6 150.3h1v1h-1zM586.8 159.9h1v1h-1zM549.4 162.0h1v1h-1zM462.7 157.5h1v1h-1zM639.0 151.8h1v1h-1zM614.6 161.7h1v1h-1zM525.7 161.1h1v1h-1zM493.7 160.6h1v1h-1zM629.3 157.0h1v1h-1zM540.7 151.6h1v1h-1zM622.7 146.8h1v1h-1zM557.0 154.2h1v1h-1zM626.2 155.9h1v1h-1zM501.7 150.2h1v1h-1zM493.2 156.4h1v1h-1zM528.4 154.6h1v1h-1zM513.8 155.3h1v1h-1zM532.9 161.6h1v1h-1zM612.1 161.4h1v1h-1zM548.7 153.4h1v1h-1zM522.3 158.8h1v1h-1zM460.4 156.3h1v1h-1zM504.8 154.5h1v1h-1zM487.4 150.1h1v1h-1zM540.4 162.3h1v1h-1zM523.8 146.5h1v1h-1zM441.5 152.6h1v1h-1zM637.9 156.4h1v1h-1zM563.2 156.4h1v1h-1zM502.0 152.4h1v1h-1zM561.4 157.2h1v1h-1zM542.5 153.9h1v1h-1zM595.3 161.6h1v1h-1zM459.1 158.3h1v1h-1zM495.6 149.3h1v1h-1zM527.7 148.2h1v1h-1zM522.9 157.7h1v1h-1zM580.1 161.0h1v1h-1zM642.7 148.7h1v1h-1zM507.6 157.2h1v1h-1zM608.8 149.4h1v1h-1zM572.3 161.5h1v1h-1zM597.3 161.7h1v1h-1zM568.7 153.3h1v1h-1zM631.0 151.9h1v1h-1zM444.6 147.0h1v1h-1zM595.1 152.9h1v1h-1zM441.1 150.3h1v1h-1zM526.2 151.2h1v1h-1zM642.6 147.3h1v1h-1zM455.4 149.5h1v1h-1zM530.7 150.0h1v1h-1zM517.8 155.1h1v1h-1zM530.0 160.5h1v1h-1zM505.9 150.3h1v1h-1zM454.7 160.5h1v1h-1zM611.8 151.4h1v1h-1zM552.9 160.6h1v1h-1zM464.4 157.3h1v1h-1zM636.5 153.2h1v1h-1zM630.0 159.0h1v1h-1zM525.5 153.6h1v1h-1zM612.9 160.4h1v1h-1zM620.0 154.6h1v1h-1zM446.5 155.3h1v1h-1zM517.8 151.3h1v1h-1zM631.2 154.3h1v1h-1zM582.1 156.0h1v1h-1zM600.4 160.7h1v1h-1zM592.9 159.7h1v1h-1zM560.7 159.1h1v1h-1zM511.3 159.7h1v1h-1zM512.0 152.7h1v1h-1zM547.1 156.0h1v1h-1zM558.3 148.5h1v1h-1zM513.8 152.8h1v1h-1zM539.0 146.3h1v1h-1z" fill="#7a6cc0" opacity="0.8"/>
<path d="M451.3 148.9l-2.5 -4.2h5.0zM450.4 144.2l-2.5 -4.2h5.0zM441.1 139.8l2.5 4.2h-5.0zM462.4 143.4l-2.5 -4.2h5.0zM442.4 148.0l-2.5 -4.2h5.0zM457.3 144.7l-2.5 -4.2h5.0z" fill="#fff"/>
<path d="M506.5 150.5l-2.5 -4.2h5.0zM495.1 148.4l2.5 4.2h-5.0zM519.6 145.2l2.5 4.2h-5.0z" fill="#fff"/>
<path d="M558.3 147.2l-2.5 -4.2h5.0zM591.2 145.5l-2.5 -4.2h5.0zM584.3 146.2l-2.5 -4.2h5.0zM595.4 143.1l2.5 4.2h-5.0zM558.2 147.5l2.5 4.2h-5.0zM582.9 144.9l-2.5 -4.2h5.0z" fill="#fff"/>
<path d="M439.0 136.8l2.5 4.2h-5.0zM438.7 137.7l2.5 4.2h-5.0zM442.0 136.8l2.5 4.2h-5.0zM441.0 137.6l2.5 4.2h-5.0zM444.2 144.2l-2.5 -4.2h5.0zM444.6 136.9l2.5 4.2h-5.0zM446.1 135.2l2.5 4.2h-5.0zM445.2 141.4l-2.5 -4.2h5.0zM448.9 136.3l2.5 4.2h-5.0zM447.6 140.7l-2.5 -4.2h5.0zM451.7 140.3l-2.5 -4.2h5.0zM450.6 141.3l-2.5 -4.2h5.0zM455.4 142.3l-2.5 -4.2h5.0zM455.3 144.1l-2.5 -4.2h5.0zM456.9 142.4l2.5 4.2h-5.0zM455.8 148.5l-2.5 -4.2h5.0zM458.6 145.2l2.5 4.2h-5.0zM457.9 143.3l2.5 4.2h-5.0zM461.1 146.2l2.5 4.2h-5.0zM460.6 147.1l-2.5 -4.2h5.0zM463.2 143.6l-2.5 -4.2h5.0zM463.7 140.5l2.5 4.2h-5.0zM467.0 147.0l-2.5 -4.2h5.0zM466.7 148.3l-2.5 -4.2h5.0zM468.5 145.4l-2.5 -4.2h5.0zM468.4 147.1l-2.5 -4.2h5.0zM472.1 150.9l-2.5 -4.2h5.0zM470.5 145.1l2.5 4.2h-5.0zM474.2 143.7l2.5 4.2h-5.0zM474.7 144.4l2.5 4.2h-5.0zM475.7 141.3l2.5 4.2h-5.0zM476.5 140.4l2.5 4.2h-5.0zM477.7 148.0l-2.5 -4.2h5.0zM477.8 149.6l-2.5 -4.2h5.0zM481.4 148.5l-2.5 -4.2h5.0zM482.6 143.7l2.5 4.2h-5.0zM484.0 146.2l2.5 4.2h-5.0zM484.6 148.0l-2.5 -4.2h5.0zM486.0 148.6l-2.5 -4.2h5.0zM487.5 150.8l-2.5 -4.2h5.0zM488.8 148.9l-2.5 -4.2h5.0zM490.0 145.1l2.5 4.2h-5.0zM491.1 144.3l2.5 4.2h-5.0zM490.6 145.6l-2.5 -4.2h5.0zM495.3 147.8l2.5 4.2h-5.0zM494.6 149.5l-2.5 -4.2h5.0zM496.2 150.4l-2.5 -4.2h5.0zM495.1 145.2l2.5 4.2h-5.0zM497.6 148.3l-2.5 -4.2h5.0zM500.5 143.3l2.5 4.2h-5.0zM500.1 144.9l2.5 4.2h-5.0zM501.1 148.1l-2.5 -4.2h5.0zM505.0 142.0l2.5 4.2h-5.0zM504.4 148.4l-2.5 -4.2h5.0zM506.2 148.7l-2.5 -4.2h5.0zM507.4 142.0l2.5 4.2h-5.0zM507.8 144.4l2.5 4.2h-5.0zM509.0 140.8l2.5 4.2h-5.0zM510.1 143.2l2.5 4.2h-5.0zM511.9 141.9l2.5 4.2h-5.0zM513.9 139.5l2.5 4.2h-5.0zM512.7 142.4l-2.5 -4.2h5.0zM515.9 136.8l2.5 4.2h-5.0zM516.5 141.0l2.5 4.2h-5.0zM520.1 136.3l2.5 4.2h-5.0zM519.9 135.9l2.5 4.2h-5.0zM521.7 141.1l-2.5 -4.2h5.0zM520.8 142.4l-2.5 -4.2h5.0zM525.5 139.2l-2.5 -4.2h5.0zM524.7 133.8l2.5 4.2h-5.0zM525.5 132.7l2.5 4.2h-5.0zM526.1 135.6l2.5 4.2h-5.0zM529.0 134.7l2.5 4.2h-5.0zM530.4 138.9l-2.5 -4.2h5.0zM532.4 142.3l-2.5 -4.2h5.0zM531.2 142.3l-2.5 -4.2h5.0zM534.8 138.2l2.5 4.2h-5.0zM535.4 139.8l-2.5 -4.2h5.0zM535.8 137.2l2.5 4.2h-5.0zM536.7 134.2l2.5 4.2h-5.0zM538.6 138.8l-2.5 -4.2h5.0zM538.6 134.5l2.5 4.2h-5.0zM540.8 135.7l2.5 4.2h-5.0zM540.3 137.4l-2.5 -4.2h5.0zM543.1 140.2l-2.5 -4.2h5.0zM544.5 133.4l2.5 4.2h-5.0zM545.4 134.1l2.5 4.2h-5.0zM545.0 134.8l2.5 4.2h-5.0zM548.5 142.5l-2.5 -4.2h5.0zM548.1 139.8l2.5 4.2h-5.0zM552.3 140.0l-2.5 -4.2h5.0zM551.3 139.6l2.5 4.2h-5.0zM553.7 140.8l2.5 4.2h-5.0zM553.3 144.9l-2.5 -4.2h5.0zM556.0 137.5l2.5 4.2h-5.0zM558.0 141.6l-2.5 -4.2h5.0zM558.6 142.3l2.5 4.2h-5.0zM559.3 147.7l-2.5 -4.2h5.0zM561.9 145.7l-2.5 -4.2h5.0zM560.3 147.2l-2.5 -4.2h5.0zM563.9 138.8l2.5 4.2h-5.0zM563.7 141.1l-2.5 -4.2h5.0zM566.7 138.6l2.5 4.2h-5.0zM566.9 142.5l-2.5 -4.2h5.0zM569.3 142.7l2.5 4.2h-5.0zM568.9 147.2l-2.5 -4.2h5.0zM570.9 144.2l-2.5 -4.2h5.0zM571.2 140.5l2.5 4.2h-5.0zM575.5 140.4l2.5 4.2h-5.0zM575.0 145.3l-2.5 -4.2h5.0zM577.5 143.6l-2.5 -4.2h5.0zM578.0 140.3l-2.5 -4.2h5.0zM579.6 139.7l-2.5 -4.2h5.0zM578.9 141.0l-2.5 -4.2h5.0zM580.6 141.5l-2.5 -4.2h5.0zM580.2 142.8l-2.5 -4.2h5.0zM584.0 141.6l-2.5 -4.2h5.0zM585.1 144.0l-2.5 -4.2h5.0zM587.7 137.7l2.5 4.2h-5.0zM586.1 134.6l2.5 4.2h-5.0zM588.5 141.3l-2.5 -4.2h5.0zM587.9 134.0l2.5 4.2h-5.0zM592.5 140.7l-2.5 -4.2h5.0zM590.2 138.1l2.5 4.2h-5.0zM594.4 143.7l-2.5 -4.2h5.0zM593.1 138.5l2.5 4.2h-5.0zM595.0 135.9l2.5 4.2h-5.0zM596.9 139.8l-2.5 -4.2h5.0zM599.6 132.4l2.5 4.2h-5.0zM599.6 133.7l2.5 4.2h-5.0zM600.3 140.1l-2.5 -4.2h5.0zM601.1 136.7l-2.5 -4.2h5.0zM604.6 134.0l2.5 4.2h-5.0zM603.4 132.5l2.5 4.2h-5.0zM606.9 136.2l-2.5 -4.2h5.0zM606.2 136.4l-2.5 -4.2h5.0zM610.3 138.1l-2.5 -4.2h5.0zM608.2 134.9l2.5 4.2h-5.0zM612.6 136.3l-2.5 -4.2h5.0zM612.0 137.1l-2.5 -4.2h5.0zM613.7 141.3l-2.5 -4.2h5.0zM613.8 134.0l2.5 4.2h-5.0zM615.8 141.2l-2.5 -4.2h5.0zM615.9 142.3l-2.5 -4.2h5.0zM618.2 137.4l2.5 4.2h-5.0zM620.2 136.7l2.5 4.2h-5.0zM621.0 147.0l-2.5 -4.2h5.0zM621.8 141.5l2.5 4.2h-5.0zM625.2 138.9l2.5 4.2h-5.0zM623.6 146.0l-2.5 -4.2h5.0zM626.0 149.5l-2.5 -4.2h5.0zM625.1 144.0l2.5 4.2h-5.0zM628.6 141.8l2.5 4.2h-5.0zM629.5 146.7l-2.5 -4.2h5.0zM632.9 145.6l2.5 4.2h-5.0zM632.5 148.3l-2.5 -4.2h5.0zM635.5 141.1l2.5 4.2h-5.0zM633.7 143.8l2.5 4.2h-5.0zM638.0 142.3l2.5 4.2h-5.0zM635.4 147.4l-2.5 -4.2h5.0zM637.8 149.3l-2.5 -4.2h5.0zM639.4 147.6l2.5 4.2h-5.0zM642.4 151.6l-2.5 -4.2h5.0zM640.4 146.2l2.5 4.2h-5.0zM645.1 151.2l-2.5 -4.2h5.0zM642.6 148.5l-2.5 -4.2h5.0zM646.6 149.9l-2.5 -4.2h5.0zM645.9 147.4l2.5 4.2h-5.0zM447.1 129.3l-2.5 -4.2h5.0zM443.9 128.8l-2.5 -4.2h5.0zM441.4 127.2l-2.5 -4.2h5.0zM444.0 138.9l-2.5 -4.2h5.0zM445.4 122.1l2.5 4.2h-5.0zM454.0 134.7l-2.5 -4.2h5.0zM454.8 133.4l2.5 4.2h-5.0zM439.7 128.5l-2.5 -4.2h5.0zM449.1 120.8l-2.5 -4.2h5.0zM447.3 128.2l-2.5 -4.2h5.0zM453.0 122.2l2.5 4.2h-5.0zM450.5 134.8l2.5 4.2h-5.0zM440.7 117.1l2.5 4.2h-5.0zM448.4 128.2l-2.5 -4.2h5.0zM439.0 125.2l-2.5 -4.2h5.0zM451.0 137.8l-2.5 -4.2h5.0zM442.4 137.8l-2.5 -4.2h5.0zM442.5 121.3l-2.5 -4.2h5.0zM446.7 122.5l-2.5 -4.2h5.0zM442.8 139.0l-2.5 -4.2h5.0zM447.4 137.1l-2.5 -4.2h5.0zM455.8 122.0l2.5 4.2h-5.0zM448.1 137.1l-2.5 -4.2h5.0zM450.6 134.7l2.5 4.2h-5.0zM447.5 130.4l2.5 4.2h-5.0zM451.8 136.1l2.5 4.2h-5.0zM444.8 130.8l-2.5 -4.2h5.0zM449.0 130.6l2.5 4.2h-5.0zM445.4 125.6l2.5 4.2h-5.0zM451.6 123.0l2.5 4.2h-5.0zM441.1 140.4l-2.5 -4.2h5.0zM453.8 131.0l-2.5 -4.2h5.0zM450.6 135.5l2.5 4.2h-5.0zM446.3 130.3l-2.5 -4.2h5.0zM445.7 118.7l2.5 4.2h-5.0zM453.6 136.2l-2.5 -4.2h5.0zM484.0 132.8l2.5 4.2h-5.0zM490.9 135.5l2.5 4.2h-5.0zM494.5 138.1l-2.5 -4.2h5.0zM475.3 134.6l2.5 4.2h-5.0zM477.9 128.7l2.5 4.2h-5.0zM462.8 147.8l-2.5 -4.2h5.0zM464.5 137.9l-2.5 -4.2h5.0zM508.7 135.3l-2.5 -4.2h5.0zM459.7 128.0l2.5 4.2h-5.0zM471.5 130.9l2.5 4.2h-5.0zM517.8 141.5l2.5 4.2h-5.0zM506.2 135.8l2.5 4.2h-5.0zM473.8 143.7l2.5 4.2h-5.0zM488.5 143.7l-2.5 -4.2h5.0zM459.4 143.7l2.5 4.2h-5.0zM514.0 140.9l2.5 4.2h-5.0zM519.7 142.4l-2.5 -4.2h5.0zM489.3 140.3l-2.5 -4.2h5.0zM519.7 143.3l2.5 4.2h-5.0zM502.4 131.4l2.5 4.2h-5.0zM473.5 142.3l2.5 4.2h-5.0zM482.2 142.0l-2.5 -4.2h5.0zM480.8 145.3l-2.5 -4.2h5.0zM467.5 132.7l2.5 4.2h-5.0zM489.3 127.5l2.5 4.2h-5.0zM471.7 144.3l-2.5 -4.2h5.0zM464.1 133.8l-2.5 -4.2h5.0zM485.9 138.7l-2.5 -4.2h5.0zM513.9 121.3l2.5 4.2h-5.0zM515.5 107.9l2.5 4.2h-5.0zM500.3 111.8l-2.5 -4.2h5.0zM486.6 111.1l2.5 4.2h-5.0zM495.8 107.6l2.5 4.2h-5.0zM494.9 120.3l2.5 4.2h-5.0zM496.0 125.0l-2.5 -4.2h5.0zM506.5 127.7l-2.5 -4.2h5.0zM515.9 112.4l-2.5 -4.2h5.0zM499.3 119.0l2.5 4.2h-5.0zM505.0 96.7l2.5 4.2h-5.0zM509.0 88.4l2.5 4.2h-5.0zM512.0 93.1l2.5 4.2h-5.0zM498.0 104.9l2.5 4.2h-5.0zM490.0 120.2l2.5 4.2h-5.0zM487.0 124.9l2.5 4.2h-5.0zM534.3 131.4l-2.5 -4.2h5.0zM519.0 129.0l2.5 4.2h-5.0zM536.5 137.1l-2.5 -4.2h5.0zM511.3 117.1l2.5 4.2h-5.0zM529.7 117.1l2.5 4.2h-5.0zM509.3 117.6l2.5 4.2h-5.0zM509.1 126.0l-2.5 -4.2h5.0zM523.0 122.3l2.5 4.2h-5.0zM509.0 121.0l2.5 4.2h-5.0zM510.8 122.3l-2.5 -4.2h5.0zM533.4 129.7l-2.5 -4.2h5.0zM538.7 131.3l2.5 4.2h-5.0zM534.0 122.9l-2.5 -4.2h5.0zM521.3 125.0l2.5 4.2h-5.0zM532.3 136.9l-2.5 -4.2h5.0zM537.9 118.6l2.5 4.2h-5.0zM527.5 132.5l-2.5 -4.2h5.0zM539.2 138.1l-2.5 -4.2h5.0zM522.4 135.4l2.5 4.2h-5.0zM526.0 117.4l2.5 4.2h-5.0zM534.5 132.3l-2.5 -4.2h5.0zM521.1 126.6l2.5 4.2h-5.0zM522.4 135.4l2.5 4.2h-5.0zM512.0 127.5l2.5 4.2h-5.0zM522.9 139.7l-2.5 -4.2h5.0zM540.6 135.5l2.5 4.2h-5.0zM538.2 138.6l-2.5 -4.2h5.0zM527.4 122.0l2.5 4.2h-5.0zM542.6 136.2l-2.5 -4.2h5.0zM513.0 134.7l2.5 4.2h-5.0zM529.6 119.5l2.5 4.2h-5.0zM534.7 134.9l-2.5 -4.2h5.0zM523.0 122.1l-2.5 -4.2h5.0zM532.3 125.3l2.5 4.2h-5.0zM528.7 128.7l2.5 4.2h-5.0zM528.6 126.6l-2.5 -4.2h5.0zM521.2 130.9l2.5 4.2h-5.0zM515.0 122.2l-2.5 -4.2h5.0zM540.0 128.4l2.5 4.2h-5.0zM535.0 124.3l-2.5 -4.2h5.0zM512.2 127.9l2.5 4.2h-5.0zM517.1 128.0l-2.5 -4.2h5.0zM518.0 118.9l2.5 4.2h-5.0zM537.4 136.4l-2.5 -4.2h5.0zM521.5 118.3l2.5 4.2h-5.0zM541.8 132.3l2.5 4.2h-5.0zM514.6 122.4l-2.5 -4.2h5.0zM511.0 137.9l-2.5 -4.2h5.0zM521.8 132.8l-2.5 -4.2h5.0zM530.9 127.8l2.5 4.2h-5.0zM510.3 124.2l2.5 4.2h-5.0zM521.9 119.9l2.5 4.2h-5.0zM543.5 134.7l-2.5 -4.2h5.0zM533.6 130.7l2.5 4.2h-5.0zM533.4 130.7l-2.5 -4.2h5.0zM524.4 130.6l-2.5 -4.2h5.0zM534.7 115.6l2.5 4.2h-5.0zM542.1 130.3l2.5 4.2h-5.0zM544.6 121.3l-2.5 -4.2h5.0zM521.7 116.8l2.5 4.2h-5.0zM528.3 121.8l-2.5 -4.2h5.0zM540.2 116.4l2.5 4.2h-5.0zM510.0 130.2l-2.5 -4.2h5.0zM525.0 139.4l-2.5 -4.2h5.0zM535.2 120.1l-2.5 -4.2h5.0zM538.2 125.4l2.5 4.2h-5.0zM535.3 122.6l-2.5 -4.2h5.0zM524.0 124.7l2.5 4.2h-5.0zM537.1 123.8l-2.5 -4.2h5.0zM541.6 134.2l2.5 4.2h-5.0zM541.5 107.1l-2.5 -4.2h5.0zM535.6 111.1l2.5 4.2h-5.0zM516.6 105.3l2.5 4.2h-5.0zM544.9 119.3l-2.5 -4.2h5.0zM540.9 113.2l2.5 4.2h-5.0zM515.1 108.0l2.5 4.2h-5.0zM514.2 114.7l-2.5 -4.2h5.0zM535.9 116.5l-2.5 -4.2h5.0zM540.6 114.7l2.5 4.2h-5.0zM542.4 113.7l-2.5 -4.2h5.0zM527.7 119.8l-2.5 -4.2h5.0zM540.6 121.3l-2.5 -4.2h5.0zM524.4 105.5l-2.5 -4.2h5.0zM536.5 115.1l-2.5 -4.2h5.0zM544.3 110.6l2.5 4.2h-5.0zM527.7 109.2l2.5 4.2h-5.0zM529.5 102.6l2.5 4.2h-5.0zM514.0 106.2l-2.5 -4.2h5.0zM512.0 109.6l2.5 4.2h-5.0zM514.6 121.7l-2.5 -4.2h5.0zM520.1 104.4l2.5 4.2h-5.0zM537.4 102.0l2.5 4.2h-5.0zM525.3 106.0l-2.5 -4.2h5.0zM522.8 116.6l2.5 4.2h-5.0zM537.3 119.2l-2.5 -4.2h5.0zM529.6 104.6l2.5 4.2h-5.0zM540.7 116.5l-2.5 -4.2h5.0zM530.3 117.7l2.5 4.2h-5.0zM539.9 112.7l-2.5 -4.2h5.0zM533.1 117.2l-2.5 -4.2h5.0zM532.6 109.9l2.5 4.2h-5.0zM528.8 107.7l2.5 4.2h-5.0zM526.8 112.6l2.5 4.2h-5.0zM532.0 111.2l-2.5 -4.2h5.0zM529.6 122.1l-2.5 -4.2h5.0zM540.6 108.8l2.5 4.2h-5.0zM544.1 119.2l-2.5 -4.2h5.0zM540.1 99.2l2.5 4.2h-5.0zM541.5 112.7l2.5 4.2h-5.0zM527.9 105.5l-2.5 -4.2h5.0zM531.2 103.5l2.5 4.2h-5.0zM520.8 104.9l2.5 4.2h-5.0zM537.8 112.3l-2.5 -4.2h5.0zM542.5 105.1l2.5 4.2h-5.0zM515.4 106.9l-2.5 -4.2h5.0zM521.6 88.4l2.5 4.2h-5.0zM516.0 102.1l-2.5 -4.2h5.0zM533.8 89.7l-2.5 -4.2h5.0zM517.3 85.7l-2.5 -4.2h5.0zM539.0 93.1l2.5 4.2h-5.0zM518.2 96.5l-2.5 -4.2h5.0zM538.3 95.9l-2.5 -4.2h5.0zM525.4 79.2l2.5 4.2h-5.0zM541.3 90.9l-2.5 -4.2h5.0zM524.4 103.6l-2.5 -4.2h5.0zM516.1 103.6l-2.5 -4.2h5.0zM531.0 89.1l-2.5 -4.2h5.0zM536.6 93.4l-2.5 -4.2h5.0zM526.1 87.7l2.5 4.2h-5.0zM541.0 92.4l-2.5 -4.2h5.0zM536.7 104.0l-2.5 -4.2h5.0zM516.2 100.9l-2.5 -4.2h5.0zM517.1 87.8l2.5 4.2h-5.0zM522.3 90.3l2.5 4.2h-5.0zM535.8 97.2l2.5 4.2h-5.0zM543.0 93.8l-2.5 -4.2h5.0zM531.2 98.3l2.5 4.2h-5.0zM529.9 76.0l-2.5 -4.2h5.0zM532.0 69.5l-2.5 -4.2h5.0zM531.8 74.4l-2.5 -4.2h5.0zM529.8 72.1l2.5 4.2h-5.0zM548.3 59.5l2.5 4.2h-5.0zM544.9 55.8l-2.5 -4.2h5.0zM543.0 56.4l2.5 4.2h-5.0zM537.2 54.3l-2.5 -4.2h5.0zM538.4 52.3l2.5 4.2h-5.0zM539.3 53.5l-2.5 -4.2h5.0zM556.9 90.1l-2.5 -4.2h5.0zM548.2 74.5l-2.5 -4.2h5.0zM556.0 77.0l-2.5 -4.2h5.0zM547.3 94.0l-2.5 -4.2h5.0zM553.4 87.9l-2.5 -4.2h5.0zM548.7 87.5l-2.5 -4.2h5.0zM561.2 116.7l-2.5 -4.2h5.0zM549.8 115.5l2.5 4.2h-5.0zM560.4 126.4l2.5 4.2h-5.0zM555.2 119.7l2.5 4.2h-5.0zM542.3 111.2l-2.5 -4.2h5.0zM560.3 121.7l2.5 4.2h-5.0zM542.8 111.1l2.5 4.2h-5.0zM548.0 100.2l2.5 4.2h-5.0zM541.1 111.3l2.5 4.2h-5.0zM547.0 129.4l-2.5 -4.2h5.0zM552.7 109.0l2.5 4.2h-5.0zM552.7 113.8l-2.5 -4.2h5.0zM551.0 113.8l2.5 4.2h-5.0zM556.0 115.9l-2.5 -4.2h5.0zM558.4 127.4l-2.5 -4.2h5.0zM563.3 107.9l-2.5 -4.2h5.0zM541.3 120.4l-2.5 -4.2h5.0zM552.6 116.3l-2.5 -4.2h5.0zM609.8 115.2l-2.5 -4.2h5.0zM592.8 126.2l-2.5 -4.2h5.0zM610.1 117.6l-2.5 -4.2h5.0zM609.8 134.9l-2.5 -4.2h5.0zM596.2 115.7l-2.5 -4.2h5.0zM595.3 123.9l-2.5 -4.2h5.0zM594.4 135.9l-2.5 -4.2h5.0zM590.9 114.2l-2.5 -4.2h5.0zM586.8 129.2l-2.5 -4.2h5.0zM597.4 117.9l-2.5 -4.2h5.0zM598.6 126.7l-2.5 -4.2h5.0zM585.4 135.0l-2.5 -4.2h5.0zM600.8 115.6l2.5 4.2h-5.0zM610.7 126.9l-2.5 -4.2h5.0zM616.8 141.2l-2.5 -4.2h5.0zM617.1 116.1l2.5 4.2h-5.0zM643.3 137.9l2.5 4.2h-5.0zM616.3 115.6l2.5 4.2h-5.0zM615.6 135.4l2.5 4.2h-5.0zM611.9 134.7l2.5 4.2h-5.0zM628.2 122.7l-2.5 -4.2h5.0zM618.9 136.8l2.5 4.2h-5.0zM632.6 137.4l-2.5 -4.2h5.0zM611.2 137.7l-2.5 -4.2h5.0zM631.0 130.0l2.5 4.2h-5.0zM636.0 126.3l2.5 4.2h-5.0zM627.0 140.2l-2.5 -4.2h5.0zM620.4 130.5l-2.5 -4.2h5.0zM639.2 125.2l2.5 4.2h-5.0zM614.8 124.6l2.5 4.2h-5.0zM620.2 97.2l-2.5 -4.2h5.0zM615.3 98.5l-2.5 -4.2h5.0zM621.2 97.6l-2.5 -4.2h5.0zM617.5 99.0l-2.5 -4.2h5.0zM643.0 125.7l-2.5 -4.2h5.0zM638.0 113.9l-2.5 -4.2h5.0z" fill="#3c2896" stroke="#251870" stroke-width="0.35"/>
<path d="M556.8 78.5l-2.5 -4.2h5.0zM556.2 89.3l-2.5 -4.2h5.0zM564.3 71.6l-2.5 -4.2h5.0zM567.6 96.6l-2.5 -4.2h5.0zM567.4 100.2l-2.5 -4.2h5.0zM566.6 96.6l-2.5 -4.2h5.0zM569.6 115.9l-2.5 -4.2h5.0zM578.4 117.0l-2.5 -4.2h5.0zM567.9 117.2l-2.5 -4.2h5.0zM565.4 132.2l-2.5 -4.2h5.0zM569.1 135.0l-2.5 -4.2h5.0zM565.1 121.4l-2.5 -4.2h5.0zM566.3 131.8l-2.5 -4.2h5.0zM568.7 134.2l-2.5 -4.2h5.0zM540.6 120.9l2.5 4.2h-5.0zM537.7 129.5l2.5 4.2h-5.0zM547.0 120.8l-2.5 -4.2h5.0zM545.7 116.0l2.5 4.2h-5.0zM547.6 124.4l2.5 4.2h-5.0zM544.3 129.6l2.5 4.2h-5.0z" fill="#1cbde6" stroke="#107090" stroke-width="0.35"/>
<path d="M532.0 70.7l2.5 4.2h-5.0zM547.8 80.4l-2.5 -4.2h5.0zM551.7 82.9l-2.5 -4.2h5.0zM548.0 78.1l-2.5 -4.2h5.0zM552.7 86.2l-2.5 -4.2h5.0zM555.8 84.3l-2.5 -4.2h5.0zM566.0 97.2l-2.5 -4.2h5.0zM568.2 100.7l-2.5 -4.2h5.0zM568.7 140.9l-2.5 -4.2h5.0zM571.5 124.5l-2.5 -4.2h5.0zM574.6 115.2l-2.5 -4.2h5.0zM568.7 136.9l-2.5 -4.2h5.0zM570.9 122.7l-2.5 -4.2h5.0zM579.4 122.6l-2.5 -4.2h5.0zM570.6 124.8l-2.5 -4.2h5.0zM570.2 140.1l-2.5 -4.2h5.0zM579.6 126.1l-2.5 -4.2h5.0zM568.3 139.4l-2.5 -4.2h5.0zM580.3 142.4l-2.5 -4.2h5.0z" fill="#1ee060" stroke="#108a40" stroke-width="0.35"/>
<path d="M532.0 43.6l2.5 4.2h-5.0zM537.6 60.1l2.5 4.2h-5.0zM542.7 53.6l2.5 4.2h-5.0zM541.0 106.1l2.5 4.2h-5.0zM556.6 84.3l-2.5 -4.2h5.0zM546.9 77.7l-2.5 -4.2h5.0zM553.4 83.7l-2.5 -4.2h5.0zM567.1 78.7l-2.5 -4.2h5.0zM565.3 76.5l-2.5 -4.2h5.0zM563.9 75.6l-2.5 -4.2h5.0zM566.3 74.2l-2.5 -4.2h5.0zM562.3 73.4l-2.5 -4.2h5.0zM567.4 72.6l-2.5 -4.2h5.0zM564.9 84.2l-2.5 -4.2h5.0zM565.5 77.8l-2.5 -4.2h5.0zM566.8 123.9l-2.5 -4.2h5.0zM575.9 136.9l-2.5 -4.2h5.0zM575.8 114.4l-2.5 -4.2h5.0z" fill="#ffb400" stroke="#9a7000" stroke-width="0.35"/>
<path d="M550.0 57.2l2.5 4.2h-5.0zM543.2 61.3l2.5 4.2h-5.0zM543.7 60.5l-2.5 -4.2h5.0zM536.5 53.6l2.5 4.2h-5.0zM549.2 58.6l2.5 4.2h-5.0zM540.6 66.6l-2.5 -4.2h5.0zM530.0 61.3l2.5 4.2h-5.0zM533.0 66.0l2.5 4.2h-5.0zM558.0 112.7l-2.5 -4.2h5.0z" fill="#f5401a" stroke="#8a2a10" stroke-width="0.35"/>
<rect x="441.2" y="37.0" width="23.600000000000023" height="68.7" fill="#f3f3f3" stroke="#9a9a9a" stroke-width="0.9"/>
<rect x="445.8" y="52.50" width="4.899999999999977" height="8.90" fill="#f5401a"/>
<rect x="445.8" y="61.20" width="4.899999999999977" height="8.90" fill="#ffb400"/>
<rect x="445.8" y="69.90" width="4.899999999999977" height="8.90" fill="#00e060"/>
<rect x="445.8" y="78.60" width="4.899999999999977" height="8.90" fill="#00bce6"/>
<rect x="445.8" y="87.30" width="4.899999999999977" height="8.90" fill="#3c2896"/>
<line x1="450.7" y1="52.50" x2="451.9" y2="52.50" stroke="#000" stroke-width="0.5"/>
<text x="452.6" y="54.88" font-size="6.6" fill="#111" >1</text>
<line x1="450.7" y1="61.20" x2="451.9" y2="61.20" stroke="#000" stroke-width="0.5"/>
<text x="452.6" y="63.58" font-size="6.6" fill="#111" >0.8</text>
<line x1="450.7" y1="69.90" x2="451.9" y2="69.90" stroke="#000" stroke-width="0.5"/>
<text x="452.6" y="72.28" font-size="6.6" fill="#111" >0.6</text>
<line x1="450.7" y1="78.60" x2="451.9" y2="78.60" stroke="#000" stroke-width="0.5"/>
<text x="452.6" y="80.98" font-size="6.6" fill="#111" >0.4</text>
<line x1="450.7" y1="87.30" x2="451.9" y2="87.30" stroke="#000" stroke-width="0.5"/>
<text x="452.6" y="89.68" font-size="6.6" fill="#111" >0.2</text>
<line x1="450.7" y1="96.00" x2="451.9" y2="96.00" stroke="#000" stroke-width="0.5"/>
<text x="452.6" y="98.38" font-size="6.6" fill="#111" >0</text>
<text x="443.4" y="45.6" font-size="6.8" fill="#222" textLength="16.0" lengthAdjust="spacingAndGlyphs">LD (r<tspan font-size="4.5" dy="-2.5">2</tspan><tspan dy="2.5">)</tspan></text>
<path d="M538.2 42.3l2.9 5.7l-2.9 5.7l-2.9 -5.7z" fill="#000"/>
<path d="M538.2 45.4l1.2 2.6l-1.2 2.6l-1.2 -2.6z" fill="#a030d0"/>
<text x="473.6" y="53.4" font-size="11.5" text-anchor="start" fill="#8a3fb0" >rs6533181</text>
<line x1="435.60" y1="164.80" x2="438.60" y2="164.80" stroke="#000" stroke-width="0.9" />
<text x="435.4" y="169.4" font-size="11.3" text-anchor="end" fill="#000" >0</text>
<line x1="435.60" y1="141.22" x2="438.60" y2="141.22" stroke="#000" stroke-width="0.9" />
<text x="435.4" y="145.8" font-size="11.3" text-anchor="end" fill="#000" >2</text>
<line x1="435.60" y1="117.64" x2="438.60" y2="117.64" stroke="#000" stroke-width="0.9" />
<text x="435.4" y="122.2" font-size="11.3" text-anchor="end" fill="#000" >4</text>
<line x1="435.60" y1="94.06" x2="438.60" y2="94.06" stroke="#000" stroke-width="0.9" />
<text x="435.4" y="98.7" font-size="11.3" text-anchor="end" fill="#000" >6</text>
<line x1="435.60" y1="70.48" x2="438.60" y2="70.48" stroke="#000" stroke-width="0.9" />
<text x="435.4" y="75.1" font-size="11.3" text-anchor="end" fill="#000" >8</text>
<line x1="435.60" y1="46.90" x2="438.60" y2="46.90" stroke="#000" stroke-width="0.9" />
<text x="435.4" y="51.5" font-size="11.3" text-anchor="end" fill="#000" >10</text>
<line x1="646.50" y1="160.10" x2="649.00" y2="160.10" stroke="#000" stroke-width="0.9" />
<text x="651.4" y="163.2" font-size="11.0" text-anchor="start" fill="#2440ff" >0</text>
<line x1="646.50" y1="135.62" x2="649.00" y2="135.62" stroke="#000" stroke-width="0.9" />
<text x="651.4" y="138.7" font-size="11.0" text-anchor="start" fill="#2440ff" >20</text>
<line x1="646.50" y1="111.14" x2="649.00" y2="111.14" stroke="#000" stroke-width="0.9" />
<text x="651.4" y="114.2" font-size="11.0" text-anchor="start" fill="#2440ff" >40</text>
<line x1="646.50" y1="86.66" x2="649.00" y2="86.66" stroke="#000" stroke-width="0.9" />
<text x="651.4" y="89.8" font-size="11.0" text-anchor="start" fill="#2440ff" >60</text>
<line x1="646.50" y1="62.18" x2="649.00" y2="62.18" stroke="#000" stroke-width="0.9" />
<text x="651.4" y="65.3" font-size="11.0" text-anchor="start" fill="#2440ff" >80</text>
<line x1="646.50" y1="37.70" x2="649.00" y2="37.70" stroke="#000" stroke-width="0.9" />
<text x="651.4" y="40.8" font-size="11.0" text-anchor="start" fill="#2440ff" >100</text>
<rect x="438.6" y="33.6" width="210.39999999999998" height="131.8" fill="none" stroke="#000" stroke-width="1.1"/>
<line x1="480.40" y1="165.40" x2="480.40" y2="167.90" stroke="#000" stroke-width="0.8" />
<line x1="522.30" y1="165.40" x2="522.30" y2="167.90" stroke="#000" stroke-width="0.8" />
<line x1="564.30" y1="165.40" x2="564.30" y2="167.90" stroke="#000" stroke-width="0.8" />
<line x1="606.30" y1="165.40" x2="606.30" y2="167.90" stroke="#000" stroke-width="0.8" />
<text transform="translate(418.0,101.6) rotate(-90)" font-size="11.8" text-anchor="middle">-log<tspan font-size="8.8" dy="1.5">10</tspan><tspan dy="-1.5">(p-value)</tspan></text>
<text transform="translate(675.2,103.4) rotate(90)" font-size="11.7" text-anchor="middle">Recombination rate (cMMb)</text>
<text x="479.6" y="183.5" font-size="11.5" text-anchor="start" fill="#000" >SNP</text>
<defs><linearGradient id="ag177" x1="0" x2="1"><stop offset="0" stop-color="#1f5e9e"/><stop offset="1" stop-color="#1fa3cf"/></linearGradient></defs>
<path d="M510.3 174.5h17v-2.1l7.3 4.6l-7.3 4.6v-2.1h-17z" fill="url(#ag177)"/>
<text x="543.4" y="181.2" font-size="11.5" text-anchor="start" fill="#000" >Kidney meQTL</text>
<path d="M439.0 321.6L439.0 306.9L441.5 303.9L444.0 303.5L446.5 307.0L449.0 304.1L451.5 303.9L454.0 305.8L456.5 304.7L459.0 306.6L461.5 307.8L464.0 314.0L466.5 311.7L469.0 312.7L471.5 313.8L474.0 312.7L476.5 313.3L479.0 312.3L481.5 309.7L484.0 312.5L486.5 311.2L489.0 310.0L491.5 309.4L494.0 311.5L496.5 308.3L499.0 306.0L501.5 304.0L504.0 304.7L506.5 303.2L509.0 303.7L511.5 303.3L514.0 302.0L516.5 304.5L519.0 302.1L521.5 303.8L524.0 304.4L526.5 303.3L529.0 301.4L531.5 303.8L534.0 303.2L536.5 301.5L539.0 301.0L541.5 302.7L544.0 300.8L546.5 307.9L549.0 310.2L551.5 310.2L554.0 309.8L556.5 310.7L559.0 311.7L561.5 309.5L564.0 309.7L566.5 295.7L569.0 289.7L571.5 290.8L574.0 290.6L576.5 290.2L579.0 291.1L581.5 290.6L584.0 289.0L586.5 292.3L589.0 289.9L591.5 290.2L594.0 290.1L596.5 292.0L599.0 292.1L601.5 293.1L604.0 297.1L606.5 297.8L609.0 300.9L611.5 298.4L614.0 299.9L616.5 299.3L619.0 299.4L621.5 299.6L624.0 299.1L626.5 300.8L629.0 305.1L631.5 306.9L634.0 307.2L636.5 306.4L639.0 309.0L641.5 307.5L644.0 309.6L646.5 311.9L648.5 321.6z" fill="#35278e"/>
<path d="M626.4 314.4l2.3 3.9h-4.6zM605.6 307.8l-2.3 -3.9h4.6zM588.9 296.6l-2.3 -3.9h4.6zM474.8 319.4l-2.3 -3.9h4.6zM443.2 308.8l2.3 3.9h-4.6zM468.2 315.8l2.3 3.9h-4.6zM523.2 306.3l2.3 3.9h-4.6zM477.7 315.6l2.3 3.9h-4.6zM458.2 310.2l2.3 3.9h-4.6zM589.3 301.3l2.3 3.9h-4.6zM607.3 299.6l2.3 3.9h-4.6zM635.4 309.3l2.3 3.9h-4.6zM557.9 315.4l2.3 3.9h-4.6zM518.4 306.3l2.3 3.9h-4.6zM460.0 312.8l2.3 3.9h-4.6zM643.6 310.8l2.3 3.9h-4.6zM525.4 310.3l2.3 3.9h-4.6zM438.3 315.0l2.3 3.9h-4.6zM511.4 309.6l2.3 3.9h-4.6zM522.4 314.5l2.3 3.9h-4.6zM559.3 317.0l-2.3 -3.9h4.6zM636.6 314.7l-2.3 -3.9h4.6zM600.9 303.9l-2.3 -3.9h4.6zM549.8 317.9l-2.3 -3.9h4.6zM482.6 311.9l2.3 3.9h-4.6zM461.2 314.0l2.3 3.9h-4.6zM488.0 316.2l2.3 3.9h-4.6zM454.0 316.3l2.3 3.9h-4.6zM616.2 315.9l2.3 3.9h-4.6zM542.1 307.9l-2.3 -3.9h4.6zM454.7 314.9l2.3 3.9h-4.6zM460.0 310.0l2.3 3.9h-4.6zM540.0 311.9l-2.3 -3.9h4.6zM613.6 320.1l-2.3 -3.9h4.6zM455.0 318.6l-2.3 -3.9h4.6zM541.9 303.7l2.3 3.9h-4.6zM477.5 315.0l2.3 3.9h-4.6zM538.1 319.2l-2.3 -3.9h4.6zM493.2 313.7l2.3 3.9h-4.6zM482.3 316.5l-2.3 -3.9h4.6zM637.6 310.9l2.3 3.9h-4.6zM526.5 307.0l2.3 3.9h-4.6zM514.6 310.6l2.3 3.9h-4.6zM520.2 314.2l2.3 3.9h-4.6zM591.1 295.5l2.3 3.9h-4.6zM545.8 313.8l-2.3 -3.9h4.6zM583.8 304.4l2.3 3.9h-4.6zM584.7 307.9l2.3 3.9h-4.6zM529.5 315.7l2.3 3.9h-4.6zM584.6 296.1l-2.3 -3.9h4.6zM640.9 313.5l-2.3 -3.9h4.6zM489.2 312.7l2.3 3.9h-4.6zM502.5 309.0l2.3 3.9h-4.6zM617.0 316.9l-2.3 -3.9h4.6zM581.6 312.2l2.3 3.9h-4.6zM504.7 312.1l-2.3 -3.9h4.6zM531.7 312.0l2.3 3.9h-4.6zM613.4 312.1l-2.3 -3.9h4.6zM476.7 314.9l2.3 3.9h-4.6zM480.1 317.7l-2.3 -3.9h4.6zM598.5 311.4l2.3 3.9h-4.6zM602.0 299.4l2.3 3.9h-4.6zM556.5 315.4l2.3 3.9h-4.6zM491.4 315.4l2.3 3.9h-4.6zM489.0 311.9l2.3 3.9h-4.6zM555.6 316.5l-2.3 -3.9h4.6zM599.4 313.2l-2.3 -3.9h4.6zM542.0 311.2l2.3 3.9h-4.6zM497.1 317.9l-2.3 -3.9h4.6zM553.0 319.6l-2.3 -3.9h4.6zM569.3 299.5l2.3 3.9h-4.6zM468.4 316.1l2.3 3.9h-4.6zM451.7 312.1l2.3 3.9h-4.6zM542.5 314.2l-2.3 -3.9h4.6zM549.1 316.0l-2.3 -3.9h4.6zM441.4 309.5l2.3 3.9h-4.6zM635.4 311.9l2.3 3.9h-4.6zM474.3 316.0l2.3 3.9h-4.6zM530.2 304.0l2.3 3.9h-4.6zM501.1 314.7l2.3 3.9h-4.6zM490.5 316.6l2.3 3.9h-4.6zM572.1 315.4l-2.3 -3.9h4.6zM536.8 307.6l2.3 3.9h-4.6zM535.5 309.1l2.3 3.9h-4.6zM498.8 312.5l-2.3 -3.9h4.6zM527.1 312.7l-2.3 -3.9h4.6zM584.1 313.6l2.3 3.9h-4.6zM445.8 314.4l2.3 3.9h-4.6zM447.3 309.1l2.3 3.9h-4.6zM474.3 320.4l-2.3 -3.9h4.6zM490.7 314.5l2.3 3.9h-4.6zM634.0 315.8l-2.3 -3.9h4.6zM548.1 315.9l-2.3 -3.9h4.6zM515.0 312.3l2.3 3.9h-4.6zM526.8 316.5l-2.3 -3.9h4.6zM617.5 303.6l2.3 3.9h-4.6zM486.1 312.9l2.3 3.9h-4.6zM512.5 315.4l-2.3 -3.9h4.6zM530.6 313.7l-2.3 -3.9h4.6zM439.6 312.0l-2.3 -3.9h4.6zM634.0 316.0l-2.3 -3.9h4.6zM482.1 315.3l2.3 3.9h-4.6zM520.4 306.7l2.3 3.9h-4.6zM611.4 317.1l-2.3 -3.9h4.6zM553.4 315.5l-2.3 -3.9h4.6zM451.5 311.7l2.3 3.9h-4.6zM537.6 309.9l2.3 3.9h-4.6zM551.3 315.8l2.3 3.9h-4.6zM475.1 315.5l2.3 3.9h-4.6zM505.9 313.8l2.3 3.9h-4.6zM530.4 317.3l-2.3 -3.9h4.6zM561.1 312.1l2.3 3.9h-4.6zM477.6 319.0l-2.3 -3.9h4.6zM553.4 315.2l-2.3 -3.9h4.6zM539.7 312.0l-2.3 -3.9h4.6zM469.0 320.6l-2.3 -3.9h4.6zM514.5 315.9l-2.3 -3.9h4.6zM587.3 308.6l-2.3 -3.9h4.6zM580.5 300.5l2.3 3.9h-4.6zM596.0 299.6l2.3 3.9h-4.6zM611.8 307.0l2.3 3.9h-4.6zM579.2 306.7l2.3 3.9h-4.6zM570.9 303.7l2.3 3.9h-4.6zM477.0 320.5l-2.3 -3.9h4.6zM618.1 320.0l-2.3 -3.9h4.6zM549.6 319.1l-2.3 -3.9h4.6zM449.0 320.0l-2.3 -3.9h4.6zM442.4 309.7l2.3 3.9h-4.6zM453.7 316.5l2.3 3.9h-4.6zM454.1 307.3l2.3 3.9h-4.6zM467.1 318.3l-2.3 -3.9h4.6zM601.9 310.9l-2.3 -3.9h4.6zM600.5 309.6l-2.3 -3.9h4.6zM535.4 308.0l2.3 3.9h-4.6zM467.1 320.0l-2.3 -3.9h4.6zM501.6 311.0l-2.3 -3.9h4.6zM510.5 306.4l2.3 3.9h-4.6zM523.9 318.4l-2.3 -3.9h4.6zM551.2 316.8l-2.3 -3.9h4.6zM523.4 315.8l2.3 3.9h-4.6zM529.4 315.2l-2.3 -3.9h4.6zM626.9 303.8l2.3 3.9h-4.6zM606.8 308.1l-2.3 -3.9h4.6zM628.9 316.9l-2.3 -3.9h4.6zM582.5 298.9l2.3 3.9h-4.6zM443.1 314.8l-2.3 -3.9h4.6zM616.7 308.4l-2.3 -3.9h4.6zM563.5 316.0l2.3 3.9h-4.6zM489.8 314.3l2.3 3.9h-4.6zM616.7 305.3l-2.3 -3.9h4.6zM519.3 308.3l2.3 3.9h-4.6zM469.9 319.2l-2.3 -3.9h4.6zM467.1 317.9l-2.3 -3.9h4.6zM534.5 310.5l-2.3 -3.9h4.6zM643.3 318.2l-2.3 -3.9h4.6zM630.8 312.1l2.3 3.9h-4.6zM570.6 306.3l-2.3 -3.9h4.6zM574.9 299.7l2.3 3.9h-4.6zM595.0 305.3l-2.3 -3.9h4.6zM516.8 315.4l-2.3 -3.9h4.6zM512.6 306.4l2.3 3.9h-4.6zM477.0 315.3l2.3 3.9h-4.6zM596.5 311.9l2.3 3.9h-4.6zM633.4 317.1l-2.3 -3.9h4.6zM513.0 312.4l2.3 3.9h-4.6zM577.3 299.0l-2.3 -3.9h4.6zM574.8 316.5l-2.3 -3.9h4.6zM580.4 313.0l-2.3 -3.9h4.6zM517.4 314.8l-2.3 -3.9h4.6zM542.9 315.1l-2.3 -3.9h4.6zM450.8 314.7l-2.3 -3.9h4.6zM464.1 315.2l2.3 3.9h-4.6zM576.1 307.3l-2.3 -3.9h4.6zM527.9 318.6l-2.3 -3.9h4.6zM489.8 315.9l-2.3 -3.9h4.6zM601.6 312.3l-2.3 -3.9h4.6zM644.9 320.5l-2.3 -3.9h4.6zM476.4 319.7l-2.3 -3.9h4.6zM595.5 318.4l-2.3 -3.9h4.6zM607.6 307.9l2.3 3.9h-4.6zM478.2 319.2l-2.3 -3.9h4.6zM522.5 305.1l2.3 3.9h-4.6zM477.0 318.4l-2.3 -3.9h4.6zM585.8 307.2l2.3 3.9h-4.6zM458.2 318.7l-2.3 -3.9h4.6zM531.5 316.8l-2.3 -3.9h4.6zM605.5 303.2l2.3 3.9h-4.6zM459.4 317.4l-2.3 -3.9h4.6zM494.3 320.3l-2.3 -3.9h4.6zM542.5 319.0l-2.3 -3.9h4.6zM466.6 316.7l-2.3 -3.9h4.6zM596.0 293.2l2.3 3.9h-4.6zM453.7 312.9l2.3 3.9h-4.6zM582.4 307.1l-2.3 -3.9h4.6zM452.7 305.3l2.3 3.9h-4.6zM594.3 304.0l-2.3 -3.9h4.6zM640.4 309.8l2.3 3.9h-4.6zM535.5 314.2l2.3 3.9h-4.6zM579.9 311.7l-2.3 -3.9h4.6zM600.9 310.6l2.3 3.9h-4.6zM562.5 310.8l2.3 3.9h-4.6zM510.6 306.7l2.3 3.9h-4.6zM534.3 314.7l2.3 3.9h-4.6zM559.7 319.7l-2.3 -3.9h4.6zM520.3 307.9l2.3 3.9h-4.6zM578.3 294.5l2.3 3.9h-4.6zM453.6 317.1l-2.3 -3.9h4.6zM485.9 319.4l-2.3 -3.9h4.6zM489.1 316.0l2.3 3.9h-4.6zM531.1 312.2l2.3 3.9h-4.6zM621.6 316.7l-2.3 -3.9h4.6zM462.9 315.1l2.3 3.9h-4.6zM492.0 314.4l-2.3 -3.9h4.6zM493.0 319.7l-2.3 -3.9h4.6zM482.1 312.5l2.3 3.9h-4.6zM516.7 314.7l2.3 3.9h-4.6zM594.7 300.7l2.3 3.9h-4.6zM485.4 317.5l-2.3 -3.9h4.6zM443.3 316.6l2.3 3.9h-4.6zM578.6 316.4l-2.3 -3.9h4.6zM597.2 303.0l2.3 3.9h-4.6zM590.3 311.2l-2.3 -3.9h4.6zM581.2 315.0l2.3 3.9h-4.6zM572.7 301.7l2.3 3.9h-4.6zM561.8 310.9l2.3 3.9h-4.6zM528.7 310.3l2.3 3.9h-4.6zM443.3 313.4l-2.3 -3.9h4.6zM614.2 317.3l-2.3 -3.9h4.6zM508.7 306.8l2.3 3.9h-4.6zM576.8 304.8l2.3 3.9h-4.6zM584.4 316.3l2.3 3.9h-4.6zM468.1 317.8l-2.3 -3.9h4.6zM575.8 319.2l-2.3 -3.9h4.6zM511.8 312.6l2.3 3.9h-4.6zM538.4 311.2l-2.3 -3.9h4.6zM644.8 320.2l-2.3 -3.9h4.6zM441.5 313.6l-2.3 -3.9h4.6zM581.1 297.0l-2.3 -3.9h4.6zM498.9 315.6l2.3 3.9h-4.6zM447.6 310.4l2.3 3.9h-4.6zM573.1 309.3l-2.3 -3.9h4.6zM638.0 311.8l2.3 3.9h-4.6zM475.8 318.9l-2.3 -3.9h4.6zM511.4 313.2l2.3 3.9h-4.6zM474.9 320.0l-2.3 -3.9h4.6zM525.7 308.4l2.3 3.9h-4.6zM530.5 306.2l2.3 3.9h-4.6zM447.4 316.6l2.3 3.9h-4.6zM633.4 317.0l-2.3 -3.9h4.6zM532.4 311.7l-2.3 -3.9h4.6zM489.7 311.1l2.3 3.9h-4.6zM449.9 315.1l-2.3 -3.9h4.6zM645.4 320.5l-2.3 -3.9h4.6zM520.1 311.2l2.3 3.9h-4.6zM550.6 315.7l-2.3 -3.9h4.6zM530.6 309.6l2.3 3.9h-4.6zM626.4 307.8l2.3 3.9h-4.6zM524.4 316.0l2.3 3.9h-4.6zM490.0 317.0l-2.3 -3.9h4.6zM595.7 309.9l-2.3 -3.9h4.6zM547.4 313.5l2.3 3.9h-4.6zM535.5 316.9l-2.3 -3.9h4.6zM520.9 313.7l2.3 3.9h-4.6zM527.4 315.4l2.3 3.9h-4.6zM609.1 308.9l2.3 3.9h-4.6zM551.8 314.7l2.3 3.9h-4.6zM454.3 311.8l2.3 3.9h-4.6zM448.6 319.0l-2.3 -3.9h4.6zM594.5 305.8l-2.3 -3.9h4.6zM616.8 306.2l-2.3 -3.9h4.6zM520.0 312.4l2.3 3.9h-4.6zM531.8 309.1l-2.3 -3.9h4.6zM471.3 319.7l-2.3 -3.9h4.6zM514.4 313.7l2.3 3.9h-4.6zM624.9 315.5l-2.3 -3.9h4.6zM577.5 306.0l2.3 3.9h-4.6zM490.7 316.0l2.3 3.9h-4.6zM557.9 314.6l2.3 3.9h-4.6zM557.4 317.5l-2.3 -3.9h4.6zM622.6 308.0l2.3 3.9h-4.6zM635.7 313.1l2.3 3.9h-4.6zM640.9 315.0l-2.3 -3.9h4.6zM547.9 312.7l2.3 3.9h-4.6zM481.2 314.7l-2.3 -3.9h4.6zM508.5 305.7l2.3 3.9h-4.6zM627.6 315.4l-2.3 -3.9h4.6zM634.5 318.9l-2.3 -3.9h4.6zM437.9 316.5l-2.3 -3.9h4.6zM599.6 304.0l2.3 3.9h-4.6zM468.9 316.2l2.3 3.9h-4.6zM584.5 310.1l-2.3 -3.9h4.6zM460.1 319.3l-2.3 -3.9h4.6zM618.2 316.1l2.3 3.9h-4.6zM570.2 295.5l-2.3 -3.9h4.6zM580.5 314.1l2.3 3.9h-4.6zM541.7 310.5l2.3 3.9h-4.6zM561.6 317.1l-2.3 -3.9h4.6zM462.5 316.8l-2.3 -3.9h4.6zM494.8 320.0l-2.3 -3.9h4.6zM615.7 309.7l-2.3 -3.9h4.6zM617.4 309.0l2.3 3.9h-4.6zM636.0 316.2l2.3 3.9h-4.6zM573.6 318.7l-2.3 -3.9h4.6zM575.5 316.5l2.3 3.9h-4.6zM608.4 312.2l-2.3 -3.9h4.6zM577.1 305.4l2.3 3.9h-4.6zM460.0 307.8l2.3 3.9h-4.6zM528.1 309.3l2.3 3.9h-4.6zM591.3 294.8l2.3 3.9h-4.6zM461.3 314.4l-2.3 -3.9h4.6zM448.1 314.0l-2.3 -3.9h4.6zM579.4 307.4l2.3 3.9h-4.6zM623.5 308.9l-2.3 -3.9h4.6zM527.4 320.1l-2.3 -3.9h4.6zM531.1 309.5l2.3 3.9h-4.6zM645.2 314.9l2.3 3.9h-4.6zM502.1 311.5l2.3 3.9h-4.6zM568.3 315.8l-2.3 -3.9h4.6zM523.6 319.2l-2.3 -3.9h4.6zM541.4 312.5l-2.3 -3.9h4.6zM533.3 304.7l2.3 3.9h-4.6zM593.8 307.6l-2.3 -3.9h4.6zM458.3 312.9l-2.3 -3.9h4.6zM529.2 309.6l-2.3 -3.9h4.6zM551.4 319.8l-2.3 -3.9h4.6zM519.9 314.4l-2.3 -3.9h4.6zM628.9 314.3l-2.3 -3.9h4.6zM524.9 319.3l-2.3 -3.9h4.6zM447.9 314.7l2.3 3.9h-4.6zM645.4 313.6l2.3 3.9h-4.6zM457.0 317.1l-2.3 -3.9h4.6zM552.3 315.0l2.3 3.9h-4.6zM550.4 318.1l-2.3 -3.9h4.6zM475.6 315.4l2.3 3.9h-4.6zM490.6 314.1l2.3 3.9h-4.6z" fill="none" stroke="#2a1f74" stroke-width="0.4"/>
<path d="M614.3 315.3h1v1h-1zM642.5 315.5h1v1h-1zM483.1 313.3h1v1h-1zM615.1 317.5h1v1h-1zM466.0 312.6h1v1h-1zM488.5 319.2h1v1h-1zM645.9 312.4h1v1h-1zM541.7 311.2h1v1h-1zM620.4 318.0h1v1h-1zM619.2 315.1h1v1h-1zM633.1 314.1h1v1h-1zM509.4 314.1h1v1h-1zM533.3 314.6h1v1h-1zM596.1 314.5h1v1h-1zM597.1 319.3h1v1h-1zM476.4 315.7h1v1h-1zM476.9 314.2h1v1h-1zM569.4 318.8h1v1h-1zM510.9 316.1h1v1h-1zM572.2 314.4h1v1h-1zM501.8 317.7h1v1h-1zM599.6 316.7h1v1h-1zM614.7 315.4h1v1h-1zM516.5 317.1h1v1h-1zM635.8 317.4h1v1h-1zM508.5 317.9h1v1h-1zM563.6 313.2h1v1h-1zM445.3 315.6h1v1h-1zM520.2 317.5h1v1h-1zM619.3 311.5h1v1h-1zM570.6 318.7h1v1h-1zM593.5 317.1h1v1h-1zM521.9 319.9h1v1h-1zM554.2 314.8h1v1h-1zM537.9 312.1h1v1h-1zM586.5 314.6h1v1h-1zM563.7 313.5h1v1h-1zM495.0 316.5h1v1h-1zM593.8 314.3h1v1h-1zM492.6 312.0h1v1h-1zM534.1 317.4h1v1h-1zM537.2 313.9h1v1h-1zM450.6 314.4h1v1h-1zM444.3 316.7h1v1h-1zM564.4 310.6h1v1h-1zM613.8 318.6h1v1h-1zM560.6 316.9h1v1h-1zM585.6 315.1h1v1h-1zM626.2 316.0h1v1h-1zM571.7 316.7h1v1h-1zM542.1 317.5h1v1h-1zM508.6 316.4h1v1h-1zM522.2 312.9h1v1h-1zM509.3 310.3h1v1h-1zM604.2 316.8h1v1h-1zM563.6 310.5h1v1h-1zM463.9 312.5h1v1h-1zM499.8 319.4h1v1h-1zM514.6 315.7h1v1h-1zM642.3 311.9h1v1h-1zM494.7 315.6h1v1h-1zM507.3 310.6h1v1h-1zM444.3 318.2h1v1h-1zM645.5 316.6h1v1h-1zM564.2 315.1h1v1h-1zM644.4 314.6h1v1h-1zM596.4 314.1h1v1h-1zM488.6 318.6h1v1h-1zM645.0 317.7h1v1h-1zM624.7 315.2h1v1h-1zM520.5 318.0h1v1h-1zM580.2 318.0h1v1h-1zM560.8 318.7h1v1h-1zM635.7 316.1h1v1h-1zM616.4 313.9h1v1h-1zM456.6 315.5h1v1h-1zM598.1 319.7h1v1h-1zM620.5 311.0h1v1h-1zM502.4 318.6h1v1h-1zM569.1 317.9h1v1h-1zM592.8 314.4h1v1h-1zM539.3 316.3h1v1h-1zM573.1 317.4h1v1h-1zM540.7 317.7h1v1h-1zM567.6 317.7h1v1h-1zM604.0 314.4h1v1h-1zM524.3 319.7h1v1h-1zM538.8 311.5h1v1h-1zM524.5 315.9h1v1h-1zM605.9 312.2h1v1h-1z" fill="#7a6cc0" opacity="0.8"/>
<path d="M517.8 304.7l2.5 4.2h-5.0zM545.8 310.6l-2.5 -4.2h5.0zM547.5 310.4l-2.5 -4.2h5.0zM561.3 305.0l2.5 4.2h-5.0zM489.8 311.4l-2.5 -4.2h5.0zM483.2 305.9l2.5 4.2h-5.0zM526.5 307.7l-2.5 -4.2h5.0zM525.0 304.5l2.5 4.2h-5.0zM510.1 307.5l-2.5 -4.2h5.0zM564.2 304.9l2.5 4.2h-5.0zM493.3 309.7l-2.5 -4.2h5.0zM553.3 310.4l-2.5 -4.2h5.0zM551.7 305.7l2.5 4.2h-5.0zM542.1 311.2l-2.5 -4.2h5.0zM491.5 305.5l2.5 4.2h-5.0zM484.4 311.4l-2.5 -4.2h5.0zM523.8 311.0l-2.5 -4.2h5.0zM513.8 306.0l2.5 4.2h-5.0z" fill="#fff"/>
<path d="M475.0 316.5l-2.5 -4.2h5.0zM491.0 310.7l2.5 4.2h-5.0zM477.6 314.9l-2.5 -4.2h5.0zM487.0 311.5l2.5 4.2h-5.0zM494.3 317.7l-2.5 -4.2h5.0zM472.6 313.1l2.5 4.2h-5.0z" fill="#fff"/>
<path d="M450.0 309.3l2.5 4.2h-5.0zM459.4 312.3l2.5 4.2h-5.0zM441.2 316.8l-2.5 -4.2h5.0zM453.4 309.6l2.5 4.2h-5.0zM449.9 313.0l2.5 4.2h-5.0zM441.0 310.9l2.5 4.2h-5.0zM458.0 313.6l-2.5 -4.2h5.0z" fill="#fff"/>
<path d="M614.4 292.4l2.0 3.4h-4.0zM593.3 312.6l-2.0 -3.4h4.0zM627.9 312.6l-2.0 -3.4h4.0zM594.8 301.9l-2.0 -3.4h4.0zM583.9 298.1l-2.0 -3.4h4.0zM614.1 300.3l2.0 3.4h-4.0zM590.0 308.1l2.0 3.4h-4.0zM583.8 298.9l2.0 3.4h-4.0zM606.2 298.0l-2.0 -3.4h4.0zM601.1 296.6l-2.0 -3.4h4.0zM591.0 301.8l-2.0 -3.4h4.0zM590.3 299.6l2.0 3.4h-4.0zM624.8 302.8l-2.0 -3.4h4.0zM569.0 306.0l2.0 3.4h-4.0zM566.3 303.2l2.0 3.4h-4.0zM618.1 311.7l-2.0 -3.4h4.0zM583.8 305.1l2.0 3.4h-4.0zM577.0 297.0l-2.0 -3.4h4.0z" fill="#fff"/>
<path d="M439.2 304.5l2.5 4.2h-5.0zM440.1 309.5l-2.5 -4.2h5.0zM442.3 306.1l-2.5 -4.2h5.0zM441.9 305.0l2.5 4.2h-5.0zM443.8 304.6l2.5 4.2h-5.0zM445.4 304.6l2.5 4.2h-5.0zM446.7 306.4l2.5 4.2h-5.0zM446.9 308.1l2.5 4.2h-5.0zM447.9 306.3l-2.5 -4.2h5.0zM449.5 307.3l-2.5 -4.2h5.0zM450.2 302.6l2.5 4.2h-5.0zM452.0 303.1l2.5 4.2h-5.0zM454.8 303.3l2.5 4.2h-5.0zM455.0 310.0l-2.5 -4.2h5.0zM456.8 308.1l-2.5 -4.2h5.0zM457.6 309.5l-2.5 -4.2h5.0zM459.0 305.8l2.5 4.2h-5.0zM457.6 311.0l-2.5 -4.2h5.0zM462.5 310.7l-2.5 -4.2h5.0zM460.2 311.4l-2.5 -4.2h5.0zM464.3 314.7l2.5 4.2h-5.0zM463.9 315.7l-2.5 -4.2h5.0zM466.7 315.6l-2.5 -4.2h5.0zM465.5 312.3l2.5 4.2h-5.0zM468.0 313.3l2.5 4.2h-5.0zM469.3 314.0l2.5 4.2h-5.0zM471.9 315.8l-2.5 -4.2h5.0zM471.9 316.0l-2.5 -4.2h5.0zM473.3 315.0l-2.5 -4.2h5.0zM473.7 311.6l2.5 4.2h-5.0zM477.4 315.1l-2.5 -4.2h5.0zM476.7 314.9l-2.5 -4.2h5.0zM480.3 315.9l-2.5 -4.2h5.0zM478.6 314.7l-2.5 -4.2h5.0zM482.0 307.0l2.5 4.2h-5.0zM480.0 315.3l-2.5 -4.2h5.0zM484.7 315.1l-2.5 -4.2h5.0zM484.1 315.7l-2.5 -4.2h5.0zM485.2 308.9l2.5 4.2h-5.0zM487.2 308.4l2.5 4.2h-5.0zM489.0 310.0l2.5 4.2h-5.0zM489.0 314.7l-2.5 -4.2h5.0zM490.6 309.7l2.5 4.2h-5.0zM491.3 309.6l2.5 4.2h-5.0zM492.7 308.5l2.5 4.2h-5.0zM494.3 315.6l-2.5 -4.2h5.0zM496.8 308.5l2.5 4.2h-5.0zM497.1 305.7l2.5 4.2h-5.0zM500.1 310.0l-2.5 -4.2h5.0zM498.2 310.8l-2.5 -4.2h5.0zM502.5 302.9l2.5 4.2h-5.0zM500.9 305.3l-2.5 -4.2h5.0zM503.8 310.2l-2.5 -4.2h5.0zM504.3 303.2l2.5 4.2h-5.0zM507.7 304.8l-2.5 -4.2h5.0zM505.1 302.3l2.5 4.2h-5.0zM508.0 304.5l2.5 4.2h-5.0zM508.1 303.9l2.5 4.2h-5.0zM512.8 301.9l2.5 4.2h-5.0zM512.1 307.9l-2.5 -4.2h5.0zM514.9 304.5l-2.5 -4.2h5.0zM514.6 301.5l2.5 4.2h-5.0zM517.2 301.9l2.5 4.2h-5.0zM515.9 310.0l-2.5 -4.2h5.0zM519.1 302.7l2.5 4.2h-5.0zM518.5 307.0l-2.5 -4.2h5.0zM522.1 308.7l-2.5 -4.2h5.0zM522.0 306.3l-2.5 -4.2h5.0zM523.2 305.5l-2.5 -4.2h5.0zM524.6 306.8l-2.5 -4.2h5.0zM527.9 305.1l-2.5 -4.2h5.0zM525.4 308.6l-2.5 -4.2h5.0zM528.1 301.8l2.5 4.2h-5.0zM527.8 305.7l-2.5 -4.2h5.0zM530.7 303.0l2.5 4.2h-5.0zM532.4 306.6l-2.5 -4.2h5.0zM534.1 301.0l2.5 4.2h-5.0zM534.4 302.8l2.5 4.2h-5.0zM536.2 304.5l-2.5 -4.2h5.0zM535.8 299.3l2.5 4.2h-5.0zM537.7 305.0l-2.5 -4.2h5.0zM538.7 305.3l-2.5 -4.2h5.0zM542.6 299.8l2.5 4.2h-5.0zM542.6 308.0l-2.5 -4.2h5.0zM542.9 302.2l-2.5 -4.2h5.0zM544.4 298.5l2.5 4.2h-5.0zM545.5 309.4l-2.5 -4.2h5.0zM546.2 307.6l2.5 4.2h-5.0zM548.6 312.3l-2.5 -4.2h5.0zM550.4 314.0l-2.5 -4.2h5.0zM553.0 315.2l-2.5 -4.2h5.0zM550.8 313.3l-2.5 -4.2h5.0zM554.6 306.9l2.5 4.2h-5.0zM555.1 310.8l2.5 4.2h-5.0zM556.9 313.4l-2.5 -4.2h5.0zM557.8 315.9l-2.5 -4.2h5.0zM559.7 312.0l2.5 4.2h-5.0zM558.4 315.5l-2.5 -4.2h5.0zM562.7 312.8l-2.5 -4.2h5.0zM562.5 313.8l-2.5 -4.2h5.0zM565.4 310.1l2.5 4.2h-5.0zM564.3 313.2l-2.5 -4.2h5.0zM567.0 299.0l-2.5 -4.2h5.0zM567.2 298.4l-2.5 -4.2h5.0zM569.5 288.2l2.5 4.2h-5.0zM569.9 289.5l2.5 4.2h-5.0zM571.7 295.9l-2.5 -4.2h5.0zM570.6 292.4l-2.5 -4.2h5.0zM574.4 290.0l2.5 4.2h-5.0zM574.9 292.0l2.5 4.2h-5.0zM575.5 287.6l2.5 4.2h-5.0zM576.6 291.7l-2.5 -4.2h5.0zM580.5 291.0l2.5 4.2h-5.0zM579.4 288.1l2.5 4.2h-5.0zM581.8 291.1l2.5 4.2h-5.0zM581.0 294.7l-2.5 -4.2h5.0zM583.2 292.7l-2.5 -4.2h5.0zM584.7 288.3l2.5 4.2h-5.0zM586.3 290.3l2.5 4.2h-5.0zM586.7 291.2l2.5 4.2h-5.0zM589.2 294.8l-2.5 -4.2h5.0zM588.0 288.4l2.5 4.2h-5.0zM590.7 287.4l2.5 4.2h-5.0zM591.3 293.4l-2.5 -4.2h5.0zM595.1 289.7l2.5 4.2h-5.0zM593.7 287.2l2.5 4.2h-5.0zM595.1 289.4l2.5 4.2h-5.0zM597.7 293.5l-2.5 -4.2h5.0zM600.2 289.9l2.5 4.2h-5.0zM598.0 297.4l-2.5 -4.2h5.0zM602.0 292.1l2.5 4.2h-5.0zM600.9 292.6l2.5 4.2h-5.0zM603.9 295.2l2.5 4.2h-5.0zM603.8 301.5l-2.5 -4.2h5.0zM605.0 300.5l-2.5 -4.2h5.0zM606.4 300.2l-2.5 -4.2h5.0zM609.0 305.4l-2.5 -4.2h5.0zM609.0 301.9l2.5 4.2h-5.0zM612.0 301.3l-2.5 -4.2h5.0zM612.9 299.7l2.5 4.2h-5.0zM614.6 303.6l-2.5 -4.2h5.0zM613.1 305.4l-2.5 -4.2h5.0zM616.0 299.7l2.5 4.2h-5.0zM617.6 301.4l-2.5 -4.2h5.0zM619.8 302.6l-2.5 -4.2h5.0zM620.4 302.7l-2.5 -4.2h5.0zM621.4 304.3l-2.5 -4.2h5.0zM622.1 300.7l2.5 4.2h-5.0zM622.9 296.7l2.5 4.2h-5.0zM624.5 302.0l-2.5 -4.2h5.0zM626.3 304.7l-2.5 -4.2h5.0zM625.9 300.4l2.5 4.2h-5.0zM628.5 308.0l-2.5 -4.2h5.0zM629.3 309.0l-2.5 -4.2h5.0zM632.9 305.5l2.5 4.2h-5.0zM631.1 312.2l-2.5 -4.2h5.0zM634.6 312.3l-2.5 -4.2h5.0zM632.9 306.4l2.5 4.2h-5.0zM635.5 311.8l-2.5 -4.2h5.0zM636.1 308.8l-2.5 -4.2h5.0zM640.2 309.6l2.5 4.2h-5.0zM639.3 313.3l-2.5 -4.2h5.0zM642.5 306.6l2.5 4.2h-5.0zM642.0 311.3l-2.5 -4.2h5.0zM643.1 307.5l2.5 4.2h-5.0zM645.1 311.4l-2.5 -4.2h5.0zM646.6 312.2l2.5 4.2h-5.0zM645.9 313.6l-2.5 -4.2h5.0zM455.1 305.5l-2.5 -4.2h5.0zM459.9 307.6l-2.5 -4.2h5.0zM456.0 300.6l2.5 4.2h-5.0zM451.5 306.3l-2.5 -4.2h5.0zM448.8 304.4l2.5 4.2h-5.0zM450.4 303.8l2.5 4.2h-5.0zM449.0 304.3l2.5 4.2h-5.0zM458.3 302.5l2.5 4.2h-5.0zM440.5 303.5l2.5 4.2h-5.0zM457.4 305.4l2.5 4.2h-5.0zM467.8 293.9l2.5 4.2h-5.0zM467.8 305.4l-2.5 -4.2h5.0zM470.7 295.4l-2.5 -4.2h5.0zM470.2 298.8l-2.5 -4.2h5.0zM465.0 300.2l2.5 4.2h-5.0zM463.7 291.4l2.5 4.2h-5.0zM497.0 307.9l-2.5 -4.2h5.0zM495.0 308.8l2.5 4.2h-5.0zM475.0 312.0l-2.5 -4.2h5.0zM476.2 311.4l-2.5 -4.2h5.0zM489.6 305.1l2.5 4.2h-5.0zM487.5 307.9l2.5 4.2h-5.0zM476.0 307.2l2.5 4.2h-5.0zM493.9 301.4l2.5 4.2h-5.0zM495.7 310.6l-2.5 -4.2h5.0zM482.9 307.7l2.5 4.2h-5.0zM497.7 309.4l-2.5 -4.2h5.0zM487.8 304.6l2.5 4.2h-5.0zM484.8 301.4l2.5 4.2h-5.0zM493.9 309.7l-2.5 -4.2h5.0zM501.1 301.7l-2.5 -4.2h5.0zM513.7 297.5l2.5 4.2h-5.0zM512.1 297.6l2.5 4.2h-5.0zM539.9 301.4l2.5 4.2h-5.0zM537.9 301.0l2.5 4.2h-5.0zM531.1 305.5l-2.5 -4.2h5.0zM529.5 304.4l-2.5 -4.2h5.0zM535.9 296.0l2.5 4.2h-5.0zM499.7 305.6l-2.5 -4.2h5.0zM511.7 297.3l2.5 4.2h-5.0zM512.1 301.5l2.5 4.2h-5.0zM532.6 301.7l-2.5 -4.2h5.0zM527.3 298.0l2.5 4.2h-5.0zM528.7 299.5l2.5 4.2h-5.0zM522.3 296.6l2.5 4.2h-5.0zM540.5 302.8l-2.5 -4.2h5.0zM516.4 306.7l-2.5 -4.2h5.0zM502.6 299.5l2.5 4.2h-5.0zM499.2 300.4l2.5 4.2h-5.0zM543.0 301.0l2.5 4.2h-5.0zM498.5 302.0l2.5 4.2h-5.0zM518.5 299.1l2.5 4.2h-5.0zM537.1 299.5l-2.5 -4.2h5.0zM529.0 300.4l2.5 4.2h-5.0zM500.5 296.3l2.5 4.2h-5.0zM537.4 302.1l2.5 4.2h-5.0zM520.8 304.9l-2.5 -4.2h5.0zM539.5 303.0l-2.5 -4.2h5.0zM523.7 302.1l2.5 4.2h-5.0zM510.2 301.0l-2.5 -4.2h5.0zM565.7 300.5l2.5 4.2h-5.0zM550.7 303.5l-2.5 -4.2h5.0zM548.3 298.0l2.5 4.2h-5.0zM561.7 299.8l2.5 4.2h-5.0zM558.6 303.0l-2.5 -4.2h5.0zM555.9 298.9l2.5 4.2h-5.0zM560.7 297.8l2.5 4.2h-5.0zM554.0 300.9l2.5 4.2h-5.0zM561.0 302.7l-2.5 -4.2h5.0zM560.6 297.5l2.5 4.2h-5.0zM573.7 288.2l-2.5 -4.2h5.0zM569.2 287.5l2.5 4.2h-5.0zM577.8 293.2l-2.5 -4.2h5.0zM578.8 295.4l-2.5 -4.2h5.0zM600.3 292.9l-2.5 -4.2h5.0zM571.8 289.7l-2.5 -4.2h5.0zM567.3 284.2l2.5 4.2h-5.0zM594.9 295.9l-2.5 -4.2h5.0zM594.3 289.2l-2.5 -4.2h5.0zM597.6 294.0l-2.5 -4.2h5.0zM577.1 286.5l2.5 4.2h-5.0zM570.6 283.1l2.5 4.2h-5.0zM585.4 288.1l2.5 4.2h-5.0zM619.8 297.4l2.5 4.2h-5.0zM626.2 297.6l2.5 4.2h-5.0zM607.4 298.1l-2.5 -4.2h5.0zM612.2 295.1l2.5 4.2h-5.0zM627.9 294.9l2.5 4.2h-5.0zM621.9 298.2l-2.5 -4.2h5.0zM621.2 301.1l-2.5 -4.2h5.0zM621.6 294.6l2.5 4.2h-5.0zM648.0 297.1l2.5 4.2h-5.0zM644.0 300.4l2.5 4.2h-5.0zM540.0 218.9l2.5 4.2h-5.0zM544.0 223.8l2.5 4.2h-5.0zM536.5 229.6l2.5 4.2h-5.0zM542.6 233.3l-2.5 -4.2h5.0zM536.2 226.7l2.5 4.2h-5.0zM542.8 229.4l-2.5 -4.2h5.0zM537.4 233.4l-2.5 -4.2h5.0zM538.2 225.2l2.5 4.2h-5.0zM529.5 268.0l2.5 4.2h-5.0zM532.9 266.6l2.5 4.2h-5.0zM533.6 266.1l2.5 4.2h-5.0zM538.9 258.3l2.5 4.2h-5.0zM542.0 256.7l2.5 4.2h-5.0zM544.1 254.3l2.5 4.2h-5.0zM548.9 251.8l2.5 4.2h-5.0zM551.6 246.3l2.5 4.2h-5.0zM554.0 265.3l-2.5 -4.2h5.0zM551.8 272.7l-2.5 -4.2h5.0zM548.4 267.9l-2.5 -4.2h5.0zM550.0 265.7l-2.5 -4.2h5.0zM547.5 272.7l-2.5 -4.2h5.0zM554.3 273.6l-2.5 -4.2h5.0zM559.0 270.4l-2.5 -4.2h5.0zM560.2 269.8l-2.5 -4.2h5.0zM562.9 272.7l-2.5 -4.2h5.0zM563.8 275.9l-2.5 -4.2h5.0zM560.5 274.7l-2.5 -4.2h5.0zM577.2 262.0l-2.5 -4.2h5.0zM576.0 264.3l-2.5 -4.2h5.0zM574.1 263.1l-2.5 -4.2h5.0zM551.8 282.6l-2.5 -4.2h5.0zM546.7 278.9l-2.5 -4.2h5.0zM552.6 288.8l-2.5 -4.2h5.0zM562.7 289.8l-2.5 -4.2h5.0zM567.6 292.6l-2.5 -4.2h5.0zM568.8 291.9l-2.5 -4.2h5.0z" fill="#3c2896" stroke="#251870" stroke-width="0.35"/>
<path d="M571.6 289.0l-2.5 -4.2h5.0zM581.3 288.5l2.5 4.2h-5.0zM598.5 295.1l-2.5 -4.2h5.0zM588.5 289.1l-2.5 -4.2h5.0zM585.5 291.6l2.5 4.2h-5.0zM567.0 240.6l-2.5 -4.2h5.0zM568.0 252.7l-2.5 -4.2h5.0zM579.5 251.1l-2.5 -4.2h5.0zM581.5 255.3l-2.5 -4.2h5.0zM577.8 251.3l-2.5 -4.2h5.0zM576.9 252.1l-2.5 -4.2h5.0zM527.0 270.3l2.5 4.2h-5.0zM537.0 263.8l2.5 4.2h-5.0zM545.5 251.9l2.5 4.2h-5.0zM572.9 269.8l-2.5 -4.2h5.0zM575.3 270.0l-2.5 -4.2h5.0zM573.0 270.9l-2.5 -4.2h5.0zM578.1 275.5l-2.5 -4.2h5.0zM577.9 276.1l-2.5 -4.2h5.0zM573.5 275.4l-2.5 -4.2h5.0zM572.4 269.1l-2.5 -4.2h5.0zM587.1 281.7l-2.5 -4.2h5.0zM582.9 282.4l-2.5 -4.2h5.0zM588.5 281.2l-2.5 -4.2h5.0zM584.5 280.3l-2.5 -4.2h5.0zM590.1 280.1l-2.5 -4.2h5.0zM598.6 275.7l-2.5 -4.2h5.0zM601.5 271.3l-2.5 -4.2h5.0zM600.9 271.0l-2.5 -4.2h5.0zM552.5 282.9l-2.5 -4.2h5.0zM551.6 284.5l-2.5 -4.2h5.0zM555.2 290.8l-2.5 -4.2h5.0zM545.8 285.6l-2.5 -4.2h5.0zM551.2 277.4l-2.5 -4.2h5.0zM568.3 291.5l-2.5 -4.2h5.0zM558.7 294.7l-2.5 -4.2h5.0zM570.6 288.4l-2.5 -4.2h5.0zM573.8 290.6l-2.5 -4.2h5.0z" fill="#1cbde6" stroke="#107090" stroke-width="0.35"/>
<path d="M548.6 203.4l-2.5 -4.2h5.0zM538.5 222.7l2.5 4.2h-5.0zM535.7 261.5l2.5 4.2h-5.0zM532.5 271.4l2.5 4.2h-5.0zM568.3 262.0l-2.5 -4.2h5.0zM575.8 272.0l-2.5 -4.2h5.0zM571.3 277.3l-2.5 -4.2h5.0zM567.5 277.1l-2.5 -4.2h5.0zM576.8 268.9l-2.5 -4.2h5.0zM576.3 271.9l-2.5 -4.2h5.0zM552.5 278.0l-2.5 -4.2h5.0zM558.5 289.2l-2.5 -4.2h5.0zM552.3 277.6l-2.5 -4.2h5.0zM558.7 278.6l-2.5 -4.2h5.0zM556.3 289.9l-2.5 -4.2h5.0z" fill="#1ee060" stroke="#108a40" stroke-width="0.35"/>
<path d="M532.0 222.7l2.5 4.2h-5.0zM549.0 213.3l-2.5 -4.2h5.0zM545.0 207.4l2.5 4.2h-5.0zM552.5 227.5l-2.5 -4.2h5.0zM568.6 243.9l-2.5 -4.2h5.0zM565.2 243.3l-2.5 -4.2h5.0zM565.0 233.6l2.5 4.2h-5.0zM566.0 247.2l-2.5 -4.2h5.0z" fill="#ffb400" stroke="#9a7000" stroke-width="0.35"/>
<path d="M535.0 209.0l2.5 4.2h-5.0zM533.0 214.5l2.5 4.2h-5.0zM548.0 219.8l-2.5 -4.2h5.0zM542.0 212.3l2.5 4.2h-5.0zM546.0 217.7l-2.5 -4.2h5.0zM548.9 241.2l-2.5 -4.2h5.0zM548.4 239.8l-2.5 -4.2h5.0zM552.8 243.1l-2.5 -4.2h5.0zM555.6 242.8l-2.5 -4.2h5.0zM551.8 241.4l-2.5 -4.2h5.0zM551.6 240.8l-2.5 -4.2h5.0zM552.0 239.8l-2.5 -4.2h5.0zM562.8 243.5l-2.5 -4.2h5.0zM562.4 243.5l-2.5 -4.2h5.0z" fill="#f5401a" stroke="#8a2a10" stroke-width="0.35"/>
<path d="M439.0 319.6L459.2 319.6L459.8 302.5L460.4 319.6L488.5 319.6L489.0 310.5L489.5 319.6L522.4 319.6L523.0 313.5L523.6 319.6L648.0 319.6" fill="none" stroke="#2b2bff" stroke-width="0.8" stroke-linejoin="round"/>
<path d="M623.4 319.0L624.0 245.0L624.6 319.0M628.8 319.0L629.4 259.0L630.0 319.0" fill="none" stroke="#2b2bff" stroke-width="1.1"/>
<rect x="439.6" y="192.1" width="24.099999999999966" height="68.29999999999998" fill="#f3f3f3" stroke="#9a9a9a" stroke-width="0.9"/>
<rect x="444.2" y="207.40" width="5.800000000000011" height="9.08" fill="#f5401a"/>
<rect x="444.2" y="216.28" width="5.800000000000011" height="9.08" fill="#ffb400"/>
<rect x="444.2" y="225.16" width="5.800000000000011" height="9.08" fill="#00e060"/>
<rect x="444.2" y="234.04" width="5.800000000000011" height="9.08" fill="#00bce6"/>
<rect x="444.2" y="242.92" width="5.800000000000011" height="9.08" fill="#3c2896"/>
<line x1="450.0" y1="207.40" x2="451.2" y2="207.40" stroke="#000" stroke-width="0.5"/>
<text x="451.8" y="209.78" font-size="6.6" fill="#111" >1</text>
<line x1="450.0" y1="216.28" x2="451.2" y2="216.28" stroke="#000" stroke-width="0.5"/>
<text x="451.8" y="218.66" font-size="6.6" fill="#111" >0.8</text>
<line x1="450.0" y1="225.16" x2="451.2" y2="225.16" stroke="#000" stroke-width="0.5"/>
<text x="451.8" y="227.54" font-size="6.6" fill="#111" >0.6</text>
<line x1="450.0" y1="234.04" x2="451.2" y2="234.04" stroke="#000" stroke-width="0.5"/>
<text x="451.8" y="236.42" font-size="6.6" fill="#111" >0.4</text>
<line x1="450.0" y1="242.92" x2="451.2" y2="242.92" stroke="#000" stroke-width="0.5"/>
<text x="451.8" y="245.30" font-size="6.6" fill="#111" >0.2</text>
<line x1="450.0" y1="251.80" x2="451.2" y2="251.80" stroke="#000" stroke-width="0.5"/>
<text x="451.8" y="254.18" font-size="6.6" fill="#111" >0</text>
<text x="441.8" y="200.7" font-size="6.8" fill="#222" textLength="16.4" lengthAdjust="spacingAndGlyphs">LD (r<tspan font-size="4.5" dy="-2.5">2</tspan><tspan dy="2.5">)</tspan></text>
<path d="M537.9 211.0l2.9 5.7l-2.9 5.7l-2.9 -5.7z" fill="#000"/>
<path d="M537.9 214.1l1.2 2.6l-1.2 2.6l-1.2 -2.6z" fill="#a030d0"/>
<text x="474.3" y="221.2" font-size="11.5" text-anchor="start" fill="#8a3fb0" >rs6533181</text>
<text x="578.6" y="205.2" font-size="11.5" text-anchor="start" fill="#8a3fb0" >cg11878490</text>
<line x1="435.60" y1="321.10" x2="438.60" y2="321.10" stroke="#000" stroke-width="0.9" />
<text x="435.4" y="325.7" font-size="11.3" text-anchor="end" fill="#000" >0</text>
<line x1="435.60" y1="293.75" x2="438.60" y2="293.75" stroke="#000" stroke-width="0.9" />
<text x="435.4" y="298.4" font-size="11.3" text-anchor="end" fill="#000" >5</text>
<line x1="435.60" y1="266.40" x2="438.60" y2="266.40" stroke="#000" stroke-width="0.9" />
<text x="435.4" y="271.0" font-size="11.3" text-anchor="end" fill="#000" >10</text>
<line x1="435.60" y1="239.05" x2="438.60" y2="239.05" stroke="#000" stroke-width="0.9" />
<text x="435.4" y="243.7" font-size="11.3" text-anchor="end" fill="#000" >15</text>
<line x1="435.60" y1="211.70" x2="438.60" y2="211.70" stroke="#000" stroke-width="0.9" />
<text x="435.4" y="216.3" font-size="11.3" text-anchor="end" fill="#000" >20</text>
<line x1="646.50" y1="315.80" x2="649.00" y2="315.80" stroke="#000" stroke-width="0.9" />
<text x="651.4" y="318.9" font-size="11.0" text-anchor="start" fill="#2440ff" >0</text>
<line x1="646.50" y1="291.22" x2="649.00" y2="291.22" stroke="#000" stroke-width="0.9" />
<text x="651.4" y="294.3" font-size="11.0" text-anchor="start" fill="#2440ff" >20</text>
<line x1="646.50" y1="266.64" x2="649.00" y2="266.64" stroke="#000" stroke-width="0.9" />
<text x="651.4" y="269.7" font-size="11.0" text-anchor="start" fill="#2440ff" >40</text>
<line x1="646.50" y1="242.06" x2="649.00" y2="242.06" stroke="#000" stroke-width="0.9" />
<text x="651.4" y="245.2" font-size="11.0" text-anchor="start" fill="#2440ff" >60</text>
<line x1="646.50" y1="217.48" x2="649.00" y2="217.48" stroke="#000" stroke-width="0.9" />
<text x="651.4" y="220.6" font-size="11.0" text-anchor="start" fill="#2440ff" >80</text>
<line x1="646.50" y1="192.90" x2="649.00" y2="192.90" stroke="#000" stroke-width="0.9" />
<text x="651.4" y="196.0" font-size="11.0" text-anchor="start" fill="#2440ff" >100</text>
<rect x="438.6" y="188.6" width="210.39999999999998" height="133.00000000000003" fill="none" stroke="#000" stroke-width="1.1"/>
<line x1="480.40" y1="321.60" x2="480.40" y2="324.10" stroke="#000" stroke-width="0.8" />
<line x1="522.30" y1="321.60" x2="522.30" y2="324.10" stroke="#000" stroke-width="0.8" />
<line x1="564.30" y1="321.60" x2="564.30" y2="324.10" stroke="#000" stroke-width="0.8" />
<line x1="606.30" y1="321.60" x2="606.30" y2="324.10" stroke="#000" stroke-width="0.8" />
<text transform="translate(418.0,259) rotate(-90)" font-size="11.8" text-anchor="middle">-log<tspan font-size="8.8" dy="1.5">10</tspan><tspan dy="-1.5">(p-value)</tspan></text>
<text transform="translate(675.2,261) rotate(90)" font-size="11.7" text-anchor="middle">Recombination rate (cMMb)</text>
<text x="479.6" y="338.2" font-size="11.5" text-anchor="start" fill="#000" >SNP</text>
<defs><linearGradient id="ag332" x1="0" x2="1"><stop offset="0" stop-color="#1f5e9e"/><stop offset="1" stop-color="#1fa3cf"/></linearGradient></defs>
<path d="M510.3 330.4h17v-2.1l7.3 4.6l-7.3 4.6v-2.1h-17z" fill="url(#ag332)"/>
<text x="543.4" y="338.4" font-size="11.5" text-anchor="start" fill="#000" >Kidney TET2 eQTL</text>
<path d="M623.2 470.0L623.8 398.3L624.4 470.0M628.0 470.0L628.6 413.5L629.2 470.0" fill="none" stroke="#2b2bff" stroke-width="1.1"/>
<path d="M439.0 475.8L439.0 468.2L441.5 468.6L444.0 469.4L446.5 467.7L449.0 469.2L451.5 470.2L454.0 470.4L456.5 468.0L459.0 469.8L461.5 469.6L464.0 469.1L466.5 470.6L469.0 468.8L471.5 468.4L474.0 470.0L476.5 468.7L479.0 467.3L481.5 467.2L484.0 467.7L486.5 465.9L489.0 467.8L491.5 468.1L494.0 466.8L496.5 468.1L499.0 468.3L501.5 466.7L504.0 467.0L506.5 464.8L509.0 464.4L511.5 467.6L514.0 464.9L516.5 464.5L519.0 466.8L521.5 466.0L524.0 463.4L526.5 463.8L529.0 463.2L531.5 462.9L534.0 461.5L536.5 462.9L539.0 461.7L541.5 461.5L544.0 460.3L546.5 460.2L549.0 460.3L551.5 463.8L554.0 463.8L556.5 463.6L559.0 462.4L561.5 462.4L564.0 461.9L566.5 462.2L569.0 460.8L571.5 461.1L574.0 460.4L576.5 460.1L579.0 461.5L581.5 460.6L584.0 460.4L586.5 459.8L589.0 460.2L591.5 461.1L594.0 459.6L596.5 459.0L599.0 460.7L601.5 460.6L604.0 462.2L606.5 459.6L609.0 461.9L611.5 458.4L614.0 459.9L616.5 459.1L619.0 458.1L621.5 461.3L624.0 462.7L626.5 462.8L629.0 466.0L631.5 468.1L634.0 467.6L636.5 469.5L639.0 473.0L641.5 474.2L644.0 473.2L646.5 473.0L648.5 475.8z" fill="#35278e"/>
<path d="M598.8 470.0l-2.3 -3.9h4.6zM591.2 468.8l2.3 3.9h-4.6zM540.7 474.4l-2.3 -3.9h4.6zM539.3 469.0l-2.3 -3.9h4.6zM552.3 471.4l-2.3 -3.9h4.6zM557.1 472.2l-2.3 -3.9h4.6zM440.8 469.8l2.3 3.9h-4.6zM623.0 468.5l-2.3 -3.9h4.6zM502.6 471.9l-2.3 -3.9h4.6zM441.7 474.7l-2.3 -3.9h4.6zM439.9 469.5l2.3 3.9h-4.6zM481.4 474.2l-2.3 -3.9h4.6zM504.7 468.7l2.3 3.9h-4.6zM553.0 470.2l2.3 3.9h-4.6zM537.6 473.1l-2.3 -3.9h4.6zM444.7 470.7l2.3 3.9h-4.6zM543.6 462.6l2.3 3.9h-4.6zM546.2 468.5l2.3 3.9h-4.6zM464.1 470.7l2.3 3.9h-4.6zM493.8 472.1l-2.3 -3.9h4.6zM611.4 467.0l-2.3 -3.9h4.6zM437.9 469.4l2.3 3.9h-4.6zM554.6 470.2l-2.3 -3.9h4.6zM441.5 474.3l-2.3 -3.9h4.6zM523.3 464.7l2.3 3.9h-4.6zM446.1 472.9l-2.3 -3.9h4.6zM561.1 469.4l2.3 3.9h-4.6zM514.4 466.6l2.3 3.9h-4.6zM561.8 472.9l-2.3 -3.9h4.6zM595.8 466.1l-2.3 -3.9h4.6zM577.4 468.0l2.3 3.9h-4.6zM562.5 468.1l2.3 3.9h-4.6zM559.7 466.8l2.3 3.9h-4.6zM468.7 470.3l2.3 3.9h-4.6zM448.0 470.3l2.3 3.9h-4.6zM494.8 468.2l2.3 3.9h-4.6zM482.6 469.3l2.3 3.9h-4.6zM619.0 468.5l2.3 3.9h-4.6zM470.0 470.4l2.3 3.9h-4.6zM625.5 470.6l2.3 3.9h-4.6zM506.5 471.3l-2.3 -3.9h4.6zM611.3 470.2l-2.3 -3.9h4.6zM513.8 466.0l2.3 3.9h-4.6zM591.0 473.3l-2.3 -3.9h4.6zM534.7 464.2l2.3 3.9h-4.6zM515.9 471.8l-2.3 -3.9h4.6zM553.6 465.6l2.3 3.9h-4.6zM538.4 472.5l-2.3 -3.9h4.6zM637.6 474.6l-2.3 -3.9h4.6zM521.1 468.2l2.3 3.9h-4.6zM602.5 465.8l-2.3 -3.9h4.6zM457.3 470.0l2.3 3.9h-4.6zM471.3 470.1l2.3 3.9h-4.6zM518.6 474.6l-2.3 -3.9h4.6zM609.1 472.7l-2.3 -3.9h4.6zM521.4 468.2l2.3 3.9h-4.6zM631.1 473.3l-2.3 -3.9h4.6zM535.6 469.1l-2.3 -3.9h4.6zM556.1 469.3l2.3 3.9h-4.6zM625.3 468.9l-2.3 -3.9h4.6zM571.6 467.2l2.3 3.9h-4.6zM487.5 469.5l2.3 3.9h-4.6zM492.6 474.5l-2.3 -3.9h4.6zM576.6 467.0l-2.3 -3.9h4.6zM475.3 470.4l2.3 3.9h-4.6zM546.6 467.8l-2.3 -3.9h4.6zM589.6 468.5l-2.3 -3.9h4.6zM494.5 470.4l2.3 3.9h-4.6zM447.5 474.3l-2.3 -3.9h4.6zM566.6 464.2l2.3 3.9h-4.6zM502.0 474.0l-2.3 -3.9h4.6zM636.7 470.7l2.3 3.9h-4.6zM447.2 473.4l-2.3 -3.9h4.6zM500.0 470.4l2.3 3.9h-4.6zM530.1 470.3l-2.3 -3.9h4.6zM504.0 469.9l2.3 3.9h-4.6zM618.1 464.4l-2.3 -3.9h4.6zM517.6 466.3l2.3 3.9h-4.6zM509.1 469.6l2.3 3.9h-4.6zM626.2 470.4l-2.3 -3.9h4.6zM438.0 470.6l2.3 3.9h-4.6zM525.8 470.2l-2.3 -3.9h4.6zM553.8 473.5l-2.3 -3.9h4.6zM616.9 467.8l2.3 3.9h-4.6zM613.7 463.4l2.3 3.9h-4.6zM548.3 462.5l2.3 3.9h-4.6zM490.5 470.3l2.3 3.9h-4.6zM520.4 469.1l2.3 3.9h-4.6zM591.3 468.8l2.3 3.9h-4.6zM527.2 467.8l2.3 3.9h-4.6zM567.6 471.7l-2.3 -3.9h4.6zM607.7 468.5l-2.3 -3.9h4.6zM494.9 468.9l2.3 3.9h-4.6zM636.0 470.6l2.3 3.9h-4.6zM505.0 474.1l-2.3 -3.9h4.6zM625.4 473.4l-2.3 -3.9h4.6zM509.1 472.2l-2.3 -3.9h4.6zM610.7 470.7l-2.3 -3.9h4.6zM526.9 473.3l-2.3 -3.9h4.6zM624.8 473.3l-2.3 -3.9h4.6zM444.8 474.6l-2.3 -3.9h4.6zM548.8 463.1l2.3 3.9h-4.6zM555.3 464.7l2.3 3.9h-4.6zM622.4 469.5l2.3 3.9h-4.6zM504.4 472.5l-2.3 -3.9h4.6zM442.6 469.7l2.3 3.9h-4.6zM544.5 469.8l2.3 3.9h-4.6zM616.1 467.8l2.3 3.9h-4.6zM487.9 469.8l2.3 3.9h-4.6zM479.7 469.2l2.3 3.9h-4.6zM462.9 474.6l-2.3 -3.9h4.6zM488.0 473.7l-2.3 -3.9h4.6zM543.2 464.5l2.3 3.9h-4.6zM584.2 467.9l2.3 3.9h-4.6zM494.3 472.2l-2.3 -3.9h4.6zM607.0 468.6l-2.3 -3.9h4.6zM625.7 468.2l-2.3 -3.9h4.6zM585.7 469.4l-2.3 -3.9h4.6zM556.6 474.0l-2.3 -3.9h4.6zM462.1 474.6l-2.3 -3.9h4.6zM500.0 473.8l-2.3 -3.9h4.6zM560.8 468.6l-2.3 -3.9h4.6zM542.9 469.9l2.3 3.9h-4.6zM440.3 470.5l2.3 3.9h-4.6zM487.3 472.3l-2.3 -3.9h4.6zM527.2 466.0l2.3 3.9h-4.6zM557.5 465.3l2.3 3.9h-4.6zM566.1 464.0l2.3 3.9h-4.6zM540.6 469.0l2.3 3.9h-4.6zM490.3 473.7l-2.3 -3.9h4.6zM457.7 470.7l2.3 3.9h-4.6zM574.7 465.0l2.3 3.9h-4.6zM486.8 473.8l-2.3 -3.9h4.6zM477.9 474.6l-2.3 -3.9h4.6zM552.4 470.4l-2.3 -3.9h4.6zM513.6 472.8l-2.3 -3.9h4.6zM567.9 465.1l2.3 3.9h-4.6zM498.1 474.1l-2.3 -3.9h4.6zM567.0 465.2l2.3 3.9h-4.6zM560.5 470.3l2.3 3.9h-4.6zM513.3 467.3l2.3 3.9h-4.6zM525.6 474.2l-2.3 -3.9h4.6zM590.6 470.6l2.3 3.9h-4.6zM514.5 469.2l2.3 3.9h-4.6zM517.0 467.2l2.3 3.9h-4.6zM623.7 470.4l-2.3 -3.9h4.6zM490.3 470.5l2.3 3.9h-4.6zM456.4 474.7l-2.3 -3.9h4.6zM469.9 470.3l2.3 3.9h-4.6zM564.9 468.7l-2.3 -3.9h4.6zM443.2 470.6l2.3 3.9h-4.6zM477.3 474.0l-2.3 -3.9h4.6zM487.9 470.0l2.3 3.9h-4.6zM505.0 473.9l-2.3 -3.9h4.6zM594.4 473.0l-2.3 -3.9h4.6zM630.7 473.7l-2.3 -3.9h4.6zM497.8 473.4l-2.3 -3.9h4.6zM597.3 473.2l-2.3 -3.9h4.6zM450.0 470.5l2.3 3.9h-4.6zM567.6 472.5l-2.3 -3.9h4.6zM534.6 467.3l2.3 3.9h-4.6zM538.6 465.2l2.3 3.9h-4.6zM487.1 473.8l-2.3 -3.9h4.6zM544.6 465.0l2.3 3.9h-4.6zM506.7 468.8l2.3 3.9h-4.6zM549.1 470.4l-2.3 -3.9h4.6zM455.6 474.7l-2.3 -3.9h4.6zM522.0 471.6l-2.3 -3.9h4.6zM569.3 469.0l2.3 3.9h-4.6zM471.3 474.4l-2.3 -3.9h4.6zM564.3 469.7l-2.3 -3.9h4.6zM586.2 470.5l2.3 3.9h-4.6zM616.8 465.2l-2.3 -3.9h4.6zM566.0 470.4l-2.3 -3.9h4.6zM595.1 466.8l-2.3 -3.9h4.6zM439.7 474.0l-2.3 -3.9h4.6zM634.2 470.0l2.3 3.9h-4.6zM580.4 469.3l2.3 3.9h-4.6zM571.0 466.5l2.3 3.9h-4.6zM488.5 473.8l-2.3 -3.9h4.6zM586.1 467.8l-2.3 -3.9h4.6zM476.3 474.5l-2.3 -3.9h4.6zM546.7 465.2l-2.3 -3.9h4.6zM557.2 467.9l2.3 3.9h-4.6zM528.4 464.4l2.3 3.9h-4.6zM545.3 469.2l-2.3 -3.9h4.6zM602.0 472.1l-2.3 -3.9h4.6zM504.4 474.2l-2.3 -3.9h4.6zM611.3 462.1l2.3 3.9h-4.6zM499.1 473.5l-2.3 -3.9h4.6zM620.7 473.9l-2.3 -3.9h4.6zM443.3 470.6l2.3 3.9h-4.6zM483.3 472.8l-2.3 -3.9h4.6zM620.6 469.4l-2.3 -3.9h4.6zM588.6 464.2l2.3 3.9h-4.6zM588.7 467.3l-2.3 -3.9h4.6zM438.0 470.8l2.3 3.9h-4.6zM600.2 472.8l-2.3 -3.9h4.6zM602.9 469.5l-2.3 -3.9h4.6zM446.5 469.4l2.3 3.9h-4.6zM456.5 469.2l2.3 3.9h-4.6zM438.2 470.5l2.3 3.9h-4.6zM623.4 471.3l-2.3 -3.9h4.6zM555.9 473.3l-2.3 -3.9h4.6zM486.6 472.0l-2.3 -3.9h4.6zM536.9 464.4l2.3 3.9h-4.6zM531.8 466.1l2.3 3.9h-4.6zM477.1 473.9l-2.3 -3.9h4.6zM487.4 472.2l-2.3 -3.9h4.6zM506.6 473.9l-2.3 -3.9h4.6zM549.0 469.4l-2.3 -3.9h4.6zM634.3 470.2l2.3 3.9h-4.6zM482.7 472.8l-2.3 -3.9h4.6zM636.8 474.5l-2.3 -3.9h4.6zM628.4 467.8l2.3 3.9h-4.6zM447.5 469.5l2.3 3.9h-4.6zM446.9 473.0l-2.3 -3.9h4.6zM635.5 474.6l-2.3 -3.9h4.6zM523.2 471.7l-2.3 -3.9h4.6zM479.0 468.7l2.3 3.9h-4.6zM623.6 468.3l-2.3 -3.9h4.6zM497.9 470.3l2.3 3.9h-4.6zM536.0 468.6l2.3 3.9h-4.6zM586.5 462.0l2.3 3.9h-4.6zM505.8 470.8l-2.3 -3.9h4.6zM512.6 469.5l2.3 3.9h-4.6zM604.8 469.3l-2.3 -3.9h4.6zM530.7 470.1l2.3 3.9h-4.6zM521.5 469.1l2.3 3.9h-4.6zM512.9 474.4l-2.3 -3.9h4.6zM513.7 467.2l2.3 3.9h-4.6zM580.5 469.9l-2.3 -3.9h4.6zM617.6 467.6l2.3 3.9h-4.6zM595.4 468.1l2.3 3.9h-4.6zM476.4 474.5l-2.3 -3.9h4.6zM637.7 470.8l2.3 3.9h-4.6zM488.6 473.8l-2.3 -3.9h4.6zM492.5 473.2l-2.3 -3.9h4.6zM440.8 470.6l2.3 3.9h-4.6zM562.9 463.5l2.3 3.9h-4.6zM542.4 466.6l2.3 3.9h-4.6zM485.6 470.7l2.3 3.9h-4.6zM524.3 473.3l-2.3 -3.9h4.6zM609.7 472.1l-2.3 -3.9h4.6zM460.6 474.6l-2.3 -3.9h4.6zM476.0 474.7l-2.3 -3.9h4.6zM572.2 466.6l2.3 3.9h-4.6zM568.8 469.6l-2.3 -3.9h4.6zM620.1 470.9l-2.3 -3.9h4.6zM532.1 466.3l2.3 3.9h-4.6zM590.1 468.3l-2.3 -3.9h4.6zM445.9 469.6l2.3 3.9h-4.6zM585.0 462.0l2.3 3.9h-4.6zM469.2 470.2l2.3 3.9h-4.6zM562.4 470.8l-2.3 -3.9h4.6zM509.6 472.8l-2.3 -3.9h4.6zM537.3 468.2l-2.3 -3.9h4.6zM447.4 473.6l-2.3 -3.9h4.6zM599.4 470.0l-2.3 -3.9h4.6zM489.9 474.7l-2.3 -3.9h4.6zM585.9 470.7l2.3 3.9h-4.6zM442.4 470.8l2.3 3.9h-4.6zM538.6 471.7l-2.3 -3.9h4.6zM545.1 462.8l2.3 3.9h-4.6zM619.9 460.8l2.3 3.9h-4.6zM569.2 469.1l2.3 3.9h-4.6zM563.3 472.3l-2.3 -3.9h4.6zM518.9 468.9l2.3 3.9h-4.6zM502.1 468.9l2.3 3.9h-4.6zM516.5 474.5l-2.3 -3.9h4.6zM510.6 474.6l-2.3 -3.9h4.6zM596.7 470.1l2.3 3.9h-4.6zM528.7 466.0l2.3 3.9h-4.6zM503.0 468.9l2.3 3.9h-4.6zM479.6 468.4l2.3 3.9h-4.6zM637.4 470.7l2.3 3.9h-4.6zM445.1 474.5l-2.3 -3.9h4.6zM455.6 473.6l-2.3 -3.9h4.6zM449.5 470.3l2.3 3.9h-4.6zM581.3 467.0l-2.3 -3.9h4.6zM469.7 470.3l2.3 3.9h-4.6zM595.8 461.6l2.3 3.9h-4.6zM571.4 468.0l2.3 3.9h-4.6zM596.5 467.2l-2.3 -3.9h4.6zM564.9 474.4l-2.3 -3.9h4.6zM548.0 471.0l-2.3 -3.9h4.6zM625.8 466.1l2.3 3.9h-4.6zM446.1 472.6l-2.3 -3.9h4.6zM580.9 473.5l-2.3 -3.9h4.6zM630.4 469.7l2.3 3.9h-4.6zM490.5 470.2l2.3 3.9h-4.6zM560.2 470.6l-2.3 -3.9h4.6zM505.1 472.4l-2.3 -3.9h4.6zM446.0 474.0l-2.3 -3.9h4.6zM546.5 466.1l-2.3 -3.9h4.6zM561.2 464.0l2.3 3.9h-4.6zM490.0 469.9l2.3 3.9h-4.6zM542.7 470.9l-2.3 -3.9h4.6zM574.8 473.3l-2.3 -3.9h4.6zM566.2 468.0l-2.3 -3.9h4.6zM538.1 467.5l-2.3 -3.9h4.6zM522.5 468.4l2.3 3.9h-4.6zM449.1 474.7l-2.3 -3.9h4.6zM598.5 464.1l2.3 3.9h-4.6zM571.6 467.5l-2.3 -3.9h4.6z" fill="none" stroke="#2a1f74" stroke-width="0.4"/>
<path d="M609.5 472.6h1v1h-1zM441.6 471.5h1v1h-1zM529.9 470.2h1v1h-1zM533.9 474.3h1v1h-1zM440.6 468.2h1v1h-1zM560.9 472.1h1v1h-1zM486.1 469.9h1v1h-1zM607.8 470.6h1v1h-1zM482.6 472.6h1v1h-1zM616.1 472.0h1v1h-1zM576.1 474.6h1v1h-1zM560.5 468.8h1v1h-1zM617.8 469.1h1v1h-1zM517.6 472.4h1v1h-1zM541.2 471.9h1v1h-1zM569.0 472.0h1v1h-1zM630.3 468.2h1v1h-1zM530.8 470.1h1v1h-1zM624.7 468.2h1v1h-1zM533.4 472.5h1v1h-1zM441.9 474.4h1v1h-1zM541.9 473.8h1v1h-1zM535.4 469.0h1v1h-1zM504.2 471.3h1v1h-1zM635.1 471.6h1v1h-1zM606.3 468.3h1v1h-1zM502.0 473.0h1v1h-1zM596.8 471.4h1v1h-1zM489.7 472.7h1v1h-1zM574.7 472.3h1v1h-1zM579.1 472.8h1v1h-1zM495.2 472.6h1v1h-1zM607.4 473.4h1v1h-1zM473.0 474.1h1v1h-1zM579.9 468.8h1v1h-1zM494.4 468.1h1v1h-1zM580.1 471.5h1v1h-1zM533.3 469.0h1v1h-1zM562.5 469.8h1v1h-1zM476.8 470.9h1v1h-1z" fill="#7a6cc0" opacity="0.8"/>
<path d="M521.9 469.1l-2.0 -3.4h4.0zM457.5 470.5l-2.0 -3.4h4.0zM559.4 475.0l-2.0 -3.4h4.0zM609.4 469.6l2.0 3.4h-4.0zM446.2 471.4l-2.0 -3.4h4.0zM611.8 468.8l2.0 3.4h-4.0zM483.9 463.9l2.0 3.4h-4.0zM557.2 469.7l-2.0 -3.4h4.0zM584.4 469.3l2.0 3.4h-4.0zM573.5 466.0l2.0 3.4h-4.0zM548.1 472.6l-2.0 -3.4h4.0zM564.7 469.1l2.0 3.4h-4.0zM547.6 472.4l-2.0 -3.4h4.0zM563.6 468.8l2.0 3.4h-4.0zM593.3 471.8l-2.0 -3.4h4.0zM449.0 465.0l2.0 3.4h-4.0zM499.6 473.1l-2.0 -3.4h4.0zM581.7 473.1l-2.0 -3.4h4.0zM503.7 468.0l2.0 3.4h-4.0zM554.4 462.9l2.0 3.4h-4.0zM533.8 466.9l-2.0 -3.4h4.0zM515.3 474.8l-2.0 -3.4h4.0z" fill="#fff"/>
<text x="474.8" y="438.3" font-size="11.5" text-anchor="start" fill="#8a3fb0" >rs6533181</text>
<path d="M439.5 469.5l2.5 4.2h-5.0zM438.1 465.4l2.5 4.2h-5.0zM441.5 470.9l-2.5 -4.2h5.0zM440.6 469.6l2.5 4.2h-5.0zM443.0 471.1l-2.5 -4.2h5.0zM445.1 469.4l2.5 4.2h-5.0zM447.5 467.7l2.5 4.2h-5.0zM447.7 468.0l2.5 4.2h-5.0zM449.1 466.1l2.5 4.2h-5.0zM447.7 469.7l2.5 4.2h-5.0zM451.8 471.2l2.5 4.2h-5.0zM450.4 472.5l-2.5 -4.2h5.0zM453.5 467.5l2.5 4.2h-5.0zM453.6 471.3l2.5 4.2h-5.0zM457.3 470.7l-2.5 -4.2h5.0zM456.8 465.9l2.5 4.2h-5.0zM459.1 468.5l2.5 4.2h-5.0zM460.4 466.8l2.5 4.2h-5.0zM462.2 474.8l-2.5 -4.2h5.0zM461.1 472.4l-2.5 -4.2h5.0zM464.2 470.2l2.5 4.2h-5.0zM464.8 473.5l-2.5 -4.2h5.0zM465.8 474.4l-2.5 -4.2h5.0zM466.4 472.2l-2.5 -4.2h5.0zM468.0 470.7l-2.5 -4.2h5.0zM468.9 474.3l-2.5 -4.2h5.0zM470.4 470.5l-2.5 -4.2h5.0zM470.5 465.7l2.5 4.2h-5.0zM475.1 475.1l-2.5 -4.2h5.0zM473.7 472.2l-2.5 -4.2h5.0zM475.1 470.8l-2.5 -4.2h5.0zM478.0 467.3l2.5 4.2h-5.0zM479.3 472.5l-2.5 -4.2h5.0zM479.1 471.5l-2.5 -4.2h5.0zM480.9 465.6l2.5 4.2h-5.0zM481.4 468.5l2.5 4.2h-5.0zM482.6 471.3l-2.5 -4.2h5.0zM485.3 469.5l-2.5 -4.2h5.0zM487.7 464.0l2.5 4.2h-5.0zM485.6 469.2l-2.5 -4.2h5.0zM488.1 471.1l-2.5 -4.2h5.0zM488.0 467.6l2.5 4.2h-5.0zM491.4 465.8l2.5 4.2h-5.0zM491.7 472.8l-2.5 -4.2h5.0zM492.9 468.7l-2.5 -4.2h5.0zM494.2 464.9l2.5 4.2h-5.0zM495.4 467.6l2.5 4.2h-5.0zM497.3 465.9l2.5 4.2h-5.0zM500.4 465.4l2.5 4.2h-5.0zM499.4 472.2l-2.5 -4.2h5.0zM502.4 469.9l-2.5 -4.2h5.0zM500.7 471.4l-2.5 -4.2h5.0zM502.5 467.4l2.5 4.2h-5.0zM502.9 464.6l2.5 4.2h-5.0zM507.4 469.8l-2.5 -4.2h5.0zM506.1 462.9l2.5 4.2h-5.0zM507.7 467.6l-2.5 -4.2h5.0zM509.9 469.0l-2.5 -4.2h5.0zM511.7 472.1l-2.5 -4.2h5.0zM512.0 468.0l2.5 4.2h-5.0zM512.6 462.8l2.5 4.2h-5.0zM513.8 466.4l-2.5 -4.2h5.0zM516.9 467.2l-2.5 -4.2h5.0zM515.8 467.1l-2.5 -4.2h5.0zM518.3 464.6l2.5 4.2h-5.0zM518.6 466.3l2.5 4.2h-5.0zM521.7 470.0l-2.5 -4.2h5.0zM523.0 466.2l2.5 4.2h-5.0zM525.2 467.8l-2.5 -4.2h5.0zM525.1 464.1l2.5 4.2h-5.0zM526.2 467.9l-2.5 -4.2h5.0zM527.3 466.9l-2.5 -4.2h5.0zM528.6 465.8l-2.5 -4.2h5.0zM528.8 461.7l2.5 4.2h-5.0zM531.2 461.2l2.5 4.2h-5.0zM531.7 460.4l2.5 4.2h-5.0zM534.5 464.3l-2.5 -4.2h5.0zM533.4 460.4l2.5 4.2h-5.0zM536.0 466.3l-2.5 -4.2h5.0zM537.8 464.6l-2.5 -4.2h5.0zM539.4 460.8l2.5 4.2h-5.0zM538.3 460.5l2.5 4.2h-5.0zM542.6 466.7l-2.5 -4.2h5.0zM540.2 463.4l-2.5 -4.2h5.0zM544.2 462.6l-2.5 -4.2h5.0zM544.3 464.7l-2.5 -4.2h5.0zM545.7 462.6l-2.5 -4.2h5.0zM547.9 463.7l-2.5 -4.2h5.0zM549.0 461.6l-2.5 -4.2h5.0zM549.1 458.1l2.5 4.2h-5.0zM551.3 468.6l-2.5 -4.2h5.0zM552.4 469.2l-2.5 -4.2h5.0zM553.3 465.8l-2.5 -4.2h5.0zM553.9 465.9l-2.5 -4.2h5.0zM555.2 461.3l2.5 4.2h-5.0zM556.5 463.7l2.5 4.2h-5.0zM558.1 466.8l-2.5 -4.2h5.0zM559.0 467.6l-2.5 -4.2h5.0zM561.4 460.5l2.5 4.2h-5.0zM561.1 467.7l-2.5 -4.2h5.0zM564.8 467.0l-2.5 -4.2h5.0zM563.5 459.6l2.5 4.2h-5.0zM567.0 464.0l-2.5 -4.2h5.0zM567.5 464.0l-2.5 -4.2h5.0zM568.5 464.2l-2.5 -4.2h5.0zM567.6 458.7l2.5 4.2h-5.0zM572.5 462.0l2.5 4.2h-5.0zM570.3 461.7l2.5 4.2h-5.0zM574.3 465.9l-2.5 -4.2h5.0zM574.4 464.3l-2.5 -4.2h5.0zM576.6 463.2l-2.5 -4.2h5.0zM577.8 457.1l2.5 4.2h-5.0zM579.5 466.4l-2.5 -4.2h5.0zM578.8 463.7l-2.5 -4.2h5.0zM580.2 462.8l-2.5 -4.2h5.0zM581.6 460.2l2.5 4.2h-5.0zM582.7 461.0l2.5 4.2h-5.0zM584.0 459.9l2.5 4.2h-5.0zM586.0 463.5l-2.5 -4.2h5.0zM585.3 462.4l-2.5 -4.2h5.0zM589.3 462.5l-2.5 -4.2h5.0zM588.8 457.4l2.5 4.2h-5.0zM592.4 461.0l2.5 4.2h-5.0zM591.2 459.0l2.5 4.2h-5.0zM593.3 458.1l2.5 4.2h-5.0zM592.8 460.1l2.5 4.2h-5.0zM595.0 458.8l2.5 4.2h-5.0zM597.0 462.1l-2.5 -4.2h5.0zM598.6 461.4l2.5 4.2h-5.0zM597.9 464.3l-2.5 -4.2h5.0zM600.7 464.0l-2.5 -4.2h5.0zM600.3 461.2l2.5 4.2h-5.0zM604.0 464.6l-2.5 -4.2h5.0zM604.3 461.0l2.5 4.2h-5.0zM607.3 457.9l2.5 4.2h-5.0zM605.1 464.7l-2.5 -4.2h5.0zM609.9 463.3l2.5 4.2h-5.0zM610.2 461.6l2.5 4.2h-5.0zM611.1 456.7l2.5 4.2h-5.0zM610.8 461.1l-2.5 -4.2h5.0zM612.7 463.0l-2.5 -4.2h5.0zM614.9 461.1l-2.5 -4.2h5.0zM615.9 463.1l-2.5 -4.2h5.0zM617.5 464.3l-2.5 -4.2h5.0zM618.0 456.4l2.5 4.2h-5.0zM617.8 456.1l2.5 4.2h-5.0zM622.9 465.2l-2.5 -4.2h5.0zM622.9 466.3l-2.5 -4.2h5.0zM623.6 461.0l2.5 4.2h-5.0zM625.0 465.2l-2.5 -4.2h5.0zM627.4 464.4l-2.5 -4.2h5.0zM625.1 465.1l-2.5 -4.2h5.0zM629.5 471.5l-2.5 -4.2h5.0zM630.1 466.4l2.5 4.2h-5.0zM632.9 469.3l-2.5 -4.2h5.0zM631.2 466.0l2.5 4.2h-5.0zM634.7 468.6l2.5 4.2h-5.0zM635.1 470.3l-2.5 -4.2h5.0zM637.8 469.5l2.5 4.2h-5.0zM635.8 471.2l-2.5 -4.2h5.0zM640.0 470.9l2.5 4.2h-5.0zM640.2 477.9l-2.5 -4.2h5.0zM640.1 474.6l2.5 4.2h-5.0zM641.5 476.1l-2.5 -4.2h5.0zM644.3 474.4l-2.5 -4.2h5.0zM643.2 473.5l2.5 4.2h-5.0zM646.6 472.8l2.5 4.2h-5.0zM645.4 471.6l2.5 4.2h-5.0zM468.6 468.8l-2.5 -4.2h5.0zM446.6 468.5l2.5 4.2h-5.0zM455.8 464.2l-2.5 -4.2h5.0zM474.3 470.7l-2.5 -4.2h5.0zM448.7 465.6l-2.5 -4.2h5.0zM449.2 464.5l2.5 4.2h-5.0zM465.1 466.1l-2.5 -4.2h5.0zM476.0 464.3l-2.5 -4.2h5.0zM441.6 461.5l2.5 4.2h-5.0zM453.6 463.7l2.5 4.2h-5.0zM468.0 467.6l2.5 4.2h-5.0zM457.7 461.8l2.5 4.2h-5.0zM439.7 462.2l-2.5 -4.2h5.0zM474.3 463.1l-2.5 -4.2h5.0zM452.8 468.4l2.5 4.2h-5.0zM461.9 464.5l-2.5 -4.2h5.0zM455.0 462.1l2.5 4.2h-5.0zM476.4 468.2l-2.5 -4.2h5.0zM465.5 463.0l2.5 4.2h-5.0zM457.9 462.4l2.5 4.2h-5.0zM462.6 466.5l2.5 4.2h-5.0zM454.4 465.6l2.5 4.2h-5.0zM460.9 461.4l2.5 4.2h-5.0zM469.9 464.0l2.5 4.2h-5.0zM456.7 472.0l-2.5 -4.2h5.0zM451.6 462.4l-2.5 -4.2h5.0zM445.1 472.5l-2.5 -4.2h5.0zM442.7 469.7l-2.5 -4.2h5.0zM471.8 463.7l2.5 4.2h-5.0zM465.5 468.6l-2.5 -4.2h5.0zM448.0 452.7l-2.5 -4.2h5.0zM474.0 454.1l-2.5 -4.2h5.0zM476.0 456.7l-2.5 -4.2h5.0zM441.0 456.5l2.5 4.2h-5.0zM495.5 463.6l-2.5 -4.2h5.0zM518.1 467.0l-2.5 -4.2h5.0zM508.2 461.8l2.5 4.2h-5.0zM519.9 453.8l-2.5 -4.2h5.0zM518.8 460.5l2.5 4.2h-5.0zM520.4 466.5l-2.5 -4.2h5.0zM515.0 467.8l-2.5 -4.2h5.0zM497.2 458.4l2.5 4.2h-5.0zM511.3 460.1l2.5 4.2h-5.0zM483.3 455.7l2.5 4.2h-5.0zM509.7 463.3l-2.5 -4.2h5.0zM527.9 463.2l-2.5 -4.2h5.0zM493.3 454.5l2.5 4.2h-5.0zM512.4 469.0l-2.5 -4.2h5.0zM483.8 447.2l2.5 4.2h-5.0zM520.6 447.6l2.5 4.2h-5.0zM509.3 451.6l2.5 4.2h-5.0zM514.8 456.1l-2.5 -4.2h5.0zM517.8 457.5l-2.5 -4.2h5.0zM493.2 462.4l-2.5 -4.2h5.0zM513.7 451.2l-2.5 -4.2h5.0zM505.0 462.4l-2.5 -4.2h5.0zM524.6 452.8l-2.5 -4.2h5.0zM492.2 465.0l-2.5 -4.2h5.0zM491.5 464.8l-2.5 -4.2h5.0zM484.1 454.0l2.5 4.2h-5.0zM499.4 463.5l-2.5 -4.2h5.0zM494.2 449.4l2.5 4.2h-5.0zM487.2 449.4l2.5 4.2h-5.0zM484.2 458.9l2.5 4.2h-5.0zM484.3 450.8l-2.5 -4.2h5.0zM495.1 467.4l-2.5 -4.2h5.0zM522.7 451.9l-2.5 -4.2h5.0zM491.4 462.7l-2.5 -4.2h5.0zM516.0 450.1l2.5 4.2h-5.0zM490.9 466.9l2.5 4.2h-5.0zM487.7 465.8l2.5 4.2h-5.0zM511.4 465.6l2.5 4.2h-5.0zM491.3 465.8l-2.5 -4.2h5.0zM514.9 464.9l-2.5 -4.2h5.0zM521.7 462.1l-2.5 -4.2h5.0zM530.0 462.6l-2.5 -4.2h5.0zM505.7 456.4l-2.5 -4.2h5.0zM505.4 450.4l-2.5 -4.2h5.0zM496.5 462.9l2.5 4.2h-5.0zM503.3 449.6l2.5 4.2h-5.0zM515.1 460.6l-2.5 -4.2h5.0zM510.6 451.8l2.5 4.2h-5.0zM488.1 462.0l2.5 4.2h-5.0zM513.2 461.4l-2.5 -4.2h5.0zM486.0 468.0l-2.5 -4.2h5.0zM510.1 450.1l-2.5 -4.2h5.0zM519.5 462.3l2.5 4.2h-5.0zM518.1 463.3l-2.5 -4.2h5.0zM499.4 455.1l-2.5 -4.2h5.0zM513.5 447.2l2.5 4.2h-5.0zM521.0 466.3l-2.5 -4.2h5.0zM483.3 451.2l-2.5 -4.2h5.0zM516.3 465.6l-2.5 -4.2h5.0zM525.7 452.4l-2.5 -4.2h5.0zM525.5 452.7l-2.5 -4.2h5.0zM507.6 454.4l2.5 4.2h-5.0zM513.7 461.5l-2.5 -4.2h5.0zM501.9 458.3l-2.5 -4.2h5.0zM518.5 455.0l-2.5 -4.2h5.0zM494.1 454.8l2.5 4.2h-5.0zM481.5 446.5l2.5 4.2h-5.0zM500.4 451.7l-2.5 -4.2h5.0zM514.1 447.7l2.5 4.2h-5.0zM512.3 450.1l-2.5 -4.2h5.0zM508.5 445.3l-2.5 -4.2h5.0zM514.1 450.2l-2.5 -4.2h5.0zM510.5 444.1l-2.5 -4.2h5.0zM506.5 442.1l-2.5 -4.2h5.0zM509.1 445.5l-2.5 -4.2h5.0zM508.8 445.6l-2.5 -4.2h5.0zM505.1 447.7l-2.5 -4.2h5.0zM519.4 448.7l-2.5 -4.2h5.0zM518.6 448.4l-2.5 -4.2h5.0zM512.3 442.6l-2.5 -4.2h5.0zM515.9 449.4l-2.5 -4.2h5.0zM525.8 446.0l-2.5 -4.2h5.0zM521.7 446.2l-2.5 -4.2h5.0zM526.2 444.5l-2.5 -4.2h5.0zM490.0 450.1l-2.5 -4.2h5.0zM494.0 452.7l-2.5 -4.2h5.0zM498.0 438.0l-2.5 -4.2h5.0zM509.0 431.1l2.5 4.2h-5.0zM515.0 433.8l2.5 4.2h-5.0zM534.8 412.8l-2.5 -4.2h5.0zM540.8 417.2l-2.5 -4.2h5.0zM554.1 437.8l-2.5 -4.2h5.0zM544.4 421.4l-2.5 -4.2h5.0zM535.7 433.4l-2.5 -4.2h5.0zM551.9 429.6l-2.5 -4.2h5.0zM534.8 432.5l-2.5 -4.2h5.0zM534.0 432.6l2.5 4.2h-5.0zM551.5 409.3l2.5 4.2h-5.0zM545.0 418.4l-2.5 -4.2h5.0zM538.7 422.6l2.5 4.2h-5.0zM542.2 421.5l2.5 4.2h-5.0zM536.6 419.0l2.5 4.2h-5.0zM548.2 428.4l2.5 4.2h-5.0zM555.9 413.7l2.5 4.2h-5.0zM549.4 431.2l-2.5 -4.2h5.0zM530.3 432.3l2.5 4.2h-5.0zM531.4 420.6l2.5 4.2h-5.0zM548.2 436.5l-2.5 -4.2h5.0zM534.3 436.8l-2.5 -4.2h5.0zM540.8 432.0l2.5 4.2h-5.0zM545.4 424.2l-2.5 -4.2h5.0zM541.4 405.7l-2.5 -4.2h5.0zM538.4 398.1l-2.5 -4.2h5.0zM538.1 396.1l-2.5 -4.2h5.0zM536.3 400.0l-2.5 -4.2h5.0zM541.1 398.9l-2.5 -4.2h5.0zM552.3 459.3l2.5 4.2h-5.0zM559.6 460.5l-2.5 -4.2h5.0zM540.2 457.0l2.5 4.2h-5.0zM541.1 452.4l2.5 4.2h-5.0zM558.6 448.5l2.5 4.2h-5.0zM528.3 439.6l2.5 4.2h-5.0zM553.0 457.3l-2.5 -4.2h5.0zM549.1 458.8l-2.5 -4.2h5.0zM547.8 439.5l-2.5 -4.2h5.0zM533.3 447.1l-2.5 -4.2h5.0zM546.6 458.8l2.5 4.2h-5.0zM552.0 438.8l2.5 4.2h-5.0zM533.3 464.7l-2.5 -4.2h5.0zM531.4 444.9l2.5 4.2h-5.0zM530.6 453.5l-2.5 -4.2h5.0zM545.4 434.6l2.5 4.2h-5.0zM536.1 466.5l-2.5 -4.2h5.0zM539.7 449.2l-2.5 -4.2h5.0zM561.6 425.7l-2.5 -4.2h5.0zM558.0 443.0l2.5 4.2h-5.0zM568.2 446.2l-2.5 -4.2h5.0zM568.9 445.6l2.5 4.2h-5.0zM580.1 415.6l2.5 4.2h-5.0zM578.3 443.9l2.5 4.2h-5.0zM561.0 421.8l2.5 4.2h-5.0zM584.0 455.5l-2.5 -4.2h5.0zM591.6 452.3l-2.5 -4.2h5.0zM590.0 462.5l2.5 4.2h-5.0zM582.6 453.7l-2.5 -4.2h5.0zM565.4 459.9l2.5 4.2h-5.0zM560.9 462.5l-2.5 -4.2h5.0zM593.6 458.6l-2.5 -4.2h5.0zM567.5 460.0l2.5 4.2h-5.0zM573.0 455.4l2.5 4.2h-5.0zM599.0 462.4l-2.5 -4.2h5.0zM591.1 450.9l2.5 4.2h-5.0zM575.9 455.3l2.5 4.2h-5.0zM587.1 446.5l-2.5 -4.2h5.0zM583.9 445.3l-2.5 -4.2h5.0zM569.9 443.0l2.5 4.2h-5.0zM582.5 448.3l2.5 4.2h-5.0zM583.4 456.4l-2.5 -4.2h5.0zM581.8 457.3l-2.5 -4.2h5.0zM575.4 449.6l-2.5 -4.2h5.0zM574.2 448.9l-2.5 -4.2h5.0zM562.5 459.9l2.5 4.2h-5.0zM592.1 452.4l2.5 4.2h-5.0zM587.2 458.3l-2.5 -4.2h5.0zM574.9 461.5l2.5 4.2h-5.0zM560.8 458.1l2.5 4.2h-5.0zM566.8 460.4l-2.5 -4.2h5.0zM566.3 459.0l2.5 4.2h-5.0zM560.2 445.6l2.5 4.2h-5.0zM579.0 452.9l-2.5 -4.2h5.0zM587.2 451.8l-2.5 -4.2h5.0zM573.7 458.0l2.5 4.2h-5.0zM590.2 440.1l2.5 4.2h-5.0zM592.5 459.2l-2.5 -4.2h5.0zM596.4 443.5l-2.5 -4.2h5.0zM587.9 441.7l2.5 4.2h-5.0zM566.2 451.7l-2.5 -4.2h5.0zM594.7 439.5l2.5 4.2h-5.0zM588.5 449.3l2.5 4.2h-5.0zM580.6 460.1l2.5 4.2h-5.0zM561.7 450.2l-2.5 -4.2h5.0zM593.9 438.9l2.5 4.2h-5.0zM581.7 447.7l-2.5 -4.2h5.0zM575.9 454.4l-2.5 -4.2h5.0zM578.4 444.0l-2.5 -4.2h5.0zM576.3 440.9l2.5 4.2h-5.0zM611.7 467.7l-2.5 -4.2h5.0zM602.9 455.4l-2.5 -4.2h5.0zM602.2 455.6l2.5 4.2h-5.0zM602.2 462.2l2.5 4.2h-5.0zM617.5 462.7l2.5 4.2h-5.0zM626.7 464.3l2.5 4.2h-5.0zM624.8 457.1l2.5 4.2h-5.0zM611.1 457.1l2.5 4.2h-5.0zM618.7 463.1l-2.5 -4.2h5.0zM610.1 467.6l-2.5 -4.2h5.0zM629.9 466.6l-2.5 -4.2h5.0zM608.8 456.2l-2.5 -4.2h5.0zM622.2 453.9l-2.5 -4.2h5.0zM607.7 453.9l2.5 4.2h-5.0zM628.6 459.5l2.5 4.2h-5.0zM628.1 458.6l2.5 4.2h-5.0zM625.5 467.1l-2.5 -4.2h5.0zM602.3 466.9l-2.5 -4.2h5.0zM613.5 465.1l-2.5 -4.2h5.0zM628.6 457.6l-2.5 -4.2h5.0zM623.3 455.1l-2.5 -4.2h5.0zM624.2 464.8l2.5 4.2h-5.0zM608.1 455.4l-2.5 -4.2h5.0zM618.7 464.3l2.5 4.2h-5.0zM607.0 463.8l-2.5 -4.2h5.0zM607.9 466.9l-2.5 -4.2h5.0zM625.6 463.5l2.5 4.2h-5.0zM622.6 466.5l-2.5 -4.2h5.0zM624.6 449.6l2.5 4.2h-5.0zM612.6 450.7l2.5 4.2h-5.0zM632.2 464.1l2.5 4.2h-5.0zM634.0 470.9l2.5 4.2h-5.0zM632.1 469.0l-2.5 -4.2h5.0zM633.0 470.9l2.5 4.2h-5.0zM647.0 460.5l2.5 4.2h-5.0z" fill="#3c2896" stroke="#251870" stroke-width="0.35"/>
<path d="M550.9 452.5l2.5 4.2h-5.0zM537.8 435.1l2.5 4.2h-5.0zM538.8 460.2l-2.5 -4.2h5.0zM538.7 453.7l-2.5 -4.2h5.0zM536.8 459.6l-2.5 -4.2h5.0zM550.9 465.1l-2.5 -4.2h5.0zM557.8 449.9l-2.5 -4.2h5.0zM545.9 444.6l-2.5 -4.2h5.0zM537.2 438.7l2.5 4.2h-5.0zM579.7 445.2l-2.5 -4.2h5.0zM578.3 419.4l-2.5 -4.2h5.0zM572.9 442.2l-2.5 -4.2h5.0zM580.2 432.0l2.5 4.2h-5.0zM564.0 437.0l-2.5 -4.2h5.0zM576.7 448.5l-2.5 -4.2h5.0zM566.5 409.7l2.5 4.2h-5.0zM579.5 448.4l2.5 4.2h-5.0zM581.0 439.7l2.5 4.2h-5.0zM591.3 450.0l-2.5 -4.2h5.0zM586.0 450.4l-2.5 -4.2h5.0zM591.6 448.9l2.5 4.2h-5.0z" fill="#1cbde6" stroke="#107090" stroke-width="0.35"/>
<path d="M558.5 442.9l2.5 4.2h-5.0zM532.1 460.4l2.5 4.2h-5.0zM542.1 459.9l-2.5 -4.2h5.0zM559.8 430.2l2.5 4.2h-5.0zM575.4 422.3l-2.5 -4.2h5.0zM574.0 441.5l-2.5 -4.2h5.0zM562.7 422.2l-2.5 -4.2h5.0zM574.5 442.6l2.5 4.2h-5.0zM568.0 421.4l2.5 4.2h-5.0zM570.9 449.9l-2.5 -4.2h5.0zM575.0 440.4l2.5 4.2h-5.0z" fill="#1ee060" stroke="#108a40" stroke-width="0.35"/>
<path d="M551.8 442.7l-2.5 -4.2h5.0zM554.4 436.7l-2.5 -4.2h5.0zM549.4 440.4l-2.5 -4.2h5.0zM549.9 439.5l-2.5 -4.2h5.0z" fill="#ffb400" stroke="#9a7000" stroke-width="0.35"/>
<path d="M557.9 439.4l-2.5 -4.2h5.0zM547.6 436.0l-2.5 -4.2h5.0zM552.3 430.8l-2.5 -4.2h5.0zM541.0 439.3l-2.5 -4.2h5.0zM546.9 434.4l-2.5 -4.2h5.0zM538.5 431.1l-2.5 -4.2h5.0zM552.4 433.6l-2.5 -4.2h5.0zM547.0 444.7l-2.5 -4.2h5.0z" fill="#f5401a" stroke="#8a2a10" stroke-width="0.35"/>
<rect x="439.1" y="345.0" width="19.5" height="69.5" fill="#f3f3f3" stroke="#9a9a9a" stroke-width="0.9"/>
<rect x="442.9" y="360.70" width="4.400000000000034" height="9.14" fill="#f5401a"/>
<rect x="442.9" y="369.64" width="4.400000000000034" height="9.14" fill="#ffb400"/>
<rect x="442.9" y="378.58" width="4.400000000000034" height="9.14" fill="#00e060"/>
<rect x="442.9" y="387.52" width="4.400000000000034" height="9.14" fill="#00bce6"/>
<rect x="442.9" y="396.46" width="4.400000000000034" height="9.14" fill="#3c2896"/>
<line x1="447.3" y1="360.70" x2="448.5" y2="360.70" stroke="#000" stroke-width="0.5"/>
<text x="448.3" y="363.08" font-size="6.6" fill="#111" >1</text>
<line x1="447.3" y1="369.64" x2="448.5" y2="369.64" stroke="#000" stroke-width="0.5"/>
<text x="448.3" y="372.02" font-size="6.6" fill="#111" textLength="7.4" lengthAdjust="spacingAndGlyphs">0.8</text>
<line x1="447.3" y1="378.58" x2="448.5" y2="378.58" stroke="#000" stroke-width="0.5"/>
<text x="448.3" y="380.96" font-size="6.6" fill="#111" textLength="7.4" lengthAdjust="spacingAndGlyphs">0.6</text>
<line x1="447.3" y1="387.52" x2="448.5" y2="387.52" stroke="#000" stroke-width="0.5"/>
<text x="448.3" y="389.90" font-size="6.6" fill="#111" textLength="7.4" lengthAdjust="spacingAndGlyphs">0.4</text>
<line x1="447.3" y1="396.46" x2="448.5" y2="396.46" stroke="#000" stroke-width="0.5"/>
<text x="448.3" y="398.84" font-size="6.6" fill="#111" textLength="7.4" lengthAdjust="spacingAndGlyphs">0.2</text>
<line x1="447.3" y1="405.40" x2="448.5" y2="405.40" stroke="#000" stroke-width="0.5"/>
<text x="448.3" y="407.78" font-size="6.6" fill="#111" >0</text>
<text x="441.3" y="353.6" font-size="6.8" fill="#222" textLength="13.3" lengthAdjust="spacingAndGlyphs">LD (r<tspan font-size="4.5" dy="-2.5">2</tspan><tspan dy="2.5">)</tspan></text>
<path d="M537.4 430.0l2.9 5.7l-2.9 5.7l-2.9 -5.7z" fill="#000"/>
<path d="M537.4 433.1l1.2 2.6l-1.2 2.6l-1.2 -2.6z" fill="#a030d0"/>
<line x1="434.60" y1="476.00" x2="437.60" y2="476.00" stroke="#000" stroke-width="0.9" />
<text x="434.4" y="480.6" font-size="11.3" text-anchor="end" fill="#000" >0</text>
<line x1="434.60" y1="449.28" x2="437.60" y2="449.28" stroke="#000" stroke-width="0.9" />
<text x="434.4" y="453.9" font-size="11.3" text-anchor="end" fill="#000" >2</text>
<line x1="434.60" y1="422.56" x2="437.60" y2="422.56" stroke="#000" stroke-width="0.9" />
<text x="434.4" y="427.2" font-size="11.3" text-anchor="end" fill="#000" >4</text>
<line x1="434.60" y1="395.84" x2="437.60" y2="395.84" stroke="#000" stroke-width="0.9" />
<text x="434.4" y="400.4" font-size="11.3" text-anchor="end" fill="#000" >6</text>
<line x1="434.60" y1="369.12" x2="437.60" y2="369.12" stroke="#000" stroke-width="0.9" />
<text x="434.4" y="373.7" font-size="11.3" text-anchor="end" fill="#000" >8</text>
<line x1="434.60" y1="342.40" x2="437.60" y2="342.40" stroke="#000" stroke-width="0.9" />
<text x="434.4" y="347.0" font-size="11.3" text-anchor="end" fill="#000" >10</text>
<line x1="646.50" y1="469.90" x2="649.00" y2="469.90" stroke="#000" stroke-width="0.9" />
<text x="651.4" y="473.0" font-size="11.0" text-anchor="start" fill="#2440ff" >0</text>
<line x1="646.50" y1="445.60" x2="649.00" y2="445.60" stroke="#000" stroke-width="0.9" />
<text x="651.4" y="448.7" font-size="11.0" text-anchor="start" fill="#2440ff" >20</text>
<line x1="646.50" y1="421.30" x2="649.00" y2="421.30" stroke="#000" stroke-width="0.9" />
<text x="651.4" y="424.4" font-size="11.0" text-anchor="start" fill="#2440ff" >40</text>
<line x1="646.50" y1="397.00" x2="649.00" y2="397.00" stroke="#000" stroke-width="0.9" />
<text x="651.4" y="400.1" font-size="11.0" text-anchor="start" fill="#2440ff" >60</text>
<line x1="646.50" y1="372.70" x2="649.00" y2="372.70" stroke="#000" stroke-width="0.9" />
<text x="651.4" y="375.8" font-size="11.0" text-anchor="start" fill="#2440ff" >80</text>
<line x1="646.50" y1="348.40" x2="649.00" y2="348.40" stroke="#000" stroke-width="0.9" />
<text x="651.4" y="351.5" font-size="11.0" text-anchor="start" fill="#2440ff" >100</text>
<rect x="437.6" y="342.5" width="211.39999999999998" height="133.3" fill="none" stroke="#000" stroke-width="1.1"/>
<line x1="480.40" y1="475.80" x2="480.40" y2="478.30" stroke="#000" stroke-width="0.8" />
<line x1="522.30" y1="475.80" x2="522.30" y2="478.30" stroke="#000" stroke-width="0.8" />
<line x1="564.30" y1="475.80" x2="564.30" y2="478.30" stroke="#000" stroke-width="0.8" />
<line x1="606.30" y1="475.80" x2="606.30" y2="478.30" stroke="#000" stroke-width="0.8" />
<text transform="translate(418.0,411.7) rotate(-90)" font-size="11.8" text-anchor="middle">-log<tspan font-size="8.8" dy="1.5">10</tspan><tspan dy="-1.5">(p-value)</tspan></text>
<text transform="translate(675.2,414.8) rotate(90)" font-size="11.7" text-anchor="middle">Recombination rate (cMMb)</text>
<rect x="437.4" y="481.8" width="212.4" height="33.5" fill="none" stroke="#000" stroke-width="1"/>
<line x1="536.80" y1="486.00" x2="565.40" y2="486.00" stroke="#3232cc" stroke-width="1.0" />
<line x1="536.80" y1="484.00" x2="536.80" y2="488.00" stroke="#3232cc" stroke-width="0.9" />
<line x1="545.80" y1="484.00" x2="545.80" y2="488.00" stroke="#3232cc" stroke-width="0.9" />
<line x1="565.40" y1="484.00" x2="565.40" y2="488.00" stroke="#3232cc" stroke-width="0.9" />
<rect x="555.4" y="483.8" width="2.4" height="4.4" fill="#3232cc"/>
<line x1="583.40" y1="486.00" x2="605.60" y2="486.00" stroke="#3232cc" stroke-width="1.0" />
<line x1="583.60" y1="484.00" x2="583.60" y2="488.00" stroke="#3232cc" stroke-width="0.9" />
<line x1="586.60" y1="484.00" x2="586.60" y2="488.00" stroke="#3232cc" stroke-width="0.9" />
<line x1="589.50" y1="484.00" x2="589.50" y2="488.00" stroke="#3232cc" stroke-width="0.9" />
<line x1="595.60" y1="484.00" x2="595.60" y2="488.00" stroke="#3232cc" stroke-width="0.9" />
<line x1="598.00" y1="484.00" x2="598.00" y2="488.00" stroke="#3232cc" stroke-width="0.9" />
<line x1="605.40" y1="484.00" x2="605.40" y2="488.00" stroke="#3232cc" stroke-width="0.9" />
<rect x="600.2" y="484.0" width="1.8" height="4.0" fill="#3232cc"/>
<line x1="621.80" y1="501.60" x2="648.20" y2="501.60" stroke="#3232cc" stroke-width="1.0" />
<line x1="630.30" y1="499.80" x2="630.30" y2="503.40" stroke="#3232cc" stroke-width="0.9" />
<line x1="634.70" y1="499.80" x2="634.70" y2="503.40" stroke="#3232cc" stroke-width="0.9" />
<line x1="638.90" y1="499.80" x2="638.90" y2="503.40" stroke="#3232cc" stroke-width="0.9" />
<text x="533.6" y="499.4" font-size="11.5" font-style="italic">TET2</text>
<text x="592.2" y="499.4" font-size="11.5" font-style="italic">PPA2</text>
<text x="574.6" y="512.4" font-size="11.5" font-style="italic" textLength="61.5" lengthAdjust="spacingAndGlyphs">ARHGEF38</text>
<path d="M561.5 495.2H570.6" stroke="#000" stroke-width="1.1"/>
<path d="M566.8 491.4L570.6 495.2L566.8 499.0" stroke="#000" stroke-width="1.1" fill="none"/>
<path d="M583.2 495.2H592.0" stroke="#000" stroke-width="1.1"/>
<path d="M587.0 491.4L583.2 495.2L587.0 499.0" stroke="#000" stroke-width="1.1" fill="none"/>
<path d="M637.0 508.2H646.0" stroke="#000" stroke-width="1.1"/>
<path d="M642.2 504.4L646.0 508.2L642.2 512.0" stroke="#000" stroke-width="1.1" fill="none"/>
<text x="466.3" y="532.2" font-size="11.5" text-anchor="start" fill="#000" >chr4:105,600,000-106,600,000</text>
<text x="-0.1" y="563.0" font-size="17.5" text-anchor="start" fill="#000" >c</text>
<text x="122" y="577.6" font-size="11.3">&#946; = 0.51</text>
<text x="177.4" y="577.6" font-size="11.3">P = 1.3x10<tspan font-size="7.6" dy="-4.6">-19</tspan></text>
<rect x="118.30" y="583.10" width="135.80" height="131.30" fill="#fcfcfc" stroke="#333" stroke-width="1.0" />
<line x1="115.30" y1="609.40" x2="118.30" y2="609.40" stroke="#333" stroke-width="0.9" />
<text x="113.0" y="613.4" font-size="11.5" text-anchor="end" fill="#000" >2</text>
<line x1="115.30" y1="648.80" x2="118.30" y2="648.80" stroke="#333" stroke-width="0.9" />
<text x="113.0" y="652.8" font-size="11.5" text-anchor="end" fill="#000" >0</text>
<line x1="115.30" y1="689.10" x2="118.30" y2="689.10" stroke="#333" stroke-width="0.9" />
<text x="113.0" y="693.1" font-size="11.5" text-anchor="end" fill="#000" >-2</text>
<text transform="translate(97.0,652.1) rotate(-90)" font-size="11.5" text-anchor="middle">cg11878490</text>
<line x1="143.50" y1="632.40" x2="143.50" y2="654.70" stroke="#222" stroke-width="1.0" />
<line x1="143.50" y1="674.70" x2="143.50" y2="699.80" stroke="#222" stroke-width="1.0" />
<rect x="128.60" y="654.70" width="30.00" height="20.00" fill="#e8392e" stroke="#222" stroke-width="1.0" />
<line x1="128.60" y1="664.20" x2="158.60" y2="664.20" stroke="#111" stroke-width="2.3" />
<rect x="140.90" y="661.40" width="5.20" height="5.20" fill="#111" stroke="none" stroke-width="1" />
<line x1="143.50" y1="714.40" x2="143.50" y2="717.40" stroke="#333" stroke-width="0.9" />
<line x1="186.00" y1="609.00" x2="186.00" y2="639.40" stroke="#222" stroke-width="1.0" />
<line x1="186.00" y1="662.40" x2="186.00" y2="690.00" stroke="#222" stroke-width="1.0" />
<rect x="171.30" y="639.40" width="29.60" height="23.00" fill="#5bc0dc" stroke="#222" stroke-width="1.0" />
<line x1="171.30" y1="651.00" x2="200.90" y2="651.00" stroke="#111" stroke-width="2.3" />
<rect x="183.40" y="648.40" width="5.20" height="5.20" fill="#111" stroke="none" stroke-width="1" />
<rect x="184.50" y="698.30" width="3.00" height="3.00" fill="#111" stroke="none" stroke-width="1" />
<rect x="184.50" y="706.90" width="3.00" height="3.00" fill="#111" stroke="none" stroke-width="1" />
<line x1="186.00" y1="714.40" x2="186.00" y2="717.40" stroke="#333" stroke-width="0.9" />
<line x1="228.20" y1="595.60" x2="228.20" y2="629.10" stroke="#222" stroke-width="1.0" />
<line x1="228.20" y1="655.00" x2="228.20" y2="691.50" stroke="#222" stroke-width="1.0" />
<rect x="213.60" y="629.10" width="30.00" height="25.90" fill="#2fa382" stroke="#222" stroke-width="1.0" />
<line x1="213.60" y1="641.60" x2="243.60" y2="641.60" stroke="#111" stroke-width="2.3" />
<rect x="225.60" y="639.00" width="5.20" height="5.20" fill="#111" stroke="none" stroke-width="1" />
<rect x="226.70" y="587.10" width="3.00" height="3.00" fill="#111" stroke="none" stroke-width="1" />
<rect x="226.70" y="692.50" width="3.00" height="3.00" fill="#111" stroke="none" stroke-width="1" />
<rect x="226.70" y="694.10" width="3.00" height="3.00" fill="#111" stroke="none" stroke-width="1" />
<line x1="228.20" y1="714.40" x2="228.20" y2="717.40" stroke="#333" stroke-width="0.9" />
<text x="128.6" y="731.8" font-size="11.6" text-anchor="start" fill="#000" >0:T/T</text>
<text x="170.0" y="731.8" font-size="11.6" text-anchor="start" fill="#000" >1:T/G</text>
<text x="215.3" y="731.0" font-size="11.6" text-anchor="start" fill="#000" >2:G/G</text>
<text x="163.6" y="751.4" font-size="11.5" text-anchor="start" fill="#000" >rs6533181</text>
<text x="392.6" y="561.8" font-size="17.8" text-anchor="start" fill="#000" >d</text>
<text x="488.7" y="569.7" font-size="11.5" text-anchor="start" fill="#000" >chr4:106,045,000&#8722;106,075,000</text>
<line x1="469.00" y1="597.40" x2="679.00" y2="597.40" stroke="#e4e4e4" stroke-width="0.8" />
<line x1="469.00" y1="620.60" x2="679.00" y2="620.60" stroke="#e4e4e4" stroke-width="0.8" />
<line x1="469.00" y1="643.30" x2="679.00" y2="643.30" stroke="#e4e4e4" stroke-width="0.8" />
<text x="461.6" y="587.1" font-size="11.5" text-anchor="end" fill="#000" >Gene</text>
<text x="461.6" y="607.9" font-size="11.5" text-anchor="end" fill="#000" >eGFR Loci</text>
<text x="461.6" y="632.2" font-size="11.5" text-anchor="end" fill="#000" >eGFR SNPs</text>
<line x1="622.60" y1="581.20" x2="679.00" y2="581.20" stroke="#2a2ad4" stroke-width="1.1" />
<line x1="622.60" y1="578.30" x2="622.60" y2="584.10" stroke="#2a2ad4" stroke-width="1.2" />
<rect x="628.1" y="578.6" width="2.4" height="5.2" rx="0.8" fill="#2a2ad4"/>
<path d="M636.5 579.7v3M644.3 579.7v3M650.3 579.7v3M658.3 579.7v3M664.7 579.7v3M672.5 579.7v3M678.4 579.7v3" stroke="#2a2ad4" stroke-width="0.7" fill="none"/>
<text x="642.5" y="595.1" font-size="11.5" font-style="italic">TET2</text>
<rect x="469.00" y="601.00" width="210.00" height="6.00" fill="#ec0000" stroke="none" stroke-width="1" />
<text x="543.3" y="599.5" font-size="11.5" text-anchor="start" fill="#000" >rs2903386</text>
<text x="478.6" y="619.4" font-size="11.5" text-anchor="start" fill="#000" >rs1541374</text>
<text x="604.6" y="619.7" font-size="11.5" text-anchor="start" fill="#000" >rs7661349</text>
<line x1="493.50" y1="624.20" x2="493.50" y2="629.70" stroke="#f078f0" stroke-width="1.0" />
<line x1="511.00" y1="624.20" x2="511.00" y2="629.70" stroke="#f078f0" stroke-width="1.0" />
<line x1="584.30" y1="624.20" x2="584.30" y2="629.70" stroke="#f078f0" stroke-width="1.0" />
<line x1="610.50" y1="624.20" x2="610.50" y2="629.70" stroke="#f078f0" stroke-width="1.0" />
<line x1="623.20" y1="624.20" x2="623.20" y2="629.70" stroke="#f078f0" stroke-width="1.0" />
<line x1="650.40" y1="624.20" x2="650.40" y2="629.70" stroke="#f078f0" stroke-width="1.0" />
<line x1="677.30" y1="624.20" x2="677.30" y2="629.70" stroke="#f078f0" stroke-width="1.0" />
<text x="481.3" y="641.0" font-size="5.6" fill="#333" textLength="22.5" lengthAdjust="spacingAndGlyphs">rs1541374</text>
<text x="572.2" y="641.0" font-size="5.6" fill="#333" textLength="23" lengthAdjust="spacingAndGlyphs">rs7679673</text>
<text x="610.5" y="641.0" font-size="5.6" fill="#333" textLength="23" lengthAdjust="spacingAndGlyphs">rs7661349</text>
<text x="640.0" y="641.0" font-size="5.6" fill="#333" textLength="20.2" lengthAdjust="spacingAndGlyphs">rs974801</text>
<text x="669.7" y="641.0" font-size="5.6" fill="#333" textLength="9.3" lengthAdjust="spacingAndGlyphs">rs21</text>
<text x="471" y="649.3" font-size="4.8" fill="#444" textLength="13.5" lengthAdjust="spacingAndGlyphs">[0 - 1.00]</text>
<path d="M469.0 666.3V666.3H469.5H470.0H470.5H471.0H471.5H472.0H472.5H473.0H473.5H474.0H474.5H475.0H475.5H476.0H476.5H477.0H477.5H478.0H478.5H479.0H479.5H480.0H480.5H481.0H481.5H482.0H482.5H483.0H483.5H484.0H484.5H485.0H485.5H486.0H486.5H487.0H487.5H488.0H488.5V666.2H489.0V666.0H489.5V665.6H490.0V664.7H490.5V663.1H491.0V661.8H491.5V659.4H492.0V654.7H492.5V654.0H493.0V652.2H493.5V653.6H494.0V654.8H494.5V659.6H495.0V660.8H495.5V663.7H496.0V665.0H496.5V665.7H497.0V666.0H497.5V666.2H498.0V666.3H498.5H499.0H499.5H500.0H500.5H501.0H501.5H502.0H502.5H503.0H503.5H504.0H504.5H505.0H505.5H506.0H506.5H507.0H507.5H508.0H508.5H509.0H509.5H510.0H510.5H511.0H511.5H512.0H512.5H513.0H513.5H514.0H514.5H515.0H515.5H516.0H516.5H517.0H517.5H518.0H518.5H519.0H519.5H520.0H520.5H521.0H521.5H522.0H522.5H523.0H523.5H524.0H524.5H525.0H525.5H526.0H526.5H527.0H527.5H528.0H528.5H529.0H529.5H530.0H530.5H531.0H531.5H532.0H532.5H533.0H533.5H534.0H534.5H535.0H535.5H536.0H536.5H537.0H537.5H538.0H538.5H539.0H539.5H540.0H540.5H541.0H541.5H542.0H542.5H543.0H543.5H544.0H544.5H545.0H545.5H546.0H546.5H547.0H547.5H548.0H548.5H549.0H549.5H550.0H550.5H551.0H551.5H552.0H552.5H553.0H553.5H554.0H554.5H555.0H555.5H556.0H556.5H557.0H557.5H558.0H558.5H559.0H559.5H560.0H560.5H561.0H561.5H562.0H562.5H563.0H563.5H564.0H564.5H565.0H565.5H566.0H566.5H567.0H567.5H568.0H568.5H569.0H569.5H570.0H570.5H571.0H571.5H572.0H572.5H573.0H573.5H574.0H574.5H575.0H575.5H576.0H576.5H577.0H577.5H578.0H578.5H579.0H579.5H580.0H580.5H581.0H581.5H582.0H582.5H583.0H583.5H584.0H584.5H585.0H585.5H586.0H586.5H587.0H587.5H588.0V666.0H588.5V665.1H589.0V663.1H589.5V658.2H590.0V654.3H590.5V654.9H591.0V658.7H591.5V662.5H592.0V664.7H592.5V665.9H593.0V666.2H593.5V666.3H594.0H594.5H595.0H595.5H596.0H596.5H597.0H597.5H598.0H598.5H599.0H599.5H600.0H600.5H601.0H601.5H602.0H602.5H603.0H603.5H604.0H604.5H605.0V666.2H605.5V666.0H606.0V665.7H606.5V665.5H607.0H607.5V665.6H608.0V665.7H608.5V666.0H609.0V666.2H609.5V666.3H610.0H610.5H611.0H611.5H612.0H612.5H613.0H613.5H614.0H614.5H615.0H615.5H616.0H616.5H617.0H617.5H618.0H618.5H619.0V666.1H619.5V665.9H620.0V665.5H620.5V664.7H621.0V664.0H621.5V663.8H622.0V663.6H622.5V663.8H623.0V663.0H623.5V662.9H624.0V660.7H624.5V659.2H625.0V658.8H625.5V657.9H626.0V657.0H626.5V654.5H627.0V654.8H627.5V651.2H628.0V647.7H628.5H629.0H629.5H630.0H630.5H631.0H631.5V652.3H632.0V656.2H632.5V659.2H633.0V662.7H633.5V664.1H634.0V665.0H634.5V665.5H635.0V665.4H635.5V664.6H636.0V662.4H636.5V658.4H637.0V655.6H637.5V656.3H638.0V657.3H638.5V660.1H639.0V662.3H639.5V664.8H640.0V665.6H640.5V666.1H641.0V666.3H641.5H642.0H642.5H643.0H643.5H644.0H644.5H645.0H645.5H646.0H646.5H647.0H647.5H648.0H648.5H649.0H649.5H650.0V666.1H650.5V664.9H651.0V659.2H651.5V647.9H652.0V647.7H652.5V647.9H653.0V660.2H653.5V665.0H654.0V666.1H654.5V666.2H655.0V666.0H655.5V665.2H656.0V663.7H656.5V663.6H657.0V663.9H657.5V665.2H658.0V666.0H658.5V666.2H659.0H659.5H660.0H660.5H661.0H661.5H662.0H662.5H663.0H663.5H664.0H664.5H665.0H665.5H666.0H666.5H667.0H667.5H668.0H668.5H669.0H669.5H670.0V666.1H670.5V665.6H671.0V665.4H671.5V665.7H672.0V666.1H672.5V666.3H673.0H673.5H674.0H674.5H675.0H675.5H676.0H676.5H677.0H677.5H678.0H678.5H679.0H679.5L679.0 666.3z" fill="#ee0000"/>
<line x1="469.00" y1="666.50" x2="679.00" y2="666.50" stroke="#f07070" stroke-width="1.0" />
<text x="461.6" y="664.3" font-size="11.5" text-anchor="end" fill="#000" >PT-S1</text>
<text x="471" y="672.3" font-size="4.8" fill="#444" textLength="13.5" lengthAdjust="spacingAndGlyphs">[0 - 1.00]</text>
<path d="M469.0 689.3V689.3H469.5H470.0H470.5H471.0H471.5H472.0H472.5H473.0H473.5H474.0H474.5H475.0H475.5H476.0H476.5H477.0H477.5H478.0H478.5H479.0H479.5H480.0H480.5H481.0H481.5H482.0H482.5H483.0V689.1H483.5V688.7H484.0V688.5H484.5V688.6H485.0V689.1H485.5V689.3H486.0H486.5H487.0H487.5H488.0H488.5H489.0V689.2H489.5V689.0H490.0V688.6H490.5V687.6H491.0V686.0H491.5V683.1H492.0V680.0H492.5V680.3H493.0V677.6H493.5V677.7H494.0V681.9H494.5V683.6H495.0V686.2H495.5V687.4H496.0V688.6H496.5V689.0H497.0V689.2H497.5V689.3H498.0H498.5H499.0H499.5H500.0H500.5H501.0H501.5H502.0H502.5H503.0H503.5H504.0H504.5H505.0H505.5H506.0H506.5H507.0H507.5H508.0H508.5H509.0H509.5H510.0V688.9H510.5V688.2H511.0V688.6H511.5V689.2H512.0V689.3H512.5H513.0H513.5H514.0H514.5H515.0H515.5H516.0H516.5H517.0H517.5H518.0H518.5H519.0H519.5H520.0H520.5H521.0H521.5H522.0H522.5H523.0H523.5H524.0H524.5H525.0H525.5H526.0H526.5H527.0H527.5H528.0H528.5H529.0H529.5H530.0H530.5H531.0H531.5H532.0H532.5H533.0H533.5H534.0H534.5H535.0H535.5H536.0H536.5H537.0H537.5H538.0H538.5H539.0H539.5H540.0H540.5H541.0H541.5H542.0H542.5H543.0H543.5H544.0H544.5H545.0H545.5H546.0H546.5H547.0H547.5H548.0H548.5H549.0H549.5H550.0H550.5H551.0H551.5H552.0H552.5H553.0H553.5H554.0H554.5H555.0H555.5H556.0H556.5H557.0H557.5H558.0H558.5H559.0H559.5H560.0H560.5H561.0H561.5H562.0H562.5H563.0H563.5H564.0H564.5H565.0H565.5H566.0H566.5H567.0H567.5H568.0H568.5H569.0H569.5H570.0H570.5H571.0H571.5H572.0H572.5H573.0H573.5H574.0H574.5H575.0H575.5H576.0H576.5H577.0H577.5H578.0H578.5H579.0H579.5H580.0H580.5H581.0H581.5H582.0H582.5H583.0H583.5H584.0H584.5H585.0H585.5H586.0H586.5H587.0H587.5H588.0V689.2H588.5V688.8H589.0V687.2H589.5V684.6H590.0V682.6H590.5V681.1H591.0V684.4H591.5V686.8H592.0V688.5H592.5V689.2H593.0V689.3H593.5H594.0H594.5H595.0H595.5H596.0H596.5H597.0H597.5H598.0H598.5H599.0H599.5H600.0H600.5H601.0H601.5H602.0H602.5H603.0H603.5H604.0V689.2H604.5V689.0H605.0V688.8H605.5V688.5H606.0V688.5H606.5V688.5H607.0V688.8H607.5V689.0H608.0V689.2H608.5V689.3H609.0H609.5H610.0H610.5H611.0H611.5H612.0H612.5H613.0H613.5H614.0H614.5H615.0H615.5H616.0H616.5H617.0H617.5H618.0H618.5H619.0H619.5H620.0H620.5H621.0V689.2H621.5V689.0H622.0V688.7H622.5V688.2H623.0V686.9H623.5V686.2H624.0V684.9H624.5V683.4H625.0V683.6H625.5V682.9H626.0V684.7H626.5V685.2H627.0V683.7H627.5V680.9H628.0V675.2H628.5V674.6H629.0V670.7H629.5H630.0H630.5V671.9H631.0V676.8H631.5V681.9H632.0V685.7H632.5V687.9H633.0V688.6H633.5V688.5H634.0V688.0H634.5V687.4H635.0V686.6H635.5V684.7H636.0V684.4H636.5V684.7H637.0V684.0H637.5V684.6H638.0V686.4H638.5V687.4H639.0V688.2H639.5V688.7H640.0V689.0H640.5V689.2H641.0V689.3H641.5H642.0H642.5H643.0H643.5H644.0H644.5H645.0H645.5H646.0H646.5H647.0H647.5H648.0H648.5H649.0H649.5V689.2H650.0V688.7H650.5V686.4H651.0V681.6H651.5V677.4H652.0V679.2H652.5V684.8H653.0V687.7H653.5V688.5H654.0V688.2H654.5V688.0H655.0V687.8H655.5V687.5H656.0V687.2H656.5V687.4H657.0H657.5V688.0H658.0V688.2H658.5V688.7H659.0V688.8H659.5V689.0H660.0V689.1H660.5V689.2H661.0H661.5H662.0H662.5H663.0H663.5H664.0H664.5H665.0H665.5H666.0H666.5H667.0H667.5H668.0H668.5H669.0H669.5H670.0H670.5H671.0H671.5H672.0H672.5H673.0H673.5H674.0H674.5H675.0H675.5H676.0H676.5H677.0H677.5H678.0H678.5H679.0H679.5L679.0 689.3z" fill="#ee0000"/>
<line x1="469.00" y1="689.50" x2="679.00" y2="689.50" stroke="#f07070" stroke-width="1.0" />
<text x="461.6" y="688.2" font-size="11.5" text-anchor="end" fill="#000" >PT-S2</text>
<text x="471" y="695.3" font-size="4.8" fill="#444" textLength="13.5" lengthAdjust="spacingAndGlyphs">[0 - 1.00]</text>
<path d="M469.0 712.3V712.3H469.5H470.0H470.5H471.0H471.5H472.0H472.5H473.0H473.5H474.0H474.5H475.0H475.5H476.0H476.5H477.0H477.5H478.0H478.5H479.0H479.5H480.0H480.5H481.0H481.5H482.0H482.5H483.0H483.5H484.0H484.5H485.0H485.5H486.0H486.5H487.0H487.5H488.0H488.5V712.1H489.0V711.9H489.5V711.3H490.0V710.1H490.5V708.6H491.0V705.9H491.5V702.3H492.0V699.6H492.5V698.7H493.0V694.9H493.5V699.9H494.0V699.3H494.5V702.7H495.0V706.6H495.5V708.4H496.0V710.6H496.5V711.4H497.0V711.9H497.5V712.1H498.0V712.2H498.5H499.0H499.5H500.0H500.5H501.0H501.5H502.0H502.5H503.0H503.5H504.0H504.5H505.0H505.5H506.0V712.1H506.5V712.0H507.0V711.8H507.5V711.7H508.0V711.2H508.5V711.0H509.0V710.9H509.5V710.2H510.0V710.3H510.5V710.5H511.0V710.6H511.5V711.0H512.0V711.1H512.5V711.6H513.0V711.8H513.5V712.0H514.0V712.1H514.5V712.2H515.0H515.5H516.0H516.5H517.0H517.5H518.0H518.5H519.0H519.5H520.0H520.5H521.0H521.5H522.0H522.5H523.0H523.5H524.0H524.5H525.0H525.5H526.0H526.5H527.0H527.5H528.0H528.5H529.0H529.5H530.0H530.5H531.0H531.5H532.0H532.5H533.0H533.5H534.0H534.5H535.0H535.5H536.0H536.5H537.0H537.5H538.0H538.5H539.0H539.5H540.0H540.5H541.0H541.5H542.0H542.5H543.0H543.5H544.0H544.5H545.0H545.5H546.0H546.5H547.0H547.5H548.0H548.5H549.0H549.5H550.0H550.5H551.0H551.5H552.0H552.5H553.0H553.5H554.0H554.5H555.0H555.5H556.0H556.5H557.0H557.5H558.0H558.5H559.0H559.5H560.0H560.5H561.0H561.5H562.0H562.5H563.0H563.5H564.0H564.5H565.0H565.5H566.0H566.5H567.0H567.5H568.0H568.5H569.0H569.5H570.0H570.5H571.0H571.5H572.0H572.5H573.0H573.5H574.0H574.5H575.0H575.5H576.0H576.5H577.0H577.5H578.0H578.5H579.0H579.5H580.0H580.5H581.0H581.5H582.0H582.5H583.0H583.5H584.0H584.5H585.0H585.5H586.0H586.5H587.0H587.5H588.0V712.2H588.5V711.7H589.0V710.1H589.5V706.9H590.0V704.2H590.5V705.1H591.0V706.7H591.5V709.8H592.0V711.5H592.5V712.1H593.0V712.3H593.5H594.0H594.5H595.0H595.5H596.0H596.5H597.0H597.5H598.0H598.5H599.0H599.5H600.0H600.5H601.0H601.5H602.0H602.5H603.0H603.5H604.0V712.1H604.5V711.9H605.0V711.7H605.5V711.3H606.0V711.5H606.5H607.0V711.7H607.5V711.9H608.0V712.1H608.5V712.2H609.0H609.5H610.0H610.5H611.0H611.5H612.0H612.5H613.0H613.5H614.0H614.5H615.0H615.5H616.0H616.5H617.0H617.5H618.0H618.5H619.0H619.5H620.0H620.5H621.0V712.2H621.5V711.9H622.0V711.4H622.5V710.5H623.0V709.1H623.5V708.0H624.0V705.8H624.5V703.6H625.0V702.5H625.5V704.4H626.0V702.2H626.5V700.2H627.0V699.2H627.5V694.5H628.0V693.7H628.5H629.0H629.5H630.0H630.5H631.0H631.5V695.8H632.0V702.8H632.5V705.3H633.0V708.8H633.5V710.6H634.0V711.4H634.5V711.6H635.0V711.3H635.5V710.4H636.0V707.5H636.5V705.5H637.0V700.6H637.5V699.7H638.0V702.0H638.5V705.1H639.0V708.0H639.5V710.6H640.0V711.7H640.5V712.1H641.0V712.2H641.5H642.0H642.5H643.0H643.5H644.0H644.5H645.0H645.5H646.0H646.5H647.0H647.5H648.0H648.5H649.0H649.5V712.2H650.0V711.2H650.5V706.1H651.0V696.1H651.5V693.7H652.0H652.5V704.2H653.0V710.3H653.5V712.0H654.0H654.5V710.8H655.0V708.7H655.5V707.9H656.0V709.2H656.5V710.8H657.0V712.0H657.5V712.3H658.0H658.5H659.0H659.5H660.0H660.5H661.0H661.5H662.0H662.5H663.0H663.5H664.0H664.5H665.0H665.5H666.0H666.5H667.0H667.5H668.0H668.5H669.0H669.5V712.2H670.0V711.9H670.5V711.6H671.0V711.5H671.5V711.6H672.0V711.9H672.5V712.2H673.0V712.3H673.5H674.0H674.5H675.0H675.5H676.0H676.5H677.0H677.5H678.0H678.5H679.0H679.5L679.0 712.3z" fill="#ee0000"/>
<line x1="469.00" y1="712.50" x2="679.00" y2="712.50" stroke="#f07070" stroke-width="1.0" />
<text x="461.6" y="710.7" font-size="11.5" text-anchor="end" fill="#000" >PT-S3</text>
<text x="471" y="717.7" font-size="4.8" fill="#444" textLength="13.5" lengthAdjust="spacingAndGlyphs">[0 - 1.00]</text>
<path d="M469.0 734.7V734.7H469.5H470.0H470.5H471.0H471.5H472.0H472.5H473.0H473.5H474.0H474.5H475.0H475.5H476.0H476.5H477.0H477.5H478.0H478.5H479.0H479.5H480.0H480.5H481.0H481.5H482.0H482.5H483.0H483.5H484.0H484.5H485.0H485.5H486.0H486.5H487.0H487.5H488.0H488.5H489.0H489.5H490.0V734.5H490.5V734.4H491.0V734.1H491.5V733.9H492.0V733.5H492.5V733.4H493.0V733.3H493.5V733.4H494.0H494.5V733.9H495.0V734.1H495.5V734.4H496.0V734.5H496.5V734.6H497.0H497.5H498.0H498.5H499.0H499.5H500.0H500.5H501.0H501.5H502.0H502.5H503.0H503.5H504.0H504.5H505.0H505.5H506.0H506.5H507.0H507.5V734.6H508.0V734.4H508.5V734.3H509.0V734.1H509.5V733.8H510.0V733.8H510.5V733.6H511.0V733.6H511.5V733.7H512.0V734.0H512.5V734.3H513.0V734.4H513.5V734.6H514.0V734.6H514.5H515.0H515.5H516.0H516.5H517.0H517.5H518.0H518.5H519.0H519.5H520.0H520.5H521.0H521.5H522.0H522.5H523.0H523.5H524.0H524.5H525.0H525.5H526.0H526.5H527.0H527.5H528.0H528.5H529.0H529.5H530.0H530.5H531.0H531.5H532.0H532.5H533.0H533.5H534.0H534.5H535.0H535.5H536.0H536.5H537.0H537.5H538.0H538.5H539.0H539.5H540.0H540.5H541.0H541.5H542.0H542.5H543.0H543.5H544.0H544.5H545.0H545.5H546.0H546.5H547.0H547.5H548.0H548.5H549.0H549.5H550.0H550.5H551.0H551.5H552.0H552.5H553.0H553.5H554.0H554.5H555.0H555.5H556.0H556.5H557.0H557.5H558.0H558.5H559.0H559.5H560.0H560.5H561.0H561.5H562.0H562.5H563.0H563.5H564.0H564.5H565.0H565.5H566.0H566.5H567.0H567.5H568.0H568.5H569.0H569.5H570.0H570.5H571.0H571.5H572.0H572.5H573.0H573.5H574.0H574.5H575.0H575.5H576.0H576.5H577.0H577.5H578.0H578.5H579.0H579.5H580.0H580.5H581.0H581.5H582.0H582.5H583.0H583.5H584.0H584.5H585.0H585.5H586.0H586.5H587.0H587.5H588.0V734.6H588.5V734.2H589.0V732.9H589.5V730.8H590.0V728.6H590.5V729.1H591.0V730.8H591.5V732.7H592.0V734.1H592.5V734.6H593.0V734.7H593.5H594.0H594.5H595.0H595.5H596.0H596.5H597.0H597.5H598.0H598.5H599.0H599.5H600.0H600.5H601.0H601.5H602.0H602.5H603.0H603.5H604.0H604.5H605.0V734.6H605.5V734.4H606.0V733.8H606.5V732.7H607.0V731.7H607.5V729.7H608.0V730.5H608.5V730.2H609.0V731.7H609.5V732.7H610.0V733.6H610.5V734.0H611.0V733.3H611.5V732.3H612.0V732.5H612.5V732.8H613.0V733.5H613.5V733.8H614.0H614.5V733.6H615.0V733.1H615.5V733.5H616.0V733.9H616.5V734.4H617.0V734.6H617.5V734.7H618.0H618.5H619.0H619.5H620.0H620.5V734.6H621.0V734.4H621.5V734.2H622.0V733.4H622.5V732.3H623.0V731.7H623.5V729.6H624.0V729.7H624.5V729.2H625.0V729.4H625.5V730.9H626.0V724.1H626.5V716.2H627.0H627.5H628.0H628.5H629.0H629.5H630.0H630.5H631.0H631.5H632.0V722.1H632.5V734.7H633.0H633.5H634.0V734.5H634.5V734.2H635.0V733.7H635.5V732.4H636.0V731.3H636.5V729.0H637.0V727.9H637.5V728.0H638.0V728.9H638.5V729.7H639.0V731.4H639.5V732.5H640.0V733.6H640.5V734.2H641.0V734.5H641.5V734.6H642.0H642.5H643.0H643.5H644.0H644.5H645.0H645.5H646.0H646.5H647.0H647.5H648.0H648.5H649.0V734.6H649.5V734.3H650.0V732.7H650.5V730.4H651.0V730.0H651.5V731.9H652.0V733.5H652.5V734.5H653.0V734.7H653.5H654.0H654.5H655.0V734.4H655.5V733.6H656.0V733.4H656.5V733.7H657.0V734.4H657.5V734.7H658.0H658.5H659.0H659.5H660.0H660.5H661.0H661.5H662.0H662.5H663.0H663.5H664.0H664.5H665.0H665.5H666.0H666.5H667.0H667.5H668.0H668.5H669.0H669.5H670.0H670.5H671.0H671.5H672.0H672.5H673.0H673.5H674.0H674.5H675.0H675.5H676.0H676.5H677.0H677.5H678.0H678.5H679.0H679.5L679.0 734.7z" fill="#0000c8"/>
<line x1="469.00" y1="734.90" x2="679.00" y2="734.90" stroke="#c4c4f0" stroke-width="1.6" />
<text x="461.6" y="732.2" font-size="11.5" text-anchor="end" fill="#000" >LOH</text>
<text x="471" y="740.5" font-size="4.8" fill="#444" textLength="13.5" lengthAdjust="spacingAndGlyphs">[0 - 1.00]</text>
<path d="M469.0 757.5V757.5H469.5H470.0H470.5H471.0H471.5H472.0H472.5H473.0H473.5H474.0H474.5H475.0H475.5H476.0H476.5H477.0H477.5H478.0H478.5H479.0H479.5H480.0H480.5H481.0H481.5H482.0H482.5H483.0H483.5H484.0H484.5H485.0H485.5H486.0H486.5H487.0H487.5H488.0H488.5H489.0H489.5H490.0H490.5V757.4H491.0V757.2H491.5V756.9H492.0V756.4H492.5V756.0H493.0V755.8H493.5V755.6H494.0V756.4H494.5V756.8H495.0V757.2H495.5V757.4H496.0V757.5H496.5H497.0H497.5H498.0H498.5H499.0H499.5H500.0H500.5H501.0H501.5H502.0H502.5H503.0H503.5H504.0H504.5H505.0H505.5H506.0H506.5H507.0H507.5H508.0V757.3H508.5V757.2H509.0V756.9H509.5V756.7H510.0V756.4H510.5H511.0V756.4H511.5V756.6H512.0V756.9H512.5V757.2H513.0V757.3H513.5V757.4H514.0H514.5H515.0H515.5H516.0H516.5H517.0H517.5H518.0H518.5H519.0H519.5H520.0H520.5H521.0H521.5H522.0H522.5H523.0H523.5H524.0H524.5H525.0H525.5H526.0H526.5H527.0H527.5H528.0H528.5H529.0H529.5H530.0H530.5H531.0H531.5H532.0H532.5H533.0H533.5H534.0H534.5H535.0H535.5H536.0V757.4H536.5V757.0H537.0V756.6H537.5V757.0H538.0V757.4H538.5V757.5H539.0H539.5H540.0H540.5H541.0H541.5H542.0H542.5H543.0H543.5H544.0H544.5H545.0H545.5H546.0H546.5H547.0H547.5H548.0H548.5H549.0H549.5H550.0H550.5H551.0H551.5H552.0H552.5H553.0H553.5H554.0H554.5H555.0H555.5H556.0H556.5H557.0H557.5H558.0H558.5H559.0H559.5H560.0H560.5H561.0H561.5H562.0H562.5H563.0H563.5H564.0H564.5H565.0H565.5H566.0H566.5H567.0H567.5H568.0H568.5H569.0H569.5H570.0H570.5H571.0H571.5H572.0H572.5H573.0H573.5H574.0H574.5H575.0H575.5H576.0H576.5H577.0H577.5H578.0H578.5H579.0H579.5H580.0H580.5H581.0H581.5H582.0H582.5H583.0H583.5H584.0H584.5H585.0H585.5H586.0H586.5H587.0H587.5H588.0H588.5V757.3H589.0V756.2H589.5V753.2H590.0V748.6H590.5V749.6H591.0V752.5H591.5V755.9H592.0V757.2H592.5V757.5H593.0H593.5H594.0H594.5H595.0H595.5H596.0H596.5H597.0H597.5H598.0H598.5H599.0H599.5H600.0H600.5H601.0H601.5H602.0H602.5V757.4H603.0V757.2H603.5V757.0H604.0V756.7H604.5V756.2H605.0V755.5H605.5V755.0H606.0V754.8H606.5V755.3H607.0V755.5H607.5V756.0H608.0V756.3H608.5V756.7H609.0V756.6H609.5V756.4H610.0V755.8H610.5V755.4H611.0V755.8H611.5V756.0H612.0V756.1H612.5V756.4H613.0V756.8H613.5V757.0H614.0H614.5V756.9H615.0V756.5H615.5V756.2H616.0V756.1H616.5V756.0H617.0V756.6H617.5V756.9H618.0V757.2H618.5V757.4H619.0V757.5H619.5H620.0H620.5H621.0H621.5V757.4H622.0V757.2H622.5V756.8H623.0V756.4H623.5V755.6H624.0H624.5V755.7H625.0V756.2H625.5V756.9H626.0V745.3H626.5V739.0H627.0H627.5H628.0H628.5H629.0H629.5H630.0H630.5H631.0H631.5H632.0V745.7H632.5V757.5H633.0H633.5V757.4H634.0V757.3H634.5V756.9H635.0V756.4H635.5V755.5H636.0V754.8H636.5V753.9H637.0V753.1H637.5V753.4H638.0V754.6H638.5V755.6H639.0V756.5H639.5V756.9H640.0V757.3H640.5V757.4H641.0V757.5H641.5H642.0H642.5H643.0H643.5H644.0H644.5H645.0H645.5H646.0H646.5H647.0H647.5H648.0H648.5H649.0H649.5V757.3H650.0V756.7H650.5V754.6H651.0V754.2H651.5V755.6H652.0V757.0H652.5V757.4H653.0V757.5H653.5H654.0H654.5H655.0H655.5V757.4H656.0V757.1H656.5V756.8H657.0V756.5H657.5V756.6H658.0V757.1H658.5V757.4H659.0V757.5H659.5H660.0H660.5H661.0H661.5H662.0H662.5H663.0H663.5H664.0H664.5V757.4H665.0V757.2H665.5V756.9H666.0V756.7H666.5V757.0H667.0V757.2H667.5V757.4H668.0V757.5H668.5H669.0H669.5H670.0H670.5H671.0H671.5H672.0H672.5H673.0H673.5H674.0H674.5H675.0H675.5H676.0H676.5H677.0H677.5H678.0H678.5H679.0H679.5L679.0 757.5z" fill="#0000c8"/>
<line x1="469.00" y1="757.70" x2="679.00" y2="757.70" stroke="#c4c4f0" stroke-width="1.6" />
<text x="461.6" y="754.8" font-size="11.5" text-anchor="end" fill="#000" >DCT</text>
<text x="471" y="763.8" font-size="4.8" fill="#444" textLength="13.5" lengthAdjust="spacingAndGlyphs">[0 - 1.00]</text>
<path d="M469.0 780.8V780.8H469.5H470.0H470.5H471.0H471.5H472.0H472.5H473.0H473.5H474.0H474.5H475.0H475.5H476.0H476.5H477.0H477.5H478.0H478.5H479.0V780.7H479.5V780.3H480.0V780.1H480.5V780.3H481.0V780.7H481.5V780.8H482.0H482.5H483.0H483.5H484.0H484.5H485.0H485.5H486.0H486.5H487.0H487.5H488.0H488.5H489.0H489.5V780.7H490.0V780.6H490.5V780.4H491.0V780.1H491.5V779.9H492.0V779.5H492.5V779.4H493.0V779.2H493.5H494.0V779.3H494.5V779.9H495.0V780.2H495.5V780.4H496.0V780.6H496.5V780.7H497.0V780.8H497.5H498.0H498.5H499.0H499.5H500.0H500.5H501.0H501.5H502.0H502.5H503.0H503.5H504.0H504.5H505.0H505.5H506.0H506.5H507.0V780.6H507.5V780.4H508.0V780.1H508.5V779.7H509.0V778.8H509.5V778.3H510.0V777.2H510.5V776.6H511.0V776.8H511.5V776.1H512.0V777.4H512.5V777.6H513.0V778.9H513.5V779.7H514.0V780.0H514.5V780.4H515.0V780.6H515.5V780.7H516.0H516.5H517.0H517.5H518.0H518.5H519.0H519.5H520.0H520.5H521.0H521.5H522.0H522.5H523.0H523.5H524.0H524.5H525.0V780.6H525.5V780.3H526.0V780.0H526.5V780.3H527.0V780.6H527.5V780.8H528.0H528.5H529.0H529.5H530.0H530.5H531.0H531.5H532.0H532.5H533.0H533.5H534.0H534.5H535.0H535.5H536.0H536.5H537.0V780.6H537.5V780.3H538.0V779.9H538.5V780.3H539.0V780.6H539.5V780.8H540.0H540.5H541.0H541.5H542.0H542.5H543.0H543.5H544.0H544.5H545.0H545.5H546.0H546.5H547.0H547.5H548.0H548.5H549.0H549.5H550.0H550.5H551.0H551.5H552.0H552.5H553.0H553.5H554.0H554.5H555.0H555.5H556.0H556.5H557.0H557.5H558.0H558.5H559.0H559.5H560.0H560.5H561.0H561.5H562.0H562.5H563.0H563.5H564.0H564.5H565.0H565.5H566.0H566.5H567.0H567.5H568.0H568.5H569.0H569.5H570.0H570.5H571.0H571.5H572.0H572.5H573.0H573.5H574.0H574.5H575.0H575.5H576.0H576.5H577.0H577.5H578.0H578.5H579.0H579.5H580.0H580.5H581.0H581.5H582.0H582.5H583.0H583.5H584.0H584.5H585.0H585.5H586.0H586.5H587.0H587.5H588.0H588.5V780.6H589.0V779.7H589.5V776.5H590.0V772.4H590.5V770.8H591.0V776.3H591.5V779.2H592.0V780.5H592.5V780.8H593.0H593.5H594.0H594.5H595.0H595.5H596.0H596.5H597.0H597.5H598.0H598.5H599.0H599.5H600.0H600.5H601.0H601.5H602.0H602.5H603.0H603.5H604.0V780.6H604.5V780.5H605.0V780.2H605.5V779.9H606.0V779.6H606.5V779.3H607.0V779.4H607.5H608.0V779.6H608.5V780.0H609.0V780.2H609.5V780.5H610.0V780.6H610.5V780.7H611.0H611.5H612.0H612.5H613.0H613.5V780.6H614.0V780.0H614.5V779.5H615.0V779.0H615.5V779.4H616.0V780.1H616.5V780.6H617.0V780.8H617.5H618.0H618.5H619.0H619.5H620.0H620.5H621.0V780.7H621.5V780.6H622.0V780.2H622.5V779.2H623.0V778.5H623.5V777.1H624.0V777.1H624.5V777.8H625.0V778.1H625.5V779.4H626.0V768.7H626.5V762.3H627.0H627.5H628.0H628.5H629.0H629.5H630.0H630.5H631.0H631.5H632.0V769.6H632.5V780.8H633.0H633.5H634.0V780.7H634.5V780.4H635.0V779.5H635.5V778.2H636.0V775.8H636.5V774.3H637.0V772.5H637.5V770.8H638.0V773.2H638.5V773.3H639.0V775.7H639.5V778.6H640.0V779.7H640.5V780.4H641.0V780.7H641.5V780.8H642.0H642.5H643.0H643.5H644.0H644.5H645.0H645.5H646.0H646.5H647.0H647.5H648.0H648.5H649.0H649.5H650.0V780.3H650.5V777.7H651.0V765.3H651.5V762.2H652.0H652.5V774.9H653.0V779.5H653.5V780.7H654.0H654.5V780.4H655.0V779.9H655.5V779.3H656.0V778.8H656.5V779.2H657.0V779.8H657.5V780.4H658.0V780.7H658.5V780.8H659.0H659.5H660.0H660.5H661.0H661.5H662.0H662.5H663.0H663.5H664.0H664.5H665.0H665.5H666.0H666.5H667.0H667.5H668.0H668.5H669.0H669.5H670.0H670.5H671.0H671.5H672.0H672.5H673.0H673.5H674.0H674.5H675.0H675.5H676.0H676.5H677.0H677.5H678.0H678.5H679.0H679.5L679.0 780.8z" fill="#0000c8"/>
<line x1="469.00" y1="781.00" x2="679.00" y2="781.00" stroke="#3c3cd0" stroke-width="1.0" />
<text x="461.6" y="778.0" font-size="11.5" text-anchor="end" fill="#000" >IC</text>
<text x="471" y="786.6" font-size="4.8" fill="#444" textLength="13.5" lengthAdjust="spacingAndGlyphs">[0 - 1.00]</text>
<path d="M469.0 803.6V803.6H469.5H470.0H470.5H471.0H471.5H472.0H472.5H473.0H473.5H474.0H474.5H475.0H475.5H476.0H476.5H477.0H477.5H478.0H478.5H479.0H479.5H480.0H480.5H481.0H481.5H482.0H482.5H483.0H483.5H484.0H484.5H485.0H485.5H486.0H486.5H487.0H487.5H488.0H488.5H489.0H489.5H490.0V803.4H490.5V803.2H491.0V802.8H491.5V802.5H492.0V802.0H492.5V801.1H493.0V801.0H493.5V801.1H494.0V801.8H494.5V802.5H495.0V803.0H495.5V803.2H496.0V803.4H496.5V803.5H497.0H497.5H498.0H498.5H499.0H499.5H500.0H500.5H501.0H501.5H502.0H502.5H503.0H503.5H504.0H504.5H505.0H505.5H506.0H506.5H507.0H507.5H508.0V803.4H508.5V803.1H509.0V802.8H509.5V803.1H510.0V803.4H510.5V803.6H511.0H511.5H512.0H512.5H513.0H513.5H514.0H514.5H515.0H515.5H516.0H516.5H517.0H517.5H518.0H518.5H519.0V803.4H519.5V803.1H520.0V802.8H520.5V803.1H521.0V803.4H521.5V803.6H522.0H522.5H523.0H523.5H524.0H524.5H525.0H525.5H526.0H526.5H527.0H527.5H528.0H528.5H529.0H529.5H530.0H530.5H531.0H531.5H532.0H532.5H533.0H533.5H534.0H534.5H535.0H535.5H536.0H536.5H537.0H537.5H538.0H538.5H539.0H539.5H540.0H540.5H541.0H541.5H542.0H542.5H543.0H543.5H544.0H544.5H545.0H545.5H546.0H546.5H547.0H547.5H548.0H548.5H549.0H549.5H550.0H550.5H551.0H551.5H552.0H552.5H553.0H553.5H554.0H554.5H555.0H555.5H556.0H556.5H557.0H557.5H558.0H558.5H559.0H559.5H560.0H560.5H561.0H561.5H562.0H562.5H563.0H563.5H564.0H564.5H565.0H565.5H566.0H566.5H567.0H567.5H568.0H568.5H569.0H569.5H570.0H570.5H571.0H571.5H572.0H572.5H573.0H573.5H574.0H574.5H575.0H575.5H576.0H576.5H577.0H577.5H578.0H578.5H579.0H579.5H580.0H580.5H581.0H581.5H582.0H582.5H583.0H583.5H584.0H584.5H585.0H585.5H586.0H586.5H587.0H587.5H588.0H588.5V803.5H589.0V803.0H589.5V801.5H590.0V798.6H590.5V798.3H591.0V801.0H591.5V802.8H592.0V803.4H592.5V803.6H593.0H593.5H594.0H594.5H595.0H595.5H596.0H596.5H597.0H597.5H598.0H598.5H599.0H599.5H600.0H600.5H601.0H601.5H602.0H602.5H603.0H603.5H604.0H604.5V803.4H605.0V803.1H605.5V802.5H606.0V801.7H606.5V800.8H607.0V801.0H607.5V800.9H608.0V801.5H608.5V802.4H609.0V803.1H609.5V803.4H610.0V803.5H610.5H611.0H611.5H612.0H612.5H613.0H613.5H614.0V803.5H614.5V803.4H615.0V803.2H615.5V803.0H616.0V802.9H616.5V802.6H617.0H617.5V802.8H618.0V802.9H618.5V803.0H619.0V803.2H619.5V803.3H620.0H620.5V803.1H621.0V803.0H621.5V802.4H622.0V802.2H622.5V801.6H623.0V801.5H623.5V801.3H624.0V801.2H624.5V800.6H625.0V798.8H625.5V797.6H626.0V795.6H626.5V793.1H627.0V794.3H627.5V795.0H628.0V794.2H628.5V793.3H629.0V792.0H629.5V785.0H630.0H630.5H631.0H631.5V786.3H632.0V794.8H632.5V799.2H633.0V802.2H633.5V803.0H634.0V803.1H634.5V802.8H635.0V801.9H635.5V800.3H636.0V799.9H636.5V797.6H637.0V798.6H637.5V798.9H638.0V799.5H638.5V801.0H639.0V801.9H639.5V802.7H640.0V803.2H640.5V803.5H641.0V803.6H641.5H642.0H642.5H643.0H643.5H644.0H644.5H645.0H645.5H646.0H646.5H647.0H647.5H648.0H648.5H649.0H649.5H650.0V803.5H650.5V802.8H651.0V800.4H651.5V797.3H652.0V799.4H652.5V802.1H653.0V803.3H653.5V803.5H654.0H654.5V803.4H655.0V803.2H655.5V803.0H656.0V802.8H656.5V802.7H657.0H657.5V802.8H658.0V802.9H658.5V803.0H659.0V803.2H659.5V803.4H660.0V803.5H660.5V803.6H661.0H661.5H662.0H662.5H663.0H663.5H664.0H664.5H665.0H665.5H666.0H666.5H667.0H667.5H668.0H668.5H669.0H669.5H670.0H670.5H671.0H671.5H672.0H672.5H673.0H673.5H674.0H674.5H675.0H675.5H676.0H676.5H677.0H677.5H678.0H678.5H679.0H679.5L679.0 803.6z" fill="#0000c8"/>
<line x1="469.00" y1="803.80" x2="679.00" y2="803.80" stroke="#3c3cd0" stroke-width="1.0" />
<text x="461.6" y="801.0" font-size="11.5" text-anchor="end" fill="#000" >PC</text>
<text x="471" y="809.4" font-size="4.8" fill="#444" textLength="13.5" lengthAdjust="spacingAndGlyphs">[0 - 1.00]</text>
<path d="M469.0 826.4V826.4H469.5H470.0H470.5H471.0H471.5H472.0H472.5H473.0H473.5H474.0H474.5H475.0H475.5H476.0H476.5H477.0H477.5H478.0H478.5H479.0H479.5H480.0H480.5V826.3H481.0V826.1H481.5V825.7H482.0V825.6H482.5V825.8H483.0V826.1H483.5V826.3H484.0V826.4H484.5H485.0H485.5H486.0H486.5H487.0H487.5H488.0H488.5V826.3H489.0V826.0H489.5V825.2H490.0V823.6H490.5V823.0H491.0V823.5H491.5V825.0H492.0V826.0H492.5V826.3H493.0V826.0H493.5V825.0H494.0V823.0H494.5V822.7H495.0V823.1H495.5V825.0H496.0V826.0H496.5V826.3H497.0V826.4H497.5H498.0H498.5V826.3H499.0V826.1H499.5V825.9H500.0H500.5H501.0V826.1H501.5V826.3H502.0V826.4H502.5H503.0H503.5H504.0H504.5H505.0H505.5H506.0H506.5H507.0H507.5H508.0H508.5H509.0H509.5H510.0H510.5H511.0H511.5H512.0H512.5H513.0H513.5H514.0H514.5H515.0H515.5H516.0H516.5H517.0H517.5H518.0H518.5H519.0H519.5H520.0H520.5H521.0H521.5H522.0H522.5H523.0V826.2H523.5V826.0H524.0V825.9H524.5V825.6H525.0V825.5H525.5V825.5H526.0V825.8H526.5V826.0H527.0V826.2H527.5V826.3H528.0H528.5H529.0H529.5H530.0H530.5H531.0H531.5H532.0H532.5V826.3H533.0V826.2H533.5V825.9H534.0V825.6H534.5V825.1H535.0V825.0H535.5V825.1H536.0V825.5H536.5V825.9H537.0V826.1H537.5V826.1H538.0V825.6H538.5V824.8H539.0V823.8H539.5V824.5H540.0V825.5H540.5V826.1H541.0V826.4H541.5H542.0H542.5H543.0H543.5H544.0H544.5V826.3H545.0V826.1H545.5V825.9H546.0V825.5H546.5V825.1H547.0V824.5H547.5V824.3H548.0V824.1H548.5H549.0V824.7H549.5V825.1H550.0V825.6H550.5V825.9H551.0V826.1H551.5V826.3H552.0V826.4H552.5H553.0H553.5V826.0H554.0V825.1H554.5V823.6H555.0V822.6H555.5V823.4H556.0V825.2H556.5V826.0H557.0V826.3H557.5V826.4H558.0H558.5H559.0H559.5H560.0H560.5H561.0H561.5H562.0H562.5H563.0H563.5H564.0H564.5H565.0H565.5H566.0H566.5H567.0H567.5H568.0H568.5H569.0H569.5H570.0H570.5H571.0H571.5V826.3H572.0V826.1H572.5V825.8H573.0V825.3H573.5V824.9H574.0V824.5H574.5H575.0V825.0H575.5V825.6H576.0V826.1H576.5V826.3H577.0V826.4H577.5H578.0H578.5H579.0H579.5H580.0H580.5H581.0H581.5H582.0H582.5H583.0H583.5H584.0H584.5H585.0H585.5H586.0H586.5H587.0H587.5H588.0V826.2H588.5V825.6H589.0V823.5H589.5V818.6H590.0V816.5H590.5V813.2H591.0V816.7H591.5V822.4H592.0V825.2H592.5V826.2H593.0V826.4H593.5H594.0H594.5H595.0H595.5H596.0H596.5H597.0H597.5H598.0H598.5H599.0H599.5H600.0H600.5H601.0V826.3H601.5V826.1H602.0V825.7H602.5V824.4H603.0V823.3H603.5V821.4H604.0V822.1H604.5V821.9H605.0V823.2H605.5V824.2H606.0V824.3H606.5V823.6H607.0V821.4H607.5V820.6H608.0V818.6H608.5V820.8H609.0V822.4H609.5V823.6H610.0V825.4H610.5V825.9H611.0V826.2H611.5H612.0V826.1H612.5V825.8H613.0V824.8H613.5V823.7H614.0V822.8H614.5V822.5H615.0V822.9H615.5V824.1H616.0V824.7H616.5V825.7H617.0V825.9H617.5V825.7H618.0V824.8H618.5V823.9H619.0V822.6H619.5V822.1H620.0V823.2H620.5V823.7H621.0V824.7H621.5V825.2H622.0V824.6H622.5V823.3H623.0V821.3H623.5V818.6H624.0V818.4H624.5V820.4H625.0V820.7H625.5V823.9H626.0V815.0H626.5V807.9H627.0H627.5H628.0H628.5H629.0H629.5H630.0H630.5H631.0H631.5H632.0V814.5H632.5V826.4H633.0H633.5H634.0H634.5H635.0H635.5H636.0V826.3H636.5V825.1H637.0V820.2H637.5V812.5H638.0V811.6H638.5V818.9H639.0V824.7H639.5V826.2H640.0V826.4H640.5H641.0H641.5H642.0H642.5H643.0H643.5H644.0H644.5H645.0H645.5H646.0H646.5H647.0H647.5H648.0H648.5H649.0H649.5H650.0V826.0H650.5V824.2H651.0V820.4H651.5V816.5H652.0V818.5H652.5V822.7H653.0V825.6H653.5V826.3H654.0V826.4H654.5V825.4H655.0V823.4H655.5V823.5H656.0V823.6H656.5V823.9H657.0V823.8H657.5V823.7H658.0V823.2H658.5V823.8H659.0H659.5V823.6H660.0H660.5V823.9H661.0V823.3H661.5V825.4H662.0V826.4H662.5H663.0H663.5V826.3H664.0V826.0H664.5V825.7H665.0V825.4H665.5V825.7H666.0V826.0H666.5V826.3H667.0V826.4H667.5H668.0H668.5H669.0H669.5H670.0H670.5H671.0H671.5H672.0H672.5H673.0H673.5H674.0H674.5H675.0H675.5H676.0H676.5H677.0H677.5H678.0H678.5H679.0H679.5L679.0 826.4z" fill="#0000c8"/>
<line x1="469.00" y1="826.60" x2="679.00" y2="826.60" stroke="#3c3cd0" stroke-width="1.0" />
<text x="461.6" y="823.2" font-size="11.5" text-anchor="end" fill="#000" >Podo</text>
<text x="471" y="832.3" font-size="4.8" fill="#444" textLength="13.5" lengthAdjust="spacingAndGlyphs">[0 - 1.00]</text>
<path d="M469.0 849.3V849.3H469.5H470.0H470.5H471.0H471.5H472.0H472.5H473.0H473.5H474.0H474.5H475.0H475.5H476.0H476.5H477.0H477.5H478.0H478.5H479.0H479.5H480.0H480.5H481.0H481.5H482.0H482.5H483.0H483.5H484.0H484.5H485.0H485.5H486.0H486.5H487.0H487.5H488.0H488.5H489.0H489.5H490.0H490.5H491.0V849.2H491.5V848.9H492.0V848.4H492.5V847.5H493.0V847.4H493.5V847.7H494.0V848.3H494.5V848.9H495.0V849.2H495.5V849.3H496.0H496.5H497.0H497.5H498.0H498.5H499.0H499.5H500.0H500.5H501.0H501.5H502.0H502.5H503.0H503.5H504.0H504.5H505.0H505.5H506.0H506.5H507.0H507.5H508.0H508.5H509.0H509.5H510.0H510.5H511.0H511.5H512.0H512.5H513.0H513.5H514.0H514.5H515.0H515.5H516.0H516.5H517.0H517.5H518.0H518.5V849.2H519.0V848.7H519.5V847.8H520.0V847.1H520.5V847.2H521.0V847.9H521.5V848.8H522.0V849.2H522.5V849.3H523.0H523.5H524.0H524.5H525.0H525.5H526.0H526.5H527.0H527.5H528.0H528.5H529.0H529.5H530.0H530.5H531.0H531.5H532.0H532.5H533.0H533.5H534.0H534.5H535.0H535.5H536.0H536.5H537.0H537.5H538.0H538.5H539.0H539.5H540.0H540.5H541.0H541.5H542.0H542.5H543.0H543.5H544.0H544.5H545.0H545.5H546.0H546.5H547.0V849.1H547.5V848.8H548.0V848.5H548.5V848.8H549.0V849.1H549.5V849.3H550.0H550.5H551.0H551.5H552.0H552.5H553.0H553.5H554.0V849.1H554.5V848.8H555.0V848.5H555.5V848.8H556.0V849.1H556.5V849.3H557.0H557.5H558.0H558.5H559.0H559.5H560.0H560.5H561.0H561.5H562.0H562.5H563.0H563.5H564.0H564.5H565.0H565.5H566.0H566.5H567.0H567.5H568.0H568.5H569.0H569.5H570.0H570.5H571.0H571.5H572.0H572.5H573.0H573.5H574.0H574.5H575.0H575.5H576.0H576.5H577.0H577.5H578.0H578.5H579.0H579.5H580.0H580.5H581.0H581.5H582.0H582.5H583.0H583.5H584.0H584.5H585.0H585.5H586.0H586.5H587.0H587.5H588.0H588.5V849.2H589.0V848.5H589.5V845.0H590.0V838.8H590.5H591.0V844.2H591.5V848.1H592.0V849.2H592.5V849.3H593.0H593.5H594.0H594.5H595.0H595.5H596.0H596.5H597.0H597.5H598.0H598.5H599.0H599.5H600.0H600.5H601.0H601.5H602.0H602.5H603.0H603.5H604.0H604.5H605.0H605.5H606.0H606.5H607.0H607.5H608.0H608.5H609.0H609.5H610.0H610.5H611.0H611.5H612.0H612.5H613.0H613.5H614.0H614.5H615.0H615.5H616.0H616.5H617.0H617.5V849.2H618.0V849.0H618.5V848.7H619.0V848.2H619.5V847.8H620.0H620.5H621.0V848.3H621.5V848.7H622.0V849.0H622.5V849.2H623.0H623.5V848.9H624.0V848.4H624.5V847.1H625.0V845.5H625.5V843.6H626.0V844.3H626.5V843.6H627.0V845.2H627.5V844.5H628.0V843.7H628.5V837.7H629.0V833.3H629.5V830.7H630.0H630.5H631.0V832.6H631.5V837.7H632.0V843.5H632.5V847.1H633.0V848.4H633.5V848.8H634.0V848.6H634.5V848.1H635.0V846.6H635.5V845.6H636.0V844.6H636.5V844.3H637.0H637.5V846.1H638.0V846.9H638.5V847.7H639.0V848.6H639.5V849.0H640.0V849.2H640.5V849.3H641.0H641.5H642.0H642.5H643.0H643.5H644.0H644.5H645.0H645.5H646.0H646.5H647.0H647.5H648.0H648.5H649.0H649.5H650.0V849.2H650.5V848.8H651.0V847.6H651.5V846.0H652.0V847.4H652.5V848.4H653.0V849.2H653.5V849.3H654.0H654.5V849.2H655.0V848.9H655.5V848.6H656.0V848.4H656.5V848.5H657.0V848.9H657.5V849.2H658.0V849.3H658.5H659.0H659.5H660.0H660.5H661.0H661.5H662.0H662.5H663.0H663.5H664.0H664.5H665.0H665.5H666.0H666.5H667.0H667.5H668.0H668.5H669.0H669.5H670.0H670.5H671.0H671.5H672.0H672.5H673.0H673.5H674.0H674.5H675.0H675.5H676.0H676.5H677.0H677.5H678.0H678.5H679.0H679.5L679.0 849.3z" fill="#0000c8"/>
<line x1="469.00" y1="849.50" x2="679.00" y2="849.50" stroke="#3c3cd0" stroke-width="1.0" />
<text x="461.6" y="846.2" font-size="11.5" text-anchor="end" fill="#000" >Endo</text>
<text x="471" y="855.1" font-size="4.8" fill="#444" textLength="13.5" lengthAdjust="spacingAndGlyphs">[0 - 1.00]</text>
<path d="M469.0 872.1V872.1H469.5H470.0H470.5H471.0H471.5H472.0H472.5H473.0H473.5H474.0H474.5H475.0H475.5H476.0H476.5H477.0H477.5H478.0V872.0H478.5V871.9H479.0V871.6H479.5V871.2H480.0V871.0H480.5V870.7H481.0V871.1H481.5V871.2H482.0V871.6H482.5V871.9H483.0V872.0H483.5V872.1H484.0H484.5H485.0H485.5H486.0H486.5H487.0H487.5H488.0H488.5H489.0H489.5H490.0H490.5H491.0V872.0H491.5V871.6H492.0V871.2H492.5V870.1H493.0V869.8H493.5V870.2H494.0V871.1H494.5V871.6H495.0V872.0H495.5V872.1H496.0H496.5H497.0H497.5H498.0H498.5H499.0H499.5H500.0H500.5H501.0H501.5H502.0H502.5H503.0H503.5H504.0H504.5H505.0H505.5H506.0H506.5H507.0H507.5H508.0V872.0H508.5V871.4H509.0V870.0H509.5V868.3H510.0V869.8H510.5V871.3H511.0V871.7H511.5V871.5H512.0V870.9H512.5V870.6H513.0V870.3H513.5V870.4H514.0V871.0H514.5V871.5H515.0V871.7H515.5V871.9H516.0V871.8H516.5V871.5H517.0V871.1H517.5V870.7H518.0H518.5H519.0V871.0H519.5V871.5H520.0V871.8H520.5V872.0H521.0V872.1H521.5H522.0H522.5H523.0H523.5H524.0H524.5H525.0H525.5H526.0H526.5H527.0V871.8H527.5V871.2H528.0V871.0H528.5V871.2H529.0V871.8H529.5V872.1H530.0H530.5H531.0H531.5H532.0H532.5H533.0H533.5H534.0V871.9H534.5V871.4H535.0V871.2H535.5V871.4H536.0V871.9H536.5V872.1H537.0H537.5H538.0H538.5H539.0H539.5H540.0H540.5H541.0H541.5H542.0H542.5H543.0H543.5H544.0H544.5H545.0H545.5H546.0H546.5H547.0H547.5H548.0H548.5H549.0H549.5H550.0V871.9H550.5V871.7H551.0V871.3H551.5V870.7H552.0V870.3H552.5V869.3H553.0V868.2H553.5V868.4H554.0V868.2H554.5V868.5H555.0H555.5V869.2H556.0V870.4H556.5V870.9H557.0V871.3H557.5V871.7H558.0V871.9H558.5V872.0H559.0H559.5H560.0H560.5H561.0H561.5H562.0H562.5V872.0H563.0V871.7H563.5V870.9H564.0V870.0H564.5V867.8H565.0V868.0H565.5V868.6H566.0V869.3H566.5V870.8H567.0V871.7H567.5V872.0H568.0V872.1H568.5H569.0H569.5H570.0H570.5H571.0H571.5H572.0H572.5H573.0H573.5H574.0H574.5H575.0H575.5H576.0H576.5H577.0H577.5H578.0H578.5H579.0H579.5H580.0H580.5H581.0H581.5H582.0H582.5H583.0H583.5H584.0H584.5H585.0H585.5H586.0H586.5H587.0H587.5V871.8H588.0V870.9H588.5V869.4H589.0V866.8H589.5V865.5H590.0V866.1H590.5V869.5H591.0V870.9H591.5V871.8H592.0V872.1H592.5H593.0H593.5H594.0H594.5H595.0H595.5H596.0H596.5H597.0H597.5H598.0H598.5H599.0H599.5H600.0H600.5H601.0H601.5H602.0H602.5H603.0H603.5H604.0H604.5H605.0V871.9H605.5V871.1H606.0V868.8H606.5V868.0H607.0V870.1H607.5V871.6H608.0V872.0H608.5V872.1H609.0H609.5H610.0H610.5H611.0H611.5H612.0H612.5H613.0H613.5H614.0H614.5H615.0H615.5V872.0H616.0V871.7H616.5V871.1H617.0V870.0H617.5V866.6H618.0V863.3H618.5V858.6H619.0V855.9H619.5V853.6H620.0V858.5H620.5V861.7H621.0V864.4H621.5V866.4H622.0V868.3H622.5V868.6H623.0V868.2H623.5V867.4H624.0V867.1H624.5V866.9H625.0V867.7H625.5V869.3H626.0V869.5H626.5V868.3H627.0V866.2H627.5V862.2H628.0V855.3H628.5V853.5H629.0H629.5H630.0H630.5H631.0H631.5V854.5H632.0V861.2H632.5V864.8H633.0V866.9H633.5V868.4H634.0V865.3H634.5V860.5H635.0V862.3H635.5V866.3H636.0V869.3H636.5V871.5H637.0V872.0H637.5V872.1H638.0H638.5H639.0H639.5H640.0H640.5H641.0H641.5H642.0H642.5H643.0H643.5H644.0H644.5H645.0H645.5V871.8H646.0V871.1H646.5V870.0H647.0V868.8H647.5V870.1H648.0V870.9H648.5V871.8H649.0V872.0H649.5V871.7H650.0V870.8H650.5V869.1H651.0V869.0H651.5V869.5H652.0V871.0H652.5V871.7H653.0V872.0H653.5V871.9H654.0V871.5H654.5V870.4H655.0V869.9H655.5V870.4H656.0V871.4H656.5V871.9H657.0V872.1H657.5H658.0H658.5V871.9H659.0V871.5H659.5V871.1H660.0V870.4H660.5V871.1H661.0V871.5H661.5V871.9H662.0V872.1H662.5H663.0H663.5H664.0H664.5H665.0H665.5V871.9H666.0V871.5H666.5V870.8H667.0V870.7H667.5V870.9H668.0V871.5H668.5V871.9H669.0V872.1H669.5H670.0H670.5V871.9H671.0V871.5H671.5V870.9H672.0V870.5H672.5V870.8H673.0V871.5H673.5V871.9H674.0V872.1H674.5H675.0H675.5H676.0H676.5H677.0H677.5H678.0H678.5H679.0H679.5L679.0 872.1z" fill="#0000c8"/>
<line x1="469.00" y1="872.30" x2="679.00" y2="872.30" stroke="#3c3cd0" stroke-width="1.0" />
<text x="461.6" y="867.8" font-size="11.5" text-anchor="end" fill="#000" >Immune</text>
<text x="471" y="878.2" font-size="4.8" fill="#444" textLength="13.5" lengthAdjust="spacingAndGlyphs">[0 - 1.00]</text>
<path d="M469.0 895.2V895.2H469.5H470.0H470.5H471.0H471.5H472.0H472.5H473.0H473.5H474.0H474.5H475.0H475.5H476.0H476.5H477.0H477.5H478.0H478.5H479.0H479.5H480.0H480.5H481.0H481.5H482.0H482.5H483.0H483.5H484.0H484.5H485.0H485.5H486.0H486.5H487.0H487.5H488.0H488.5H489.0H489.5H490.0V888.7H490.5V889.3H491.0V888.6H491.5V895.2H492.0H492.5H493.0H493.5V889.8H494.0V889.5H494.5V888.6H495.0V895.2H495.5H496.0H496.5H497.0H497.5H498.0H498.5H499.0H499.5H500.0H500.5H501.0H501.5H502.0H502.5H503.0H503.5H504.0H504.5H505.0H505.5H506.0H506.5H507.0H507.5H508.0H508.5H509.0H509.5H510.0H510.5H511.0H511.5H512.0H512.5H513.0H513.5H514.0H514.5H515.0H515.5H516.0H516.5H517.0H517.5H518.0H518.5H519.0V892.6H519.5V891.9H520.0V892.6H520.5V892.2H521.0V895.2H521.5H522.0H522.5H523.0H523.5H524.0H524.5H525.0H525.5H526.0H526.5H527.0H527.5H528.0H528.5H529.0H529.5H530.0H530.5H531.0H531.5H532.0H532.5H533.0H533.5H534.0H534.5H535.0H535.5H536.0H536.5V892.7H537.0V892.2H537.5V892.4H538.0V895.2H538.5H539.0H539.5H540.0H540.5H541.0H541.5H542.0H542.5H543.0H543.5H544.0H544.5H545.0H545.5H546.0H546.5H547.0H547.5H548.0H548.5H549.0H549.5H550.0H550.5H551.0H551.5H552.0V892.2H552.5V892.4H553.0V892.7H553.5V895.2H554.0H554.5H555.0H555.5H556.0H556.5H557.0H557.5H558.0H558.5H559.0H559.5H560.0H560.5H561.0H561.5H562.0H562.5H563.0H563.5H564.0H564.5H565.0H565.5H566.0H566.5H567.0H567.5H568.0H568.5H569.0H569.5H570.0H570.5H571.0H571.5H572.0H572.5H573.0H573.5H574.0H574.5H575.0H575.5H576.0H576.5H577.0H577.5H578.0H578.5H579.0H579.5H580.0H580.5H581.0H581.5H582.0H582.5H583.0H583.5H584.0H584.5H585.0H585.5V891.9H586.0V892.1H586.5V891.9H587.0V892.7H587.5V891.9H588.0V895.2H588.5V892.2H589.0V891.9H589.5V892.1H590.0V892.3H590.5V892.5H591.0V895.2H591.5H592.0H592.5H593.0H593.5H594.0H594.5H595.0H595.5H596.0H596.5H597.0H597.5H598.0H598.5H599.0H599.5H600.0H600.5H601.0H601.5H602.0H602.5H603.0H603.5H604.0H604.5H605.0H605.5H606.0H606.5H607.0H607.5H608.0H608.5H609.0H609.5H610.0H610.5H611.0V892.7H611.5V892.1H612.0V895.2H612.5H613.0H613.5H614.0H614.5H615.0H615.5H616.0H616.5H617.0H617.5H618.0H618.5H619.0H619.5H620.0H620.5H621.0H621.5H622.0H622.5H623.0V889.8H623.5V890.5H624.0V894.9H624.5V894.5H625.0V893.5H625.5V891.8H626.0V889.1H626.5V884.3H627.0V878.6H627.5V876.6H628.0H628.5H629.0H629.5H630.0H630.5V881.6H631.0V883.8H631.5V889.5H632.0V891.5H632.5V893.4H633.0V894.5H633.5V894.9H634.0V895.1H634.5V895.2H635.0V895.1H635.5V894.7H636.0V893.6H636.5V890.8H637.0V887.1H637.5V885.4H638.0V886.1H638.5V890.3H639.0V892.6H639.5V894.3H640.0V895.0H640.5V895.2H641.0H641.5H642.0H642.5H643.0H643.5H644.0H644.5H645.0H645.5H646.0V895.1H646.5V894.8H647.0V893.9H647.5V892.0H648.0V890.8H648.5V891.9H649.0V893.6H649.5V894.8H650.0V895.0H650.5V893.7H651.0V889.5H651.5V885.9H652.0V889.1H652.5V893.1H653.0V894.8H653.5V895.2H654.0H654.5H655.0H655.5H656.0H656.5H657.0H657.5H658.0H658.5H659.0H659.5H660.0V892.6H660.5V892.0H661.0H661.5V895.2H662.0H662.5H663.0H663.5V892.0H664.0H664.5H665.0V895.2H665.5H666.0H666.5V892.4H667.0V892.7H667.5V892.5H668.0V895.2H668.5H669.0H669.5H670.0H670.5H671.0H671.5H672.0H672.5H673.0H673.5H674.0H674.5H675.0H675.5H676.0H676.5H677.0H677.5H678.0H678.5H679.0H679.5L679.0 895.2z" fill="#0000c8"/>
<line x1="469.00" y1="895.40" x2="679.00" y2="895.40" stroke="#3c3cd0" stroke-width="1.0" />
<text x="461.6" y="890.6" font-size="11.5" text-anchor="end" fill="#000" >Lymph</text>
<text x="471" y="900.9" font-size="4.8" fill="#444" textLength="13.5" lengthAdjust="spacingAndGlyphs">[0 - 1.00]</text>
<path d="M469.0 917.9V917.9H469.5H470.0H470.5H471.0H471.5H472.0H472.5H473.0H473.5H474.0H474.5H475.0H475.5H476.0H476.5H477.0H477.5H478.0H478.5H479.0H479.5H480.0H480.5H481.0H481.5H482.0H482.5H483.0H483.5H484.0H484.5H485.0H485.5H486.0H486.5H487.0H487.5H488.0H488.5H489.0H489.5V917.7H490.0V917.5H490.5V917.0H491.0V916.5H491.5V915.9H492.0V915.0H492.5V913.9H493.0V913.7H493.5V914.5H494.0V915.2H494.5V916.0H495.0V916.3H495.5V917.0H496.0V917.5H496.5V917.7H497.0V917.8H497.5H498.0H498.5H499.0H499.5H500.0H500.5H501.0H501.5H502.0H502.5H503.0V917.7H503.5V917.4H504.0V917.1H504.5V917.4H505.0V917.7H505.5V917.9H506.0H506.5H507.0H507.5H508.0H508.5H509.0H509.5H510.0V917.7H510.5V917.4H511.0V917.1H511.5V917.4H512.0V917.7H512.5V917.9H513.0H513.5H514.0H514.5H515.0H515.5H516.0H516.5H517.0H517.5H518.0H518.5H519.0V917.7H519.5V917.4H520.0V917.1H520.5V917.4H521.0V917.7H521.5V917.9H522.0H522.5H523.0H523.5H524.0H524.5H525.0H525.5H526.0H526.5H527.0H527.5H528.0H528.5H529.0H529.5H530.0H530.5H531.0H531.5H532.0H532.5H533.0H533.5H534.0H534.5H535.0H535.5H536.0H536.5H537.0H537.5H538.0H538.5H539.0H539.5H540.0H540.5V917.8H541.0V917.5H541.5V917.0H542.0V916.8H542.5V917.2H543.0V917.5H543.5V917.8H544.0V917.9H544.5H545.0H545.5H546.0H546.5H547.0H547.5H548.0V917.7H548.5V917.3H549.0V916.9H549.5V916.6H550.0V916.9H550.5V917.3H551.0V917.7H551.5V917.9H552.0H552.5H553.0H553.5H554.0H554.5H555.0H555.5H556.0H556.5H557.0H557.5H558.0H558.5H559.0V917.7H559.5V917.4H560.0V917.1H560.5V917.4H561.0V917.7H561.5V917.9H562.0H562.5H563.0H563.5H564.0V917.7H564.5V917.4H565.0V917.1H565.5V917.4H566.0V917.7H566.5V917.9H567.0H567.5H568.0H568.5H569.0H569.5H570.0H570.5H571.0H571.5H572.0H572.5H573.0H573.5H574.0H574.5H575.0H575.5H576.0H576.5H577.0H577.5H578.0H578.5H579.0H579.5H580.0H580.5H581.0H581.5H582.0H582.5H583.0H583.5H584.0H584.5H585.0H585.5H586.0H586.5H587.0H587.5H588.0H588.5H589.0V917.5H589.5V915.9H590.0V913.4H590.5H591.0V915.5H591.5V917.4H592.0V917.8H592.5V917.9H593.0H593.5H594.0H594.5H595.0H595.5H596.0H596.5H597.0H597.5H598.0H598.5V917.8H599.0V917.6H599.5V917.2H600.0V917.1H600.5V917.4H601.0V917.6H601.5V917.8H602.0V917.9H602.5H603.0H603.5H604.0H604.5H605.0H605.5V917.8H606.0V917.6H606.5V917.3H607.0V917.1H607.5V917.3H608.0V917.6H608.5V917.8H609.0V917.9H609.5H610.0H610.5H611.0H611.5H612.0H612.5H613.0H613.5H614.0H614.5H615.0H615.5H616.0H616.5H617.0H617.5V917.8H618.0V917.7H618.5V917.3H619.0V916.6H619.5V915.3H620.0V914.5H620.5H621.0V914.3H621.5V915.5H622.0V916.0H622.5V916.3H623.0V916.2H623.5V915.8H624.0V914.5H624.5V914.8H625.0V913.9H625.5V914.4H626.0V914.5H626.5V915.4H627.0V916.1H627.5V916.7H628.0V915.7H628.5V913.1H629.0V909.2H629.5V903.0H630.0V899.4H630.5V899.3H631.0V904.4H631.5V907.4H632.0V911.1H632.5V913.1H633.0V914.1H633.5V914.1H634.0V914.2H634.5V913.7H635.0V913.9H635.5V915.1H636.0V915.0H636.5V915.5H637.0V916.2H637.5V916.5H638.0V916.2H638.5V916.0H639.0V915.7H639.5V915.3H640.0V915.5H640.5V915.5H641.0V916.1H641.5V916.7H642.0V916.9H642.5V917.4H643.0V917.6H643.5V917.8H644.0V917.9H644.5H645.0H645.5H646.0H646.5H647.0H647.5H648.0H648.5H649.0H649.5V917.8H650.0V917.6H650.5V917.3H651.0V917.1H651.5V916.7H652.0V916.5H652.5V916.4H653.0V916.9H653.5V917.3H654.0V917.6H654.5V917.8H655.0V917.9H655.5H656.0H656.5H657.0H657.5H658.0H658.5H659.0H659.5H660.0H660.5H661.0H661.5H662.0H662.5H663.0H663.5V917.8H664.0V917.6H664.5V917.3H665.0V917.1H665.5V917.3H666.0V917.6H666.5V917.8H667.0V917.9H667.5H668.0H668.5H669.0H669.5H670.0H670.5H671.0H671.5H672.0H672.5H673.0H673.5H674.0H674.5H675.0H675.5H676.0H676.5H677.0H677.5H678.0H678.5H679.0H679.5L679.0 917.9z" fill="#0000c8"/>
<line x1="469.00" y1="918.10" x2="679.00" y2="918.10" stroke="#3c3cd0" stroke-width="1.0" />
<text x="461.6" y="914.5" font-size="11.5" text-anchor="end" fill="#000" >Stroma</text>
<text x="471" y="923.8" font-size="4.8" fill="#444" textLength="13.5" lengthAdjust="spacingAndGlyphs">[0 - 2.00]</text>
<path d="M469.0 935.4V934.4H469.5V934.2H470.0V933.9H470.5V933.2H471.0V933.0H471.5V931.2H472.0V930.8H472.5V930.5H473.0V928.8H473.5V929.3H474.0V930.6H474.5V931.4H475.0V933.0H475.5V933.7H476.0V933.9H476.5V934.1H477.0V934.3H477.5V934.5H478.0V934.3H478.5H479.0V934.5H479.5V934.6H480.0V934.4H480.5V934.6H481.0V934.4H481.5H482.0V934.5H482.5V934.3H483.0H483.5V934.4H484.0V934.5H484.5H485.0V934.3H485.5V934.2H486.0V934.0H486.5V933.4H487.0V932.8H487.5V930.7H488.0V929.7H488.5V930.3H489.0V929.8H489.5V929.5H490.0V926.9H490.5V922.0H491.0H491.5H492.0H492.5V922.8H493.0V928.2H493.5V931.6H494.0V933.9H494.5V934.3H495.0V934.5H495.5V934.3H496.0H496.5V934.5H497.0V934.3H497.5H498.0V934.5H498.5V934.3H499.0V934.1H499.5V933.1H500.0V933.0H500.5V931.6H501.0H501.5V930.9H502.0V930.9H502.5V930.3H503.0V930.1H503.5V930.7H504.0V933.1H504.5V933.9H505.0V934.2H505.5V934.3H506.0V934.4H506.5V934.3H507.0V934.5H507.5V934.3H508.0V934.5H508.5V934.6H509.0H509.5V934.4H510.0V934.3H510.5V933.9H511.0V933.2H511.5V932.5H512.0V931.3H512.5V931.5H513.0V932.9H513.5V933.9H514.0V934.1H514.5V934.4H515.0V934.3H515.5V934.5H516.0V934.3H516.5V934.5H517.0V934.6H517.5V934.3H518.0V934.5H518.5V934.4H519.0V934.6H519.5H520.0V934.5H520.5V934.0H521.0V933.2H521.5V932.4H522.0V931.6H522.5V932.2H523.0V933.4H523.5V934.0H524.0V931.9H524.5V930.0H525.0V932.1H525.5V934.3H526.0V934.5H526.5V934.3H527.0H527.5V934.4H528.0V934.3H528.5V934.5H529.0V934.5H529.5V934.3H530.0H530.5V934.4H531.0H531.5V934.3H532.0V934.4H532.5H533.0V934.5H533.5H534.0V934.3H534.5H535.0V934.5H535.5V934.4H536.0V934.3H536.5V934.4H537.0V934.3H537.5V934.4H538.0V934.5H538.5V934.3H539.0V934.5H539.5V934.3H540.0V934.5H540.5V934.4H541.0V934.5H541.5V934.4H542.0H542.5H543.0H543.5H544.0V934.6H544.5V934.3H545.0V934.5H545.5V934.6H546.0V934.4H546.5V934.5H547.0V934.3H547.5H548.0V934.0H548.5V933.7H549.0V932.3H549.5V931.7H550.0V932.4H550.5V933.3H551.0V934.3H551.5V934.3H552.0V934.5H552.5V934.4H553.0V934.4H553.5V934.4H554.0V934.4H554.5V934.5H555.0V934.6H555.5V934.3H556.0H556.5V934.5H557.0V934.6H557.5V934.5H558.0V934.4H558.5V934.2H559.0V933.1H559.5V931.7H560.0V931.4H560.5V932.2H561.0V933.5H561.5V933.9H562.0V934.2H562.5V934.4H563.0V934.5H563.5V934.4H564.0H564.5V934.5H565.0V934.3H565.5H566.0V934.4H566.5V934.6H567.0V934.4H567.5H568.0H568.5H569.0V934.4H569.5V934.6H570.0V934.4H570.5H571.0V934.6H571.5H572.0V934.5H572.5V934.4H573.0H573.5H574.0V934.5H574.5H575.0V934.5H575.5H576.0V934.2H576.5V933.7H577.0V931.8H577.5V929.6H578.0V931.0H578.5V933.3H579.0V934.2H579.5V934.6H580.0V934.3H580.5V934.6H581.0V934.4H581.5V934.3H582.0V934.4H582.5H583.0V934.5H583.5V934.3H584.0V934.5H584.5V934.3H585.0H585.5V934.6H586.0H586.5V934.3H587.0V933.5H587.5V931.1H588.0V930.4H588.5V931.4H589.0V933.5H589.5V934.2H590.0V934.4H590.5V934.3H591.0H591.5V934.4H592.0V934.3H592.5H593.0V933.7H593.5V933.2H594.0V932.7H594.5V933.2H595.0V934.0H595.5V934.4H596.0H596.5V934.5H597.0H597.5V934.6H598.0V934.3H598.5V934.5H599.0V934.4H599.5V934.5H600.0V934.4H600.5H601.0H601.5V934.6H602.0H602.5V934.4H603.0V934.4H603.5V934.3H604.0V934.5H604.5V934.2H605.0H605.5V933.3H606.0V931.8H606.5V930.5H607.0V931.7H607.5V933.3H608.0V934.2H608.5V934.4H609.0H609.5H610.0V934.5H610.5V934.0H611.0V932.6H611.5V927.0H612.0V928.0H612.5V931.2H613.0V934.2H613.5V934.3H614.0V934.5H614.5H615.0V934.5H615.5V934.6H616.0H616.5H617.0V934.5H617.5H618.0H618.5H619.0V931.1H619.5V922.1H620.0H620.5H621.0H621.5H622.0H622.5H623.0H623.5H624.0H624.5H625.0H625.5H626.0H626.5H627.0H627.5H628.0H628.5H629.0H629.5H630.0H630.5H631.0H631.5H632.0H632.5H633.0H633.5H634.0H634.5H635.0H635.5H636.0H636.5H637.0H637.5H638.0H638.5H639.0H639.5H640.0H640.5H641.0H641.5H642.0V927.2H642.5V934.5H643.0V932.9H643.5V925.8H644.0V922.0H644.5V923.8H645.0V933.2H645.5V934.3H646.0V934.5H646.5V934.4H647.0V933.6H647.5V931.8H648.0V925.8H648.5V922.0H649.0H649.5H650.0V924.5H650.5V930.9H651.0V932.1H651.5V931.2H652.0V927.2H652.5V927.1H653.0V929.6H653.5V932.8H654.0V932.4H654.5V931.2H655.0V930.5H655.5V931.2H656.0V932.7H656.5V934.0H657.0V934.4H657.5V934.5H658.0V934.4H658.5V934.5H659.0V934.6H659.5V934.3H660.0V934.5H660.5V934.5H661.0V934.4H661.5V934.4H662.0V934.3H662.5H663.0H663.5H664.0V934.5H664.5V934.1H665.0V932.8H665.5V928.9H666.0V925.9H666.5V929.5H667.0V933.2H667.5V934.2H668.0V934.6H668.5V934.5H669.0V934.4H669.5V934.5H670.0H670.5V934.0H671.0V933.9H671.5V933.1H672.0V932.2H672.5V931.2H673.0V931.3H673.5V931.6H674.0V931.9H674.5V933.2H675.0V933.4H675.5V933.6H676.0V932.0H676.5V930.2H677.0V927.8H677.5V929.7H678.0V932.5H678.5V934.1H679.0V934.4H679.5L679.0 935.4z" fill="#ffc000"/>
<text x="461.6" y="934.0" font-size="11.5" text-anchor="end" fill="#000" >H3K27ac</text>
<text x="471" y="941.5" font-size="4.8" fill="#444" textLength="13.5" lengthAdjust="spacingAndGlyphs">[0 - 5.63]</text>
<path d="M469.0 952.2V952.2H469.5H470.0H470.5H471.0H471.5H472.0H472.5H473.0H473.5H474.0V952.0H474.5V951.7H475.0V951.4H475.5V951.7H476.0V952.0H476.5V952.2H477.0H477.5H478.0H478.5H479.0H479.5H480.0H480.5H481.0H481.5H482.0H482.5H483.0H483.5H484.0H484.5H485.0V952.0H485.5V951.7H486.0V951.5H486.5V951.7H487.0V952.0H487.5V952.1H488.0V952.0H488.5V951.6H489.0V950.5H489.5V949.8H490.0V949.4H490.5V949.9H491.0V950.8H491.5V950.7H492.0V949.9H492.5V946.6H493.0V944.9H493.5V946.9H494.0V949.5H494.5V951.1H495.0V950.6H495.5V948.7H496.0V948.4H496.5V949.3H497.0V950.6H497.5V951.5H498.0V951.1H498.5V949.6H499.0V949.3H499.5V950.2H500.0V951.2H500.5V951.8H501.0V951.7H501.5V950.6H502.0V948.7H502.5V948.4H503.0V949.4H503.5V950.3H504.0V951.1H504.5V950.5H505.0V950.0H505.5V950.6H506.0V951.5H506.5V952.0H507.0V952.1H507.5V952.0H508.0V951.4H508.5V950.8H509.0V950.0H509.5V950.5H510.0V951.5H510.5V952.0H511.0V952.1H511.5V952.0H512.0V951.5H512.5V950.7H513.0V950.4H513.5V950.7H514.0V951.3H514.5H515.0V950.6H515.5V949.7H516.0V949.3H516.5V949.8H517.0V950.6H517.5V951.6H518.0V952.0H518.5V952.1H519.0V951.8H519.5V951.3H520.0H520.5V951.5H521.0V951.8H521.5V952.1H522.0V952.2H522.5H523.0H523.5H524.0H524.5V952.1H525.0V951.9H525.5V951.5H526.0V951.4H526.5V951.6H527.0V951.9H527.5V952.1H528.0V952.2H528.5H529.0H529.5H530.0H530.5H531.0H531.5H532.0H532.5V952.1H533.0V951.9H533.5V951.6H534.0V951.5H534.5V951.6H535.0V951.9H535.5V952.1H536.0V952.2H536.5H537.0H537.5H538.0H538.5H539.0H539.5V952.1H540.0V951.8H540.5V951.3H541.0V951.2H541.5V951.5H542.0V951.8H542.5V952.1H543.0V952.2H543.5H544.0H544.5H545.0H545.5H546.0H546.5V951.9H547.0V951.2H547.5V950.1H548.0V949.5H548.5V950.3H549.0V951.4H549.5V951.9H550.0V952.2H550.5H551.0H551.5V952.1H552.0V951.8H552.5V951.5H553.0V951.2H553.5V951.5H554.0V951.8H554.5V952.1H555.0V952.2H555.5H556.0H556.5H557.0H557.5H558.0H558.5H559.0H559.5H560.0H560.5V952.1H561.0V951.8H561.5V951.5H562.0V951.3H562.5V951.5H563.0V951.8H563.5V952.1H564.0V952.2H564.5H565.0H565.5H566.0H566.5H567.0H567.5H568.0H568.5H569.0H569.5H570.0H570.5H571.0H571.5H572.0H572.5H573.0H573.5H574.0H574.5H575.0H575.5H576.0H576.5H577.0H577.5H578.0H578.5H579.0H579.5H580.0H580.5H581.0H581.5H582.0H582.5H583.0H583.5H584.0H584.5H585.0H585.5H586.0H586.5H587.0H587.5H588.0H588.5H589.0H589.5H590.0H590.5H591.0H591.5H592.0H592.5H593.0H593.5H594.0H594.5H595.0H595.5H596.0H596.5H597.0H597.5H598.0H598.5H599.0H599.5H600.0H600.5H601.0H601.5H602.0H602.5H603.0H603.5H604.0V952.1H604.5V951.4H605.0V949.9H605.5V948.6H606.0V950.0H606.5V951.3H607.0V952.1H607.5V952.2H608.0H608.5H609.0H609.5H610.0H610.5H611.0H611.5H612.0H612.5H613.0H613.5H614.0H614.5H615.0H615.5H616.0H616.5H617.0H617.5H618.0H618.5H619.0V944.4H619.5V938.9H620.0H620.5H621.0H621.5H622.0H622.5H623.0H623.5H624.0H624.5H625.0H625.5H626.0H626.5H627.0H627.5H628.0H628.5H629.0H629.5H630.0H630.5H631.0H631.5H632.0H632.5H633.0H633.5H634.0H634.5H635.0H635.5H636.0H636.5H637.0H637.5H638.0H638.5H639.0H639.5H640.0H640.5H641.0H641.5H642.0H642.5H643.0H643.5H644.0H644.5H645.0H645.5H646.0H646.5H647.0H647.5H648.0H648.5H649.0H649.5H650.0H650.5V938.8H651.0H651.5H652.0V943.9H652.5V946.1H653.0V944.3H653.5V942.3H654.0V942.9H654.5V944.6H655.0V946.5H655.5V945.0H656.0V943.8H656.5V947.1H657.0V949.3H657.5V950.7H658.0V951.8H658.5V952.1H659.0V952.2H659.5V951.9H660.0V951.5H660.5V951.9H661.0V952.2H661.5H662.0H662.5H663.0H663.5H664.0H664.5H665.0H665.5H666.0H666.5H667.0H667.5H668.0H668.5H669.0H669.5H670.0H670.5H671.0H671.5H672.0H672.5H673.0H673.5H674.0H674.5H675.0H675.5V952.1H676.0V951.8H676.5V951.5H677.0V951.1H677.5V951.4H678.0V951.8H678.5V952.1H679.0V952.2H679.5L679.0 952.2z" fill="#16a02a"/>
<text x="461.6" y="952.2" font-size="11.5" text-anchor="end" fill="#000" >H3K4me3</text>
<line x1="469.00" y1="952.50" x2="679.00" y2="952.50" stroke="#e0e0e0" stroke-width="0.6" />
<rect x="469.00" y="956.80" width="147.40" height="5.10" fill="#c2c2c2" stroke="none" stroke-width="1" />
<rect x="616.40" y="956.80" width="2.30" height="5.10" fill="#7a7a7a" stroke="none" stroke-width="1" />
<rect x="618.70" y="956.80" width="2.30" height="5.10" fill="#ff0000" stroke="none" stroke-width="1" />
<rect x="621.00" y="956.80" width="4.60" height="5.10" fill="#e86464" stroke="none" stroke-width="1" />
<rect x="625.60" y="956.80" width="2.30" height="5.10" fill="#ff0000" stroke="none" stroke-width="1" />
<rect x="627.90" y="956.80" width="10.70" height="5.10" fill="#e86464" stroke="none" stroke-width="1" />
<rect x="638.60" y="956.80" width="4.60" height="5.10" fill="#ff0000" stroke="none" stroke-width="1" />
<rect x="643.20" y="956.80" width="12.30" height="5.10" fill="#e86464" stroke="none" stroke-width="1" />
<rect x="655.50" y="956.80" width="23.50" height="5.10" fill="#7c7c7c" stroke="none" stroke-width="1" />
<rect x="509.40" y="956.80" width="1.50" height="5.10" fill="#ffee00" stroke="none" stroke-width="1" />
<rect x="588.90" y="956.80" width="1.50" height="5.10" fill="#ffee00" stroke="none" stroke-width="1" />
<text x="460.8" y="965.4" font-size="11.5" text-anchor="end" fill="#000" >Adult kidney HMM</text>
<line x1="493.50" y1="585.50" x2="493.50" y2="964.50" stroke="#1c66ae" stroke-width="1.1" stroke-dasharray="3,1.9"/>
<line x1="623.20" y1="585.50" x2="623.20" y2="964.50" stroke="#1c66ae" stroke-width="1.1" stroke-dasharray="3,1.9"/>
<rect x="468.80" y="575.80" width="210.60" height="389.20" fill="none" stroke="#000" stroke-width="1.4" />
<text x="4.6" y="770.3" font-size="17.8" text-anchor="start" fill="#000" >e</text>
<text x="19.2" y="822.2" font-size="11.2" text-anchor="start" fill="#000" >sgRNA1</text>
<text x="114.0" y="822.2" font-size="11.2" text-anchor="start" fill="#000" >sgRNA2</text>
<line x1="16.60" y1="846.60" x2="146.90" y2="846.60" stroke="#8a8a8a" stroke-width="1.3" />
<path d="M61.5 846.4C69 846.4 71 840 74 830C77 818 79 815.5 82.3 815.5C85.6 815.5 87.6 818 90.6 830C93.6 840 95.6 846.4 102 846.4" fill="none" stroke="#222" stroke-width="0.9"/>
<path d="M77.9 847V837.6L80.6 840.2L83.4 837.6V847z" fill="#d2203c"/>
<text x="80.6" y="845.6" font-size="4.2" fill="#fff" text-anchor="middle">G</text>
<circle cx="37.8" cy="833.0" r="2.4" fill="none" stroke="#8a3aa8" stroke-width="1.1"/>
<path d="M39.4 835.2L50.6 852.2" stroke="#8a3aa8" stroke-width="1.3"/>
<circle cx="31.5" cy="844.4" r="2.4" fill="none" stroke="#c08ad0" stroke-width="1.1"/>
<path d="M33.9 843.8L45 843.6L54.9 845.4" stroke="#c08ad0" stroke-width="1.2" fill="none"/>
<circle cx="123.9" cy="833.5" r="2.3" fill="none" stroke="#6d8fe0" stroke-width="1.1"/>
<path d="M123.2 835.8L114.7 854.3" stroke="#6d8fe0" stroke-width="1.2"/>
<circle cx="132.2" cy="844.4" r="2.4" fill="none" stroke="#1e2870" stroke-width="1.2"/>
<path d="M129.8 844.2L118 845.4L108.5 847.2" stroke="#1e2870" stroke-width="1.3" fill="none"/>
<text x="7.9" y="876.0" font-size="11.4" text-anchor="start" fill="#000" >RPTEC</text>
<text x="90.6" y="880.3" font-size="11.6" text-anchor="start" fill="#000" >Cas9+sgRNA</text>
<circle cx="23.9" cy="889.3" r="6.8" fill="#cdeef6" stroke="#9dd5e6" stroke-width="0.7"/>
<circle cx="23.9" cy="889.3" r="3.2" fill="#92d8e8"/>
<circle cx="36.7" cy="887.9" r="6.8" fill="#cdeef6" stroke="#9dd5e6" stroke-width="0.7"/>
<circle cx="36.7" cy="887.9" r="3.2" fill="#92d8e8"/>
<circle cx="16.6" cy="900.1" r="6.8" fill="#cdeef6" stroke="#9dd5e6" stroke-width="0.7"/>
<circle cx="16.6" cy="900.1" r="3.2" fill="#92d8e8"/>
<circle cx="30.5" cy="899.3" r="6.8" fill="#cdeef6" stroke="#9dd5e6" stroke-width="0.7"/>
<circle cx="30.5" cy="899.3" r="3.2" fill="#92d8e8"/>
<circle cx="44.8" cy="900.1" r="6.8" fill="#cdeef6" stroke="#9dd5e6" stroke-width="0.7"/>
<circle cx="44.8" cy="900.1" r="3.2" fill="#92d8e8"/>
<circle cx="24.7" cy="909.8" r="6.8" fill="#cdeef6" stroke="#9dd5e6" stroke-width="0.7"/>
<circle cx="24.7" cy="909.8" r="3.2" fill="#92d8e8"/>
<circle cx="37.1" cy="909.4" r="6.8" fill="#cdeef6" stroke="#9dd5e6" stroke-width="0.7"/>
<circle cx="37.1" cy="909.4" r="3.2" fill="#92d8e8"/>
<circle cx="129.6" cy="892.3" r="6.6" fill="#cdeef6" stroke="#9dd5e6" stroke-width="0.7"/>
<ellipse cx="129.6" cy="892.3" rx="3.6" ry="2.6" fill="#a4e0ec"/>
<text x="129.6" y="893.3" font-size="2.6" fill="#15305a" text-anchor="middle">TeTu</text>
<circle cx="141.8" cy="892.0" r="6.6" fill="#cdeef6" stroke="#9dd5e6" stroke-width="0.7"/>
<ellipse cx="141.8" cy="892.0" rx="3.6" ry="2.6" fill="#a4e0ec"/>
<text x="141.8" y="893.0" font-size="2.6" fill="#15305a" text-anchor="middle">TeTu</text>
<circle cx="123.3" cy="903.3" r="6.6" fill="#cdeef6" stroke="#9dd5e6" stroke-width="0.7"/>
<ellipse cx="123.3" cy="903.3" rx="3.6" ry="2.6" fill="#a4e0ec"/>
<text x="123.3" y="904.3" font-size="2.6" fill="#15305a" text-anchor="middle">TeTu</text>
<circle cx="136.6" cy="903.3" r="6.6" fill="#cdeef6" stroke="#9dd5e6" stroke-width="0.7"/>
<ellipse cx="136.6" cy="903.3" rx="3.6" ry="2.6" fill="#a4e0ec"/>
<text x="136.6" y="904.3" font-size="2.6" fill="#15305a" text-anchor="middle">TeTu</text>
<circle cx="150.3" cy="903.3" r="6.6" fill="#cdeef6" stroke="#9dd5e6" stroke-width="0.7"/>
<ellipse cx="150.3" cy="903.3" rx="3.6" ry="2.6" fill="#a4e0ec"/>
<text x="150.3" y="904.3" font-size="2.6" fill="#15305a" text-anchor="middle">TeTu</text>
<circle cx="130.0" cy="914.2" r="6.6" fill="#cdeef6" stroke="#9dd5e6" stroke-width="0.7"/>
<ellipse cx="130.0" cy="914.2" rx="3.6" ry="2.6" fill="#a4e0ec"/>
<text x="130.0" y="915.2" font-size="2.6" fill="#15305a" text-anchor="middle">TeTu</text>
<circle cx="143.4" cy="914.2" r="6.6" fill="#cdeef6" stroke="#9dd5e6" stroke-width="0.7"/>
<ellipse cx="143.4" cy="914.2" rx="3.6" ry="2.6" fill="#a4e0ec"/>
<text x="143.4" y="915.2" font-size="2.6" fill="#15305a" text-anchor="middle">TeTu</text>
<line x1="59.00" y1="900.70" x2="110.50" y2="900.70" stroke="#444" stroke-width="1.0" />
<path d="M112.0 900.7l-3.4 -1.6v3.2z" fill="#333"/>
<path d="M73.3 888.8C74.5 893 76.5 898 79.8 900.6" fill="none" stroke="#333" stroke-width="0.8"/>
<path d="M60.2 884.5C59.5 880.5 63 878.6 67 878.4C70.5 878.2 72.5 877 74 873C75.5 869.5 78.5 868.6 81 869C84 869.6 85 873 84.6 877.5C84.2 882.5 81.5 886.5 76.5 888.2C71.5 889.6 64 889.2 61.5 887.2C60.7 886.5 60.3 885.5 60.2 884.5z" fill="#3b6db5"/>
<path d="M62.2 885V874.2Q62.2 872.4 64 872.4Q65.8 872.4 65.8 874.2V882Q65.8 883.2 67 883.2Q68.2 883.2 68.2 882V873.2Q68.2 871.8 69.6 871.8Q71 871.8 71 873.2V886Q71 887 72 887Q73.5 887 73.5 886V870.5Q73.5 868.6 75.5 868.6Q77.5 868.6 77.5 870.5V886.5Q77.5 887.2 78.5 887.2Q79.5 887.2 79.5 886.5V869.8" fill="none" stroke="#e27ad0" stroke-width="0.75"/>
<line x1="226.40" y1="807.50" x2="226.40" y2="904.20" stroke="#222" stroke-width="1.2" />
<line x1="225.80" y1="903.70" x2="295.60" y2="903.70" stroke="#222" stroke-width="1.2" />
<line x1="261.50" y1="903.70" x2="261.50" y2="907.60" stroke="#222" stroke-width="1.0" />
<line x1="222.80" y1="903.70" x2="226.40" y2="903.70" stroke="#222" stroke-width="1.0" />
<text x="218.2" y="907.7" font-size="11.5" text-anchor="end" fill="#000" >0.0</text>
<line x1="222.80" y1="871.85" x2="226.40" y2="871.85" stroke="#222" stroke-width="1.0" />
<text x="218.2" y="875.9" font-size="11.5" text-anchor="end" fill="#000" >0.5</text>
<line x1="222.80" y1="840.00" x2="226.40" y2="840.00" stroke="#222" stroke-width="1.0" />
<text x="218.2" y="844.0" font-size="11.5" text-anchor="end" fill="#000" >1.0</text>
<line x1="222.80" y1="808.15" x2="226.40" y2="808.15" stroke="#222" stroke-width="1.0" />
<text x="218.2" y="812.2" font-size="11.5" text-anchor="end" fill="#000" >1.5</text>
<text transform="translate(193.7,865.0) rotate(-90)" font-size="11.5" text-anchor="middle">Relative transcript</text>
<rect x="232.20" y="840.00" width="10.50" height="63.70" fill="#fff" stroke="#222" stroke-width="1.0" />
<line x1="237.45" y1="836.18" x2="237.45" y2="843.82" stroke="#222" stroke-width="1.0" />
<line x1="234.95" y1="836.18" x2="239.95" y2="836.18" stroke="#222" stroke-width="1.0" />
<line x1="234.95" y1="843.82" x2="239.95" y2="843.82" stroke="#222" stroke-width="1.0" />
<rect x="236.10" y="830.80" width="2.80" height="2.80" fill="#1010ff" stroke="none" stroke-width="1" />
<rect x="232.00" y="842.00" width="2.80" height="2.80" fill="#1010ff" stroke="none" stroke-width="1" />
<rect x="239.90" y="842.00" width="2.80" height="2.80" fill="#1010ff" stroke="none" stroke-width="1" />
<rect x="248.30" y="838.09" width="10.50" height="65.61" fill="#fff" stroke="#222" stroke-width="1.0" />
<line x1="253.55" y1="827.90" x2="253.55" y2="848.28" stroke="#222" stroke-width="1.0" />
<line x1="251.05" y1="827.90" x2="256.05" y2="827.90" stroke="#222" stroke-width="1.0" />
<line x1="251.05" y1="848.28" x2="256.05" y2="848.28" stroke="#222" stroke-width="1.0" />
<rect x="252.20" y="817.10" width="2.80" height="2.80" fill="#ff1010" stroke="none" stroke-width="1" />
<rect x="252.20" y="844.30" width="2.80" height="2.80" fill="#ff1010" stroke="none" stroke-width="1" />
<rect x="252.20" y="849.70" width="2.80" height="2.80" fill="#ff1010" stroke="none" stroke-width="1" />
<rect x="264.10" y="865.48" width="10.50" height="38.22" fill="#fff" stroke="#222" stroke-width="1.0" />
<line x1="269.35" y1="859.11" x2="269.35" y2="871.21" stroke="#222" stroke-width="1.0" />
<line x1="266.85" y1="859.11" x2="271.85" y2="859.11" stroke="#222" stroke-width="1.0" />
<line x1="266.85" y1="871.21" x2="271.85" y2="871.21" stroke="#222" stroke-width="1.0" />
<rect x="267.90" y="856.20" width="2.80" height="2.80" fill="#10c010" stroke="none" stroke-width="1" />
<rect x="267.90" y="859.70" width="2.80" height="2.80" fill="#10c010" stroke="none" stroke-width="1" />
<rect x="267.90" y="875.80" width="2.80" height="2.80" fill="#10c010" stroke="none" stroke-width="1" />
<rect x="280.20" y="875.04" width="10.50" height="28.66" fill="#fff" stroke="#222" stroke-width="1.0" />
<line x1="285.45" y1="871.85" x2="285.45" y2="877.58" stroke="#222" stroke-width="1.0" />
<line x1="282.95" y1="871.85" x2="287.95" y2="871.85" stroke="#222" stroke-width="1.0" />
<line x1="282.95" y1="877.58" x2="287.95" y2="877.58" stroke="#222" stroke-width="1.0" />
<rect x="283.70" y="868.10" width="2.80" height="2.80" fill="#a030e0" stroke="none" stroke-width="1" />
<rect x="279.90" y="876.70" width="2.80" height="2.80" fill="#a030e0" stroke="none" stroke-width="1" />
<rect x="287.60" y="876.70" width="2.80" height="2.80" fill="#a030e0" stroke="none" stroke-width="1" />
<text x="246.9" y="786.7" font-size="11.3" text-anchor="start" fill="#000" >P=0.0104</text>
<line x1="253.60" y1="790.20" x2="285.50" y2="790.20" stroke="#222" stroke-width="0.8" />
<text x="244.8" y="806.9" font-size="11.3" text-anchor="start" fill="#000" >P= 0.0484</text>
<line x1="253.60" y1="806.60" x2="269.30" y2="806.60" stroke="#222" stroke-width="0.8" />
<text x="250.8" y="924.0" font-size="11.5" text-anchor="start" fill="#000" >TET2</text>
<rect x="301.20" y="833.20" width="2.80" height="2.80" fill="#1010ff" stroke="none" stroke-width="1" />
<text x="311.1" y="838.9" font-size="11.5" text-anchor="start" fill="#000" >Vector</text>
<rect x="301.20" y="850.70" width="2.80" height="2.80" fill="#ff1010" stroke="none" stroke-width="1" />
<text x="311.1" y="856.4" font-size="11.5" text-anchor="start" fill="#000" >Non-targeting</text>
<rect x="301.20" y="869.00" width="2.80" height="2.80" fill="#10c010" stroke="none" stroke-width="1" />
<text x="311.1" y="874.7" font-size="11.5" text-anchor="start" fill="#000" >rs1541374</text>
<rect x="301.20" y="886.50" width="2.80" height="2.80" fill="#a030e0" stroke="none" stroke-width="1" />
<text x="311.1" y="892.2" font-size="11.5" text-anchor="start" fill="#000" >rs7661349</text>
</svg></body></html>
